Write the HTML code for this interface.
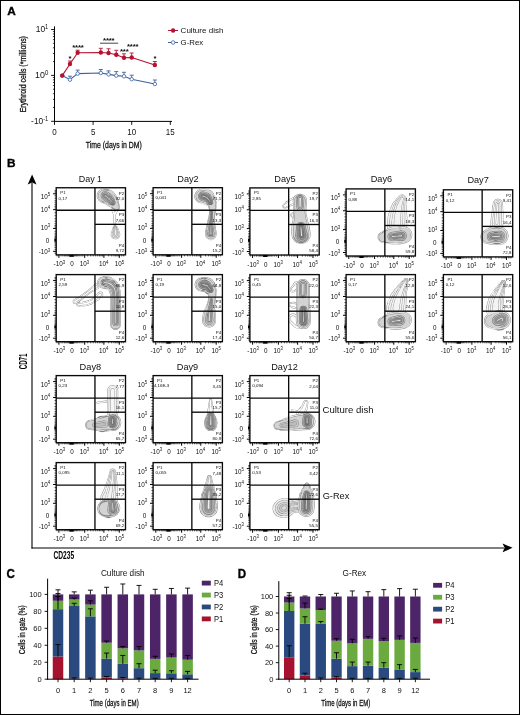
<!DOCTYPE html>
<html lang="en"><head><meta charset="utf-8"><title>Figure</title>
<style>
html,body{margin:0;padding:0;background:#fff}
#fig{position:relative;width:518px;height:713px;border:1px solid #000;overflow:hidden;background:#fff}
svg{position:absolute;left:-1px;top:-1px;font-family:'Liberation Sans', Arial, Helvetica, sans-serif;fill:#111}
</style></head><body>
<div id="fig">
<svg width="520" height="715" viewBox="0 0 520 715">
<text x="7.3" y="15.4" font-size="11.8" font-weight="bold" fill="#000" stroke="#000" stroke-width="0.35">A</text>
<text x="6.9" y="167.1" font-size="11.8" font-weight="bold" fill="#000" stroke="#000" stroke-width="0.35">B</text>
<text x="6.6" y="577.7" font-size="12.3" font-weight="bold" textLength="8.4" lengthAdjust="spacingAndGlyphs" fill="#000" stroke="#000" stroke-width="0.35">C</text>
<text x="237.7" y="577.9" font-size="12.3" font-weight="bold" textLength="8.4" lengthAdjust="spacingAndGlyphs" fill="#000" stroke="#000" stroke-width="0.35">D</text>
<line x1="54.5" y1="26.4" x2="54.5" y2="121.9" stroke="#000" stroke-width="1"/>
<line x1="54" y1="121.4" x2="172" y2="121.4" stroke="#000" stroke-width="1"/>
<line x1="51.1" y1="29.5" x2="54.5" y2="29.5" stroke="#000" stroke-width="0.9"/>
<line x1="51.1" y1="75.4" x2="54.5" y2="75.4" stroke="#000" stroke-width="0.9"/>
<line x1="51.1" y1="121.3" x2="54.5" y2="121.3" stroke="#000" stroke-width="0.9"/>
<line x1="52.9" y1="61.58" x2="54.5" y2="61.58" stroke="#000" stroke-width="0.75"/>
<line x1="52.9" y1="53.5" x2="54.5" y2="53.5" stroke="#000" stroke-width="0.75"/>
<line x1="52.9" y1="47.77" x2="54.5" y2="47.77" stroke="#000" stroke-width="0.75"/>
<line x1="52.9" y1="43.32" x2="54.5" y2="43.32" stroke="#000" stroke-width="0.75"/>
<line x1="52.9" y1="39.68" x2="54.5" y2="39.68" stroke="#000" stroke-width="0.75"/>
<line x1="52.9" y1="36.61" x2="54.5" y2="36.61" stroke="#000" stroke-width="0.75"/>
<line x1="52.9" y1="33.95" x2="54.5" y2="33.95" stroke="#000" stroke-width="0.75"/>
<line x1="52.9" y1="31.6" x2="54.5" y2="31.6" stroke="#000" stroke-width="0.75"/>
<line x1="52.9" y1="107.48" x2="54.5" y2="107.48" stroke="#000" stroke-width="0.75"/>
<line x1="52.9" y1="99.4" x2="54.5" y2="99.4" stroke="#000" stroke-width="0.75"/>
<line x1="52.9" y1="93.67" x2="54.5" y2="93.67" stroke="#000" stroke-width="0.75"/>
<line x1="52.9" y1="89.22" x2="54.5" y2="89.22" stroke="#000" stroke-width="0.75"/>
<line x1="52.9" y1="85.58" x2="54.5" y2="85.58" stroke="#000" stroke-width="0.75"/>
<line x1="52.9" y1="82.51" x2="54.5" y2="82.51" stroke="#000" stroke-width="0.75"/>
<line x1="52.9" y1="79.85" x2="54.5" y2="79.85" stroke="#000" stroke-width="0.75"/>
<line x1="52.9" y1="77.5" x2="54.5" y2="77.5" stroke="#000" stroke-width="0.75"/>
<text x="48.3" y="31.9" font-size="9.3" text-anchor="end" textLength="12.6" lengthAdjust="spacingAndGlyphs">10<tspan font-size="6.32" dy="-2.7">1</tspan></text>
<text x="48.3" y="77.9" font-size="9.3" text-anchor="end" textLength="13.2" lengthAdjust="spacingAndGlyphs">10<tspan font-size="6.32" dy="-2.7">0</tspan></text>
<text x="48.3" y="123.9" font-size="9.3" text-anchor="end" textLength="17.2" lengthAdjust="spacingAndGlyphs">-10<tspan font-size="6.32" dy="-2.7">-1</tspan></text>
<line x1="54.5" y1="121.4" x2="54.5" y2="124.9" stroke="#000" stroke-width="0.9"/>
<text x="54.5" y="135.1" font-size="9.3" text-anchor="middle" textLength="4.45" lengthAdjust="spacingAndGlyphs">0</text>
<line x1="93.1" y1="121.4" x2="93.1" y2="124.9" stroke="#000" stroke-width="0.9"/>
<text x="93.1" y="135.1" font-size="9.3" text-anchor="middle" textLength="4.45" lengthAdjust="spacingAndGlyphs">5</text>
<line x1="131.7" y1="121.4" x2="131.7" y2="124.9" stroke="#000" stroke-width="0.9"/>
<text x="131.7" y="135.1" font-size="9.3" text-anchor="middle" textLength="8.9" lengthAdjust="spacingAndGlyphs">10</text>
<line x1="170.3" y1="121.4" x2="170.3" y2="124.9" stroke="#000" stroke-width="0.9"/>
<text x="170.3" y="135.1" font-size="9.3" text-anchor="middle" textLength="8.9" lengthAdjust="spacingAndGlyphs">15</text>
<text x="26.3" y="74.2" font-size="9.1" text-anchor="middle" textLength="76.3" lengthAdjust="spacingAndGlyphs" transform="rotate(-90 26.3 74.2)" stroke="#111" stroke-width="0.28">Erythroid cells (*millions)</text>
<text x="113.8" y="147.9" font-size="9.1" text-anchor="middle" textLength="56" lengthAdjust="spacingAndGlyphs" stroke="#111" stroke-width="0.28">Time (days in DM)</text>
<polyline points="62.22,75.6 69.94,79.7 77.66,73.6 100.82,73 108.54,74.4 116.26,75.6 123.98,76.3 131.7,79.2 154.86,84" fill="none" stroke="#3b62a0" stroke-width="1.1"/>
<line x1="69.94" y1="79.7" x2="69.94" y2="76.2" stroke="#3b62a0" stroke-width="0.9"/>
<line x1="67.94" y1="76.2" x2="71.94" y2="76.2" stroke="#3b62a0" stroke-width="0.9"/>
<line x1="77.66" y1="73.6" x2="77.66" y2="70.1" stroke="#3b62a0" stroke-width="0.9"/>
<line x1="75.66" y1="70.1" x2="79.66" y2="70.1" stroke="#3b62a0" stroke-width="0.9"/>
<line x1="100.82" y1="73" x2="100.82" y2="69.5" stroke="#3b62a0" stroke-width="0.9"/>
<line x1="98.82" y1="69.5" x2="102.82" y2="69.5" stroke="#3b62a0" stroke-width="0.9"/>
<line x1="108.54" y1="74.4" x2="108.54" y2="70.9" stroke="#3b62a0" stroke-width="0.9"/>
<line x1="106.54" y1="70.9" x2="110.54" y2="70.9" stroke="#3b62a0" stroke-width="0.9"/>
<line x1="116.26" y1="75.6" x2="116.26" y2="71.6" stroke="#3b62a0" stroke-width="0.9"/>
<line x1="114.26" y1="71.6" x2="118.26" y2="71.6" stroke="#3b62a0" stroke-width="0.9"/>
<line x1="123.98" y1="76.3" x2="123.98" y2="72.3" stroke="#3b62a0" stroke-width="0.9"/>
<line x1="121.98" y1="72.3" x2="125.98" y2="72.3" stroke="#3b62a0" stroke-width="0.9"/>
<line x1="131.7" y1="79.2" x2="131.7" y2="75.2" stroke="#3b62a0" stroke-width="0.9"/>
<line x1="129.7" y1="75.2" x2="133.7" y2="75.2" stroke="#3b62a0" stroke-width="0.9"/>
<line x1="154.86" y1="84" x2="154.86" y2="80" stroke="#3b62a0" stroke-width="0.9"/>
<line x1="152.86" y1="80" x2="156.86" y2="80" stroke="#3b62a0" stroke-width="0.9"/>
<circle cx="62.22" cy="75.6" r="1.75" fill="#fff" stroke="#3b62a0" stroke-width="0.8"/>
<circle cx="69.94" cy="79.7" r="1.75" fill="#fff" stroke="#3b62a0" stroke-width="0.8"/>
<circle cx="77.66" cy="73.6" r="1.75" fill="#fff" stroke="#3b62a0" stroke-width="0.8"/>
<circle cx="100.82" cy="73" r="1.75" fill="#fff" stroke="#3b62a0" stroke-width="0.8"/>
<circle cx="108.54" cy="74.4" r="1.75" fill="#fff" stroke="#3b62a0" stroke-width="0.8"/>
<circle cx="116.26" cy="75.6" r="1.75" fill="#fff" stroke="#3b62a0" stroke-width="0.8"/>
<circle cx="123.98" cy="76.3" r="1.75" fill="#fff" stroke="#3b62a0" stroke-width="0.8"/>
<circle cx="131.7" cy="79.2" r="1.75" fill="#fff" stroke="#3b62a0" stroke-width="0.8"/>
<circle cx="154.86" cy="84" r="1.75" fill="#fff" stroke="#3b62a0" stroke-width="0.8"/>
<polyline points="62.22,75.6 69.94,64 77.66,52.7 100.82,52.5 108.54,53 116.26,54.8 123.98,57.8 131.7,57.5 154.86,65" fill="none" stroke="#b5122f" stroke-width="1.1"/>
<line x1="69.94" y1="64" x2="69.94" y2="61" stroke="#b5122f" stroke-width="0.9"/>
<line x1="67.94" y1="61" x2="71.94" y2="61" stroke="#b5122f" stroke-width="0.9"/>
<line x1="77.66" y1="52.7" x2="77.66" y2="50.2" stroke="#b5122f" stroke-width="0.9"/>
<line x1="75.66" y1="50.2" x2="79.66" y2="50.2" stroke="#b5122f" stroke-width="0.9"/>
<line x1="100.82" y1="52.5" x2="100.82" y2="48.3" stroke="#b5122f" stroke-width="0.9"/>
<line x1="98.82" y1="48.3" x2="102.82" y2="48.3" stroke="#b5122f" stroke-width="0.9"/>
<line x1="108.54" y1="53" x2="108.54" y2="48.8" stroke="#b5122f" stroke-width="0.9"/>
<line x1="106.54" y1="48.8" x2="110.54" y2="48.8" stroke="#b5122f" stroke-width="0.9"/>
<line x1="116.26" y1="54.8" x2="116.26" y2="50.3" stroke="#b5122f" stroke-width="0.9"/>
<line x1="114.26" y1="50.3" x2="118.26" y2="50.3" stroke="#b5122f" stroke-width="0.9"/>
<line x1="123.98" y1="57.8" x2="123.98" y2="53.8" stroke="#b5122f" stroke-width="0.9"/>
<line x1="121.98" y1="53.8" x2="125.98" y2="53.8" stroke="#b5122f" stroke-width="0.9"/>
<line x1="131.7" y1="57.5" x2="131.7" y2="53" stroke="#b5122f" stroke-width="0.9"/>
<line x1="129.7" y1="53" x2="133.7" y2="53" stroke="#b5122f" stroke-width="0.9"/>
<line x1="154.86" y1="65" x2="154.86" y2="61.5" stroke="#b5122f" stroke-width="0.9"/>
<line x1="152.86" y1="61.5" x2="156.86" y2="61.5" stroke="#b5122f" stroke-width="0.9"/>
<circle cx="62.22" cy="75.6" r="2.2" fill="#b5122f"/>
<circle cx="69.94" cy="64" r="2.2" fill="#b5122f"/>
<circle cx="77.66" cy="52.7" r="2.2" fill="#b5122f"/>
<circle cx="100.82" cy="52.5" r="2.2" fill="#b5122f"/>
<circle cx="108.54" cy="53" r="2.2" fill="#b5122f"/>
<circle cx="116.26" cy="54.8" r="2.2" fill="#b5122f"/>
<circle cx="123.98" cy="57.8" r="2.2" fill="#b5122f"/>
<circle cx="131.7" cy="57.5" r="2.2" fill="#b5122f"/>
<circle cx="154.86" cy="65" r="2.2" fill="#b5122f"/>
<text x="69.94" y="60.7" font-size="7.8" text-anchor="middle" font-weight="bold" fill="#0d0d0d" letter-spacing="-0.2">*</text>
<text x="77.96" y="49.5" font-size="7.8" text-anchor="middle" font-weight="bold" fill="#0d0d0d" letter-spacing="-0.2">****</text>
<text x="108.74" y="42.6" font-size="7.8" text-anchor="middle" font-weight="bold" fill="#0d0d0d" letter-spacing="-0.2">****</text>
<line x1="100" y1="43.2" x2="118.2" y2="43.2" stroke="#333" stroke-width="0.9"/>
<text x="124.28" y="53.8" font-size="7.8" text-anchor="middle" font-weight="bold" fill="#0d0d0d" letter-spacing="-0.2">***</text>
<text x="132.7" y="49" font-size="7.8" text-anchor="middle" font-weight="bold" fill="#0d0d0d" letter-spacing="-0.2">****</text>
<text x="154.86" y="60.8" font-size="7.8" text-anchor="middle" font-weight="bold" fill="#0d0d0d" letter-spacing="-0.2">*</text>
<line x1="168" y1="30.5" x2="178" y2="30.5" stroke="#b5122f" stroke-width="1"/>
<circle cx="173.1" cy="30.5" r="2.2" fill="#b5122f"/>
<line x1="168" y1="42.5" x2="178" y2="42.5" stroke="#3b62a0" stroke-width="1"/>
<circle cx="173.1" cy="42.5" r="1.8" fill="#fff" stroke="#3b62a0" stroke-width="0.8"/>
<text x="180.6" y="33.3" font-size="8.1" textLength="42.8" lengthAdjust="spacingAndGlyphs">Culture dish</text>
<text x="180.6" y="45.1" font-size="8.1" textLength="22.6" lengthAdjust="spacingAndGlyphs">G-Rex</text>
<line x1="32" y1="183" x2="32" y2="548.5" stroke="#000" stroke-width="1.1"/>
<path d="M32.1 174.6 L36.5 184.6 L32.1 182.6 L27.7 184.6 Z" fill="#000"/>
<line x1="31.5" y1="548" x2="504" y2="548" stroke="#000" stroke-width="1.1"/>
<path d="M512.6 547.8 L502.6 552.2 L504.6 547.8 L502.6 543.4 Z" fill="#000"/>
<text x="26.8" y="361.4" font-size="10.2" text-anchor="middle" font-weight="bold" textLength="15.7" lengthAdjust="spacingAndGlyphs" transform="rotate(-90 26.8 361.4)" fill="#000">CD71</text>
<text x="53.4" y="559" font-size="10" font-weight="bold" textLength="20.8" lengthAdjust="spacingAndGlyphs" fill="#000">CD235</text>
<text x="322.5" y="412.5" font-size="9.9" textLength="51" lengthAdjust="spacingAndGlyphs">Culture dish</text>
<text x="322.7" y="499.2" font-size="9.9" textLength="26.6" lengthAdjust="spacingAndGlyphs">G-Rex</text>
<g transform="translate(56.2 187.75)">
<path d="M54.8 22a1.2 1.2 0 1 1 2.4 0a1.2 1.2 0 1 1 -2.4 0zM55.9 24a1.3 1.3 0 1 1 2.5 0a1.3 1.3 0 1 1 -2.5 0zM57 27a1.3 1.3 0 1 1 2.6 0a1.3 1.3 0 1 1 -2.6 0zM57.2 31.3a1.3 1.3 0 1 1 2.6 0a1.3 1.3 0 1 1 -2.6 0zM57.1 35a1.3 1.3 0 1 1 2.6 0a1.3 1.3 0 1 1 -2.6 0zM57 21.4L58.2 23.4L56.1 24.6L55 22.6zM58.3 23.6L59.5 26.5L57.1 27.5L56 24.4zM59.6 26.9L59.8 31.3L57.2 31.4L57 27.1zM59.8 31.3L59.7 35L57.1 35L57.2 31.3zM60 22a1 1 0 1 1 2 0a1 1 0 1 1 -2 0zM58.5 24.5a1.1 1.1 0 1 1 2.3 0a1.1 1.1 0 1 1 -2.3 0zM57 27a1.3 1.3 0 1 1 2.6 0a1.3 1.3 0 1 1 -2.6 0zM61.9 22.5L60.7 25L58.6 24L60.1 21.5zM60.7 25L59.4 27.6L57.2 26.4L58.6 24z" fill="#8c8c8c"/>
<path d="M55.2 22a0.8 0.8 0 1 1 1.6 0a0.8 0.8 0 1 1 -1.6 0zM56.3 24a0.9 0.9 0 1 1 1.7 0a0.9 0.9 0 1 1 -1.7 0zM57.4 27a0.9 0.9 0 1 1 1.8 0a0.9 0.9 0 1 1 -1.8 0zM57.6 31.3a0.9 0.9 0 1 1 1.9 0a0.9 0.9 0 1 1 -1.9 0zM57.5 35a0.9 0.9 0 1 1 1.8 0a0.9 0.9 0 1 1 -1.8 0zM56.7 21.6L57.9 23.6L56.4 24.4L55.3 22.4zM58 23.7L59.2 26.7L57.4 27.3L56.3 24.3zM59.2 27L59.4 31.3L57.6 31.4L57.4 27zM59.4 31.3L59.3 35L57.5 35L57.6 31.3zM60.4 22a0.6 0.6 0 1 1 1.2 0a0.6 0.6 0 1 1 -1.2 0zM58.9 24.5a0.8 0.8 0 1 1 1.5 0a0.8 0.8 0 1 1 -1.5 0zM57.4 27a0.9 0.9 0 1 1 1.8 0a0.9 0.9 0 1 1 -1.8 0zM61.5 22.3L60.3 24.9L59 24.1L60.5 21.7zM60.3 24.9L59.1 27.4L57.5 26.6L59 24.1z" fill="#fff"/>
<path d="M40.5 8a7 7 0 1 1 14 0a7 7 0 1 1 -14 0zM42.1 8.5a7.4 7.4 0 1 1 14.8 0a7.4 7.4 0 1 1 -14.8 0zM44.4 9.5a7.6 7.6 0 1 1 15.2 0a7.6 7.6 0 1 1 -15.2 0zM47.3 11.5a7 7 0 1 1 14 0a7 7 0 1 1 -14 0zM50.5 14a6 6 0 1 1 12 0a6 6 0 1 1 -12 0zM54 17a4.6 4.6 0 1 1 9.2 0a4.6 4.6 0 1 1 -9.2 0zM56.8 19.5a3.4 3.4 0 1 1 6.8 0a3.4 3.4 0 1 1 -6.8 0zM49.1 1.2L51.2 1.3L47.8 15.7L45.9 14.8zM52.3 1.6L54.9 2.5L49.1 16.5L46.7 15.3zM57 3.8L58.9 6.2L49.7 16.8L47 15.2zM59.6 6.9L61 10L52 18L49 16.1zM61.4 10.5L62.4 14.4L54.9 19.7L51.6 17.5zM62.5 14.6L63.1 17.7L57.3 21.3L54.7 19.5z" fill="#808080"/>
<path d="M40.9 8a6.6 6.6 0 1 1 13.3 0a6.6 6.6 0 1 1 -13.3 0zM42.4 8.5a7 7 0 1 1 14.1 0a7 7 0 1 1 -14.1 0zM44.8 9.5a7.2 7.2 0 1 1 14.5 0a7.2 7.2 0 1 1 -14.5 0zM47.7 11.5a6.6 6.6 0 1 1 13.3 0a6.6 6.6 0 1 1 -13.3 0zM50.9 14a5.6 5.6 0 1 1 11.3 0a5.6 5.6 0 1 1 -11.3 0zM54.4 17a4.2 4.2 0 1 1 8.5 0a4.2 4.2 0 1 1 -8.5 0zM57.2 19.5a3 3 0 1 1 6.1 0a3 3 0 1 1 -6.1 0zM49 1.5L51.1 1.6L47.8 15.3L46 14.5zM52.1 1.9L54.7 2.8L49.3 16.2L46.8 15zM56.8 4L58.7 6.5L49.9 16.5L47.2 15zM59.3 7.1L60.7 10.3L52.3 17.7L49.3 15.9zM61.1 10.8L62.1 14.6L55.2 19.5L51.9 17.2zM62.2 14.8L62.8 17.9L57.6 21.1L55.1 19.3z" fill="#e6e6e6"/>
<path d="M41.8 8a5.7 5.7 0 1 1 11.5 0a5.7 5.7 0 1 1 -11.5 0zM43.4 8.5a6.1 6.1 0 1 1 12.1 0a6.1 6.1 0 1 1 -12.1 0zM45.8 9.5a6.2 6.2 0 1 1 12.5 0a6.2 6.2 0 1 1 -12.5 0zM48.6 11.5a5.7 5.7 0 1 1 11.5 0a5.7 5.7 0 1 1 -11.5 0zM51.6 14a4.9 4.9 0 1 1 9.8 0a4.9 4.9 0 1 1 -9.8 0zM54.9 17a3.8 3.8 0 1 1 7.5 0a3.8 3.8 0 1 1 -7.5 0zM57.4 19.5a2.8 2.8 0 1 1 5.6 0a2.8 2.8 0 1 1 -5.6 0zM48.8 2.4L50.9 2.6L48.1 14.4L46.2 13.6zM51.8 2.8L54.4 3.7L49.6 15.3L47.2 14.1zM56.1 4.8L58.1 7.2L50.5 15.8L47.9 14.2zM58.6 7.7L60.2 10.7L52.8 17.3L50 15.3zM60.5 11.2L61.7 14.9L55.5 19.2L52.5 16.8zM61.8 15L62.6 18L57.8 21L55.4 19.1z" fill="#808080"/>
<path d="M42.1 8a5.4 5.4 0 1 1 10.8 0a5.4 5.4 0 1 1 -10.8 0zM43.8 8.5a5.7 5.7 0 1 1 11.4 0a5.7 5.7 0 1 1 -11.4 0zM46.1 9.5a5.9 5.9 0 1 1 11.7 0a5.9 5.9 0 1 1 -11.7 0zM48.9 11.5a5.4 5.4 0 1 1 10.8 0a5.4 5.4 0 1 1 -10.8 0zM51.9 14a4.6 4.6 0 1 1 9.1 0a4.6 4.6 0 1 1 -9.1 0zM55.2 17a3.4 3.4 0 1 1 6.8 0a3.4 3.4 0 1 1 -6.8 0zM57.8 19.5a2.4 2.4 0 1 1 4.9 0a2.4 2.4 0 1 1 -4.9 0zM48.7 2.8L50.8 2.9L48.1 14L46.3 13.2zM51.6 3.2L54.2 4.1L49.8 14.9L47.3 13.8zM55.9 5.1L57.8 7.4L50.8 15.6L48.1 13.9zM58.3 7.9L59.9 11L53.1 17L50.3 15.1zM60.2 11.4L61.4 15.1L55.8 19L52.8 16.6zM61.5 15.2L62.2 18.2L58.2 20.8L55.8 18.9z" fill="#d3d3d3"/>
<path d="M44.5 8a4.5 4.5 0 1 1 9 0a4.5 4.5 0 1 1 -9 0zM46.2 9.2a4.6 4.6 0 1 1 9.2 0a4.6 4.6 0 1 1 -9.2 0zM48.5 11a4.5 4.5 0 1 1 9 0a4.5 4.5 0 1 1 -9 0zM51.4 13.2a3.6 3.6 0 1 1 7.3 0a3.6 3.6 0 1 1 -7.3 0zM53.7 15a2.8 2.8 0 1 1 5.6 0a2.8 2.8 0 1 1 -5.6 0zM51.6 4.3L53.4 5.5L48.1 13L46.4 11.7zM53.6 5.6L55.8 7.5L50.2 14.5L47.9 12.9zM56.3 8L57.7 10.7L52.3 15.7L49.7 14zM57.8 10.9L58.7 13.2L54.3 16.8L52.2 15.5z" fill="#6a6a6a"/>
<path d="M44.9 8a4.1 4.1 0 1 1 8.3 0a4.1 4.1 0 1 1 -8.3 0zM46.5 9.2a4.2 4.2 0 1 1 8.5 0a4.2 4.2 0 1 1 -8.5 0zM48.9 11a4.1 4.1 0 1 1 8.3 0a4.1 4.1 0 1 1 -8.3 0zM51.7 13.2a3.3 3.3 0 1 1 6.6 0a3.3 3.3 0 1 1 -6.6 0zM54.1 15a2.4 2.4 0 1 1 4.9 0a2.4 2.4 0 1 1 -4.9 0zM51.4 4.6L53.2 5.8L48.3 12.7L46.6 11.4zM53.4 5.9L55.6 7.7L50.4 14.3L48.2 12.6zM56.1 8.2L57.4 11L52.6 15.4L49.9 13.8zM57.5 11.1L58.4 13.4L54.6 16.6L52.5 15.3z" fill="#bcbcbc"/>
<path d="M45.9 8a3.1 3.1 0 1 1 6.3 0a3.1 3.1 0 1 1 -6.3 0zM47.6 9.2a3.2 3.2 0 1 1 6.4 0a3.2 3.2 0 1 1 -6.4 0zM49.9 11a3.1 3.1 0 1 1 6.3 0a3.1 3.1 0 1 1 -6.3 0zM52.4 13.2a2.6 2.6 0 1 1 5.1 0a2.6 2.6 0 1 1 -5.1 0zM54.5 15a2 2 0 1 1 3.9 0a2 2 0 1 1 -3.9 0zM50.8 5.4L52.6 6.6L48.9 11.9L47.2 10.6zM52.8 6.7L55 8.5L51 13.5L48.8 11.8zM55.3 8.9L56.9 11.5L53.1 14.9L50.7 13.1zM57 11.6L58 13.8L55 16.2L53 14.8z" fill="#6a6a6a"/>
<path d="M46.2 8a2.8 2.8 0 1 1 5.6 0a2.8 2.8 0 1 1 -5.6 0zM47.9 9.2a2.9 2.9 0 1 1 5.7 0a2.9 2.9 0 1 1 -5.7 0zM50.2 11a2.8 2.8 0 1 1 5.6 0a2.8 2.8 0 1 1 -5.6 0zM52.8 13.2a2.2 2.2 0 1 1 4.4 0a2.2 2.2 0 1 1 -4.4 0zM54.9 15a1.6 1.6 0 1 1 3.2 0a1.6 1.6 0 1 1 -3.2 0zM50.6 5.7L52.4 6.9L49.1 11.6L47.4 10.3zM52.6 7L54.7 8.8L51.3 13.2L49 11.5zM55.1 9.1L56.6 11.7L53.4 14.7L50.9 12.9zM56.7 11.8L57.7 14L55.3 16L53.3 14.6z" fill="#a6a6a6"/>
<path d="M47.1 8a1.9 1.9 0 1 1 3.8 0a1.9 1.9 0 1 1 -3.8 0zM48.8 9.2a1.9 1.9 0 1 1 3.9 0a1.9 1.9 0 1 1 -3.9 0zM51.1 11a1.9 1.9 0 1 1 3.8 0a1.9 1.9 0 1 1 -3.8 0zM53.5 13.2a1.5 1.5 0 1 1 3.1 0a1.5 1.5 0 1 1 -3.1 0zM55.3 15a1.2 1.2 0 1 1 2.4 0a1.2 1.2 0 1 1 -2.4 0zM50.1 6.5L51.9 7.7L49.7 10.8L47.9 9.5zM52 7.7L54.2 9.5L51.8 12.5L49.6 10.8zM54.4 9.7L56.1 12.2L53.9 14.2L51.6 12.3zM56.2 12.2L57.4 14.3L55.6 15.7L53.8 14.2z" fill="#6a6a6a"/>
<path d="M47.5 8a1.5 1.5 0 1 1 3.1 0a1.5 1.5 0 1 1 -3.1 0zM49.2 9.2a1.6 1.6 0 1 1 3.1 0a1.6 1.6 0 1 1 -3.1 0zM51.5 11a1.5 1.5 0 1 1 3.1 0a1.5 1.5 0 1 1 -3.1 0zM53.8 13.2a1.2 1.2 0 1 1 2.3 0a1.2 1.2 0 1 1 -2.3 0zM55.7 15a0.8 0.8 0 1 1 1.6 0a0.8 0.8 0 1 1 -1.6 0zM49.9 6.7L51.7 8L49.9 10.5L48.1 9.3zM51.8 8L53.9 9.8L52.1 12.2L49.8 10.5zM54.1 10L55.9 12.4L54.1 14L51.9 12zM55.9 12.4L57.1 14.5L55.9 15.5L54.1 13.9z" fill="#949494"/>
<path d="M48.3 8a0.7 0.7 0 1 1 1.4 0a0.7 0.7 0 1 1 -1.4 0zM50 9.2a0.7 0.7 0 1 1 1.5 0a0.7 0.7 0 1 1 -1.5 0zM52.3 11a0.7 0.7 0 1 1 1.4 0a0.7 0.7 0 1 1 -1.4 0zM54.4 13.2a0.6 0.6 0 1 1 1.2 0a0.6 0.6 0 1 1 -1.2 0zM56.1 15a0.4 0.4 0 1 1 0.9 0a0.4 0.4 0 1 1 -0.9 0zM49.4 7.4L51.2 8.6L50.4 9.9L48.6 8.6zM51.2 8.7L53.4 10.4L52.6 11.6L50.3 9.8zM53.5 10.5L55.4 12.8L54.6 13.6L52.5 11.5zM55.4 12.8L56.8 14.7L56.2 15.3L54.6 13.6z" fill="#6a6a6a"/>
<path d="M48.6 8a0.4 0.4 0 1 1 0.7 0a0.4 0.4 0 1 1 -0.7 0zM50.4 9.2a0.4 0.4 0 1 1 0.8 0a0.4 0.4 0 1 1 -0.8 0zM52.6 11a0.4 0.4 0 1 1 0.7 0a0.4 0.4 0 1 1 -0.7 0zM54.8 13.2a0.2 0.2 0 1 1 0.4 0a0.2 0.2 0 1 1 -0.4 0zM56.4 15a0.1 0.1 0 1 1 0.2 0a0.1 0.1 0 1 1 -0.2 0zM49.2 7.7L51 8.9L50.6 9.6L48.8 8.3zM51 9L53.2 10.7L52.8 11.3L50.5 9.5zM53.3 10.8L55.2 13L54.8 13.3L52.7 11.2zM55.2 13L56.6 14.9L56.4 15.1L54.8 13.3z" fill="#e2e2e2"/>
<path d="M57.3 38.5a1.5 1.5 0 1 1 3 0a1.5 1.5 0 1 1 -3 0zM56.5 40.5a2.5 2.5 0 1 1 5 0a2.5 2.5 0 1 1 -5 0zM55.6 43a3.6 3.6 0 1 1 7.2 0a3.6 3.6 0 1 1 -7.2 0zM54.9 45.2a4.3 4.3 0 1 1 8.7 0a4.3 4.3 0 1 1 -8.7 0zM54.5 46.8a4.8 4.8 0 1 1 9.6 0a4.8 4.8 0 1 1 -9.6 0zM60.3 38.4L61.5 40.3L56.5 40.7L57.3 38.6zM61.5 40.3L62.8 42.7L55.6 43.3L56.5 40.7zM62.8 42.9L63.6 45L54.9 45.3L55.6 43.1zM63.6 45.1L64.1 46.7L54.5 46.9L54.9 45.2z" fill="#8c8c8c"/>
<path d="M57.7 38.5a1.1 1.1 0 1 1 2.2 0a1.1 1.1 0 1 1 -2.2 0zM56.9 40.5a2.1 2.1 0 1 1 4.2 0a2.1 2.1 0 1 1 -4.2 0zM56 43a3.2 3.2 0 1 1 6.4 0a3.2 3.2 0 1 1 -6.4 0zM55.3 45.2a4 4 0 1 1 7.9 0a4 4 0 1 1 -7.9 0zM54.9 46.8a4.4 4.4 0 1 1 8.8 0a4.4 4.4 0 1 1 -8.8 0zM59.9 38.4L61.1 40.3L56.9 40.7L57.7 38.6zM61.1 40.3L62.4 42.7L56 43.3L56.9 40.7zM62.4 42.9L63.2 45L55.3 45.3L56 43.1zM63.2 45.1L63.7 46.7L54.9 46.9L55.3 45.2z" fill="#f1f1f1"/>
<path d="M57.7 38.5a1.1 1.1 0 1 1 2.2 0a1.1 1.1 0 1 1 -2.2 0zM57.1 40.5a1.9 1.9 0 1 1 3.7 0a1.9 1.9 0 1 1 -3.7 0zM56.5 43a2.7 2.7 0 1 1 5.4 0a2.7 2.7 0 1 1 -5.4 0zM56 45.2a3.2 3.2 0 1 1 6.5 0a3.2 3.2 0 1 1 -6.5 0zM55.7 46.8a3.6 3.6 0 1 1 7.2 0a3.6 3.6 0 1 1 -7.2 0zM59.9 38.4L60.8 40.3L57.1 40.7L57.7 38.6zM60.8 40.4L61.9 42.8L56.5 43.2L57.1 40.7zM61.9 42.9L62.5 45.1L56 45.3L56.5 43.1zM62.5 45.1L62.9 46.7L55.7 46.9L56 45.2z" fill="#8c8c8c"/>
<path d="M58.1 38.5a0.7 0.7 0 1 1 1.5 0a0.7 0.7 0 1 1 -1.5 0zM57.5 40.5a1.5 1.5 0 1 1 3 0a1.5 1.5 0 1 1 -3 0zM56.9 43a2.3 2.3 0 1 1 4.6 0a2.3 2.3 0 1 1 -4.6 0zM56.4 45.2a2.9 2.9 0 1 1 5.7 0a2.9 2.9 0 1 1 -5.7 0zM56.1 46.8a3.2 3.2 0 1 1 6.4 0a3.2 3.2 0 1 1 -6.4 0zM59.5 38.4L60.5 40.4L57.5 40.7L58.1 38.6zM60.5 40.4L61.5 42.8L56.9 43.2L57.5 40.6zM61.5 42.9L62.1 45.1L56.4 45.3L56.9 43.1zM62.1 45.1L62.5 46.8L56.1 46.8L56.4 45.2z" fill="#f1f1f1"/>
<path d="M58 38.5a0.8 0.8 0 1 1 1.5 0a0.8 0.8 0 1 1 -1.5 0zM57.8 40.5a1.2 1.2 0 1 1 2.5 0a1.2 1.2 0 1 1 -2.5 0zM57.4 43a1.8 1.8 0 1 1 3.6 0a1.8 1.8 0 1 1 -3.6 0zM57.1 45.2a2.2 2.2 0 1 1 4.3 0a2.2 2.2 0 1 1 -4.3 0zM56.9 46.8a2.4 2.4 0 1 1 4.8 0a2.4 2.4 0 1 1 -4.8 0zM59.5 38.4L60.2 40.4L57.8 40.6L58.1 38.6zM60.2 40.4L61 42.9L57.4 43.1L57.8 40.6zM61 42.9L61.4 45.1L57.1 45.3L57.4 43.1zM61.4 45.1L61.7 46.8L56.9 46.8L57.1 45.2z" fill="#8c8c8c"/>
<path d="M58.4 38.5a0.4 0.4 0 1 1 0.7 0a0.4 0.4 0 1 1 -0.7 0zM58.1 40.5a0.9 0.9 0 1 1 1.7 0a0.9 0.9 0 1 1 -1.7 0zM57.8 43a1.4 1.4 0 1 1 2.8 0a1.4 1.4 0 1 1 -2.8 0zM57.5 45.2a1.8 1.8 0 1 1 3.6 0a1.8 1.8 0 1 1 -3.6 0zM57.3 46.8a2 2 0 1 1 4 0a2 2 0 1 1 -4 0zM59.2 38.5L59.8 40.4L58.1 40.6L58.4 38.5zM59.8 40.4L60.6 42.9L57.8 43.1L58.1 40.6zM60.6 43L61.1 45.1L57.5 45.2L57.8 43zM61.1 45.2L61.3 46.8L57.3 46.8L57.5 45.2z" fill="#f1f1f1"/>
<path d="M58.4 38.5a0.4 0.4 0 1 1 0.8 0a0.4 0.4 0 1 1 -0.8 0zM58.4 40.5a0.6 0.6 0 1 1 1.2 0a0.6 0.6 0 1 1 -1.2 0zM58.3 43a0.9 0.9 0 1 1 1.8 0a0.9 0.9 0 1 1 -1.8 0zM58.2 45.2a1.1 1.1 0 1 1 2.2 0a1.1 1.1 0 1 1 -2.2 0zM58.1 46.8a1.2 1.2 0 1 1 2.4 0a1.2 1.2 0 1 1 -2.4 0zM59.2 38.5L59.6 40.5L58.4 40.6L58.4 38.5zM59.6 40.5L60.1 42.9L58.3 43.1L58.4 40.6zM60.1 43L60.4 45.1L58.2 45.2L58.3 43zM60.4 45.2L60.5 46.8L58.1 46.8L58.2 45.2z" fill="#8c8c8c"/>
<path d="M58.8 40.5a0.2 0.2 0 1 1 0.5 0a0.2 0.2 0 1 1 -0.5 0zM58.7 43a0.5 0.5 0 1 1 1 0a0.5 0.5 0 1 1 -1 0zM58.6 45.2a0.7 0.7 0 1 1 1.4 0a0.7 0.7 0 1 1 -1.4 0zM58.5 46.8a0.8 0.8 0 1 1 1.6 0a0.8 0.8 0 1 1 -1.6 0zM58.8 38.5L59.2 40.5L58.8 40.5L58.8 38.5zM59.2 40.5L59.7 43L58.7 43L58.8 40.5zM59.7 43L60 45.2L58.6 45.2L58.7 43zM60 45.2L60.1 46.8L58.5 46.8L58.6 45.2z" fill="#f1f1f1"/>
<rect x="0" y="0" width="69.3" height="67.1" fill="none" stroke="#0a0a0a" stroke-width="1.35"/>
<line x1="0" y1="22.5" x2="69.3" y2="22.5" stroke="#0a0a0a" stroke-width="1.35"/>
<line x1="38.75" y1="0" x2="38.75" y2="67.1" stroke="#0a0a0a" stroke-width="1.35"/>
<line x1="38.75" y1="36.6" x2="69.3" y2="36.6" stroke="#0a0a0a" stroke-width="1.35"/>
<path d="M-3.1 6H0M-3.1 21.9H0M-3.1 40.7H0M-3.1 63.6H0M2.7 67.1V70.1M28.5 67.1V70.1M47.7 67.1V70.1M63.1 67.1V70.1" stroke="#000" stroke-width="1" fill="none"/>
<path d="M-1.7 3H0M-1.7 4.3H0M-1.7 8H0M-1.7 10.5H0M-1.7 13H0M-1.7 15H0M-1.7 17H0M-1.7 18.6H0M-1.7 20.2H0M-1.7 25H0M-1.7 28H0M-1.7 31H0M-1.7 33.5H0M-1.7 36H0M-1.7 37.8H0M-1.7 39.3H0M-1.7 43.5H0M-1.7 45.5H0M-1.7 47.2H0M-1.7 48.6H0M-1.7 49.8H0M-1.7 55H0M-1.7 56.4H0M-1.7 58H0M-1.7 59.8H0M-1.7 61.6H0M-1.7 65.5H0M0.8 67.1V68.7M4.8 67.1V68.7M6.6 67.1V68.7M8.2 67.1V68.7M9.6 67.1V68.7M10.8 67.1V68.7M11.9 67.1V68.7M12.9 67.1V68.7M18 67.1V68.7M19 67.1V68.7M20.2 67.1V68.7M21.5 67.1V68.7M23 67.1V68.7M24.8 67.1V68.7M26.6 67.1V68.7M31.5 67.1V68.7M34.5 67.1V68.7M37 67.1V68.7M39.5 67.1V68.7M41.5 67.1V68.7M43.3 67.1V68.7M44.8 67.1V68.7M46.3 67.1V68.7M52.5 67.1V68.7M55.5 67.1V68.7M57.8 67.1V68.7M59.5 67.1V68.7M60.8 67.1V68.7M62 67.1V68.7M65.5 67.1V68.7M67.5 67.1V68.7" stroke="#000" stroke-width="0.65" fill="none"/>
<rect x="-1.9" y="50.7" width="1.9" height="3.3" fill="#000"/>
<rect x="13.2" y="67.1" width="4.4" height="2" fill="#000"/>
<text x="-6" y="11.3" font-size="6.8" text-anchor="end" textLength="9.4" lengthAdjust="spacingAndGlyphs">10<tspan font-size="4.62" dy="-2.86">5</tspan></text>
<text x="-6" y="24.2" font-size="6.8" text-anchor="end" textLength="9.4" lengthAdjust="spacingAndGlyphs">10<tspan font-size="4.62" dy="-2.86">4</tspan></text>
<text x="-6" y="42.6" font-size="6.8" text-anchor="end" textLength="9.4" lengthAdjust="spacingAndGlyphs">10<tspan font-size="4.62" dy="-2.86">3</tspan></text>
<text x="-8.6" y="55.3" font-size="6.8" text-anchor="middle" textLength="3.5" lengthAdjust="spacingAndGlyphs">0</text>
<text x="-6" y="66.7" font-size="6.8" text-anchor="end" textLength="11.5" lengthAdjust="spacingAndGlyphs">-10<tspan font-size="4.62" dy="-2.86">3</tspan></text>
<text x="9" y="78.7" font-size="6.8" text-anchor="end" textLength="11.6" lengthAdjust="spacingAndGlyphs">-10<tspan font-size="4.62" dy="-2.86">3</tspan></text>
<text x="15.9" y="78.7" font-size="6.8" text-anchor="middle" textLength="3.5" lengthAdjust="spacingAndGlyphs">0</text>
<text x="32.9" y="78.7" font-size="6.8" text-anchor="end" textLength="9.4" lengthAdjust="spacingAndGlyphs">10<tspan font-size="4.62" dy="-2.86">3</tspan></text>
<text x="52.1" y="78.7" font-size="6.8" text-anchor="end" textLength="9.4" lengthAdjust="spacingAndGlyphs">10<tspan font-size="4.62" dy="-2.86">4</tspan></text>
<text x="67.9" y="78.7" font-size="6.8" text-anchor="end" textLength="9.4" lengthAdjust="spacingAndGlyphs">10<tspan font-size="4.62" dy="-2.86">5</tspan></text>
<text x="4" y="6.5" font-size="4.4" fill="#0d0d0d">P1</text>
<text x="2.4" y="11.8" font-size="4.4" fill="#0d0d0d">0,17</text>
<text x="68" y="6.9" font-size="4.4" text-anchor="end" fill="#0d0d0d">P2</text>
<text x="68" y="12.2" font-size="4.4" text-anchor="end" fill="#0d0d0d">82,0</text>
<text x="68" y="28.6" font-size="4.4" text-anchor="end" fill="#0d0d0d">P3</text>
<text x="68" y="33.9" font-size="4.4" text-anchor="end" fill="#0d0d0d">7,66</text>
<text x="68" y="59.2" font-size="4.4" text-anchor="end" fill="#0d0d0d">P4</text>
<text x="68" y="64.5" font-size="4.4" text-anchor="end" fill="#0d0d0d">9,72</text>
</g>
<g transform="translate(153.1 187.7)">
<path d="M41.2 8.5a7.3 7.3 0 1 1 14.6 0a7.3 7.3 0 1 1 -14.6 0zM43.4 8.7a7.6 7.6 0 1 1 15.2 0a7.6 7.6 0 1 1 -15.2 0zM46.4 9.5a7.6 7.6 0 1 1 15.2 0a7.6 7.6 0 1 1 -15.2 0zM50.1 11.9a6.4 6.4 0 1 1 12.8 0a6.4 6.4 0 1 1 -12.8 0zM53.5 15a5 5 0 1 1 10 0a5 5 0 1 1 -10 0zM55.2 18.3a4.1 4.1 0 1 1 8.2 0a4.1 4.1 0 1 1 -8.2 0zM56 22a3.5 3.5 0 1 1 7 0a3.5 3.5 0 1 1 -7 0zM55.9 25.9a3.2 3.2 0 1 1 6.3 0a3.2 3.2 0 1 1 -6.3 0zM55.3 30a3.2 3.2 0 1 1 6.4 0a3.2 3.2 0 1 1 -6.4 0zM54.3 34.1a3.8 3.8 0 1 1 7.5 0a3.8 3.8 0 1 1 -7.5 0zM53.3 38a4.5 4.5 0 1 1 9 0a4.5 4.5 0 1 1 -9 0zM52.5 41.9a5.2 5.2 0 1 1 10.5 0a5.2 5.2 0 1 1 -10.5 0zM51.9 45a5.8 5.8 0 1 1 11.6 0a5.8 5.8 0 1 1 -11.6 0zM52 46.4a5.7 5.7 0 1 1 11.5 0a5.7 5.7 0 1 1 -11.5 0zM52.2 47a5.5 5.5 0 1 1 11 0a5.5 5.5 0 1 1 -11 0zM49 1.2L51.4 1.1L50.5 16.3L48 15.8zM53 1.3L56 2.2L52 16.8L48.9 16zM59.2 4L60.9 7.2L52.1 16.6L48.8 15zM62 8.5L62.7 12.3L54.3 17.7L51.1 15.3zM63.3 13.8L63.3 17.3L55.4 19.3L53.7 16.2zM63.4 18.2L63 21.9L56 22.1L55.2 18.5zM63 22.3L62.3 26.3L55.9 25.6L56 21.7zM62.2 26.4L61.7 30.5L55.3 29.5L56 25.5zM61.7 30.3L61.8 34.4L54.4 33.7L55.3 29.7zM61.8 34.3L62.3 38.3L53.3 37.7L54.4 33.8zM62.3 38.1L63 42L52.5 41.7L53.3 37.9zM63 41.9L63.5 45L51.9 45L52.5 41.9zM63.5 45L63.4 46.5L52 46.4L51.9 45zM63.4 46.4L63.2 46.9L52.2 47.1L52 46.5z" fill="#808080"/>
<path d="M41.6 8.5a6.9 6.9 0 1 1 13.9 0a6.9 6.9 0 1 1 -13.9 0zM43.7 8.7a7.3 7.3 0 1 1 14.5 0a7.3 7.3 0 1 1 -14.5 0zM46.8 9.5a7.2 7.2 0 1 1 14.5 0a7.2 7.2 0 1 1 -14.5 0zM50.5 11.9a6.1 6.1 0 1 1 12.1 0a6.1 6.1 0 1 1 -12.1 0zM53.9 15a4.6 4.6 0 1 1 9.3 0a4.6 4.6 0 1 1 -9.3 0zM55.6 18.3a3.7 3.7 0 1 1 7.5 0a3.7 3.7 0 1 1 -7.5 0zM56.4 22a3.1 3.1 0 1 1 6.3 0a3.1 3.1 0 1 1 -6.3 0zM56.3 25.9a2.8 2.8 0 1 1 5.6 0a2.8 2.8 0 1 1 -5.6 0zM55.7 30a2.8 2.8 0 1 1 5.7 0a2.8 2.8 0 1 1 -5.7 0zM54.7 34.1a3.4 3.4 0 1 1 6.8 0a3.4 3.4 0 1 1 -6.8 0zM53.7 38a4.1 4.1 0 1 1 8.3 0a4.1 4.1 0 1 1 -8.3 0zM52.8 41.9a4.9 4.9 0 1 1 9.8 0a4.9 4.9 0 1 1 -9.8 0zM52.3 45a5.4 5.4 0 1 1 10.9 0a5.4 5.4 0 1 1 -10.9 0zM52.3 46.4a5.4 5.4 0 1 1 10.7 0a5.4 5.4 0 1 1 -10.7 0zM52.6 47a5.1 5.1 0 1 1 10.3 0a5.1 5.1 0 1 1 -10.3 0zM48.9 1.6L51.4 1.4L50.5 15.9L48.1 15.4zM52.9 1.7L55.9 2.5L52.1 16.5L49 15.6zM59 4.2L60.7 7.5L52.4 16.3L49 14.8zM61.7 8.6L62.4 12.5L54.6 17.5L51.4 15.1zM63 13.9L63 17.4L55.7 19.3L54 16.1zM63.1 18.2L62.6 21.9L56.4 22.1L55.6 18.5zM62.6 22.3L61.9 26.2L56.3 25.7L56.4 21.7zM61.9 26.4L61.3 30.4L55.7 29.6L56.3 25.5zM61.3 30.3L61.5 34.4L54.7 33.7L55.7 29.7zM61.5 34.3L61.9 38.3L53.7 37.7L54.7 33.8zM61.9 38.1L62.6 42L52.8 41.8L53.7 37.9zM62.6 41.9L63.1 45L52.3 45L52.8 41.9zM63.1 45L63.1 46.5L52.3 46.4L52.3 45zM63.1 46.4L62.8 46.9L52.6 47.1L52.3 46.5z" fill="#e6e6e6"/>
<path d="M42.5 8.5a6 6 0 1 1 12 0a6 6 0 1 1 -12 0zM44.7 8.7a6.2 6.2 0 1 1 12.5 0a6.2 6.2 0 1 1 -12.5 0zM47.8 9.5a6.2 6.2 0 1 1 12.5 0a6.2 6.2 0 1 1 -12.5 0zM51.3 11.9a5.3 5.3 0 1 1 10.5 0a5.3 5.3 0 1 1 -10.5 0zM54.4 15a4.1 4.1 0 1 1 8.2 0a4.1 4.1 0 1 1 -8.2 0zM56 18.3a3.4 3.4 0 1 1 6.7 0a3.4 3.4 0 1 1 -6.7 0zM56.6 22a2.9 2.9 0 1 1 5.7 0a2.9 2.9 0 1 1 -5.7 0zM56.5 25.9a2.6 2.6 0 1 1 5.2 0a2.6 2.6 0 1 1 -5.2 0zM55.9 30a2.6 2.6 0 1 1 5.2 0a2.6 2.6 0 1 1 -5.2 0zM55 34.1a3.1 3.1 0 1 1 6.1 0a3.1 3.1 0 1 1 -6.1 0zM54.1 38a3.7 3.7 0 1 1 7.4 0a3.7 3.7 0 1 1 -7.4 0zM53.4 41.9a4.3 4.3 0 1 1 8.6 0a4.3 4.3 0 1 1 -8.6 0zM52.9 45a4.8 4.8 0 1 1 9.5 0a4.8 4.8 0 1 1 -9.5 0zM53 46.4a4.7 4.7 0 1 1 9.4 0a4.7 4.7 0 1 1 -9.4 0zM53.2 47a4.5 4.5 0 1 1 9 0a4.5 4.5 0 1 1 -9 0zM48.9 2.5L51.4 2.4L50.6 14.9L48.1 14.5zM52.6 2.6L55.7 3.5L52.3 15.5L49.3 14.7zM58.3 5L60.1 8L52.9 15.7L49.7 14zM61 9.1L62 12.8L55 17.2L52.1 14.7zM62.5 14L62.6 17.5L56.1 19.2L54.5 16zM62.7 18.2L62.4 21.9L56.6 22.1L56 18.5zM62.4 22.3L61.7 26.2L56.5 25.7L56.6 21.7zM61.7 26.3L61.1 30.4L55.9 29.6L56.5 25.6zM61.1 30.3L61.2 34.4L55 33.8L55.9 29.7zM61.2 34.3L61.5 38.3L54.1 37.7L55 33.8zM61.5 38.1L62 42L53.4 41.8L54.1 37.9zM62 41.9L62.5 45L52.9 45L53.4 41.9zM62.5 45L62.4 46.5L53 46.4L52.9 45zM62.4 46.4L62.2 46.9L53.2 47.1L53 46.5z" fill="#808080"/>
<path d="M42.9 8.5a5.6 5.6 0 1 1 11.3 0a5.6 5.6 0 1 1 -11.3 0zM45.1 8.7a5.9 5.9 0 1 1 11.8 0a5.9 5.9 0 1 1 -11.8 0zM48.1 9.5a5.9 5.9 0 1 1 11.7 0a5.9 5.9 0 1 1 -11.7 0zM51.6 11.9a4.9 4.9 0 1 1 9.8 0a4.9 4.9 0 1 1 -9.8 0zM54.8 15a3.7 3.7 0 1 1 7.5 0a3.7 3.7 0 1 1 -7.5 0zM56.3 18.3a3 3 0 1 1 6 0a3 3 0 1 1 -6 0zM57 22a2.5 2.5 0 1 1 5 0a2.5 2.5 0 1 1 -5 0zM56.9 25.9a2.2 2.2 0 1 1 4.5 0a2.2 2.2 0 1 1 -4.5 0zM56.2 30a2.3 2.3 0 1 1 4.5 0a2.3 2.3 0 1 1 -4.5 0zM55.4 34.1a2.7 2.7 0 1 1 5.4 0a2.7 2.7 0 1 1 -5.4 0zM54.5 38a3.3 3.3 0 1 1 6.7 0a3.3 3.3 0 1 1 -6.7 0zM53.8 41.9a3.9 3.9 0 1 1 7.9 0a3.9 3.9 0 1 1 -7.9 0zM53.3 45a4.4 4.4 0 1 1 8.8 0a4.4 4.4 0 1 1 -8.8 0zM53.4 46.4a4.3 4.3 0 1 1 8.7 0a4.3 4.3 0 1 1 -8.7 0zM53.6 47a4.1 4.1 0 1 1 8.3 0a4.1 4.1 0 1 1 -8.3 0zM48.9 2.9L51.3 2.8L50.6 14.5L48.1 14.1zM52.5 3L55.6 3.8L52.4 15.2L49.4 14.3zM58 5.2L59.9 8.3L53.2 15.4L50 13.8zM60.7 9.3L61.7 13L55.3 17L52.4 14.5zM62.1 14.1L62.3 17.6L56.4 19.1L54.9 15.9zM62.3 18.2L62 21.9L57 22.1L56.3 18.5zM62 22.2L61.3 26.2L56.9 25.7L57 21.8zM61.3 26.3L60.7 30.3L56.3 29.7L56.9 25.6zM60.8 30.2L60.8 34.3L55.4 33.8L56.2 29.8zM60.8 34.3L61.1 38.2L54.5 37.8L55.4 33.9zM61.1 38.1L61.7 42L53.8 41.8L54.5 37.9zM61.7 41.9L62.1 45L53.3 45L53.8 41.9zM62.1 45L62 46.5L53.4 46.4L53.3 45zM62 46.4L61.8 47L53.6 47L53.4 46.5z" fill="#d3d3d3"/>
<path d="M44.9 8.5a4.6 4.6 0 1 1 9.2 0a4.6 4.6 0 1 1 -9.2 0zM46.8 9a4.7 4.7 0 1 1 9.4 0a4.7 4.7 0 1 1 -9.4 0zM49.4 10a4.6 4.6 0 1 1 9.2 0a4.6 4.6 0 1 1 -9.2 0zM52.2 12.3a3.7 3.7 0 1 1 7.4 0a3.7 3.7 0 1 1 -7.4 0zM54.5 14.5a2.8 2.8 0 1 1 5.6 0a2.8 2.8 0 1 1 -5.6 0zM50.5 4L52.6 4.4L50.5 13.6L48.5 13zM53.4 4.6L55.8 5.8L52.2 14.2L49.7 13.3zM57.6 7.1L58.8 10L53.1 14.7L50.4 12.9zM59.1 10.4L59.7 13L54.9 16L52.8 14.3z" fill="#6a6a6a"/>
<path d="M45.3 8.5a4.2 4.2 0 1 1 8.5 0a4.2 4.2 0 1 1 -8.5 0zM47.2 9a4.4 4.4 0 1 1 8.7 0a4.4 4.4 0 1 1 -8.7 0zM49.8 10a4.2 4.2 0 1 1 8.5 0a4.2 4.2 0 1 1 -8.5 0zM52.6 12.3a3.3 3.3 0 1 1 6.7 0a3.3 3.3 0 1 1 -6.7 0zM54.9 14.5a2.4 2.4 0 1 1 4.9 0a2.4 2.4 0 1 1 -4.9 0zM50.4 4.4L52.5 4.7L50.6 13.2L48.6 12.6zM53.2 5L55.6 6.1L52.4 13.9L49.9 13zM57.3 7.3L58.5 10.2L53.4 14.5L50.7 12.7zM58.8 10.6L59.4 13.2L55.2 15.8L53.1 14.1z" fill="#a9a9a9"/>
<path d="M46.3 8.5a3.2 3.2 0 1 1 6.4 0a3.2 3.2 0 1 1 -6.4 0zM48.2 9a3.3 3.3 0 1 1 6.6 0a3.3 3.3 0 1 1 -6.6 0zM50.8 10a3.2 3.2 0 1 1 6.4 0a3.2 3.2 0 1 1 -6.4 0zM53.3 12.3a2.6 2.6 0 1 1 5.2 0a2.6 2.6 0 1 1 -5.2 0zM55.3 14.5a2 2 0 1 1 3.9 0a2 2 0 1 1 -3.9 0zM50.2 5.4L52.3 5.8L50.8 12.2L48.8 11.6zM52.8 5.9L55.2 7L52.8 13L50.3 12zM56.5 8L57.9 10.7L53.9 14L51.5 12zM58.1 11L59 13.4L55.6 15.6L53.7 13.7z" fill="#6a6a6a"/>
<path d="M46.6 8.5a2.9 2.9 0 1 1 5.7 0a2.9 2.9 0 1 1 -5.7 0zM48.6 9a2.9 2.9 0 1 1 5.9 0a2.9 2.9 0 1 1 -5.9 0zM51.1 10a2.9 2.9 0 1 1 5.7 0a2.9 2.9 0 1 1 -5.7 0zM53.7 12.3a2.2 2.2 0 1 1 4.5 0a2.2 2.2 0 1 1 -4.5 0zM55.7 14.5a1.6 1.6 0 1 1 3.2 0a1.6 1.6 0 1 1 -3.2 0zM50.1 5.7L52.2 6.1L50.9 11.8L48.9 11.3zM52.7 6.3L55.1 7.4L52.9 12.6L50.4 11.7zM56.2 8.2L57.7 10.9L54.2 13.8L51.8 11.8zM57.8 11.1L58.7 13.6L55.9 15.4L54 13.5z" fill="#8f8f8f"/>
<path d="M47.6 8.5a1.9 1.9 0 1 1 3.9 0a1.9 1.9 0 1 1 -3.9 0zM49.6 9a2 2 0 1 1 4 0a2 2 0 1 1 -4 0zM52.1 10a1.9 1.9 0 1 1 3.9 0a1.9 1.9 0 1 1 -3.9 0zM54.4 12.3a1.6 1.6 0 1 1 3.1 0a1.6 1.6 0 1 1 -3.1 0zM56.1 14.5a1.2 1.2 0 1 1 2.4 0a1.2 1.2 0 1 1 -2.4 0zM49.9 6.6L52 7L51.1 10.9L49.1 10.4zM52.3 7.1L54.7 8.2L53.3 11.8L50.8 10.8zM55.5 8.8L57.1 11.4L54.7 13.3L52.5 11.2zM57.2 11.5L58.3 13.9L56.3 15.1L54.6 13.2z" fill="#6a6a6a"/>
<path d="M47.9 8.5a1.6 1.6 0 1 1 3.1 0a1.6 1.6 0 1 1 -3.1 0zM49.9 9a1.6 1.6 0 1 1 3.2 0a1.6 1.6 0 1 1 -3.2 0zM52.4 10a1.6 1.6 0 1 1 3.1 0a1.6 1.6 0 1 1 -3.1 0zM54.7 12.3a1.2 1.2 0 1 1 2.4 0a1.2 1.2 0 1 1 -2.4 0zM56.5 14.5a0.8 0.8 0 1 1 1.6 0a0.8 0.8 0 1 1 -1.6 0zM49.9 7L51.9 7.4L51.2 10.5L49.1 10zM52.2 7.5L54.6 8.6L53.4 11.4L50.9 10.5zM55.2 9L56.9 11.6L55 13.1L52.8 11zM56.9 11.7L58 14.1L56.6 14.9L54.9 13z" fill="#7c7c7c"/>
<path d="M48.8 8.5a0.7 0.7 0 1 1 1.5 0a0.7 0.7 0 1 1 -1.5 0zM50.8 9a0.8 0.8 0 1 1 1.5 0a0.8 0.8 0 1 1 -1.5 0zM53.3 10a0.7 0.7 0 1 1 1.5 0a0.7 0.7 0 1 1 -1.5 0zM55.3 12.3a0.6 0.6 0 1 1 1.2 0a0.6 0.6 0 1 1 -1.2 0zM56.9 14.5a0.4 0.4 0 1 1 0.9 0a0.4 0.4 0 1 1 -0.9 0zM49.7 7.8L51.7 8.2L51.4 9.7L49.3 9.2zM51.8 8.3L54.3 9.3L53.7 10.7L51.3 9.7zM54.6 9.5L56.4 12L55.5 12.7L53.4 10.5zM56.4 12L57.7 14.3L56.9 14.7L55.4 12.7z" fill="#6a6a6a"/>
<path d="M49.1 8.5a0.4 0.4 0 1 1 0.8 0a0.4 0.4 0 1 1 -0.8 0zM51.1 9a0.4 0.4 0 1 1 0.8 0a0.4 0.4 0 1 1 -0.8 0zM53.6 10a0.4 0.4 0 1 1 0.8 0a0.4 0.4 0 1 1 -0.8 0zM55.7 12.3a0.2 0.2 0 1 1 0.5 0a0.2 0.2 0 1 1 -0.5 0zM57.2 14.5a0.1 0.1 0 1 1 0.2 0a0.1 0.1 0 1 1 -0.2 0zM49.6 8.1L51.6 8.6L51.5 9.4L49.4 8.9zM51.7 8.6L54.1 9.7L53.9 10.3L51.4 9.3zM54.3 9.8L56.1 12.2L55.8 12.5L53.7 10.2zM56.1 12.2L57.4 14.5L57.2 14.5L55.7 12.5z" fill="#e0e0e0"/>
<path d="M57.3 24a1.3 1.3 0 1 1 2.6 0a1.3 1.3 0 1 1 -2.6 0zM56.9 28.1a1.4 1.4 0 1 1 2.8 0a1.4 1.4 0 1 1 -2.8 0zM56.4 33a1.6 1.6 0 1 1 3.2 0a1.6 1.6 0 1 1 -3.2 0zM55.8 36.7a2.1 2.1 0 1 1 4.1 0a2.1 2.1 0 1 1 -4.1 0zM55.2 40a2.6 2.6 0 1 1 5.2 0a2.6 2.6 0 1 1 -5.2 0zM54.6 43.4a3.2 3.2 0 1 1 6.3 0a3.2 3.2 0 1 1 -6.3 0zM54.2 46a3.6 3.6 0 1 1 7.2 0a3.6 3.6 0 1 1 -7.2 0zM59.9 24.1L59.7 28.2L56.9 28L57.3 23.9zM59.7 28.2L59.6 33.1L56.4 32.9L56.9 28zM59.6 33.1L59.9 36.8L55.8 36.6L56.4 32.9zM59.9 36.7L60.4 40L55.2 40L55.8 36.6zM60.4 40L60.9 43.4L54.6 43.4L55.2 40zM60.9 43.4L61.4 46L54.2 46L54.6 43.5z" fill="#6a6a6a"/>
<path d="M57.7 24a0.9 0.9 0 1 1 1.9 0a0.9 0.9 0 1 1 -1.9 0zM57.3 28.1a1 1 0 1 1 2.1 0a1 1 0 1 1 -2.1 0zM56.8 33a1.2 1.2 0 1 1 2.5 0a1.2 1.2 0 1 1 -2.5 0zM56.2 36.7a1.7 1.7 0 1 1 3.4 0a1.7 1.7 0 1 1 -3.4 0zM55.6 40a2.2 2.2 0 1 1 4.5 0a2.2 2.2 0 1 1 -4.5 0zM55 43.4a2.8 2.8 0 1 1 5.6 0a2.8 2.8 0 1 1 -5.6 0zM54.6 46a3.2 3.2 0 1 1 6.5 0a3.2 3.2 0 1 1 -6.5 0zM59.5 24.1L59.3 28.1L57.3 28L57.7 23.9zM59.3 28.1L59.2 33.1L56.8 32.9L57.3 28zM59.2 33L59.6 36.8L56.2 36.6L56.8 33zM59.6 36.7L60 40L55.6 40L56.2 36.7zM60 40L60.6 43.4L55 43.4L55.6 40zM60.6 43.4L61 46L54.6 46L55 43.5z" fill="#bcbcbc"/>
<path d="M57.8 24a0.8 0.8 0 1 1 1.6 0a0.8 0.8 0 1 1 -1.6 0zM57.5 28.1a0.8 0.8 0 1 1 1.7 0a0.8 0.8 0 1 1 -1.7 0zM57 33a1 1 0 1 1 1.9 0a1 1 0 1 1 -1.9 0zM56.6 36.7a1.2 1.2 0 1 1 2.5 0a1.2 1.2 0 1 1 -2.5 0zM56.2 40a1.6 1.6 0 1 1 3.1 0a1.6 1.6 0 1 1 -3.1 0zM55.9 43.4a1.9 1.9 0 1 1 3.8 0a1.9 1.9 0 1 1 -3.8 0zM55.6 46a2.2 2.2 0 1 1 4.3 0a2.2 2.2 0 1 1 -4.3 0zM59.4 24.1L59.1 28.1L57.5 28L57.8 23.9zM59.1 28.1L59 33.1L57 32.9L57.5 28zM59 33L59.1 36.7L56.6 36.6L57 33zM59.1 36.7L59.4 40L56.2 40L56.6 36.7zM59.4 40L59.7 43.4L55.9 43.4L56.2 40zM59.7 43.4L60 46L55.6 46L55.9 43.4z" fill="#6a6a6a"/>
<path d="M58.2 24a0.4 0.4 0 1 1 0.8 0a0.4 0.4 0 1 1 -0.8 0zM57.8 28.1a0.5 0.5 0 1 1 0.9 0a0.5 0.5 0 1 1 -0.9 0zM57.4 33a0.6 0.6 0 1 1 1.2 0a0.6 0.6 0 1 1 -1.2 0zM57 36.7a0.9 0.9 0 1 1 1.7 0a0.9 0.9 0 1 1 -1.7 0zM56.6 40a1.2 1.2 0 1 1 2.4 0a1.2 1.2 0 1 1 -2.4 0zM56.2 43.4a1.5 1.5 0 1 1 3.1 0a1.5 1.5 0 1 1 -3.1 0zM56 46a1.8 1.8 0 1 1 3.6 0a1.8 1.8 0 1 1 -3.6 0zM59 24L58.8 28.1L57.8 28L58.2 24zM58.8 28.1L58.6 33L57.4 33L57.8 28zM58.6 33L58.7 36.7L57 36.7L57.4 33zM58.7 36.7L59 40L56.6 40L57 36.7zM59 40L59.3 43.4L56.3 43.4L56.6 40zM59.3 43.4L59.6 46L56 46L56.3 43.4z" fill="#a6a6a6"/>
<path d="M58.3 24a0.3 0.3 0 1 1 0.7 0a0.3 0.3 0 1 1 -0.7 0zM58 28.1a0.3 0.3 0 1 1 0.7 0a0.3 0.3 0 1 1 -0.7 0zM57.6 33a0.4 0.4 0 1 1 0.8 0a0.4 0.4 0 1 1 -0.8 0zM57.3 36.7a0.5 0.5 0 1 1 1 0a0.5 0.5 0 1 1 -1 0zM57.1 40a0.7 0.7 0 1 1 1.3 0a0.7 0.7 0 1 1 -1.3 0zM57 43.4a0.8 0.8 0 1 1 1.6 0a0.8 0.8 0 1 1 -1.6 0zM56.9 46a0.9 0.9 0 1 1 1.8 0a0.9 0.9 0 1 1 -1.8 0zM58.9 24L58.7 28.1L58 28L58.3 24zM58.7 28.1L58.4 33L57.6 33L58 28zM58.4 33L58.4 36.7L57.3 36.7L57.6 33zM58.4 36.7L58.4 40L57.2 40L57.3 36.7zM58.4 40L58.6 43.4L57 43.4L57.2 40zM58.6 43.4L58.7 46L56.9 46L57 43.4z" fill="#6a6a6a"/>
<path d="M57.7 36.7a0.2 0.2 0 1 1 0.3 0a0.2 0.2 0 1 1 -0.3 0zM57.5 40a0.3 0.3 0 1 1 0.6 0a0.3 0.3 0 1 1 -0.6 0zM57.4 43.4a0.4 0.4 0 1 1 0.9 0a0.4 0.4 0 1 1 -0.9 0zM57.3 46a0.5 0.5 0 1 1 1.1 0a0.5 0.5 0 1 1 -1.1 0zM58 33L58 36.7L57.7 36.7L58 33zM58 36.7L58.1 40L57.5 40L57.7 36.7zM58.1 40L58.2 43.4L57.4 43.4L57.5 40zM58.2 43.4L58.3 46L57.3 46L57.4 43.4z" fill="#e2e2e2"/>
<rect x="0" y="0" width="69.3" height="67.1" fill="none" stroke="#0a0a0a" stroke-width="1.35"/>
<line x1="0" y1="22.5" x2="69.3" y2="22.5" stroke="#0a0a0a" stroke-width="1.35"/>
<line x1="38.75" y1="0" x2="38.75" y2="67.1" stroke="#0a0a0a" stroke-width="1.35"/>
<line x1="38.75" y1="36.6" x2="69.3" y2="36.6" stroke="#0a0a0a" stroke-width="1.35"/>
<path d="M-3.1 6H0M-3.1 21.9H0M-3.1 40.7H0M-3.1 63.6H0M2.7 67.1V70.1M28.5 67.1V70.1M47.7 67.1V70.1M63.1 67.1V70.1" stroke="#000" stroke-width="1" fill="none"/>
<path d="M-1.7 3H0M-1.7 4.3H0M-1.7 8H0M-1.7 10.5H0M-1.7 13H0M-1.7 15H0M-1.7 17H0M-1.7 18.6H0M-1.7 20.2H0M-1.7 25H0M-1.7 28H0M-1.7 31H0M-1.7 33.5H0M-1.7 36H0M-1.7 37.8H0M-1.7 39.3H0M-1.7 43.5H0M-1.7 45.5H0M-1.7 47.2H0M-1.7 48.6H0M-1.7 49.8H0M-1.7 55H0M-1.7 56.4H0M-1.7 58H0M-1.7 59.8H0M-1.7 61.6H0M-1.7 65.5H0M0.8 67.1V68.7M4.8 67.1V68.7M6.6 67.1V68.7M8.2 67.1V68.7M9.6 67.1V68.7M10.8 67.1V68.7M11.9 67.1V68.7M12.9 67.1V68.7M18 67.1V68.7M19 67.1V68.7M20.2 67.1V68.7M21.5 67.1V68.7M23 67.1V68.7M24.8 67.1V68.7M26.6 67.1V68.7M31.5 67.1V68.7M34.5 67.1V68.7M37 67.1V68.7M39.5 67.1V68.7M41.5 67.1V68.7M43.3 67.1V68.7M44.8 67.1V68.7M46.3 67.1V68.7M52.5 67.1V68.7M55.5 67.1V68.7M57.8 67.1V68.7M59.5 67.1V68.7M60.8 67.1V68.7M62 67.1V68.7M65.5 67.1V68.7M67.5 67.1V68.7" stroke="#000" stroke-width="0.65" fill="none"/>
<rect x="-1.9" y="50.7" width="1.9" height="3.3" fill="#000"/>
<rect x="13.2" y="67.1" width="4.4" height="2" fill="#000"/>
<text x="-6" y="11.3" font-size="6.8" text-anchor="end" textLength="9.4" lengthAdjust="spacingAndGlyphs">10<tspan font-size="4.62" dy="-2.86">5</tspan></text>
<text x="-6" y="24.2" font-size="6.8" text-anchor="end" textLength="9.4" lengthAdjust="spacingAndGlyphs">10<tspan font-size="4.62" dy="-2.86">4</tspan></text>
<text x="-6" y="42.6" font-size="6.8" text-anchor="end" textLength="9.4" lengthAdjust="spacingAndGlyphs">10<tspan font-size="4.62" dy="-2.86">3</tspan></text>
<text x="-8.6" y="55.3" font-size="6.8" text-anchor="middle" textLength="3.5" lengthAdjust="spacingAndGlyphs">0</text>
<text x="-6" y="66.7" font-size="6.8" text-anchor="end" textLength="11.5" lengthAdjust="spacingAndGlyphs">-10<tspan font-size="4.62" dy="-2.86">3</tspan></text>
<text x="9" y="78.7" font-size="6.8" text-anchor="end" textLength="11.6" lengthAdjust="spacingAndGlyphs">-10<tspan font-size="4.62" dy="-2.86">3</tspan></text>
<text x="15.9" y="78.7" font-size="6.8" text-anchor="middle" textLength="3.5" lengthAdjust="spacingAndGlyphs">0</text>
<text x="32.9" y="78.7" font-size="6.8" text-anchor="end" textLength="9.4" lengthAdjust="spacingAndGlyphs">10<tspan font-size="4.62" dy="-2.86">3</tspan></text>
<text x="52.1" y="78.7" font-size="6.8" text-anchor="end" textLength="9.4" lengthAdjust="spacingAndGlyphs">10<tspan font-size="4.62" dy="-2.86">4</tspan></text>
<text x="67.9" y="78.7" font-size="6.8" text-anchor="end" textLength="9.4" lengthAdjust="spacingAndGlyphs">10<tspan font-size="4.62" dy="-2.86">5</tspan></text>
<text x="4" y="6.5" font-size="4.4" fill="#0d0d0d">P1</text>
<text x="2.4" y="11.8" font-size="4.4" fill="#0d0d0d">0,041</text>
<text x="68" y="6.9" font-size="4.4" text-anchor="end" fill="#0d0d0d">P2</text>
<text x="68" y="12.2" font-size="4.4" text-anchor="end" fill="#0d0d0d">71,1</text>
<text x="68" y="28.6" font-size="4.4" text-anchor="end" fill="#0d0d0d">P3</text>
<text x="68" y="33.9" font-size="4.4" text-anchor="end" fill="#0d0d0d">13,3</text>
<text x="68" y="59.2" font-size="4.4" text-anchor="end" fill="#0d0d0d">P4</text>
<text x="68" y="64.5" font-size="4.4" text-anchor="end" fill="#0d0d0d">15,2</text>
</g>
<g transform="translate(249.9 187.9)">
<path d="M32.5 18a2.5 2.5 0 1 1 5 0a2.5 2.5 0 1 1 -5 0zM35.2 16.1a3 3 0 1 1 5.9 0a3 3 0 1 1 -5.9 0zM38.5 14a3.5 3.5 0 1 1 7 0a3.5 3.5 0 1 1 -7 0zM41.1 12.8a3.8 3.8 0 1 1 7.6 0a3.8 3.8 0 1 1 -7.6 0zM43 12a4 4 0 1 1 8 0a4 4 0 1 1 -8 0zM33.7 15.8L36.7 13.6L39.7 18.7L36.3 20.2zM36.7 13.5L40.3 10.9L43.7 17.1L39.6 18.7zM40.6 10.8L43.4 9.2L46.4 16.3L43.4 17.2zM43.6 9.2L45.6 8.2L48.4 15.8L46.2 16.3z" fill="#8c8c8c"/>
<path d="M32.9 18a2.1 2.1 0 1 1 4.2 0a2.1 2.1 0 1 1 -4.2 0zM35.6 16.1a2.6 2.6 0 1 1 5.2 0a2.6 2.6 0 1 1 -5.2 0zM38.9 14a3.1 3.1 0 1 1 6.2 0a3.1 3.1 0 1 1 -6.2 0zM41.5 12.8a3.4 3.4 0 1 1 6.9 0a3.4 3.4 0 1 1 -6.9 0zM43.4 12a3.6 3.6 0 1 1 7.2 0a3.6 3.6 0 1 1 -7.2 0zM33.9 16.2L36.9 13.9L39.5 18.4L36.1 19.8zM36.9 13.9L40.5 11.3L43.5 16.7L39.4 18.4zM40.8 11.1L43.6 9.6L46.3 15.9L43.2 16.9zM43.8 9.5L45.8 8.6L48.2 15.4L46.1 16z" fill="#fff"/>
<path d="M33.5 18a1.5 1.5 0 1 1 3 0a1.5 1.5 0 1 1 -3 0zM36.4 16.1a1.8 1.8 0 1 1 3.6 0a1.8 1.8 0 1 1 -3.6 0zM39.9 14a2.1 2.1 0 1 1 4.2 0a2.1 2.1 0 1 1 -4.2 0zM42.6 12.8a2.3 2.3 0 1 1 4.6 0a2.3 2.3 0 1 1 -4.6 0zM44.6 12a2.4 2.4 0 1 1 4.8 0a2.4 2.4 0 1 1 -4.8 0zM34.2 16.7L37.3 14.6L39.1 17.7L35.8 19.3zM37.3 14.6L41 12.2L43 15.8L39.1 17.7zM41.2 12.1L44 10.6L45.8 14.9L42.8 15.9zM44.2 10.6L46.2 9.7L47.8 14.3L45.7 14.9z" fill="#8c8c8c"/>
<path d="M33.9 18a1.1 1.1 0 1 1 2.2 0a1.1 1.1 0 1 1 -2.2 0zM36.8 16.1a1.4 1.4 0 1 1 2.8 0a1.4 1.4 0 1 1 -2.8 0zM40.3 14a1.7 1.7 0 1 1 3.4 0a1.7 1.7 0 1 1 -3.4 0zM43 12.8a1.9 1.9 0 1 1 3.8 0a1.9 1.9 0 1 1 -3.8 0zM45 12a2 2 0 1 1 4 0a2 2 0 1 1 -4 0zM34.4 17L37.5 14.9L38.9 17.3L35.6 19zM37.5 14.9L41.2 12.5L42.8 15.5L38.9 17.3zM41.3 12.4L44.2 11L45.7 14.5L42.7 15.6zM44.3 11L46.3 10.1L47.7 13.9L45.6 14.5z" fill="#fff"/>
<path d="M40.5 27a2.5 2.5 0 1 1 5 0a2.5 2.5 0 1 1 -5 0zM42.2 28.5a2.8 2.8 0 1 1 5.5 0a2.8 2.8 0 1 1 -5.5 0zM44 30a3 3 0 1 1 6 0a3 3 0 1 1 -6 0zM44.5 25L46.6 26.3L43.4 30.7L41.5 29zM46.6 26.3L48.8 27.6L45.2 32.4L43.4 30.7z" fill="#8c8c8c"/>
<path d="M40.9 27a2.1 2.1 0 1 1 4.2 0a2.1 2.1 0 1 1 -4.2 0zM42.6 28.5a2.4 2.4 0 1 1 4.7 0a2.4 2.4 0 1 1 -4.7 0zM44.4 30a2.6 2.6 0 1 1 5.2 0a2.6 2.6 0 1 1 -5.2 0zM44.3 25.3L46.4 26.6L43.6 30.4L41.7 28.7zM46.4 26.6L48.6 27.9L45.4 32.1L43.6 30.4z" fill="#fff"/>
<path d="M41.6 27a1.4 1.4 0 1 1 2.8 0a1.4 1.4 0 1 1 -2.8 0zM43.5 28.5a1.5 1.5 0 1 1 3 0a1.5 1.5 0 1 1 -3 0zM45.4 30a1.7 1.7 0 1 1 3.3 0a1.7 1.7 0 1 1 -3.3 0zM43.8 25.9L45.9 27.3L44.1 29.7L42.2 28.1zM45.9 27.3L48 28.7L46 31.3L44.1 29.7z" fill="#8c8c8c"/>
<path d="M42 27a1 1 0 1 1 2 0a1 1 0 1 1 -2 0zM43.9 28.5a1.1 1.1 0 1 1 2.3 0a1.1 1.1 0 1 1 -2.3 0zM45.7 30a1.3 1.3 0 1 1 2.5 0a1.3 1.3 0 1 1 -2.5 0zM43.6 26.2L45.7 27.6L44.3 29.4L42.4 27.8zM45.7 27.6L47.8 29L46.2 31L44.3 29.4z" fill="#fff"/>
<path d="M42.8 13a7.2 7.2 0 1 1 14.4 0a7.2 7.2 0 1 1 -14.4 0zM43.4 18.2a6.6 6.6 0 1 1 13.2 0a6.6 6.6 0 1 1 -13.2 0zM43.7 25a6.3 6.3 0 1 1 12.6 0a6.3 6.3 0 1 1 -12.6 0zM42.8 31.7a7.4 7.4 0 1 1 14.9 0a7.4 7.4 0 1 1 -14.9 0zM41.7 38a8.8 8.8 0 1 1 17.6 0a8.8 8.8 0 1 1 -17.6 0zM41.5 43.1a9.4 9.4 0 1 1 18.7 0a9.4 9.4 0 1 1 -18.7 0zM41.6 46.5a9.6 9.6 0 1 1 19.2 0a9.6 9.6 0 1 1 -19.2 0zM57.2 13L56.6 18.2L43.4 18.1L42.8 13zM56.6 18.2L56.3 25L43.7 25L43.4 18.2zM56.3 24.8L57.6 31.5L42.8 31.9L43.7 25.2zM57.6 31.4L59.3 37.6L41.7 38.4L42.8 32.1zM59.3 37.3L60.2 42.4L41.6 43.8L41.7 38.7zM60.2 42.2L60.8 45.6L41.6 47.4L41.6 43.9z" fill="#808080"/>
<path d="M43.2 13a6.8 6.8 0 1 1 13.7 0a6.8 6.8 0 1 1 -13.7 0zM43.7 18.2a6.2 6.2 0 1 1 12.5 0a6.2 6.2 0 1 1 -12.5 0zM44.1 25a5.9 5.9 0 1 1 11.9 0a5.9 5.9 0 1 1 -11.9 0zM43.1 31.7a7.1 7.1 0 1 1 14.2 0a7.1 7.1 0 1 1 -14.2 0zM42.1 38a8.4 8.4 0 1 1 16.9 0a8.4 8.4 0 1 1 -16.9 0zM41.9 43.1a9 9 0 1 1 18 0a9 9 0 1 1 -18 0zM42 46.5a9.2 9.2 0 1 1 18.5 0a9.2 9.2 0 1 1 -18.5 0zM56.8 13L56.2 18.2L43.7 18.1L43.2 13zM56.2 18.2L55.9 25L44.1 25L43.7 18.2zM55.9 24.8L57.3 31.5L43.1 31.9L44.1 25.2zM57.3 31.4L58.9 37.6L42.1 38.4L43.1 32zM58.9 37.4L59.9 42.4L41.9 43.7L42.1 38.6zM59.8 42.2L60.4 45.6L42 47.4L41.9 43.9z" fill="#e6e6e6"/>
<path d="M44.1 13a5.9 5.9 0 1 1 11.8 0a5.9 5.9 0 1 1 -11.8 0zM44.6 18.2a5.4 5.4 0 1 1 10.8 0a5.4 5.4 0 1 1 -10.8 0zM44.8 25a5.2 5.2 0 1 1 10.3 0a5.2 5.2 0 1 1 -10.3 0zM44.1 31.7a6.1 6.1 0 1 1 12.2 0a6.1 6.1 0 1 1 -12.2 0zM43.3 38a7.2 7.2 0 1 1 14.4 0a7.2 7.2 0 1 1 -14.4 0zM43.2 43.1a7.7 7.7 0 1 1 15.3 0a7.7 7.7 0 1 1 -15.3 0zM43.3 46.5a7.9 7.9 0 1 1 15.7 0a7.9 7.9 0 1 1 -15.7 0zM55.9 13L55.4 18.2L44.6 18.2L44.1 13zM55.4 18.2L55.2 25L44.8 25L44.6 18.2zM55.2 24.8L56.3 31.5L44.1 31.9L44.8 25.2zM56.3 31.4L57.7 37.7L43.3 38.3L44.1 32zM57.7 37.5L58.5 42.5L43.2 43.6L43.3 38.5zM58.5 42.4L59 45.8L43.4 47.2L43.2 43.8z" fill="#808080"/>
<path d="M44.5 13a5.5 5.5 0 1 1 11.1 0a5.5 5.5 0 1 1 -11.1 0zM44.9 18.2a5 5 0 1 1 10.1 0a5 5 0 1 1 -10.1 0zM45.2 25a4.8 4.8 0 1 1 9.6 0a4.8 4.8 0 1 1 -9.6 0zM44.5 31.7a5.7 5.7 0 1 1 11.5 0a5.7 5.7 0 1 1 -11.5 0zM43.6 38a6.9 6.9 0 1 1 13.7 0a6.9 6.9 0 1 1 -13.7 0zM43.6 43.1a7.3 7.3 0 1 1 14.6 0a7.3 7.3 0 1 1 -14.6 0zM43.7 46.5a7.5 7.5 0 1 1 15 0a7.5 7.5 0 1 1 -15 0zM55.5 13L55 18.2L44.9 18.2L44.5 13zM55 18.2L54.8 25L45.2 25L44.9 18.2zM54.8 24.9L55.9 31.5L44.5 31.9L45.2 25.1zM55.9 31.5L57.3 37.7L43.7 38.3L44.5 32zM57.3 37.5L58.2 42.5L43.6 43.6L43.7 38.5zM58.2 42.4L58.7 45.8L43.7 47.2L43.6 43.7z" fill="#d3d3d3"/>
<path d="M46 10.5a4.2 4.2 0 1 1 8.4 0a4.2 4.2 0 1 1 -8.4 0zM46.3 14.8a3.9 3.9 0 1 1 7.8 0a3.9 3.9 0 1 1 -7.8 0zM46.6 19a3.6 3.6 0 1 1 7.2 0a3.6 3.6 0 1 1 -7.2 0zM54.4 10.5L54.1 14.8L46.3 14.8L46 10.5zM54.1 14.8L53.8 19L46.6 19L46.3 14.8z" fill="#6a6a6a"/>
<path d="M46.4 10.5a3.8 3.8 0 1 1 7.7 0a3.8 3.8 0 1 1 -7.7 0zM46.7 14.8a3.5 3.5 0 1 1 7.1 0a3.5 3.5 0 1 1 -7.1 0zM47 19a3.2 3.2 0 1 1 6.5 0a3.2 3.2 0 1 1 -6.5 0zM54 10.5L53.7 14.8L46.7 14.8L46.4 10.5zM53.7 14.8L53.4 19L47 19L46.7 14.8z" fill="#c4c4c4"/>
<path d="M47.4 10.5a2.8 2.8 0 1 1 5.5 0a2.8 2.8 0 1 1 -5.5 0zM47.6 14.8a2.6 2.6 0 1 1 5.1 0a2.6 2.6 0 1 1 -5.1 0zM47.8 19a2.4 2.4 0 1 1 4.8 0a2.4 2.4 0 1 1 -4.8 0zM53 10.5L52.8 14.8L47.6 14.8L47.4 10.5zM52.8 14.8L52.6 19L47.8 19L47.6 14.8z" fill="#6a6a6a"/>
<path d="M47.8 10.5a2.4 2.4 0 1 1 4.8 0a2.4 2.4 0 1 1 -4.8 0zM48 14.8a2.2 2.2 0 1 1 4.4 0a2.2 2.2 0 1 1 -4.4 0zM48.2 19a2 2 0 1 1 4 0a2 2 0 1 1 -4 0zM52.6 10.5L52.4 14.8L48 14.8L47.8 10.5zM52.4 14.8L52.2 19L48.2 19L48 14.8z" fill="#b0b0b0"/>
<path d="M48.9 10.5a1.3 1.3 0 1 1 2.5 0a1.3 1.3 0 1 1 -2.5 0zM49 14.8a1.2 1.2 0 1 1 2.3 0a1.2 1.2 0 1 1 -2.3 0zM49.1 19a1.1 1.1 0 1 1 2.2 0a1.1 1.1 0 1 1 -2.2 0zM51.5 10.5L51.4 14.8L49 14.8L48.9 10.5zM51.4 14.8L51.3 19L49.1 19L49 14.8z" fill="#6a6a6a"/>
<path d="M49.3 10.5a0.9 0.9 0 1 1 1.8 0a0.9 0.9 0 1 1 -1.8 0zM49.4 14.8a0.8 0.8 0 1 1 1.6 0a0.8 0.8 0 1 1 -1.6 0zM49.5 19a0.7 0.7 0 1 1 1.4 0a0.7 0.7 0 1 1 -1.4 0zM51.1 10.5L51 14.8L49.4 14.8L49.3 10.5zM51 14.8L50.9 19L49.5 19L49.4 14.8z" fill="#e6e6e6"/>
<path d="M46.2 39a4.8 4.8 0 1 1 9.6 0a4.8 4.8 0 1 1 -9.6 0zM45.8 43.2a5.5 5.5 0 1 1 11.1 0a5.5 5.5 0 1 1 -11.1 0zM45.4 47.5a6.3 6.3 0 1 1 12.6 0a6.3 6.3 0 1 1 -12.6 0zM55.8 38.6L56.9 42.8L45.8 43.7L46.2 39.4zM56.9 42.8L58 47L45.4 48L45.8 43.7z" fill="#6a6a6a"/>
<path d="M46.6 39a4.4 4.4 0 1 1 8.9 0a4.4 4.4 0 1 1 -8.9 0zM46.2 43.2a5.2 5.2 0 1 1 10.4 0a5.2 5.2 0 1 1 -10.4 0zM45.8 47.5a5.9 5.9 0 1 1 11.9 0a5.9 5.9 0 1 1 -11.9 0zM55.4 38.6L56.5 42.8L46.2 43.7L46.6 39.4zM56.5 42.8L57.6 47L45.8 48L46.2 43.7z" fill="#a9a9a9"/>
<path d="M47.6 39a3.4 3.4 0 1 1 6.7 0a3.4 3.4 0 1 1 -6.7 0zM47.5 43.2a3.9 3.9 0 1 1 7.8 0a3.9 3.9 0 1 1 -7.8 0zM47.3 47.5a4.4 4.4 0 1 1 8.8 0a4.4 4.4 0 1 1 -8.8 0zM54.3 38.7L55.2 42.9L47.5 43.6L47.7 39.3zM55.2 42.9L56.1 47.1L47.3 47.9L47.5 43.6z" fill="#6a6a6a"/>
<path d="M48 39a3 3 0 1 1 6 0a3 3 0 1 1 -6 0zM47.8 43.2a3.5 3.5 0 1 1 7 0a3.5 3.5 0 1 1 -7 0zM47.7 47.5a4 4 0 1 1 8.1 0a4 4 0 1 1 -8.1 0zM54 38.8L54.9 43L47.8 43.5L48 39.2zM54.9 43L55.7 47.2L47.7 47.8L47.8 43.5z" fill="#8f8f8f"/>
<path d="M49 39a2 2 0 1 1 4 0a2 2 0 1 1 -4 0zM49 43.2a2.3 2.3 0 1 1 4.7 0a2.3 2.3 0 1 1 -4.7 0zM49.1 47.5a2.6 2.6 0 1 1 5.3 0a2.6 2.6 0 1 1 -5.3 0zM53 38.8L53.7 43.1L49 43.4L49 39.2zM53.7 43.1L54.3 47.3L49.1 47.7L49 43.4z" fill="#6a6a6a"/>
<path d="M49.3 39a1.7 1.7 0 1 1 3.3 0a1.7 1.7 0 1 1 -3.3 0zM49.4 43.2a2 2 0 1 1 3.9 0a2 2 0 1 1 -3.9 0zM49.4 47.5a2.3 2.3 0 1 1 4.6 0a2.3 2.3 0 1 1 -4.6 0zM52.7 38.9L53.3 43.1L49.4 43.4L49.3 39.1zM53.3 43.1L54 47.3L49.4 47.7L49.4 43.4z" fill="#7c7c7c"/>
<path d="M50.2 39a0.8 0.8 0 1 1 1.5 0a0.8 0.8 0 1 1 -1.5 0zM50.5 43.2a0.9 0.9 0 1 1 1.8 0a0.9 0.9 0 1 1 -1.8 0zM50.7 47.5a1 1 0 1 1 2 0a1 1 0 1 1 -2 0zM51.8 38.9L52.2 43.2L50.5 43.3L50.2 39.1zM52.2 43.2L52.7 47.4L50.7 47.6L50.5 43.3z" fill="#6a6a6a"/>
<path d="M50.6 39a0.4 0.4 0 1 1 0.8 0a0.4 0.4 0 1 1 -0.8 0zM50.8 43.2a0.5 0.5 0 1 1 1.1 0a0.5 0.5 0 1 1 -1.1 0zM51.1 47.5a0.6 0.6 0 1 1 1.3 0a0.6 0.6 0 1 1 -1.3 0zM51.4 39L51.9 43.2L50.8 43.3L50.6 39zM51.9 43.2L52.3 47.4L51.1 47.6L50.8 43.3z" fill="#e0e0e0"/>
<rect x="0" y="0" width="69.3" height="67.1" fill="none" stroke="#0a0a0a" stroke-width="1.35"/>
<line x1="0" y1="22.5" x2="69.3" y2="22.5" stroke="#0a0a0a" stroke-width="1.35"/>
<line x1="38.75" y1="0" x2="38.75" y2="67.1" stroke="#0a0a0a" stroke-width="1.35"/>
<line x1="38.75" y1="36.6" x2="69.3" y2="36.6" stroke="#0a0a0a" stroke-width="1.35"/>
<path d="M-3.1 6H0M-3.1 21.9H0M-3.1 40.7H0M-3.1 63.6H0M2.7 67.1V70.1M28.5 67.1V70.1M47.7 67.1V70.1M63.1 67.1V70.1" stroke="#000" stroke-width="1" fill="none"/>
<path d="M-1.7 3H0M-1.7 4.3H0M-1.7 8H0M-1.7 10.5H0M-1.7 13H0M-1.7 15H0M-1.7 17H0M-1.7 18.6H0M-1.7 20.2H0M-1.7 25H0M-1.7 28H0M-1.7 31H0M-1.7 33.5H0M-1.7 36H0M-1.7 37.8H0M-1.7 39.3H0M-1.7 43.5H0M-1.7 45.5H0M-1.7 47.2H0M-1.7 48.6H0M-1.7 49.8H0M-1.7 55H0M-1.7 56.4H0M-1.7 58H0M-1.7 59.8H0M-1.7 61.6H0M-1.7 65.5H0M0.8 67.1V68.7M4.8 67.1V68.7M6.6 67.1V68.7M8.2 67.1V68.7M9.6 67.1V68.7M10.8 67.1V68.7M11.9 67.1V68.7M12.9 67.1V68.7M18 67.1V68.7M19 67.1V68.7M20.2 67.1V68.7M21.5 67.1V68.7M23 67.1V68.7M24.8 67.1V68.7M26.6 67.1V68.7M31.5 67.1V68.7M34.5 67.1V68.7M37 67.1V68.7M39.5 67.1V68.7M41.5 67.1V68.7M43.3 67.1V68.7M44.8 67.1V68.7M46.3 67.1V68.7M52.5 67.1V68.7M55.5 67.1V68.7M57.8 67.1V68.7M59.5 67.1V68.7M60.8 67.1V68.7M62 67.1V68.7M65.5 67.1V68.7M67.5 67.1V68.7" stroke="#000" stroke-width="0.65" fill="none"/>
<rect x="-1.9" y="50.7" width="1.9" height="3.3" fill="#000"/>
<rect x="13.2" y="67.1" width="4.4" height="2" fill="#000"/>
<text x="-6" y="11.3" font-size="6.8" text-anchor="end" textLength="9.4" lengthAdjust="spacingAndGlyphs">10<tspan font-size="4.62" dy="-2.86">5</tspan></text>
<text x="-6" y="24.2" font-size="6.8" text-anchor="end" textLength="9.4" lengthAdjust="spacingAndGlyphs">10<tspan font-size="4.62" dy="-2.86">4</tspan></text>
<text x="-6" y="42.6" font-size="6.8" text-anchor="end" textLength="9.4" lengthAdjust="spacingAndGlyphs">10<tspan font-size="4.62" dy="-2.86">3</tspan></text>
<text x="-8.6" y="55.3" font-size="6.8" text-anchor="middle" textLength="3.5" lengthAdjust="spacingAndGlyphs">0</text>
<text x="-6" y="66.7" font-size="6.8" text-anchor="end" textLength="11.5" lengthAdjust="spacingAndGlyphs">-10<tspan font-size="4.62" dy="-2.86">3</tspan></text>
<text x="9" y="78.7" font-size="6.8" text-anchor="end" textLength="11.6" lengthAdjust="spacingAndGlyphs">-10<tspan font-size="4.62" dy="-2.86">3</tspan></text>
<text x="15.9" y="78.7" font-size="6.8" text-anchor="middle" textLength="3.5" lengthAdjust="spacingAndGlyphs">0</text>
<text x="32.9" y="78.7" font-size="6.8" text-anchor="end" textLength="9.4" lengthAdjust="spacingAndGlyphs">10<tspan font-size="4.62" dy="-2.86">3</tspan></text>
<text x="52.1" y="78.7" font-size="6.8" text-anchor="end" textLength="9.4" lengthAdjust="spacingAndGlyphs">10<tspan font-size="4.62" dy="-2.86">4</tspan></text>
<text x="67.9" y="78.7" font-size="6.8" text-anchor="end" textLength="9.4" lengthAdjust="spacingAndGlyphs">10<tspan font-size="4.62" dy="-2.86">5</tspan></text>
<text x="4" y="6.5" font-size="4.4" fill="#0d0d0d">P1</text>
<text x="2.4" y="11.8" font-size="4.4" fill="#0d0d0d">2,85</text>
<text x="68" y="6.9" font-size="4.4" text-anchor="end" fill="#0d0d0d">P2</text>
<text x="68" y="12.2" font-size="4.4" text-anchor="end" fill="#0d0d0d">19,7</text>
<text x="68" y="28.6" font-size="4.4" text-anchor="end" fill="#0d0d0d">P3</text>
<text x="68" y="33.9" font-size="4.4" text-anchor="end" fill="#0d0d0d">16,3</text>
<text x="68" y="59.2" font-size="4.4" text-anchor="end" fill="#0d0d0d">P4</text>
<text x="68" y="64.5" font-size="4.4" text-anchor="end" fill="#0d0d0d">58,4</text>
</g>
<g transform="translate(346.1 188.9)">
<path d="M51.5 10a4.5 4.5 0 1 1 9 0a4.5 4.5 0 1 1 -9 0zM48.7 13.4a5.9 5.9 0 1 1 11.8 0a5.9 5.9 0 1 1 -11.8 0zM45.4 18a7.6 7.6 0 1 1 15.2 0a7.6 7.6 0 1 1 -15.2 0zM43.2 23a8.9 8.9 0 1 1 17.8 0a8.9 8.9 0 1 1 -17.8 0zM41.7 28a9.8 9.8 0 1 1 19.6 0a9.8 9.8 0 1 1 -19.6 0zM41.1 32.6a10 10 0 1 1 20.1 0a10 10 0 1 1 -20.1 0zM41 36a10 10 0 1 1 20 0a10 10 0 1 1 -20 0zM60.2 11.7L60.1 15.6L49.1 11.1L51.8 8.3zM60.2 15.3L60.2 20.5L45.8 15.5L49 11.4zM60.5 19.4L60.8 24.6L43.4 21.4L45.5 16.6zM60.9 24L61.2 29.2L41.8 26.8L43.3 22zM61.3 28.7L61.2 33.4L41.1 31.9L41.7 27.3zM61.2 33.1L61 36.5L41 35.5L41.1 32.2z" fill="#8c8c8c"/>
<path d="M51.9 10a4.1 4.1 0 1 1 8.2 0a4.1 4.1 0 1 1 -8.2 0zM49.1 13.4a5.5 5.5 0 1 1 11.1 0a5.5 5.5 0 1 1 -11.1 0zM45.8 18a7.2 7.2 0 1 1 14.4 0a7.2 7.2 0 1 1 -14.4 0zM43.6 23a8.5 8.5 0 1 1 17 0a8.5 8.5 0 1 1 -17 0zM42.1 28a9.4 9.4 0 1 1 18.8 0a9.4 9.4 0 1 1 -18.8 0zM41.5 32.6a9.7 9.7 0 1 1 19.3 0a9.7 9.7 0 1 1 -19.3 0zM41.4 36a9.6 9.6 0 1 1 19.2 0a9.6 9.6 0 1 1 -19.2 0zM59.8 11.6L59.7 15.5L49.5 11.2L52.2 8.4zM59.8 15.2L59.8 20.4L46.2 15.6L49.4 11.6zM60.1 19.3L60.5 24.5L43.7 21.5L45.9 16.7zM60.5 24L60.9 29.1L42.1 26.9L43.7 22zM60.9 28.7L60.8 33.3L41.5 31.9L42.1 27.3zM60.8 33.1L60.6 36.4L41.4 35.6L41.5 32.2z" fill="#f2f2f2"/>
<path d="M52.5 10a3.5 3.5 0 1 1 7 0a3.5 3.5 0 1 1 -7 0zM50 13.4a4.6 4.6 0 1 1 9.2 0a4.6 4.6 0 1 1 -9.2 0zM47.1 18a5.9 5.9 0 1 1 11.9 0a5.9 5.9 0 1 1 -11.9 0zM45.2 23a6.9 6.9 0 1 1 13.9 0a6.9 6.9 0 1 1 -13.9 0zM43.9 28a7.6 7.6 0 1 1 15.3 0a7.6 7.6 0 1 1 -15.3 0zM43.3 32.6a7.8 7.8 0 1 1 15.7 0a7.8 7.8 0 1 1 -15.7 0zM43.2 36a7.8 7.8 0 1 1 15.6 0a7.8 7.8 0 1 1 -15.6 0zM59.2 11.3L58.9 15.1L50.3 11.6L52.8 8.7zM59 14.9L58.6 19.9L47.4 16.1L50.2 11.9zM58.8 19.1L58.9 24.2L45.3 21.8L47.2 16.9zM59 23.8L59.1 28.9L43.9 27.1L45.2 22.2zM59.1 28.6L59 33.2L43.3 32L43.9 27.4zM59 33L58.8 36.4L43.2 35.6L43.3 32.3z" fill="#8c8c8c"/>
<path d="M52.9 10a3.1 3.1 0 1 1 6.3 0a3.1 3.1 0 1 1 -6.3 0zM50.4 13.4a4.2 4.2 0 1 1 8.5 0a4.2 4.2 0 1 1 -8.5 0zM47.5 18a5.5 5.5 0 1 1 11.1 0a5.5 5.5 0 1 1 -11.1 0zM45.5 23a6.5 6.5 0 1 1 13.1 0a6.5 6.5 0 1 1 -13.1 0zM44.2 28a7.3 7.3 0 1 1 14.5 0a7.3 7.3 0 1 1 -14.5 0zM43.7 32.6a7.4 7.4 0 1 1 14.9 0a7.4 7.4 0 1 1 -14.9 0zM43.6 36a7.4 7.4 0 1 1 14.8 0a7.4 7.4 0 1 1 -14.8 0zM58.9 11.2L58.5 15L50.7 11.7L53.1 8.8zM58.6 14.8L58.2 19.8L47.8 16.2L50.6 12zM58.5 19L58.5 24.2L45.7 21.8L47.5 17zM58.6 23.8L58.7 28.9L44.3 27.1L45.6 22.2zM58.7 28.5L58.6 33.2L43.7 32.1L44.3 27.5zM58.6 33L58.4 36.3L43.6 35.7L43.7 32.3z" fill="#f2f2f2"/>
<path d="M53.5 10a2.5 2.5 0 1 1 5 0a2.5 2.5 0 1 1 -5 0zM51.3 13.4a3.3 3.3 0 1 1 6.6 0a3.3 3.3 0 1 1 -6.6 0zM48.7 18a4.3 4.3 0 1 1 8.5 0a4.3 4.3 0 1 1 -8.5 0zM47.1 23a5 5 0 1 1 9.9 0a5 5 0 1 1 -9.9 0zM46 28a5.5 5.5 0 1 1 11 0a5.5 5.5 0 1 1 -11 0zM45.5 32.6a5.6 5.6 0 1 1 11.2 0a5.6 5.6 0 1 1 -11.2 0zM45.4 36a5.6 5.6 0 1 1 11.2 0a5.6 5.6 0 1 1 -11.2 0zM58.3 11L57.7 14.6L51.5 12.1L53.7 9zM57.7 14.5L57 19.4L49 16.6L51.5 12.3zM57.2 18.8L57 23.9L47.2 22.1L48.8 17.2zM57 23.6L56.9 28.6L46.1 27.4L47.2 22.4zM57 28.4L56.8 33L45.6 32.2L46 27.6zM56.8 32.9L56.6 36.3L45.4 35.7L45.5 32.4z" fill="#8c8c8c"/>
<path d="M53.9 10a2.1 2.1 0 1 1 4.3 0a2.1 2.1 0 1 1 -4.3 0zM51.7 13.4a2.9 2.9 0 1 1 5.9 0a2.9 2.9 0 1 1 -5.9 0zM49.1 18a3.9 3.9 0 1 1 7.8 0a3.9 3.9 0 1 1 -7.8 0zM47.5 23a4.6 4.6 0 1 1 9.2 0a4.6 4.6 0 1 1 -9.2 0zM46.4 28a5.1 5.1 0 1 1 10.2 0a5.1 5.1 0 1 1 -10.2 0zM45.9 32.6a5.2 5.2 0 1 1 10.5 0a5.2 5.2 0 1 1 -10.5 0zM45.8 36a5.2 5.2 0 1 1 10.4 0a5.2 5.2 0 1 1 -10.4 0zM58 10.8L57.3 14.5L51.9 12.2L54 9.2zM57.4 14.3L56.7 19.3L49.3 16.7L51.8 12.4zM56.8 18.7L56.6 23.8L47.6 22.2L49.2 17.3zM56.7 23.5L56.6 28.6L46.4 27.4L47.5 22.5zM56.6 28.4L56.4 33L45.9 32.2L46.4 27.6zM56.4 32.9L56.2 36.2L45.8 35.8L45.9 32.4z" fill="#f2f2f2"/>
<path d="M54.5 10a1.5 1.5 0 1 1 3.1 0a1.5 1.5 0 1 1 -3.1 0zM52.6 13.4a2 2 0 1 1 4 0a2 2 0 1 1 -4 0zM50.4 18a2.6 2.6 0 1 1 5.2 0a2.6 2.6 0 1 1 -5.2 0zM49.1 23a3 3 0 1 1 6 0a3 3 0 1 1 -6 0zM48.2 28a3.3 3.3 0 1 1 6.7 0a3.3 3.3 0 1 1 -6.7 0zM47.7 32.6a3.4 3.4 0 1 1 6.8 0a3.4 3.4 0 1 1 -6.8 0zM47.6 36a3.4 3.4 0 1 1 6.8 0a3.4 3.4 0 1 1 -6.8 0zM57.4 10.6L56.4 14.1L52.7 12.6L54.6 9.4zM56.5 14L55.4 18.8L50.6 17.2L52.7 12.7zM55.5 18.5L55.1 23.5L49.1 22.5L50.5 17.5zM55.1 23.4L54.8 28.4L48.2 27.6L49.1 22.6zM54.8 28.2L54.6 32.9L47.8 32.4L48.2 27.8zM54.6 32.8L54.4 36.2L47.6 35.8L47.7 32.5z" fill="#8c8c8c"/>
<path d="M54.9 10a1.1 1.1 0 1 1 2.3 0a1.1 1.1 0 1 1 -2.3 0zM53 13.4a1.6 1.6 0 1 1 3.3 0a1.6 1.6 0 1 1 -3.3 0zM50.8 18a2.2 2.2 0 1 1 4.4 0a2.2 2.2 0 1 1 -4.4 0zM49.5 23a2.6 2.6 0 1 1 5.3 0a2.6 2.6 0 1 1 -5.3 0zM48.5 28a3 3 0 1 1 5.9 0a3 3 0 1 1 -5.9 0zM48.1 32.6a3 3 0 1 1 6.1 0a3 3 0 1 1 -6.1 0zM48 36a3 3 0 1 1 6 0a3 3 0 1 1 -6 0zM57.1 10.4L56.1 14L53.1 12.7L54.9 9.6zM56.1 13.9L55.1 18.7L50.9 17.3L53.1 12.8zM55.2 18.4L54.7 23.5L49.5 22.5L50.8 17.6zM54.7 23.3L54.4 28.3L48.6 27.7L49.5 22.7zM54.4 28.2L54.2 32.8L48.1 32.4L48.6 27.8zM54.2 32.8L54 36.1L48 35.9L48.1 32.5z" fill="#f2f2f2"/>
<path d="M31.5 48.3a5.5 5.5 0 1 1 11 0a5.5 5.5 0 1 1 -11 0zM33.5 47.7a6.9 6.9 0 1 1 13.8 0a6.9 6.9 0 1 1 -13.8 0zM36.6 47a8.4 8.4 0 1 1 16.8 0a8.4 8.4 0 1 1 -16.8 0zM40.8 46.6a8.9 8.9 0 1 1 17.9 0a8.9 8.9 0 1 1 -17.9 0zM45 46.3a9 9 0 1 1 18 0a9 9 0 1 1 -18 0zM47.9 46.1a8.6 8.6 0 1 1 17.3 0a8.6 8.6 0 1 1 -17.3 0zM49.8 46a8.2 8.2 0 1 1 16.4 0a8.2 8.2 0 1 1 -16.4 0zM36 42.9L39.2 40.9L41.6 54.5L38 53.7zM39.4 40.9L43.7 38.7L46.3 55.3L41.5 54.5zM44.3 38.6L49 37.7L50.5 55.5L45.7 55.4zM49.1 37.7L53.4 37.3L54.6 55.3L50.4 55.5zM53.3 37.3L55.9 37.5L57.2 54.7L54.7 55.3zM55.9 37.5L57.4 37.8L58.6 54.2L57.2 54.7z" fill="#808080"/>
<path d="M31.9 48.3a5.1 5.1 0 1 1 10.3 0a5.1 5.1 0 1 1 -10.3 0zM33.9 47.7a6.6 6.6 0 1 1 13.1 0a6.6 6.6 0 1 1 -13.1 0zM37 47a8 8 0 1 1 16.1 0a8 8 0 1 1 -16.1 0zM41.2 46.6a8.6 8.6 0 1 1 17.1 0a8.6 8.6 0 1 1 -17.1 0zM45.4 46.3a8.6 8.6 0 1 1 17.3 0a8.6 8.6 0 1 1 -17.3 0zM48.3 46.1a8.3 8.3 0 1 1 16.6 0a8.3 8.3 0 1 1 -16.6 0zM50.2 46a7.8 7.8 0 1 1 15.7 0a7.8 7.8 0 1 1 -15.7 0zM36.1 43.2L39.3 41.2L41.6 54.1L37.9 53.4zM39.5 41.2L43.8 39.1L46.2 54.9L41.4 54.2zM44.3 39L49 38L50.5 55.1L45.7 55zM49.2 38L53.4 37.7L54.6 54.9L50.3 55.1zM53.3 37.7L55.9 37.9L57.2 54.4L54.7 54.9zM56 37.9L57.4 38.2L58.6 53.8L57.2 54.4z" fill="#e6e6e6"/>
<path d="M32.5 48.3a4.5 4.5 0 1 1 9 0a4.5 4.5 0 1 1 -9 0zM34.8 47.7a5.7 5.7 0 1 1 11.3 0a5.7 5.7 0 1 1 -11.3 0zM38.1 47a6.9 6.9 0 1 1 13.8 0a6.9 6.9 0 1 1 -13.8 0zM42.4 46.6a7.3 7.3 0 1 1 14.6 0a7.3 7.3 0 1 1 -14.6 0zM46.6 46.3a7.4 7.4 0 1 1 14.8 0a7.4 7.4 0 1 1 -14.8 0zM49.5 46.1a7.1 7.1 0 1 1 14.2 0a7.1 7.1 0 1 1 -14.2 0zM51.3 46a6.7 6.7 0 1 1 13.4 0a6.7 6.7 0 1 1 -13.4 0zM36.2 43.9L39.5 42.1L41.4 53.3L37.8 52.7zM39.6 42.1L44 40.2L46 53.8L41.3 53.3zM44.4 40.1L49.1 39.3L50.4 53.9L45.6 53.9zM49.3 39.3L53.5 38.9L54.5 53.7L50.2 53.9zM53.4 38.9L56 39L57.1 53.2L54.6 53.7zM56 39L57.5 39.3L58.5 52.7L57.1 53.2z" fill="#808080"/>
<path d="M32.9 48.3a4.1 4.1 0 1 1 8.3 0a4.1 4.1 0 1 1 -8.3 0zM35.1 47.7a5.3 5.3 0 1 1 10.6 0a5.3 5.3 0 1 1 -10.6 0zM38.5 47a6.5 6.5 0 1 1 13.1 0a6.5 6.5 0 1 1 -13.1 0zM42.8 46.6a7 7 0 1 1 13.9 0a7 7 0 1 1 -13.9 0zM47 46.3a7 7 0 1 1 14 0a7 7 0 1 1 -14 0zM49.8 46.1a6.7 6.7 0 1 1 13.4 0a6.7 6.7 0 1 1 -13.4 0zM51.6 46a6.4 6.4 0 1 1 12.7 0a6.4 6.4 0 1 1 -12.7 0zM36.3 44.2L39.5 42.5L41.4 52.9L37.7 52.4zM39.6 42.4L44 40.5L46 53.5L41.2 52.9zM44.4 40.5L49.1 39.6L50.4 53.5L45.6 53.5zM49.3 39.6L53.5 39.3L54.5 53.3L50.2 53.5zM53.5 39.3L56.1 39.4L57.1 52.8L54.5 53.3zM56.1 39.4L57.5 39.7L58.5 52.3L57.1 52.8z" fill="#d3d3d3"/>
<path d="M41.4 47.6a4.6 4.6 0 1 1 9.2 0a4.6 4.6 0 1 1 -9.2 0zM45.9 47.2a4.9 4.9 0 1 1 9.8 0a4.9 4.9 0 1 1 -9.8 0zM50.3 46.8a5.2 5.2 0 1 1 10.4 0a5.2 5.2 0 1 1 -10.4 0zM45.6 43L50.3 42.3L51.2 52.1L46.4 52.2zM50.3 42.3L55.1 41.6L55.9 52L51.2 52.1z" fill="#6a6a6a"/>
<path d="M41.8 47.6a4.2 4.2 0 1 1 8.5 0a4.2 4.2 0 1 1 -8.5 0zM46.2 47.2a4.5 4.5 0 1 1 9.1 0a4.5 4.5 0 1 1 -9.1 0zM50.7 46.8a4.8 4.8 0 1 1 9.7 0a4.8 4.8 0 1 1 -9.7 0zM45.6 43.4L50.4 42.7L51.1 51.7L46.4 51.8zM50.4 42.7L55.1 42L55.9 51.6L51.1 51.7z" fill="#bcbcbc"/>
<path d="M42.8 47.6a3.2 3.2 0 1 1 6.4 0a3.2 3.2 0 1 1 -6.4 0zM47.3 47.2a3.4 3.4 0 1 1 6.9 0a3.4 3.4 0 1 1 -6.9 0zM51.9 46.8a3.6 3.6 0 1 1 7.3 0a3.6 3.6 0 1 1 -7.3 0zM45.7 44.4L50.5 43.8L51 50.6L46.3 50.8zM50.5 43.8L55.2 43.2L55.8 50.4L51 50.6z" fill="#6a6a6a"/>
<path d="M43.1 47.6a2.9 2.9 0 1 1 5.7 0a2.9 2.9 0 1 1 -5.7 0zM47.7 47.2a3.1 3.1 0 1 1 6.1 0a3.1 3.1 0 1 1 -6.1 0zM52.2 46.8a3.3 3.3 0 1 1 6.6 0a3.3 3.3 0 1 1 -6.6 0zM45.8 44.8L50.5 44.1L51 50.3L46.2 50.4zM50.5 44.1L55.2 43.5L55.8 50.1L51 50.3z" fill="#a6a6a6"/>
<path d="M44.1 47.6a1.9 1.9 0 1 1 3.9 0a1.9 1.9 0 1 1 -3.9 0zM48.7 47.2a2.1 2.1 0 1 1 4.1 0a2.1 2.1 0 1 1 -4.1 0zM53.3 46.8a2.2 2.2 0 1 1 4.4 0a2.2 2.2 0 1 1 -4.4 0zM45.8 45.7L50.6 45.1L50.9 49.3L46.2 49.5zM50.6 45.1L55.3 44.6L55.7 49L50.9 49.3z" fill="#6a6a6a"/>
<path d="M44.4 47.6a1.6 1.6 0 1 1 3.1 0a1.6 1.6 0 1 1 -3.1 0zM49.1 47.2a1.7 1.7 0 1 1 3.4 0a1.7 1.7 0 1 1 -3.4 0zM53.7 46.8a1.8 1.8 0 1 1 3.6 0a1.8 1.8 0 1 1 -3.6 0zM45.9 46L50.6 45.5L50.9 48.9L46.1 49.2zM50.6 45.5L55.3 45L55.7 48.6L50.9 48.9z" fill="#949494"/>
<path d="M45.3 47.6a0.7 0.7 0 1 1 1.5 0a0.7 0.7 0 1 1 -1.5 0zM50 47.2a0.8 0.8 0 1 1 1.6 0a0.8 0.8 0 1 1 -1.6 0zM54.7 46.8a0.8 0.8 0 1 1 1.7 0a0.8 0.8 0 1 1 -1.7 0zM45.9 46.9L50.7 46.4L50.8 48L46.1 48.3zM50.7 46.4L55.4 46L55.6 47.6L50.8 48z" fill="#6a6a6a"/>
<path d="M45.6 47.6a0.4 0.4 0 1 1 0.8 0a0.4 0.4 0 1 1 -0.8 0zM50.3 47.2a0.4 0.4 0 1 1 0.8 0a0.4 0.4 0 1 1 -0.8 0zM55 46.8a0.5 0.5 0 1 1 0.9 0a0.5 0.5 0 1 1 -0.9 0zM46 47.2L50.7 46.8L50.8 47.6L46 48zM50.7 46.8L55.5 46.3L55.5 47.3L50.8 47.6z" fill="#e2e2e2"/>
<rect x="0" y="0" width="69.3" height="67.1" fill="none" stroke="#0a0a0a" stroke-width="1.35"/>
<line x1="0" y1="22.5" x2="69.3" y2="22.5" stroke="#0a0a0a" stroke-width="1.35"/>
<line x1="38.75" y1="0" x2="38.75" y2="67.1" stroke="#0a0a0a" stroke-width="1.35"/>
<line x1="38.75" y1="36.6" x2="69.3" y2="36.6" stroke="#0a0a0a" stroke-width="1.35"/>
<path d="M-3.1 6H0M-3.1 21.9H0M-3.1 40.7H0M-3.1 63.6H0M2.7 67.1V70.1M28.5 67.1V70.1M47.7 67.1V70.1M63.1 67.1V70.1" stroke="#000" stroke-width="1" fill="none"/>
<path d="M-1.7 3H0M-1.7 4.3H0M-1.7 8H0M-1.7 10.5H0M-1.7 13H0M-1.7 15H0M-1.7 17H0M-1.7 18.6H0M-1.7 20.2H0M-1.7 25H0M-1.7 28H0M-1.7 31H0M-1.7 33.5H0M-1.7 36H0M-1.7 37.8H0M-1.7 39.3H0M-1.7 43.5H0M-1.7 45.5H0M-1.7 47.2H0M-1.7 48.6H0M-1.7 49.8H0M-1.7 55H0M-1.7 56.4H0M-1.7 58H0M-1.7 59.8H0M-1.7 61.6H0M-1.7 65.5H0M0.8 67.1V68.7M4.8 67.1V68.7M6.6 67.1V68.7M8.2 67.1V68.7M9.6 67.1V68.7M10.8 67.1V68.7M11.9 67.1V68.7M12.9 67.1V68.7M18 67.1V68.7M19 67.1V68.7M20.2 67.1V68.7M21.5 67.1V68.7M23 67.1V68.7M24.8 67.1V68.7M26.6 67.1V68.7M31.5 67.1V68.7M34.5 67.1V68.7M37 67.1V68.7M39.5 67.1V68.7M41.5 67.1V68.7M43.3 67.1V68.7M44.8 67.1V68.7M46.3 67.1V68.7M52.5 67.1V68.7M55.5 67.1V68.7M57.8 67.1V68.7M59.5 67.1V68.7M60.8 67.1V68.7M62 67.1V68.7M65.5 67.1V68.7M67.5 67.1V68.7" stroke="#000" stroke-width="0.65" fill="none"/>
<rect x="-1.9" y="50.7" width="1.9" height="3.3" fill="#000"/>
<rect x="13.2" y="67.1" width="4.4" height="2" fill="#000"/>
<text x="-6" y="11.3" font-size="6.8" text-anchor="end" textLength="9.4" lengthAdjust="spacingAndGlyphs">10<tspan font-size="4.62" dy="-2.86">5</tspan></text>
<text x="-6" y="24.2" font-size="6.8" text-anchor="end" textLength="9.4" lengthAdjust="spacingAndGlyphs">10<tspan font-size="4.62" dy="-2.86">4</tspan></text>
<text x="-6" y="42.6" font-size="6.8" text-anchor="end" textLength="9.4" lengthAdjust="spacingAndGlyphs">10<tspan font-size="4.62" dy="-2.86">3</tspan></text>
<text x="-8.6" y="55.3" font-size="6.8" text-anchor="middle" textLength="3.5" lengthAdjust="spacingAndGlyphs">0</text>
<text x="-6" y="66.7" font-size="6.8" text-anchor="end" textLength="11.5" lengthAdjust="spacingAndGlyphs">-10<tspan font-size="4.62" dy="-2.86">3</tspan></text>
<text x="9" y="78.7" font-size="6.8" text-anchor="end" textLength="11.6" lengthAdjust="spacingAndGlyphs">-10<tspan font-size="4.62" dy="-2.86">3</tspan></text>
<text x="15.9" y="78.7" font-size="6.8" text-anchor="middle" textLength="3.5" lengthAdjust="spacingAndGlyphs">0</text>
<text x="32.9" y="78.7" font-size="6.8" text-anchor="end" textLength="9.4" lengthAdjust="spacingAndGlyphs">10<tspan font-size="4.62" dy="-2.86">3</tspan></text>
<text x="52.1" y="78.7" font-size="6.8" text-anchor="end" textLength="9.4" lengthAdjust="spacingAndGlyphs">10<tspan font-size="4.62" dy="-2.86">4</tspan></text>
<text x="67.9" y="78.7" font-size="6.8" text-anchor="end" textLength="9.4" lengthAdjust="spacingAndGlyphs">10<tspan font-size="4.62" dy="-2.86">5</tspan></text>
<text x="4" y="6.5" font-size="4.4" fill="#0d0d0d">P1</text>
<text x="2.4" y="11.8" font-size="4.4" fill="#0d0d0d">0,88</text>
<text x="68" y="6.9" font-size="4.4" text-anchor="end" fill="#0d0d0d">P2</text>
<text x="68" y="12.2" font-size="4.4" text-anchor="end" fill="#0d0d0d">14,1</text>
<text x="68" y="28.6" font-size="4.4" text-anchor="end" fill="#0d0d0d">P3</text>
<text x="68" y="33.9" font-size="4.4" text-anchor="end" fill="#0d0d0d">18,3</text>
<text x="68" y="59.2" font-size="4.4" text-anchor="end" fill="#0d0d0d">P4</text>
<text x="68" y="64.5" font-size="4.4" text-anchor="end" fill="#0d0d0d">59,8</text>
</g>
<g transform="translate(443.4 189.8)">
<path d="M49.5 14a5 5 0 1 1 10 0a5 5 0 1 1 -10 0zM48.8 18.4a5.5 5.5 0 1 1 10.9 0a5.5 5.5 0 1 1 -10.9 0zM48 24a6 6 0 1 1 12 0a6 6 0 1 1 -12 0zM47.4 29.6a6.3 6.3 0 1 1 12.6 0a6.3 6.3 0 1 1 -12.6 0zM47 34a6.5 6.5 0 1 1 13 0a6.5 6.5 0 1 1 -13 0zM59.5 14.2L59.7 18.6L48.8 18.1L49.5 13.8zM59.7 18.6L60 24.3L48 23.7L48.8 18.1zM60 24.3L60 29.9L47.4 29.3L48 23.7zM60 29.9L60 34.3L47 33.7L47.4 29.3z" fill="#8c8c8c"/>
<path d="M49.9 14a4.6 4.6 0 1 1 9.2 0a4.6 4.6 0 1 1 -9.2 0zM49.2 18.4a5.1 5.1 0 1 1 10.2 0a5.1 5.1 0 1 1 -10.2 0zM48.4 24a5.6 5.6 0 1 1 11.2 0a5.6 5.6 0 1 1 -11.2 0zM47.8 29.6a5.9 5.9 0 1 1 11.9 0a5.9 5.9 0 1 1 -11.9 0zM47.4 34a6.1 6.1 0 1 1 12.2 0a6.1 6.1 0 1 1 -12.2 0zM59.1 14.2L59.4 18.6L49.2 18.1L49.9 13.8zM59.4 18.6L59.6 24.3L48.4 23.7L49.2 18.1zM59.6 24.3L59.6 29.9L47.8 29.3L48.4 23.7zM59.6 29.9L59.6 34.3L47.4 33.7L47.8 29.3z" fill="#f6f6f6"/>
<path d="M50.9 14a3.6 3.6 0 1 1 7.2 0a3.6 3.6 0 1 1 -7.2 0zM50.3 18.4a3.9 3.9 0 1 1 7.9 0a3.9 3.9 0 1 1 -7.9 0zM49.7 24a4.3 4.3 0 1 1 8.6 0a4.3 4.3 0 1 1 -8.6 0zM49.2 29.6a4.5 4.5 0 1 1 9.1 0a4.5 4.5 0 1 1 -9.1 0zM48.8 34a4.7 4.7 0 1 1 9.4 0a4.7 4.7 0 1 1 -9.4 0zM58.1 14.2L58.2 18.6L50.3 18.2L50.9 13.8zM58.2 18.6L58.3 24.2L49.7 23.8L50.3 18.2zM58.3 24.2L58.3 29.9L49.2 29.4L49.7 23.8zM58.3 29.9L58.2 34.2L48.8 33.8L49.2 29.4z" fill="#8c8c8c"/>
<path d="M51.3 14a3.2 3.2 0 1 1 6.4 0a3.2 3.2 0 1 1 -6.4 0zM50.7 18.4a3.6 3.6 0 1 1 7.1 0a3.6 3.6 0 1 1 -7.1 0zM50.1 24a3.9 3.9 0 1 1 7.9 0a3.9 3.9 0 1 1 -7.9 0zM49.6 29.6a4.2 4.2 0 1 1 8.3 0a4.2 4.2 0 1 1 -8.3 0zM49.2 34a4.3 4.3 0 1 1 8.6 0a4.3 4.3 0 1 1 -8.6 0zM57.7 14.2L57.8 18.6L50.7 18.2L51.3 13.8zM57.8 18.6L57.9 24.2L50.1 23.8L50.7 18.2zM57.9 24.2L57.9 29.8L49.6 29.4L50.1 23.8zM57.9 29.8L57.8 34.2L49.2 33.8L49.6 29.4z" fill="#f6f6f6"/>
<path d="M52.2 14a2.3 2.3 0 1 1 4.6 0a2.3 2.3 0 1 1 -4.6 0zM51.8 18.4a2.5 2.5 0 1 1 5 0a2.5 2.5 0 1 1 -5 0zM51.2 24a2.8 2.8 0 1 1 5.5 0a2.8 2.8 0 1 1 -5.5 0zM50.8 29.6a2.9 2.9 0 1 1 5.8 0a2.9 2.9 0 1 1 -5.8 0zM50.5 34a3 3 0 1 1 6 0a3 3 0 1 1 -6 0zM56.8 14.1L56.8 18.5L51.8 18.2L52.2 13.9zM56.8 18.5L56.8 24.1L51.2 23.9L51.8 18.2zM56.8 24.1L56.6 29.8L50.8 29.5L51.2 23.9zM56.6 29.8L56.5 34.1L50.5 33.9L50.8 29.5z" fill="#8c8c8c"/>
<path d="M52.6 14a1.9 1.9 0 1 1 3.8 0a1.9 1.9 0 1 1 -3.8 0zM52.1 18.4a2.1 2.1 0 1 1 4.3 0a2.1 2.1 0 1 1 -4.3 0zM51.6 24a2.4 2.4 0 1 1 4.8 0a2.4 2.4 0 1 1 -4.8 0zM51.2 29.6a2.5 2.5 0 1 1 5 0a2.5 2.5 0 1 1 -5 0zM50.9 34a2.6 2.6 0 1 1 5.2 0a2.6 2.6 0 1 1 -5.2 0zM56.4 14.1L56.4 18.5L52.1 18.3L52.6 13.9zM56.4 18.5L56.4 24.1L51.6 23.9L52.1 18.3zM56.4 24.1L56.2 29.8L51.2 29.5L51.6 23.9zM56.2 29.8L56.1 34.1L50.9 33.9L51.2 29.5z" fill="#f6f6f6"/>
<path d="M53.5 14a1 1 0 1 1 2 0a1 1 0 1 1 -2 0zM53.2 18.4a1.1 1.1 0 1 1 2.2 0a1.1 1.1 0 1 1 -2.2 0zM52.8 24a1.2 1.2 0 1 1 2.4 0a1.2 1.2 0 1 1 -2.4 0zM52.5 29.6a1.3 1.3 0 1 1 2.5 0a1.3 1.3 0 1 1 -2.5 0zM52.2 34a1.3 1.3 0 1 1 2.6 0a1.3 1.3 0 1 1 -2.6 0zM55.5 14L55.4 18.4L53.2 18.3L53.5 14zM55.4 18.4L55.2 24.1L52.8 23.9L53.2 18.3zM55.2 24.1L55 29.7L52.5 29.6L52.8 23.9zM55 29.7L54.8 34.1L52.2 33.9L52.5 29.6z" fill="#8c8c8c"/>
<path d="M53.9 14a0.6 0.6 0 1 1 1.2 0a0.6 0.6 0 1 1 -1.2 0zM53.6 18.4a0.7 0.7 0 1 1 1.4 0a0.7 0.7 0 1 1 -1.4 0zM53.2 24a0.8 0.8 0 1 1 1.6 0a0.8 0.8 0 1 1 -1.6 0zM52.8 29.6a0.9 0.9 0 1 1 1.8 0a0.9 0.9 0 1 1 -1.8 0zM52.6 34a0.9 0.9 0 1 1 1.8 0a0.9 0.9 0 1 1 -1.8 0zM55.1 14L55 18.4L53.6 18.3L53.9 14zM55 18.4L54.8 24L53.2 24L53.6 18.3zM54.8 24L54.6 29.7L52.8 29.6L53.2 24zM54.6 29.7L54.4 34L52.6 34L52.8 29.6z" fill="#f6f6f6"/>
<path d="M37 47a7 7 0 1 1 14 0a7 7 0 1 1 -14 0zM38.5 46.5a8.1 8.1 0 1 1 16.2 0a8.1 8.1 0 1 1 -16.2 0zM40.8 46a9.2 9.2 0 1 1 18.4 0a9.2 9.2 0 1 1 -18.4 0zM44 45.9a9.3 9.3 0 1 1 18.7 0a9.3 9.3 0 1 1 -18.7 0zM46.8 46a9.2 9.2 0 1 1 18.4 0a9.2 9.2 0 1 1 -18.4 0zM42.7 40.1L45.1 38.5L48.1 54.5L45.3 53.9zM45.4 38.5L48.7 36.9L51.3 55.1L47.8 54.5zM49.8 36.8L53.2 36.6L53.5 55.3L50.2 55.2zM53.6 36.6L56.2 36.8L55.8 55.2L53.2 55.3z" fill="#808080"/>
<path d="M37.4 47a6.6 6.6 0 1 1 13.3 0a6.6 6.6 0 1 1 -13.3 0zM38.9 46.5a7.7 7.7 0 1 1 15.5 0a7.7 7.7 0 1 1 -15.5 0zM41.2 46a8.8 8.8 0 1 1 17.7 0a8.8 8.8 0 1 1 -17.7 0zM44.4 45.9a9 9 0 1 1 18 0a9 9 0 1 1 -18 0zM47.2 46a8.8 8.8 0 1 1 17.7 0a8.8 8.8 0 1 1 -17.7 0zM42.8 40.5L45.2 38.9L48.1 54.1L45.2 53.5zM45.5 38.8L48.7 37.3L51.3 54.7L47.8 54.2zM49.8 37.2L53.2 37L53.5 54.9L50.2 54.8zM53.6 37L56.2 37.2L55.8 54.8L53.2 54.9z" fill="#e6e6e6"/>
<path d="M38.3 47a5.7 5.7 0 1 1 11.5 0a5.7 5.7 0 1 1 -11.5 0zM40 46.5a6.6 6.6 0 1 1 13.3 0a6.6 6.6 0 1 1 -13.3 0zM42.5 46a7.5 7.5 0 1 1 15.1 0a7.5 7.5 0 1 1 -15.1 0zM45.7 45.9a7.7 7.7 0 1 1 15.3 0a7.7 7.7 0 1 1 -15.3 0zM48.5 46a7.5 7.5 0 1 1 15.1 0a7.5 7.5 0 1 1 -15.1 0zM42.9 41.4L45.4 40L47.9 53L45.1 52.6zM45.7 39.9L48.9 38.5L51.1 53.5L47.6 53.1zM49.9 38.5L53.2 38.3L53.5 53.6L50.1 53.5zM53.6 38.3L56.2 38.5L55.8 53.5L53.2 53.6z" fill="#808080"/>
<path d="M38.6 47a5.4 5.4 0 1 1 10.8 0a5.4 5.4 0 1 1 -10.8 0zM40.3 46.5a6.3 6.3 0 1 1 12.6 0a6.3 6.3 0 1 1 -12.6 0zM42.8 46a7.2 7.2 0 1 1 14.4 0a7.2 7.2 0 1 1 -14.4 0zM46.1 45.9a7.3 7.3 0 1 1 14.6 0a7.3 7.3 0 1 1 -14.6 0zM48.8 46a7.2 7.2 0 1 1 14.4 0a7.2 7.2 0 1 1 -14.4 0zM43 41.7L45.4 40.3L47.8 52.7L45 52.3zM45.7 40.3L48.9 38.9L51.1 53.1L47.5 52.7zM49.9 38.8L53.2 38.6L53.5 53.2L50.1 53.2zM53.5 38.6L56.2 38.8L55.8 53.2L53.2 53.2z" fill="#d3d3d3"/>
<path d="M43.5 46.8a5 5 0 1 1 10 0a5 5 0 1 1 -10 0zM47.1 46.6a5.2 5.2 0 1 1 10.5 0a5.2 5.2 0 1 1 -10.5 0zM50.8 46.5a5.5 5.5 0 1 1 11 0a5.5 5.5 0 1 1 -11 0zM48.3 41.8L52.2 41.4L52.6 51.9L48.7 51.8zM52.2 41.4L56.1 41L56.5 52L52.6 51.9z" fill="#6a6a6a"/>
<path d="M43.9 46.8a4.6 4.6 0 1 1 9.3 0a4.6 4.6 0 1 1 -9.3 0zM47.5 46.6a4.9 4.9 0 1 1 9.8 0a4.9 4.9 0 1 1 -9.8 0zM51.2 46.5a5.1 5.1 0 1 1 10.3 0a5.1 5.1 0 1 1 -10.3 0zM48.3 42.2L52.2 41.8L52.6 51.5L48.7 51.4zM52.2 41.8L56.1 41.4L56.5 51.6L52.6 51.5z" fill="#bcbcbc"/>
<path d="M45 46.8a3.5 3.5 0 1 1 7 0a3.5 3.5 0 1 1 -7 0zM48.7 46.6a3.7 3.7 0 1 1 7.3 0a3.7 3.7 0 1 1 -7.3 0zM52.4 46.5a3.8 3.8 0 1 1 7.7 0a3.8 3.8 0 1 1 -7.7 0zM48.4 43.3L52.3 43L52.5 50.3L48.6 50.3zM52.3 43L56.2 42.7L56.4 50.3L52.5 50.3z" fill="#6a6a6a"/>
<path d="M45.4 46.8a3.1 3.1 0 1 1 6.3 0a3.1 3.1 0 1 1 -6.3 0zM49.1 46.6a3.3 3.3 0 1 1 6.6 0a3.3 3.3 0 1 1 -6.6 0zM52.8 46.5a3.5 3.5 0 1 1 7 0a3.5 3.5 0 1 1 -7 0zM48.4 43.7L52.3 43.3L52.5 50L48.6 49.9zM52.3 43.3L56.2 43L56.4 50L52.5 50z" fill="#a6a6a6"/>
<path d="M46.4 46.8a2.1 2.1 0 1 1 4.2 0a2.1 2.1 0 1 1 -4.2 0zM50.2 46.6a2.2 2.2 0 1 1 4.4 0a2.2 2.2 0 1 1 -4.4 0zM54 46.5a2.3 2.3 0 1 1 4.6 0a2.3 2.3 0 1 1 -4.6 0zM48.4 44.7L52.3 44.4L52.5 48.9L48.6 48.9zM52.3 44.4L56.2 44.2L56.4 48.8L52.5 48.9z" fill="#6a6a6a"/>
<path d="M46.8 46.8a1.7 1.7 0 1 1 3.5 0a1.7 1.7 0 1 1 -3.5 0zM50.6 46.6a1.8 1.8 0 1 1 3.7 0a1.8 1.8 0 1 1 -3.7 0zM54.3 46.5a2 2 0 1 1 3.9 0a2 2 0 1 1 -3.9 0zM48.4 45.1L52.3 44.8L52.5 48.5L48.6 48.5zM52.3 44.8L56.2 44.6L56.4 48.4L52.5 48.5z" fill="#949494"/>
<path d="M47.7 46.8a0.8 0.8 0 1 1 1.6 0a0.8 0.8 0 1 1 -1.6 0zM51.6 46.6a0.8 0.8 0 1 1 1.7 0a0.8 0.8 0 1 1 -1.7 0zM55.4 46.5a0.9 0.9 0 1 1 1.8 0a0.9 0.9 0 1 1 -1.8 0zM48.5 46L52.4 45.8L52.4 47.5L48.5 47.6zM52.4 45.8L56.3 45.6L56.3 47.4L52.4 47.5z" fill="#6a6a6a"/>
<path d="M48.1 46.8a0.4 0.4 0 1 1 0.9 0a0.4 0.4 0 1 1 -0.9 0zM51.9 46.6a0.5 0.5 0 1 1 1 0a0.5 0.5 0 1 1 -1 0zM55.8 46.5a0.5 0.5 0 1 1 1 0a0.5 0.5 0 1 1 -1 0zM48.5 46.4L52.4 46.2L52.4 47.1L48.5 47.2zM52.4 46.2L56.3 46L56.3 47L52.4 47.1z" fill="#e2e2e2"/>
<rect x="0" y="0" width="69.3" height="67.1" fill="none" stroke="#0a0a0a" stroke-width="1.35"/>
<line x1="0" y1="22.5" x2="69.3" y2="22.5" stroke="#0a0a0a" stroke-width="1.35"/>
<line x1="38.75" y1="0" x2="38.75" y2="67.1" stroke="#0a0a0a" stroke-width="1.35"/>
<line x1="38.75" y1="36.6" x2="69.3" y2="36.6" stroke="#0a0a0a" stroke-width="1.35"/>
<path d="M-3.1 6H0M-3.1 21.9H0M-3.1 40.7H0M-3.1 63.6H0M2.7 67.1V70.1M28.5 67.1V70.1M47.7 67.1V70.1M63.1 67.1V70.1" stroke="#000" stroke-width="1" fill="none"/>
<path d="M-1.7 3H0M-1.7 4.3H0M-1.7 8H0M-1.7 10.5H0M-1.7 13H0M-1.7 15H0M-1.7 17H0M-1.7 18.6H0M-1.7 20.2H0M-1.7 25H0M-1.7 28H0M-1.7 31H0M-1.7 33.5H0M-1.7 36H0M-1.7 37.8H0M-1.7 39.3H0M-1.7 43.5H0M-1.7 45.5H0M-1.7 47.2H0M-1.7 48.6H0M-1.7 49.8H0M-1.7 55H0M-1.7 56.4H0M-1.7 58H0M-1.7 59.8H0M-1.7 61.6H0M-1.7 65.5H0M0.8 67.1V68.7M4.8 67.1V68.7M6.6 67.1V68.7M8.2 67.1V68.7M9.6 67.1V68.7M10.8 67.1V68.7M11.9 67.1V68.7M12.9 67.1V68.7M18 67.1V68.7M19 67.1V68.7M20.2 67.1V68.7M21.5 67.1V68.7M23 67.1V68.7M24.8 67.1V68.7M26.6 67.1V68.7M31.5 67.1V68.7M34.5 67.1V68.7M37 67.1V68.7M39.5 67.1V68.7M41.5 67.1V68.7M43.3 67.1V68.7M44.8 67.1V68.7M46.3 67.1V68.7M52.5 67.1V68.7M55.5 67.1V68.7M57.8 67.1V68.7M59.5 67.1V68.7M60.8 67.1V68.7M62 67.1V68.7M65.5 67.1V68.7M67.5 67.1V68.7" stroke="#000" stroke-width="0.65" fill="none"/>
<rect x="-1.9" y="50.7" width="1.9" height="3.3" fill="#000"/>
<rect x="13.2" y="67.1" width="4.4" height="2" fill="#000"/>
<text x="-6" y="11.3" font-size="6.8" text-anchor="end" textLength="9.4" lengthAdjust="spacingAndGlyphs">10<tspan font-size="4.62" dy="-2.86">5</tspan></text>
<text x="-6" y="24.2" font-size="6.8" text-anchor="end" textLength="9.4" lengthAdjust="spacingAndGlyphs">10<tspan font-size="4.62" dy="-2.86">4</tspan></text>
<text x="-6" y="42.6" font-size="6.8" text-anchor="end" textLength="9.4" lengthAdjust="spacingAndGlyphs">10<tspan font-size="4.62" dy="-2.86">3</tspan></text>
<text x="-8.6" y="55.3" font-size="6.8" text-anchor="middle" textLength="3.5" lengthAdjust="spacingAndGlyphs">0</text>
<text x="-6" y="66.7" font-size="6.8" text-anchor="end" textLength="11.5" lengthAdjust="spacingAndGlyphs">-10<tspan font-size="4.62" dy="-2.86">3</tspan></text>
<text x="9" y="78.7" font-size="6.8" text-anchor="end" textLength="11.6" lengthAdjust="spacingAndGlyphs">-10<tspan font-size="4.62" dy="-2.86">3</tspan></text>
<text x="15.9" y="78.7" font-size="6.8" text-anchor="middle" textLength="3.5" lengthAdjust="spacingAndGlyphs">0</text>
<text x="32.9" y="78.7" font-size="6.8" text-anchor="end" textLength="9.4" lengthAdjust="spacingAndGlyphs">10<tspan font-size="4.62" dy="-2.86">3</tspan></text>
<text x="52.1" y="78.7" font-size="6.8" text-anchor="end" textLength="9.4" lengthAdjust="spacingAndGlyphs">10<tspan font-size="4.62" dy="-2.86">4</tspan></text>
<text x="67.9" y="78.7" font-size="6.8" text-anchor="end" textLength="9.4" lengthAdjust="spacingAndGlyphs">10<tspan font-size="4.62" dy="-2.86">5</tspan></text>
<text x="4" y="6.5" font-size="4.4" fill="#0d0d0d">P1</text>
<text x="2.4" y="11.8" font-size="4.4" fill="#0d0d0d">0,12</text>
<text x="68" y="6.9" font-size="4.4" text-anchor="end" fill="#0d0d0d">P2</text>
<text x="68" y="12.2" font-size="4.4" text-anchor="end" fill="#0d0d0d">9,41</text>
<text x="68" y="28.6" font-size="4.4" text-anchor="end" fill="#0d0d0d">P3</text>
<text x="68" y="33.9" font-size="4.4" text-anchor="end" fill="#0d0d0d">16,4</text>
<text x="68" y="59.2" font-size="4.4" text-anchor="end" fill="#0d0d0d">P4</text>
<text x="68" y="64.5" font-size="4.4" text-anchor="end" fill="#0d0d0d">72,8</text>
</g>
<g transform="translate(56.2 274.6)">
<path d="M37 12a3 3 0 1 1 6 0a3 3 0 1 1 -6 0zM34.5 14.1a2.5 2.5 0 1 1 5 0a2.5 2.5 0 1 1 -5 0zM31 17a2 2 0 1 1 4 0a2 2 0 1 1 -4 0zM26.9 20.1a2 2 0 1 1 4 0a2 2 0 1 1 -4 0zM22.8 23a2.2 2.2 0 1 1 4.4 0a2.2 2.2 0 1 1 -4.4 0zM19.1 25.4a2.4 2.4 0 1 1 4.7 0a2.4 2.4 0 1 1 -4.7 0zM16.5 27a2.5 2.5 0 1 1 5 0a2.5 2.5 0 1 1 -5 0zM41.7 14.4L38.4 16.2L35.6 12.1L38.3 9.6zM38.5 16.1L34.2 18.6L31.8 15.4L35.5 12.1zM34.2 18.6L30.2 21.7L27.7 18.5L31.8 15.4zM30.1 21.7L26.3 24.8L23.7 21.2L27.7 18.4zM26.2 24.8L22.8 27.3L20.2 23.4L23.8 21.2zM22.8 27.4L20.4 29.1L17.6 24.9L20.2 23.4zM20 30a2 2 0 1 1 4 0a2 2 0 1 1 -4 0zM23.3 29.7a2.2 2.2 0 1 1 4.5 0a2.2 2.2 0 1 1 -4.5 0zM27.5 29a2.5 2.5 0 1 1 5 0a2.5 2.5 0 1 1 -5 0zM31.1 27.8a2.5 2.5 0 1 1 5 0a2.5 2.5 0 1 1 -5 0zM34.5 26a2.5 2.5 0 1 1 5 0a2.5 2.5 0 1 1 -5 0zM38.2 22.8a2.8 2.8 0 1 1 5.5 0a2.8 2.8 0 1 1 -5.5 0zM41 20a3 3 0 1 1 6 0a3 3 0 1 1 -6 0zM21.8 28L25.4 27.4L25.8 31.9L22.2 32zM25.2 27.5L29.6 26.5L30.4 31.5L25.9 31.9zM29.2 26.6L32.8 25.4L34.4 30.2L30.8 31.4zM32.4 25.6L35.8 23.8L38.2 28.2L34.7 30zM35.4 24.1L39.2 20.7L42.7 24.9L38.6 27.9zM39.1 20.8L42 17.8L46 22.2L42.8 24.8z" fill="#8c8c8c"/>
<path d="M37.4 12a2.6 2.6 0 1 1 5.2 0a2.6 2.6 0 1 1 -5.2 0zM34.9 14.1a2.1 2.1 0 1 1 4.2 0a2.1 2.1 0 1 1 -4.2 0zM31.4 17a1.6 1.6 0 1 1 3.2 0a1.6 1.6 0 1 1 -3.2 0zM27.3 20.1a1.6 1.6 0 1 1 3.3 0a1.6 1.6 0 1 1 -3.3 0zM23.2 23a1.8 1.8 0 1 1 3.6 0a1.8 1.8 0 1 1 -3.6 0zM19.5 25.4a2 2 0 1 1 4 0a2 2 0 1 1 -4 0zM16.9 27a2.1 2.1 0 1 1 4.2 0a2.1 2.1 0 1 1 -4.2 0zM41.5 14.1L38.2 15.8L35.8 12.4L38.5 9.9zM38.2 15.8L33.9 18.3L32.1 15.7L35.8 12.4zM34 18.3L29.9 21.4L28 18.8L32 15.7zM29.9 21.4L26.1 24.5L23.9 21.5L28 18.7zM26 24.5L22.6 27L20.4 23.7L24 21.5zM22.6 27L20.2 28.8L17.8 25.2L20.4 23.7zM20.4 30a1.6 1.6 0 1 1 3.2 0a1.6 1.6 0 1 1 -3.2 0zM23.7 29.7a1.9 1.9 0 1 1 3.7 0a1.9 1.9 0 1 1 -3.7 0zM27.9 29a2.1 2.1 0 1 1 4.2 0a2.1 2.1 0 1 1 -4.2 0zM31.4 27.8a2.1 2.1 0 1 1 4.2 0a2.1 2.1 0 1 1 -4.2 0zM34.9 26a2.1 2.1 0 1 1 4.2 0a2.1 2.1 0 1 1 -4.2 0zM38.6 22.8a2.4 2.4 0 1 1 4.7 0a2.4 2.4 0 1 1 -4.7 0zM41.4 20a2.6 2.6 0 1 1 5.2 0a2.6 2.6 0 1 1 -5.2 0zM21.9 28.4L25.4 27.8L25.7 31.6L22.1 31.6zM25.3 27.8L29.7 26.9L30.3 31.1L25.8 31.5zM29.3 27L32.9 25.8L34.2 29.8L30.7 31zM32.6 25.9L36 24.1L38 27.9L34.6 29.7zM35.7 24.4L39.4 21L42.4 24.7L38.3 27.6zM39.3 21.1L42.2 18.1L45.8 21.9L42.5 24.6z" fill="#fff"/>
<path d="M38.5 12a1.5 1.5 0 1 1 3 0a1.5 1.5 0 1 1 -3 0zM35.8 14.1a1.2 1.2 0 1 1 2.5 0a1.2 1.2 0 1 1 -2.5 0zM32 17a1 1 0 1 1 2 0a1 1 0 1 1 -2 0zM27.9 20.1a1 1 0 1 1 2 0a1 1 0 1 1 -2 0zM23.9 23a1.1 1.1 0 1 1 2.2 0a1.1 1.1 0 1 1 -2.2 0zM20.3 25.4a1.2 1.2 0 1 1 2.4 0a1.2 1.2 0 1 1 -2.4 0zM17.8 27a1.2 1.2 0 1 1 2.5 0a1.2 1.2 0 1 1 -2.5 0zM40.9 13.2L37.7 15.1L36.3 13.1L39.1 10.8zM37.7 15.1L33.6 17.8L32.4 16.2L36.3 13.1zM33.6 17.8L29.5 20.9L28.3 19.3L32.4 16.2zM29.5 20.9L25.7 23.9L24.3 22.1L28.3 19.3zM25.6 23.9L22.2 26.4L20.8 24.4L24.4 22.1zM22.1 26.4L19.7 28L18.3 26L20.9 24.4zM21 30a1 1 0 1 1 2 0a1 1 0 1 1 -2 0zM24.4 29.7a1.1 1.1 0 1 1 2.2 0a1.1 1.1 0 1 1 -2.2 0zM28.8 29a1.2 1.2 0 1 1 2.5 0a1.2 1.2 0 1 1 -2.5 0zM32.3 27.8a1.2 1.2 0 1 1 2.5 0a1.2 1.2 0 1 1 -2.5 0zM35.8 26a1.2 1.2 0 1 1 2.5 0a1.2 1.2 0 1 1 -2.5 0zM39.6 22.8a1.4 1.4 0 1 1 2.8 0a1.4 1.4 0 1 1 -2.8 0zM42.5 20a1.5 1.5 0 1 1 3 0a1.5 1.5 0 1 1 -3 0zM21.9 29L25.5 28.6L25.7 30.8L22.1 31zM25.4 28.6L29.8 27.8L30.2 30.2L25.7 30.8zM29.6 27.8L33.2 26.6L34 29L30.4 30.2zM33 26.7L36.4 24.9L37.6 27.1L34.1 28.9zM36.2 25L40.1 21.7L41.8 23.9L37.8 27zM40 21.8L43 18.9L45 21.1L41.9 23.8z" fill="#8c8c8c"/>
<path d="M38.9 12a1.1 1.1 0 1 1 2.2 0a1.1 1.1 0 1 1 -2.2 0zM36.1 14.1a0.9 0.9 0 1 1 1.7 0a0.9 0.9 0 1 1 -1.7 0zM32.4 17a0.6 0.6 0 1 1 1.2 0a0.6 0.6 0 1 1 -1.2 0zM28.3 20.1a0.6 0.6 0 1 1 1.3 0a0.6 0.6 0 1 1 -1.3 0zM24.3 23a0.7 0.7 0 1 1 1.4 0a0.7 0.7 0 1 1 -1.4 0zM20.7 25.4a0.8 0.8 0 1 1 1.6 0a0.8 0.8 0 1 1 -1.6 0zM18.1 27a0.9 0.9 0 1 1 1.7 0a0.9 0.9 0 1 1 -1.7 0zM40.6 12.9L37.5 14.8L36.5 13.4L39.4 11.1zM37.5 14.8L33.4 17.5L32.6 16.5L36.5 13.4zM33.4 17.5L29.3 20.6L28.6 19.6L32.6 16.5zM29.3 20.6L25.4 23.6L24.6 22.4L28.6 19.6zM25.4 23.6L21.9 26L21.1 24.7L24.6 22.4zM21.9 26L19.5 27.7L18.5 26.3L21.1 24.7zM21.4 30a0.6 0.6 0 1 1 1.2 0a0.6 0.6 0 1 1 -1.2 0zM24.8 29.7a0.7 0.7 0 1 1 1.5 0a0.7 0.7 0 1 1 -1.5 0zM29.1 29a0.9 0.9 0 1 1 1.7 0a0.9 0.9 0 1 1 -1.7 0zM32.7 27.8a0.9 0.9 0 1 1 1.7 0a0.9 0.9 0 1 1 -1.7 0zM36.1 26a0.9 0.9 0 1 1 1.7 0a0.9 0.9 0 1 1 -1.7 0zM39.9 22.8a1 1 0 1 1 2 0a1 1 0 1 1 -2 0zM42.9 20a1.1 1.1 0 1 1 2.2 0a1.1 1.1 0 1 1 -2.2 0zM21.9 29.4L25.5 28.9L25.6 30.4L22.1 30.6zM25.4 29L29.9 28.1L30.1 29.9L25.7 30.4zM29.7 28.2L33.3 27L33.8 28.6L30.3 29.8zM33.2 27L36.6 25.2L37.4 26.8L34 28.6zM36.5 25.3L40.3 22L41.6 23.6L37.5 26.7zM40.3 22.1L43.2 19.2L44.8 20.8L41.6 23.5z" fill="#fff"/>
<path d="M41 8a6 6 0 1 1 12 0a6 6 0 1 1 -12 0zM42.9 8a6.3 6.3 0 1 1 12.6 0a6.3 6.3 0 1 1 -12.6 0zM45.5 8.5a6.5 6.5 0 1 1 13 0a6.5 6.5 0 1 1 -13 0zM48.3 9.8a6.3 6.3 0 1 1 12.7 0a6.3 6.3 0 1 1 -12.7 0zM51 12a6 6 0 1 1 12 0a6 6 0 1 1 -12 0zM52.8 15.3a5.6 5.6 0 1 1 11.2 0a5.6 5.6 0 1 1 -11.2 0zM54 20a5.3 5.3 0 1 1 10.6 0a5.3 5.3 0 1 1 -10.6 0zM54.2 27.1a5.3 5.3 0 1 1 10.5 0a5.3 5.3 0 1 1 -10.5 0zM54 35a5.3 5.3 0 1 1 10.6 0a5.3 5.3 0 1 1 -10.6 0zM54 43.4a5.3 5.3 0 1 1 10.6 0a5.3 5.3 0 1 1 -10.6 0zM54 50a5.3 5.3 0 1 1 10.6 0a5.3 5.3 0 1 1 -10.6 0zM47.1 2L49.3 1.8L49.1 14.3L46.9 14zM50.2 1.8L53.1 2.1L50.9 14.9L48.2 14.2zM54.8 2.6L57.4 4.1L51.9 15.5L49.2 14.4zM59 5.2L61.1 7.7L52.9 16.3L50.3 14.4zM62.5 9.6L63.6 13L53.3 17.6L51.5 14.4zM64 14.3L64.5 19.1L54.1 20.9L52.9 16.3zM64.6 19.9L64.7 27L54.2 27.2L54 20.1zM64.7 27.2L64.6 35.1L54 34.9L54.2 27zM64.6 35L64.6 43.4L54 43.4L54 35zM64.6 43.4L64.6 50L54 50L54 43.4z" fill="#808080"/>
<path d="M41.4 8a5.6 5.6 0 1 1 11.3 0a5.6 5.6 0 1 1 -11.3 0zM43.3 8a5.9 5.9 0 1 1 11.8 0a5.9 5.9 0 1 1 -11.8 0zM45.9 8.5a6.1 6.1 0 1 1 12.3 0a6.1 6.1 0 1 1 -12.3 0zM48.7 9.8a6 6 0 1 1 11.9 0a6 6 0 1 1 -11.9 0zM51.4 12a5.6 5.6 0 1 1 11.3 0a5.6 5.6 0 1 1 -11.3 0zM53.2 15.3a5.3 5.3 0 1 1 10.5 0a5.3 5.3 0 1 1 -10.5 0zM54.4 20a4.9 4.9 0 1 1 9.9 0a4.9 4.9 0 1 1 -9.9 0zM54.5 27.1a4.9 4.9 0 1 1 9.8 0a4.9 4.9 0 1 1 -9.8 0zM54.4 35a4.9 4.9 0 1 1 9.9 0a4.9 4.9 0 1 1 -9.9 0zM54.4 43.4a4.9 4.9 0 1 1 9.9 0a4.9 4.9 0 1 1 -9.9 0zM54.4 50a4.9 4.9 0 1 1 9.9 0a4.9 4.9 0 1 1 -9.9 0zM47.1 2.4L49.3 2.1L49.1 14L46.9 13.6zM50.2 2.2L53 2.4L51 14.6L48.2 13.9zM54.7 3L57.3 4.4L52.1 15.2L49.3 14zM58.8 5.5L60.9 7.9L53.1 16.1L50.6 14.1zM62.2 9.7L63.3 13.1L53.7 17.4L51.8 14.3zM63.6 14.4L64.2 19.1L54.4 20.9L53.3 16.2zM64.2 19.9L64.3 27L54.5 27.2L54.4 20.1zM64.3 27.2L64.2 35.1L54.4 34.9L54.5 27zM64.2 35L64.2 43.4L54.4 43.4L54.4 35zM64.2 43.4L64.2 50L54.4 50L54.4 43.4z" fill="#e6e6e6"/>
<path d="M42.1 8a4.9 4.9 0 1 1 9.8 0a4.9 4.9 0 1 1 -9.8 0zM44 8a5.2 5.2 0 1 1 10.3 0a5.2 5.2 0 1 1 -10.3 0zM46.7 8.5a5.3 5.3 0 1 1 10.7 0a5.3 5.3 0 1 1 -10.7 0zM49.5 9.8a5.2 5.2 0 1 1 10.4 0a5.2 5.2 0 1 1 -10.4 0zM52.1 12a4.9 4.9 0 1 1 9.8 0a4.9 4.9 0 1 1 -9.8 0zM53.9 15.3a4.6 4.6 0 1 1 9.2 0a4.6 4.6 0 1 1 -9.2 0zM55 20a4.3 4.3 0 1 1 8.7 0a4.3 4.3 0 1 1 -8.7 0zM55.1 27.1a4.3 4.3 0 1 1 8.6 0a4.3 4.3 0 1 1 -8.6 0zM55 35a4.3 4.3 0 1 1 8.7 0a4.3 4.3 0 1 1 -8.7 0zM55 43.4a4.3 4.3 0 1 1 8.7 0a4.3 4.3 0 1 1 -8.7 0zM55 50a4.3 4.3 0 1 1 8.7 0a4.3 4.3 0 1 1 -8.7 0zM47.1 3.1L49.3 2.9L49.1 13.2L46.9 12.9zM50 3L52.9 3.2L51.1 13.8L48.3 13.1zM54.3 3.7L56.9 5.1L52.4 14.5L49.7 13.3zM58.2 6L60.4 8.4L53.6 15.6L51.1 13.5zM61.5 10L62.7 13.4L54.3 17.2L52.5 14zM63 14.5L63.6 19.2L55 20.8L53.9 16.1zM63.6 19.9L63.8 27L55.1 27.2L55 20.1zM63.8 27.1L63.6 35.1L55 34.9L55.1 27zM63.6 35L63.6 43.4L55 43.4L55 35zM63.6 43.4L63.6 50L55 50L55 43.4z" fill="#808080"/>
<path d="M42.4 8a4.6 4.6 0 1 1 9.1 0a4.6 4.6 0 1 1 -9.1 0zM44.4 8a4.8 4.8 0 1 1 9.6 0a4.8 4.8 0 1 1 -9.6 0zM47 8.5a5 5 0 1 1 9.9 0a5 5 0 1 1 -9.9 0zM49.8 9.8a4.8 4.8 0 1 1 9.7 0a4.8 4.8 0 1 1 -9.7 0zM52.4 12a4.6 4.6 0 1 1 9.1 0a4.6 4.6 0 1 1 -9.1 0zM54.2 15.3a4.2 4.2 0 1 1 8.5 0a4.2 4.2 0 1 1 -8.5 0zM55.3 20a4 4 0 1 1 8 0a4 4 0 1 1 -8 0zM55.5 27.1a4 4 0 1 1 7.9 0a4 4 0 1 1 -7.9 0zM55.3 35a4 4 0 1 1 8 0a4 4 0 1 1 -8 0zM55.3 43.4a4 4 0 1 1 8 0a4 4 0 1 1 -8 0zM55.3 50a4 4 0 1 1 8 0a4 4 0 1 1 -8 0zM47.1 3.4L49.3 3.2L49.1 12.8L46.9 12.6zM50 3.3L52.8 3.6L51.2 13.4L48.4 12.8zM54.2 4L56.8 5.4L52.6 14.1L49.8 13zM58 6.3L60.1 8.7L53.9 15.3L51.3 13.3zM61.2 10.1L62.3 13.6L54.6 17L52.8 13.9zM62.6 14.5L63.2 19.3L55.4 20.7L54.3 16zM63.3 19.9L63.4 27L55.5 27.1L55.3 20.1zM63.4 27.1L63.3 35.1L55.3 34.9L55.5 27zM63.3 35L63.3 43.4L55.3 43.4L55.3 35zM63.3 43.4L63.3 50L55.3 50L55.3 43.4z" fill="#d3d3d3"/>
<path d="M44.5 8a3.5 3.5 0 1 1 7 0a3.5 3.5 0 1 1 -7 0zM46.5 8.2a3.8 3.8 0 1 1 7.5 0a3.8 3.8 0 1 1 -7.5 0zM49 8.8a4 4 0 1 1 8 0a4 4 0 1 1 -8 0zM51.5 10.2a4 4 0 1 1 7.9 0a4 4 0 1 1 -7.9 0zM53.7 12.5a3.8 3.8 0 1 1 7.6 0a3.8 3.8 0 1 1 -7.6 0zM55.3 15.5a3.5 3.5 0 1 1 7 0a3.5 3.5 0 1 1 -7 0zM56.3 20a3.2 3.2 0 1 1 6.4 0a3.2 3.2 0 1 1 -6.4 0zM56.5 27.1a3.2 3.2 0 1 1 6.3 0a3.2 3.2 0 1 1 -6.3 0zM56.3 35a3.2 3.2 0 1 1 6.4 0a3.2 3.2 0 1 1 -6.4 0zM56.3 42.7a3.2 3.2 0 1 1 6.4 0a3.2 3.2 0 1 1 -6.4 0zM56.3 48.5a3.2 3.2 0 1 1 6.4 0a3.2 3.2 0 1 1 -6.4 0zM48.3 4.5L50.5 4.4L49.9 11.9L47.7 11.5zM51.1 4.5L53.9 4.9L52.1 12.7L49.4 11.8zM55 5.4L57.4 6.8L53.4 13.7L51 12.2zM58.4 7.6L60.3 9.9L54.7 15.1L52.5 12.9zM61 11L62 14.2L55.6 16.9L54 14zM62.2 15L62.7 19.5L56.3 20.5L55.3 16.1zM62.7 19.9L62.8 27.1L56.5 27.2L56.3 20.1zM62.8 27.2L62.7 35.1L56.3 34.9L56.5 27.1zM62.7 35L62.7 42.7L56.3 42.7L56.3 35zM62.7 42.7L62.7 48.5L56.3 48.5L56.3 42.7z" fill="#6a6a6a"/>
<path d="M44.9 8a3.1 3.1 0 1 1 6.3 0a3.1 3.1 0 1 1 -6.3 0zM46.8 8.2a3.4 3.4 0 1 1 6.8 0a3.4 3.4 0 1 1 -6.8 0zM49.4 8.8a3.6 3.6 0 1 1 7.3 0a3.6 3.6 0 1 1 -7.3 0zM51.8 10.2a3.6 3.6 0 1 1 7.2 0a3.6 3.6 0 1 1 -7.2 0zM54.1 12.5a3.4 3.4 0 1 1 6.9 0a3.4 3.4 0 1 1 -6.9 0zM55.7 15.5a3.1 3.1 0 1 1 6.3 0a3.1 3.1 0 1 1 -6.3 0zM56.7 20a2.8 2.8 0 1 1 5.7 0a2.8 2.8 0 1 1 -5.7 0zM56.8 27.1a2.8 2.8 0 1 1 5.6 0a2.8 2.8 0 1 1 -5.6 0zM56.7 35a2.8 2.8 0 1 1 5.7 0a2.8 2.8 0 1 1 -5.7 0zM56.7 42.7a2.8 2.8 0 1 1 5.7 0a2.8 2.8 0 1 1 -5.7 0zM56.7 48.5a2.8 2.8 0 1 1 5.7 0a2.8 2.8 0 1 1 -5.7 0zM48.2 4.9L50.5 4.8L50 11.6L47.8 11.1zM51 4.9L53.8 5.3L52.2 12.3L49.5 11.5zM54.8 5.7L57.3 7.1L53.6 13.3L51.2 11.9zM58.1 7.8L60 10.2L55 14.8L52.8 12.7zM60.7 11.2L61.7 14.3L55.9 16.8L54.3 13.8zM61.9 15L62.3 19.5L56.7 20.5L55.7 16zM62.3 20L62.4 27.1L56.8 27.2L56.7 20zM62.4 27.2L62.3 35L56.7 35L56.8 27.1zM62.3 35L62.3 42.7L56.7 42.7L56.7 35zM62.3 42.7L62.3 48.5L56.7 48.5L56.7 42.7z" fill="#bcbcbc"/>
<path d="M45.8 8a2.2 2.2 0 1 1 4.3 0a2.2 2.2 0 1 1 -4.3 0zM47.9 8.2a2.3 2.3 0 1 1 4.7 0a2.3 2.3 0 1 1 -4.7 0zM50.5 8.8a2.5 2.5 0 1 1 5 0a2.5 2.5 0 1 1 -5 0zM53 10.2a2.5 2.5 0 1 1 4.9 0a2.5 2.5 0 1 1 -4.9 0zM55.1 12.5a2.4 2.4 0 1 1 4.7 0a2.4 2.4 0 1 1 -4.7 0zM56.6 15.5a2.2 2.2 0 1 1 4.3 0a2.2 2.2 0 1 1 -4.3 0zM57.5 20a2 2 0 1 1 4 0a2 2 0 1 1 -4 0zM57.7 27.1a2 2 0 1 1 3.9 0a2 2 0 1 1 -3.9 0zM57.5 35a2 2 0 1 1 4 0a2 2 0 1 1 -4 0zM57.5 42.7a2 2 0 1 1 4 0a2 2 0 1 1 -4 0zM57.5 48.5a2 2 0 1 1 4 0a2 2 0 1 1 -4 0zM48.2 5.8L50.4 5.8L50 10.5L47.8 10.2zM50.7 5.9L53.5 6.4L52.5 11.2L49.7 10.4zM54.3 6.7L56.7 8.1L54.2 12.4L51.7 10.9zM57.3 8.6L59.2 10.9L55.8 14.1L53.6 11.9zM59.7 11.6L60.8 14.7L56.8 16.4L55.3 13.4zM60.9 15.2L61.5 19.7L57.5 20.3L56.6 15.9zM61.5 20L61.6 27.1L57.7 27.2L57.5 20zM61.6 27.2L61.5 35L57.5 35L57.7 27.1zM61.5 35L61.5 42.7L57.5 42.7L57.5 35zM61.5 42.7L61.5 48.5L57.5 48.5L57.5 42.7z" fill="#6a6a6a"/>
<path d="M46.2 8a1.8 1.8 0 1 1 3.6 0a1.8 1.8 0 1 1 -3.6 0zM48.2 8.2a2 2 0 1 1 3.9 0a2 2 0 1 1 -3.9 0zM50.9 8.8a2.1 2.1 0 1 1 4.2 0a2.1 2.1 0 1 1 -4.2 0zM53.3 10.2a2.1 2.1 0 1 1 4.2 0a2.1 2.1 0 1 1 -4.2 0zM55.5 12.5a2 2 0 1 1 4 0a2 2 0 1 1 -4 0zM57 15.5a1.8 1.8 0 1 1 3.6 0a1.8 1.8 0 1 1 -3.6 0zM57.9 20a1.6 1.6 0 1 1 3.2 0a1.6 1.6 0 1 1 -3.2 0zM58 27.1a1.6 1.6 0 1 1 3.2 0a1.6 1.6 0 1 1 -3.2 0zM57.9 35a1.6 1.6 0 1 1 3.2 0a1.6 1.6 0 1 1 -3.2 0zM57.9 42.7a1.6 1.6 0 1 1 3.2 0a1.6 1.6 0 1 1 -3.2 0zM57.9 48.5a1.6 1.6 0 1 1 3.2 0a1.6 1.6 0 1 1 -3.2 0zM48.1 6.2L50.4 6.2L50.1 10.1L47.9 9.8zM50.7 6.2L53.5 6.7L52.5 10.9L49.8 10.1zM54.1 7L56.5 8.4L54.4 12L51.9 10.6zM57 8.8L59 11.2L56 13.8L53.9 11.6zM59.3 11.7L60.4 14.8L57.1 16.2L55.7 13.3zM60.6 15.3L61.1 19.7L57.9 20.3L57 15.8zM61.1 20L61.2 27.1L58 27.2L57.9 20zM61.2 27.2L61.1 35L57.9 35L58 27.1zM61.1 35L61.1 42.7L57.9 42.7L57.9 35zM61.1 42.7L61.1 48.5L57.9 48.5L57.9 42.7z" fill="#a6a6a6"/>
<path d="M47.1 8a0.9 0.9 0 1 1 1.8 0a0.9 0.9 0 1 1 -1.8 0zM49.3 8.2a0.9 0.9 0 1 1 1.9 0a0.9 0.9 0 1 1 -1.9 0zM52 8.8a1 1 0 1 1 2 0a1 1 0 1 1 -2 0zM54.4 10.2a1 1 0 1 1 2 0a1 1 0 1 1 -2 0zM56.5 12.5a0.9 0.9 0 1 1 1.9 0a0.9 0.9 0 1 1 -1.9 0zM57.9 15.5a0.9 0.9 0 1 1 1.7 0a0.9 0.9 0 1 1 -1.7 0zM58.7 20a0.8 0.8 0 1 1 1.6 0a0.8 0.8 0 1 1 -1.6 0zM58.8 27.1a0.8 0.8 0 1 1 1.6 0a0.8 0.8 0 1 1 -1.6 0zM58.7 35a0.8 0.8 0 1 1 1.6 0a0.8 0.8 0 1 1 -1.6 0zM58.7 42.7a0.8 0.8 0 1 1 1.6 0a0.8 0.8 0 1 1 -1.6 0zM58.7 48.5a0.8 0.8 0 1 1 1.6 0a0.8 0.8 0 1 1 -1.6 0zM48.1 7.1L50.3 7.2L50.1 9.1L47.9 8.9zM50.4 7.3L53.2 7.8L52.8 9.8L50 9.1zM53.5 7.9L55.9 9.4L54.9 11.1L52.5 9.7zM56.2 9.6L58.2 11.9L56.8 13.1L54.7 10.9zM58.4 12.1L59.6 15.2L58 15.9L56.6 12.9zM59.6 15.4L60.3 19.9L58.7 20.1L57.9 15.7zM60.3 20L60.4 27.1L58.8 27.1L58.7 20zM60.4 27.1L60.3 35L58.7 35L58.8 27.1zM60.3 35L60.3 42.7L58.7 42.7L58.7 35zM60.3 42.7L60.3 48.5L58.7 48.5L58.7 42.7z" fill="#6a6a6a"/>
<path d="M47.5 8a0.5 0.5 0 1 1 1 0a0.5 0.5 0 1 1 -1 0zM49.6 8.2a0.6 0.6 0 1 1 1.2 0a0.6 0.6 0 1 1 -1.2 0zM52.4 8.8a0.6 0.6 0 1 1 1.3 0a0.6 0.6 0 1 1 -1.3 0zM54.8 10.2a0.6 0.6 0 1 1 1.3 0a0.6 0.6 0 1 1 -1.3 0zM56.9 12.5a0.6 0.6 0 1 1 1.2 0a0.6 0.6 0 1 1 -1.2 0zM58.3 15.5a0.5 0.5 0 1 1 1 0a0.5 0.5 0 1 1 -1 0zM59.1 20a0.4 0.4 0 1 1 0.9 0a0.4 0.4 0 1 1 -0.9 0zM59.2 27.1a0.4 0.4 0 1 1 0.9 0a0.4 0.4 0 1 1 -0.9 0zM59.1 35a0.4 0.4 0 1 1 0.9 0a0.4 0.4 0 1 1 -0.9 0zM59.1 42.7a0.4 0.4 0 1 1 0.9 0a0.4 0.4 0 1 1 -0.9 0zM59.1 48.5a0.4 0.4 0 1 1 0.9 0a0.4 0.4 0 1 1 -0.9 0zM48 7.5L50.3 7.6L50.2 8.7L48 8.5zM50.3 7.6L53.1 8.2L52.9 9.4L50.1 8.7zM53.3 8.2L55.8 9.7L55.1 10.8L52.7 9.4zM55.9 9.8L57.9 12.1L57.1 12.9L55 10.7zM58 12.3L59.3 15.3L58.3 15.7L57 12.7zM59.3 15.5L59.9 19.9L59.1 20.1L58.3 15.6zM59.9 20L60.1 27.1L59.2 27.1L59.1 20zM60.1 27.1L59.9 35L59.1 35L59.2 27.1zM59.9 35L59.9 42.7L59.1 42.7L59.1 35zM59.9 42.7L59.9 48.5L59.1 48.5L59.1 42.7z" fill="#dedede"/>
<rect x="0" y="0" width="69.3" height="67.1" fill="none" stroke="#0a0a0a" stroke-width="1.35"/>
<line x1="0" y1="22.5" x2="69.3" y2="22.5" stroke="#0a0a0a" stroke-width="1.35"/>
<line x1="38.75" y1="0" x2="38.75" y2="67.1" stroke="#0a0a0a" stroke-width="1.35"/>
<line x1="38.75" y1="36.6" x2="69.3" y2="36.6" stroke="#0a0a0a" stroke-width="1.35"/>
<path d="M-3.1 6H0M-3.1 21.9H0M-3.1 40.7H0M-3.1 63.6H0M2.7 67.1V70.1M28.5 67.1V70.1M47.7 67.1V70.1M63.1 67.1V70.1" stroke="#000" stroke-width="1" fill="none"/>
<path d="M-1.7 3H0M-1.7 4.3H0M-1.7 8H0M-1.7 10.5H0M-1.7 13H0M-1.7 15H0M-1.7 17H0M-1.7 18.6H0M-1.7 20.2H0M-1.7 25H0M-1.7 28H0M-1.7 31H0M-1.7 33.5H0M-1.7 36H0M-1.7 37.8H0M-1.7 39.3H0M-1.7 43.5H0M-1.7 45.5H0M-1.7 47.2H0M-1.7 48.6H0M-1.7 49.8H0M-1.7 55H0M-1.7 56.4H0M-1.7 58H0M-1.7 59.8H0M-1.7 61.6H0M-1.7 65.5H0M0.8 67.1V68.7M4.8 67.1V68.7M6.6 67.1V68.7M8.2 67.1V68.7M9.6 67.1V68.7M10.8 67.1V68.7M11.9 67.1V68.7M12.9 67.1V68.7M18 67.1V68.7M19 67.1V68.7M20.2 67.1V68.7M21.5 67.1V68.7M23 67.1V68.7M24.8 67.1V68.7M26.6 67.1V68.7M31.5 67.1V68.7M34.5 67.1V68.7M37 67.1V68.7M39.5 67.1V68.7M41.5 67.1V68.7M43.3 67.1V68.7M44.8 67.1V68.7M46.3 67.1V68.7M52.5 67.1V68.7M55.5 67.1V68.7M57.8 67.1V68.7M59.5 67.1V68.7M60.8 67.1V68.7M62 67.1V68.7M65.5 67.1V68.7M67.5 67.1V68.7" stroke="#000" stroke-width="0.65" fill="none"/>
<rect x="-1.9" y="50.7" width="1.9" height="3.3" fill="#000"/>
<rect x="13.2" y="67.1" width="4.4" height="2" fill="#000"/>
<text x="-6" y="11.3" font-size="6.8" text-anchor="end" textLength="9.4" lengthAdjust="spacingAndGlyphs">10<tspan font-size="4.62" dy="-2.86">5</tspan></text>
<text x="-6" y="24.2" font-size="6.8" text-anchor="end" textLength="9.4" lengthAdjust="spacingAndGlyphs">10<tspan font-size="4.62" dy="-2.86">4</tspan></text>
<text x="-6" y="42.6" font-size="6.8" text-anchor="end" textLength="9.4" lengthAdjust="spacingAndGlyphs">10<tspan font-size="4.62" dy="-2.86">3</tspan></text>
<text x="-8.6" y="55.3" font-size="6.8" text-anchor="middle" textLength="3.5" lengthAdjust="spacingAndGlyphs">0</text>
<text x="-6" y="66.7" font-size="6.8" text-anchor="end" textLength="11.5" lengthAdjust="spacingAndGlyphs">-10<tspan font-size="4.62" dy="-2.86">3</tspan></text>
<text x="9" y="78.7" font-size="6.8" text-anchor="end" textLength="11.6" lengthAdjust="spacingAndGlyphs">-10<tspan font-size="4.62" dy="-2.86">3</tspan></text>
<text x="15.9" y="78.7" font-size="6.8" text-anchor="middle" textLength="3.5" lengthAdjust="spacingAndGlyphs">0</text>
<text x="32.9" y="78.7" font-size="6.8" text-anchor="end" textLength="9.4" lengthAdjust="spacingAndGlyphs">10<tspan font-size="4.62" dy="-2.86">3</tspan></text>
<text x="52.1" y="78.7" font-size="6.8" text-anchor="end" textLength="9.4" lengthAdjust="spacingAndGlyphs">10<tspan font-size="4.62" dy="-2.86">4</tspan></text>
<text x="67.9" y="78.7" font-size="6.8" text-anchor="end" textLength="9.4" lengthAdjust="spacingAndGlyphs">10<tspan font-size="4.62" dy="-2.86">5</tspan></text>
<text x="4" y="6.5" font-size="4.4" fill="#0d0d0d">P1</text>
<text x="2.4" y="11.8" font-size="4.4" fill="#0d0d0d">2,59</text>
<text x="68" y="6.9" font-size="4.4" text-anchor="end" fill="#0d0d0d">P2</text>
<text x="68" y="12.2" font-size="4.4" text-anchor="end" fill="#0d0d0d">66,9</text>
<text x="68" y="28.6" font-size="4.4" text-anchor="end" fill="#0d0d0d">P3</text>
<text x="68" y="33.9" font-size="4.4" text-anchor="end" fill="#0d0d0d">10,8</text>
<text x="68" y="59.2" font-size="4.4" text-anchor="end" fill="#0d0d0d">P4</text>
<text x="68" y="64.5" font-size="4.4" text-anchor="end" fill="#0d0d0d">12,6</text>
</g>
<g transform="translate(153.1 274.6)">
<path d="M41.5 10a7 7 0 1 1 14 0a7 7 0 1 1 -14 0zM43.6 9.9a7.4 7.4 0 1 1 14.8 0a7.4 7.4 0 1 1 -14.8 0zM46.5 10.5a7.5 7.5 0 1 1 15 0a7.5 7.5 0 1 1 -15 0zM50.2 12.8a6.4 6.4 0 1 1 12.7 0a6.4 6.4 0 1 1 -12.7 0zM53.5 16a5 5 0 1 1 10 0a5 5 0 1 1 -10 0zM54.9 19.8a4.2 4.2 0 1 1 8.4 0a4.2 4.2 0 1 1 -8.4 0zM55.2 24a3.8 3.8 0 1 1 7.6 0a3.8 3.8 0 1 1 -7.6 0zM54.4 28a3.9 3.9 0 1 1 7.9 0a3.9 3.9 0 1 1 -7.9 0zM53 32a4.5 4.5 0 1 1 9 0a4.5 4.5 0 1 1 -9 0zM51.3 36.1a5.5 5.5 0 1 1 11 0a5.5 5.5 0 1 1 -11 0zM49.8 40a6.5 6.5 0 1 1 13 0a6.5 6.5 0 1 1 -13 0zM49.2 43.5a6.9 6.9 0 1 1 13.8 0a6.9 6.9 0 1 1 -13.8 0zM49 46a7 7 0 1 1 14 0a7 7 0 1 1 -14 0zM48.2 3L50.7 2.5L51.2 17.3L48.8 17zM52.4 2.6L55.4 3.1L52.6 17.9L49.5 17.2zM59 4.9L60.8 8L52.3 17.5L49 16.1zM62 9.5L62.8 13.4L54.2 18.6L51.1 16.1zM63.4 15.2L63.3 19.2L55 20.5L53.6 16.8zM63.3 20L62.8 24.1L55.2 23.9L54.9 19.7zM62.8 24.6L62.3 28.6L54.5 27.4L55.2 23.4zM62.2 28.8L61.9 32.9L53.1 31.1L54.5 27.2zM61.9 32.7L62.3 37L51.4 35.2L53.1 31.3zM62.3 36.9L62.7 40.9L49.9 39.1L51.4 35.4zM62.8 40.4L62.9 43.9L49.2 43.1L49.8 39.6zM62.9 43.7L63 46.2L49 45.8L49.2 43.3z" fill="#808080"/>
<path d="M41.9 10a6.6 6.6 0 1 1 13.3 0a6.6 6.6 0 1 1 -13.3 0zM43.9 9.9a7 7 0 1 1 14.1 0a7 7 0 1 1 -14.1 0zM46.9 10.5a7.1 7.1 0 1 1 14.3 0a7.1 7.1 0 1 1 -14.3 0zM50.6 12.8a6 6 0 1 1 12 0a6 6 0 1 1 -12 0zM53.9 16a4.6 4.6 0 1 1 9.3 0a4.6 4.6 0 1 1 -9.3 0zM55.3 19.8a3.8 3.8 0 1 1 7.7 0a3.8 3.8 0 1 1 -7.7 0zM55.6 24a3.4 3.4 0 1 1 6.9 0a3.4 3.4 0 1 1 -6.9 0zM54.8 28a3.6 3.6 0 1 1 7.2 0a3.6 3.6 0 1 1 -7.2 0zM53.4 32a4.1 4.1 0 1 1 8.3 0a4.1 4.1 0 1 1 -8.3 0zM51.7 36.1a5.2 5.2 0 1 1 10.3 0a5.2 5.2 0 1 1 -10.3 0zM50.2 40a6.1 6.1 0 1 1 12.3 0a6.1 6.1 0 1 1 -12.3 0zM49.6 43.5a6.5 6.5 0 1 1 13 0a6.5 6.5 0 1 1 -13 0zM49.4 46a6.6 6.6 0 1 1 13.3 0a6.6 6.6 0 1 1 -13.3 0zM48.2 3.4L50.7 2.9L51.2 16.9L48.8 16.6zM52.3 3L55.4 3.5L52.6 17.5L49.6 16.8zM58.7 5.2L60.5 8.3L52.6 17.3L49.3 15.8zM61.7 9.7L62.5 13.6L54.5 18.4L51.4 15.9zM63.1 15.3L62.9 19.2L55.3 20.5L53.9 16.7zM63 20L62.4 24.1L55.6 23.9L55.3 19.7zM62.4 24.5L61.9 28.6L54.8 27.4L55.6 23.5zM61.9 28.8L61.5 32.9L53.5 31.1L54.8 27.2zM61.6 32.7L61.9 37L51.7 35.3L53.4 31.3zM61.9 36.8L62.4 40.8L50.2 39.2L51.7 35.4zM62.4 40.4L62.6 43.9L49.6 43.1L50.2 39.6zM62.6 43.7L62.6 46.2L49.4 45.8L49.6 43.3z" fill="#e6e6e6"/>
<path d="M42.8 10a5.7 5.7 0 1 1 11.5 0a5.7 5.7 0 1 1 -11.5 0zM44.9 9.9a6.1 6.1 0 1 1 12.1 0a6.1 6.1 0 1 1 -12.1 0zM47.9 10.5a6.1 6.1 0 1 1 12.3 0a6.1 6.1 0 1 1 -12.3 0zM51.4 12.8a5.2 5.2 0 1 1 10.4 0a5.2 5.2 0 1 1 -10.4 0zM54.4 16a4.1 4.1 0 1 1 8.2 0a4.1 4.1 0 1 1 -8.2 0zM55.7 19.8a3.4 3.4 0 1 1 6.9 0a3.4 3.4 0 1 1 -6.9 0zM55.9 24a3.1 3.1 0 1 1 6.2 0a3.1 3.1 0 1 1 -6.2 0zM55.1 28a3.2 3.2 0 1 1 6.5 0a3.2 3.2 0 1 1 -6.5 0zM53.8 32a3.7 3.7 0 1 1 7.4 0a3.7 3.7 0 1 1 -7.4 0zM52.3 36.1a4.5 4.5 0 1 1 9 0a4.5 4.5 0 1 1 -9 0zM51 40a5.3 5.3 0 1 1 10.7 0a5.3 5.3 0 1 1 -10.7 0zM50.4 43.5a5.6 5.6 0 1 1 11.3 0a5.6 5.6 0 1 1 -11.3 0zM50.3 46a5.7 5.7 0 1 1 11.5 0a5.7 5.7 0 1 1 -11.5 0zM48.3 4.3L50.7 3.8L51.2 16L48.7 15.7zM52.1 3.9L55.2 4.5L52.8 16.5L49.8 15.9zM58.1 5.9L60 8.9L53.1 16.7L49.9 15.1zM61 10.1L62 13.9L55 18.1L52.1 15.5zM62.5 15.3L62.5 19.3L55.7 20.4L54.5 16.7zM62.6 19.9L62.1 24.1L55.9 23.9L55.7 19.7zM62.1 24.5L61.6 28.5L55.2 27.5L55.9 23.5zM61.5 28.7L61.1 32.8L53.9 31.2L55.2 27.3zM61.1 32.6L61.3 36.9L52.4 35.4L53.9 31.4zM61.3 36.7L61.6 40.7L51 39.3L52.3 35.5zM61.6 40.3L61.7 43.9L50.4 43.1L51 39.7zM61.7 43.7L61.7 46.2L50.3 45.8L50.4 43.3z" fill="#808080"/>
<path d="M43.1 10a5.4 5.4 0 1 1 10.8 0a5.4 5.4 0 1 1 -10.8 0zM45.3 9.9a5.7 5.7 0 1 1 11.4 0a5.7 5.7 0 1 1 -11.4 0zM48.2 10.5a5.8 5.8 0 1 1 11.6 0a5.8 5.8 0 1 1 -11.6 0zM51.7 12.8a4.9 4.9 0 1 1 9.7 0a4.9 4.9 0 1 1 -9.7 0zM54.8 16a3.7 3.7 0 1 1 7.5 0a3.7 3.7 0 1 1 -7.5 0zM56 19.8a3.1 3.1 0 1 1 6.2 0a3.1 3.1 0 1 1 -6.2 0zM56.2 24a2.8 2.8 0 1 1 5.5 0a2.8 2.8 0 1 1 -5.5 0zM55.5 28a2.9 2.9 0 1 1 5.8 0a2.9 2.9 0 1 1 -5.8 0zM54.2 32a3.3 3.3 0 1 1 6.7 0a3.3 3.3 0 1 1 -6.7 0zM52.7 36.1a4.2 4.2 0 1 1 8.3 0a4.2 4.2 0 1 1 -8.3 0zM51.3 40a5 5 0 1 1 9.9 0a5 5 0 1 1 -9.9 0zM50.8 43.5a5.3 5.3 0 1 1 10.6 0a5.3 5.3 0 1 1 -10.6 0zM50.6 46a5.4 5.4 0 1 1 10.8 0a5.4 5.4 0 1 1 -10.8 0zM48.3 4.6L50.8 4.2L51.2 15.6L48.7 15.4zM52.1 4.3L55.1 4.8L52.9 16.2L49.9 15.5zM57.8 6.2L59.8 9.2L53.3 16.4L50.2 14.8zM60.7 10.3L61.7 14.1L55.3 17.9L52.4 15.3zM62.2 15.4L62.2 19.3L56.1 20.3L54.8 16.6zM62.2 19.9L61.8 24.1L56.2 23.9L56 19.8zM61.7 24.4L61.2 28.5L55.5 27.5L56.3 23.6zM61.2 28.6L60.8 32.7L54.2 31.3L55.5 27.4zM60.8 32.5L60.9 36.8L52.7 35.5L54.2 31.5zM60.9 36.7L61.2 40.7L51.4 39.3L52.7 35.6zM61.3 40.3L61.3 43.8L50.8 43.2L51.3 39.7zM61.4 43.7L61.4 46.2L50.6 45.8L50.8 43.3z" fill="#d3d3d3"/>
<path d="M45.1 10a4.4 4.4 0 1 1 8.8 0a4.4 4.4 0 1 1 -8.8 0zM47 10.2a4.6 4.6 0 1 1 9.1 0a4.6 4.6 0 1 1 -9.1 0zM49.5 11a4.5 4.5 0 1 1 9 0a4.5 4.5 0 1 1 -9 0zM52.4 13.3a3.7 3.7 0 1 1 7.3 0a3.7 3.7 0 1 1 -7.3 0zM54.8 15.5a2.8 2.8 0 1 1 5.6 0a2.8 2.8 0 1 1 -5.6 0zM50 5.6L52 5.7L51 14.7L49 14.4zM52.9 5.9L55.4 6.7L52.6 15.3L50.2 14.6zM57.3 8L58.8 10.9L53.4 15.8L50.7 14zM59.1 11.2L59.9 13.9L55.3 17.1L53.1 15.4z" fill="#6a6a6a"/>
<path d="M45.5 10a4 4 0 1 1 8.1 0a4 4 0 1 1 -8.1 0zM47.3 10.2a4.2 4.2 0 1 1 8.4 0a4.2 4.2 0 1 1 -8.4 0zM49.9 11a4.1 4.1 0 1 1 8.3 0a4.1 4.1 0 1 1 -8.3 0zM52.8 13.3a3.3 3.3 0 1 1 6.6 0a3.3 3.3 0 1 1 -6.6 0zM55.2 15.5a2.4 2.4 0 1 1 4.9 0a2.4 2.4 0 1 1 -4.9 0zM49.9 6L52 6L51.1 14.4L49.1 14zM52.8 6.2L55.2 7.1L52.8 14.9L50.3 14.2zM57.1 8.2L58.5 11.1L53.6 15.5L50.9 13.8zM58.8 11.4L59.6 14.1L55.6 16.9L53.4 15.2z" fill="#a9a9a9"/>
<path d="M46.4 10a3.1 3.1 0 1 1 6.2 0a3.1 3.1 0 1 1 -6.2 0zM48.3 10.2a3.2 3.2 0 1 1 6.4 0a3.2 3.2 0 1 1 -6.4 0zM50.9 11a3.1 3.1 0 1 1 6.3 0a3.1 3.1 0 1 1 -6.3 0zM53.5 13.3a2.6 2.6 0 1 1 5.1 0a2.6 2.6 0 1 1 -5.1 0zM55.6 15.5a2 2 0 1 1 3.9 0a2 2 0 1 1 -3.9 0zM49.8 6.9L51.9 7L51.2 13.4L49.2 13.1zM52.5 7.2L54.9 8L53.1 14L50.6 13.3zM56.3 8.9L58 11.6L54.2 15L51.7 13.1zM58.2 11.9L59.2 14.4L56 16.6L54 14.8z" fill="#6a6a6a"/>
<path d="M46.8 10a2.7 2.7 0 1 1 5.4 0a2.7 2.7 0 1 1 -5.4 0zM48.7 10.2a2.8 2.8 0 1 1 5.7 0a2.8 2.8 0 1 1 -5.7 0zM51.2 11a2.8 2.8 0 1 1 5.6 0a2.8 2.8 0 1 1 -5.6 0zM53.9 13.3a2.2 2.2 0 1 1 4.4 0a2.2 2.2 0 1 1 -4.4 0zM56 15.5a1.6 1.6 0 1 1 3.2 0a1.6 1.6 0 1 1 -3.2 0zM49.8 7.3L51.8 7.4L51.2 13L49.2 12.7zM52.4 7.5L54.8 8.3L53.2 13.7L50.7 12.9zM56.1 9.1L57.7 11.8L54.4 14.8L51.9 12.9zM57.9 12.1L58.9 14.6L56.3 16.4L54.3 14.6z" fill="#8f8f8f"/>
<path d="M47.7 10a1.8 1.8 0 1 1 3.7 0a1.8 1.8 0 1 1 -3.7 0zM49.6 10.2a1.9 1.9 0 1 1 3.8 0a1.9 1.9 0 1 1 -3.8 0zM52.1 11a1.9 1.9 0 1 1 3.8 0a1.9 1.9 0 1 1 -3.8 0zM54.5 13.3a1.5 1.5 0 1 1 3.1 0a1.5 1.5 0 1 1 -3.1 0zM56.4 15.5a1.2 1.2 0 1 1 2.4 0a1.2 1.2 0 1 1 -2.4 0zM49.7 8.2L51.7 8.3L51.3 12.1L49.3 11.8zM52.1 8.4L54.6 9.2L53.4 12.8L50.9 12zM55.4 9.7L57.2 12.3L54.9 14.3L52.6 12.3zM57.3 12.4L58.6 14.8L56.6 16.2L54.8 14.2z" fill="#6a6a6a"/>
<path d="M48 10a1.5 1.5 0 1 1 3 0a1.5 1.5 0 1 1 -3 0zM50 10.2a1.6 1.6 0 1 1 3.1 0a1.6 1.6 0 1 1 -3.1 0zM52.5 11a1.5 1.5 0 1 1 3.1 0a1.5 1.5 0 1 1 -3.1 0zM54.9 13.3a1.2 1.2 0 1 1 2.4 0a1.2 1.2 0 1 1 -2.4 0zM56.8 15.5a0.8 0.8 0 1 1 1.6 0a0.8 0.8 0 1 1 -1.6 0zM49.7 8.5L51.7 8.7L51.4 11.8L49.3 11.5zM52 8.7L54.5 9.5L53.5 12.5L51.1 11.7zM55.1 10L57 12.5L55.2 14.1L52.9 12zM57 12.6L58.3 15L56.9 16L55.1 14z" fill="#7c7c7c"/>
<path d="M48.8 10a0.7 0.7 0 1 1 1.4 0a0.7 0.7 0 1 1 -1.4 0zM50.8 10.2a0.7 0.7 0 1 1 1.5 0a0.7 0.7 0 1 1 -1.5 0zM53.3 11a0.7 0.7 0 1 1 1.4 0a0.7 0.7 0 1 1 -1.4 0zM55.5 13.3a0.6 0.6 0 1 1 1.2 0a0.6 0.6 0 1 1 -1.2 0zM57.2 15.5a0.4 0.4 0 1 1 0.9 0a0.4 0.4 0 1 1 -0.9 0zM49.6 9.3L51.6 9.5L51.4 10.9L49.4 10.7zM51.7 9.5L54.2 10.3L53.8 11.7L51.3 10.9zM54.5 10.5L56.5 12.9L55.6 13.7L53.5 11.5zM56.6 13L58 15.2L57.2 15.8L55.6 13.6z" fill="#6a6a6a"/>
<path d="M49.2 10a0.3 0.3 0 1 1 0.7 0a0.3 0.3 0 1 1 -0.7 0zM51.2 10.2a0.4 0.4 0 1 1 0.7 0a0.4 0.4 0 1 1 -0.7 0zM53.6 11a0.4 0.4 0 1 1 0.7 0a0.4 0.4 0 1 1 -0.7 0zM55.9 13.3a0.2 0.2 0 1 1 0.4 0a0.2 0.2 0 1 1 -0.4 0zM57.5 15.5a0.1 0.1 0 1 1 0.2 0a0.1 0.1 0 1 1 -0.2 0zM49.5 9.7L51.6 9.9L51.5 10.6L49.5 10.3zM51.6 9.9L54.1 10.7L53.9 11.3L51.4 10.6zM54.3 10.8L56.2 13.2L55.9 13.5L53.7 11.2zM56.3 13.2L57.7 15.4L57.5 15.6L55.9 13.4z" fill="#e0e0e0"/>
<path d="M56.9 25a1.4 1.4 0 1 1 2.8 0a1.4 1.4 0 1 1 -2.8 0zM56.1 29.1a1.7 1.7 0 1 1 3.4 0a1.7 1.7 0 1 1 -3.4 0zM55 34a2.2 2.2 0 1 1 4.4 0a2.2 2.2 0 1 1 -4.4 0zM53.8 37.8a2.9 2.9 0 1 1 5.8 0a2.9 2.9 0 1 1 -5.8 0zM52.7 41a3.6 3.6 0 1 1 7.2 0a3.6 3.6 0 1 1 -7.2 0zM52.2 43.9a4 4 0 1 1 8 0a4 4 0 1 1 -8 0zM51.9 46a4.2 4.2 0 1 1 8.4 0a4.2 4.2 0 1 1 -8.4 0zM59.7 25.2L59.5 29.3L56.1 28.9L56.9 24.8zM59.5 29.3L59.4 34.3L55 33.7L56.1 28.9zM59.4 34.3L59.6 38.1L53.8 37.4L55 33.7zM59.6 38.1L59.9 41.4L52.7 40.6L53.8 37.4zM59.9 41.2L60.1 44.1L52.2 43.7L52.7 40.8zM60.1 44L60.3 46.1L51.9 45.9L52.2 43.9z" fill="#6a6a6a"/>
<path d="M57.3 25a1 1 0 1 1 2.1 0a1 1 0 1 1 -2.1 0zM56.5 29.1a1.4 1.4 0 1 1 2.7 0a1.4 1.4 0 1 1 -2.7 0zM55.4 34a1.8 1.8 0 1 1 3.7 0a1.8 1.8 0 1 1 -3.7 0zM54.1 37.8a2.6 2.6 0 1 1 5.1 0a2.6 2.6 0 1 1 -5.1 0zM53.1 41a3.2 3.2 0 1 1 6.5 0a3.2 3.2 0 1 1 -6.5 0zM52.5 43.9a3.6 3.6 0 1 1 7.3 0a3.6 3.6 0 1 1 -7.3 0zM52.3 46a3.8 3.8 0 1 1 7.7 0a3.8 3.8 0 1 1 -7.7 0zM59.3 25.1L59.1 29.2L56.5 28.9L57.3 24.9zM59.1 29.2L59 34.2L55.4 33.8L56.5 28.9zM59 34.2L59.2 38.1L54.2 37.4L55.4 33.8zM59.2 38.1L59.5 41.4L53.1 40.6L54.2 37.4zM59.5 41.2L59.8 44.1L52.5 43.7L53.1 40.8zM59.8 44L59.9 46.1L52.3 45.9L52.5 43.9z" fill="#bcbcbc"/>
<path d="M57.5 25a0.8 0.8 0 1 1 1.7 0a0.8 0.8 0 1 1 -1.7 0zM56.8 29.1a1 1 0 1 1 2.1 0a1 1 0 1 1 -2.1 0zM55.9 34a1.3 1.3 0 1 1 2.6 0a1.3 1.3 0 1 1 -2.6 0zM54.9 37.8a1.7 1.7 0 1 1 3.5 0a1.7 1.7 0 1 1 -3.5 0zM54.1 41a2.2 2.2 0 1 1 4.3 0a2.2 2.2 0 1 1 -4.3 0zM53.8 43.9a2.4 2.4 0 1 1 4.8 0a2.4 2.4 0 1 1 -4.8 0zM53.6 46a2.5 2.5 0 1 1 5 0a2.5 2.5 0 1 1 -5 0zM59.1 25.1L58.8 29.2L56.8 28.9L57.5 24.9zM58.8 29.2L58.5 34.2L55.9 33.8L56.8 28.9zM58.5 34.2L58.4 38L55 37.5L55.9 33.8zM58.4 38L58.4 41.3L54.2 40.7L55 37.5zM58.5 41.1L58.5 44.1L53.8 43.8L54.1 40.9zM58.5 44L58.6 46.1L53.6 45.9L53.8 43.9z" fill="#6a6a6a"/>
<path d="M57.8 25a0.5 0.5 0 1 1 1 0a0.5 0.5 0 1 1 -1 0zM57.1 29.1a0.7 0.7 0 1 1 1.3 0a0.7 0.7 0 1 1 -1.3 0zM56.2 34a1 1 0 1 1 1.9 0a1 1 0 1 1 -1.9 0zM55.3 37.8a1.4 1.4 0 1 1 2.8 0a1.4 1.4 0 1 1 -2.8 0zM54.5 41a1.8 1.8 0 1 1 3.6 0a1.8 1.8 0 1 1 -3.6 0zM54.1 43.9a2 2 0 1 1 4.1 0a2 2 0 1 1 -4.1 0zM53.9 46a2.2 2.2 0 1 1 4.3 0a2.2 2.2 0 1 1 -4.3 0zM58.8 25.1L58.5 29.1L57.1 29L57.8 24.9zM58.5 29.1L58.2 34.1L56.2 33.9L57.1 29zM58.2 34.1L58.1 37.9L55.3 37.6L56.2 33.9zM58.1 37.9L58.1 41.2L54.5 40.8L55.3 37.6zM58.1 41.1L58.2 44L54.1 43.8L54.5 40.9zM58.2 44L58.3 46L53.9 46L54.1 43.9z" fill="#a6a6a6"/>
<path d="M57.9 25a0.3 0.3 0 1 1 0.7 0a0.3 0.3 0 1 1 -0.7 0zM57.4 29.1a0.4 0.4 0 1 1 0.9 0a0.4 0.4 0 1 1 -0.9 0zM56.7 34a0.6 0.6 0 1 1 1.1 0a0.6 0.6 0 1 1 -1.1 0zM56 37.8a0.7 0.7 0 1 1 1.5 0a0.7 0.7 0 1 1 -1.5 0zM55.4 41a0.9 0.9 0 1 1 1.8 0a0.9 0.9 0 1 1 -1.8 0zM55.1 43.9a1 1 0 1 1 2 0a1 1 0 1 1 -2 0zM55.1 46a1.1 1.1 0 1 1 2.1 0a1.1 1.1 0 1 1 -2.1 0zM58.6 25L58.2 29.1L57.4 29L58 25zM58.2 29.1L57.7 34.1L56.7 33.9L57.4 29zM57.7 34.1L57.4 37.8L56 37.7L56.7 33.9zM57.4 37.8L57.2 41.1L55.4 40.9L56 37.7zM57.2 41L57.1 44L55.1 43.9L55.4 41zM57.1 44L57.1 46L55.1 46L55.1 43.9z" fill="#6a6a6a"/>
<path d="M57.7 29.1a0.1 0.1 0 1 1 0.1 0a0.1 0.1 0 1 1 -0.1 0zM57 34a0.2 0.2 0 1 1 0.4 0a0.2 0.2 0 1 1 -0.4 0zM56.3 37.8a0.4 0.4 0 1 1 0.7 0a0.4 0.4 0 1 1 -0.7 0zM55.8 41a0.5 0.5 0 1 1 1.1 0a0.5 0.5 0 1 1 -1.1 0zM55.5 43.9a0.6 0.6 0 1 1 1.3 0a0.6 0.6 0 1 1 -1.3 0zM55.4 46a0.7 0.7 0 1 1 1.4 0a0.7 0.7 0 1 1 -1.4 0zM58.3 25L57.9 29.1L57.7 29.1L58.3 25zM57.9 29.1L57.4 34L57 34L57.7 29.1zM57.4 34L57.1 37.8L56.3 37.7L57 34zM57.1 37.8L56.8 41.1L55.8 40.9L56.3 37.7zM56.8 41L56.8 44L55.5 43.9L55.8 41zM56.8 44L56.8 46L55.4 46L55.5 43.9z" fill="#e2e2e2"/>
<rect x="0" y="0" width="69.3" height="67.1" fill="none" stroke="#0a0a0a" stroke-width="1.35"/>
<line x1="0" y1="22.5" x2="69.3" y2="22.5" stroke="#0a0a0a" stroke-width="1.35"/>
<line x1="38.75" y1="0" x2="38.75" y2="67.1" stroke="#0a0a0a" stroke-width="1.35"/>
<line x1="38.75" y1="36.6" x2="69.3" y2="36.6" stroke="#0a0a0a" stroke-width="1.35"/>
<path d="M-3.1 6H0M-3.1 21.9H0M-3.1 40.7H0M-3.1 63.6H0M2.7 67.1V70.1M28.5 67.1V70.1M47.7 67.1V70.1M63.1 67.1V70.1" stroke="#000" stroke-width="1" fill="none"/>
<path d="M-1.7 3H0M-1.7 4.3H0M-1.7 8H0M-1.7 10.5H0M-1.7 13H0M-1.7 15H0M-1.7 17H0M-1.7 18.6H0M-1.7 20.2H0M-1.7 25H0M-1.7 28H0M-1.7 31H0M-1.7 33.5H0M-1.7 36H0M-1.7 37.8H0M-1.7 39.3H0M-1.7 43.5H0M-1.7 45.5H0M-1.7 47.2H0M-1.7 48.6H0M-1.7 49.8H0M-1.7 55H0M-1.7 56.4H0M-1.7 58H0M-1.7 59.8H0M-1.7 61.6H0M-1.7 65.5H0M0.8 67.1V68.7M4.8 67.1V68.7M6.6 67.1V68.7M8.2 67.1V68.7M9.6 67.1V68.7M10.8 67.1V68.7M11.9 67.1V68.7M12.9 67.1V68.7M18 67.1V68.7M19 67.1V68.7M20.2 67.1V68.7M21.5 67.1V68.7M23 67.1V68.7M24.8 67.1V68.7M26.6 67.1V68.7M31.5 67.1V68.7M34.5 67.1V68.7M37 67.1V68.7M39.5 67.1V68.7M41.5 67.1V68.7M43.3 67.1V68.7M44.8 67.1V68.7M46.3 67.1V68.7M52.5 67.1V68.7M55.5 67.1V68.7M57.8 67.1V68.7M59.5 67.1V68.7M60.8 67.1V68.7M62 67.1V68.7M65.5 67.1V68.7M67.5 67.1V68.7" stroke="#000" stroke-width="0.65" fill="none"/>
<rect x="-1.9" y="50.7" width="1.9" height="3.3" fill="#000"/>
<rect x="13.2" y="67.1" width="4.4" height="2" fill="#000"/>
<text x="-6" y="11.3" font-size="6.8" text-anchor="end" textLength="9.4" lengthAdjust="spacingAndGlyphs">10<tspan font-size="4.62" dy="-2.86">5</tspan></text>
<text x="-6" y="24.2" font-size="6.8" text-anchor="end" textLength="9.4" lengthAdjust="spacingAndGlyphs">10<tspan font-size="4.62" dy="-2.86">4</tspan></text>
<text x="-6" y="42.6" font-size="6.8" text-anchor="end" textLength="9.4" lengthAdjust="spacingAndGlyphs">10<tspan font-size="4.62" dy="-2.86">3</tspan></text>
<text x="-8.6" y="55.3" font-size="6.8" text-anchor="middle" textLength="3.5" lengthAdjust="spacingAndGlyphs">0</text>
<text x="-6" y="66.7" font-size="6.8" text-anchor="end" textLength="11.5" lengthAdjust="spacingAndGlyphs">-10<tspan font-size="4.62" dy="-2.86">3</tspan></text>
<text x="9" y="78.7" font-size="6.8" text-anchor="end" textLength="11.6" lengthAdjust="spacingAndGlyphs">-10<tspan font-size="4.62" dy="-2.86">3</tspan></text>
<text x="15.9" y="78.7" font-size="6.8" text-anchor="middle" textLength="3.5" lengthAdjust="spacingAndGlyphs">0</text>
<text x="32.9" y="78.7" font-size="6.8" text-anchor="end" textLength="9.4" lengthAdjust="spacingAndGlyphs">10<tspan font-size="4.62" dy="-2.86">3</tspan></text>
<text x="52.1" y="78.7" font-size="6.8" text-anchor="end" textLength="9.4" lengthAdjust="spacingAndGlyphs">10<tspan font-size="4.62" dy="-2.86">4</tspan></text>
<text x="67.9" y="78.7" font-size="6.8" text-anchor="end" textLength="9.4" lengthAdjust="spacingAndGlyphs">10<tspan font-size="4.62" dy="-2.86">5</tspan></text>
<text x="4" y="6.5" font-size="4.4" fill="#0d0d0d">P1</text>
<text x="2.4" y="11.8" font-size="4.4" fill="#0d0d0d">0,19</text>
<text x="68" y="6.9" font-size="4.4" text-anchor="end" fill="#0d0d0d">P2</text>
<text x="68" y="12.2" font-size="4.4" text-anchor="end" fill="#0d0d0d">64,8</text>
<text x="68" y="28.6" font-size="4.4" text-anchor="end" fill="#0d0d0d">P3</text>
<text x="68" y="33.9" font-size="4.4" text-anchor="end" fill="#0d0d0d">15,0</text>
<text x="68" y="59.2" font-size="4.4" text-anchor="end" fill="#0d0d0d">P4</text>
<text x="68" y="64.5" font-size="4.4" text-anchor="end" fill="#0d0d0d">17,4</text>
</g>
<g transform="translate(249.9 274.6)">
<path d="M40 15a3 3 0 1 1 6 0a3 3 0 1 1 -6 0zM41.5 13a3.5 3.5 0 1 1 7 0a3.5 3.5 0 1 1 -7 0zM43 11a4 4 0 1 1 8 0a4 4 0 1 1 -8 0zM40.9 12.9L42.5 10.5L47.5 15.5L45.1 17.1zM42.5 10.5L44.2 8.2L49.8 13.8L47.5 15.5zM38.5 30a2.5 2.5 0 1 1 5 0a2.5 2.5 0 1 1 -5 0zM40.8 30.5a2.8 2.8 0 1 1 5.5 0a2.8 2.8 0 1 1 -5.5 0zM43 31a3 3 0 1 1 6 0a3 3 0 1 1 -6 0zM41.5 27.5L44 27.8L43 33.2L40.5 32.5zM44 27.8L46.6 28.1L45.4 33.9L43 33.2zM38 44a5 5 0 1 1 10 0a5 5 0 1 1 -10 0zM40 46a5.5 5.5 0 1 1 11 0a5.5 5.5 0 1 1 -11 0zM42 48a6 6 0 1 1 12 0a6 6 0 1 1 -12 0zM46.1 40.1L48.9 41.7L42.1 50.3L39.9 47.9zM48.9 41.7L51.7 43.3L44.3 52.7L42.1 50.3z" fill="#8c8c8c"/>
<path d="M40.4 15a2.6 2.6 0 1 1 5.2 0a2.6 2.6 0 1 1 -5.2 0zM41.9 13a3.1 3.1 0 1 1 6.2 0a3.1 3.1 0 1 1 -6.2 0zM43.4 11a3.6 3.6 0 1 1 7.2 0a3.6 3.6 0 1 1 -7.2 0zM41.1 13.1L42.8 10.8L47.2 15.2L44.9 16.9zM42.8 10.8L44.4 8.4L49.6 13.6L47.2 15.2zM38.9 30a2.1 2.1 0 1 1 4.2 0a2.1 2.1 0 1 1 -4.2 0zM41.1 30.5a2.4 2.4 0 1 1 4.7 0a2.4 2.4 0 1 1 -4.7 0zM43.4 31a2.6 2.6 0 1 1 5.2 0a2.6 2.6 0 1 1 -5.2 0zM41.4 27.9L44 28.2L43 32.8L40.6 32.1zM44 28.2L46.5 28.4L45.5 33.6L43 32.8zM38.4 44a4.6 4.6 0 1 1 9.2 0a4.6 4.6 0 1 1 -9.2 0zM40.4 46a5.1 5.1 0 1 1 10.2 0a5.1 5.1 0 1 1 -10.2 0zM42.4 48a5.6 5.6 0 1 1 11.2 0a5.6 5.6 0 1 1 -11.2 0zM45.9 40.4L48.7 42L42.3 50L40.1 47.6zM48.7 42L51.5 43.6L44.5 52.4L42.3 50z" fill="#fff"/>
<path d="M41.2 15a1.8 1.8 0 1 1 3.6 0a1.8 1.8 0 1 1 -3.6 0zM42.9 13a2.1 2.1 0 1 1 4.2 0a2.1 2.1 0 1 1 -4.2 0zM44.6 11a2.4 2.4 0 1 1 4.8 0a2.4 2.4 0 1 1 -4.8 0zM41.7 13.7L43.5 11.5L46.5 14.5L44.3 16.3zM43.5 11.5L45.3 9.3L48.7 12.7L46.5 14.5zM39.5 30a1.5 1.5 0 1 1 3 0a1.5 1.5 0 1 1 -3 0zM41.9 30.5a1.6 1.6 0 1 1 3.3 0a1.6 1.6 0 1 1 -3.3 0zM44.2 31a1.8 1.8 0 1 1 3.6 0a1.8 1.8 0 1 1 -3.6 0zM41.3 28.5L43.8 28.9L43.2 32.1L40.7 31.5zM43.8 28.9L46.4 29.2L45.6 32.8L43.2 32.1zM40 44a3 3 0 1 1 6 0a3 3 0 1 1 -6 0zM42.2 46a3.3 3.3 0 1 1 6.6 0a3.3 3.3 0 1 1 -6.6 0zM44.4 48a3.6 3.6 0 1 1 7.2 0a3.6 3.6 0 1 1 -7.2 0zM44.9 41.7L47.6 43.4L43.4 48.6L41.1 46.3zM47.6 43.4L50.2 45.2L45.8 50.8L43.4 48.6z" fill="#8c8c8c"/>
<path d="M41.6 15a1.4 1.4 0 1 1 2.8 0a1.4 1.4 0 1 1 -2.8 0zM43.3 13a1.7 1.7 0 1 1 3.4 0a1.7 1.7 0 1 1 -3.4 0zM45 11a2 2 0 1 1 4 0a2 2 0 1 1 -4 0zM42 14L43.8 11.8L46.2 14.2L44 16zM43.8 11.8L45.6 9.6L48.4 12.4L46.2 14.2zM39.9 30a1.1 1.1 0 1 1 2.2 0a1.1 1.1 0 1 1 -2.2 0zM42.2 30.5a1.3 1.3 0 1 1 2.5 0a1.3 1.3 0 1 1 -2.5 0zM44.6 31a1.4 1.4 0 1 1 2.8 0a1.4 1.4 0 1 1 -2.8 0zM41.2 28.9L43.7 29.3L43.3 31.7L40.8 31.1zM43.7 29.3L46.3 29.6L45.7 32.4L43.3 31.7zM40.4 44a2.6 2.6 0 1 1 5.2 0a2.6 2.6 0 1 1 -5.2 0zM42.6 46a2.9 2.9 0 1 1 5.8 0a2.9 2.9 0 1 1 -5.8 0zM44.8 48a3.2 3.2 0 1 1 6.4 0a3.2 3.2 0 1 1 -6.4 0zM44.6 42L47.3 43.7L43.7 48.3L41.4 46zM47.3 43.7L50 45.5L46 50.5L43.7 48.3z" fill="#fff"/>
<path d="M46 11.5a7 7 0 1 1 14 0a7 7 0 1 1 -14 0zM46.4 19a6.7 6.7 0 1 1 13.4 0a6.7 6.7 0 1 1 -13.4 0zM46.7 28a6.5 6.5 0 1 1 13 0a6.5 6.5 0 1 1 -13 0zM46.4 34.6a7 7 0 1 1 13.9 0a7 7 0 1 1 -13.9 0zM46 40a7.5 7.5 0 1 1 15 0a7.5 7.5 0 1 1 -15 0zM46 44.2a7.6 7.6 0 1 1 15.1 0a7.6 7.6 0 1 1 -15.1 0zM46 47a7.5 7.5 0 1 1 15 0a7.5 7.5 0 1 1 -15 0zM60 11.4L59.8 18.9L46.4 19.1L46 11.6zM59.8 18.9L59.7 27.9L46.7 28.1L46.4 19.1zM59.7 27.8L60.3 34.4L46.4 34.8L46.7 28.2zM60.3 34.4L61 39.8L46 40.2L46.4 34.8zM61 40L61.1 44.2L46 44.3L46 40zM61.1 44.3L61 47.1L46 46.9L46 44.2z" fill="#808080"/>
<path d="M46.4 11.5a6.6 6.6 0 1 1 13.3 0a6.6 6.6 0 1 1 -13.3 0zM46.8 19a6.3 6.3 0 1 1 12.7 0a6.3 6.3 0 1 1 -12.7 0zM47.1 28a6.1 6.1 0 1 1 12.3 0a6.1 6.1 0 1 1 -12.3 0zM46.8 34.6a6.6 6.6 0 1 1 13.2 0a6.6 6.6 0 1 1 -13.2 0zM46.4 40a7.1 7.1 0 1 1 14.3 0a7.1 7.1 0 1 1 -14.3 0zM46.3 44.2a7.2 7.2 0 1 1 14.4 0a7.2 7.2 0 1 1 -14.4 0zM46.4 47a7.1 7.1 0 1 1 14.3 0a7.1 7.1 0 1 1 -14.3 0zM59.6 11.4L59.4 18.9L46.8 19.1L46.4 11.6zM59.4 18.9L59.3 27.9L47.1 28.1L46.8 19.1zM59.3 27.8L60 34.4L46.8 34.8L47.1 28.2zM60 34.4L60.6 39.8L46.4 40.2L46.8 34.8zM60.6 40L60.7 44.2L46.3 44.3L46.4 40zM60.7 44.3L60.6 47L46.4 47L46.3 44.2z" fill="#e6e6e6"/>
<path d="M47.3 11.5a5.7 5.7 0 1 1 11.5 0a5.7 5.7 0 1 1 -11.5 0zM47.6 19a5.5 5.5 0 1 1 11 0a5.5 5.5 0 1 1 -11 0zM47.9 28a5.3 5.3 0 1 1 10.7 0a5.3 5.3 0 1 1 -10.7 0zM47.6 34.6a5.7 5.7 0 1 1 11.4 0a5.7 5.7 0 1 1 -11.4 0zM47.4 40a6.1 6.1 0 1 1 12.3 0a6.1 6.1 0 1 1 -12.3 0zM47.3 44.2a6.2 6.2 0 1 1 12.4 0a6.2 6.2 0 1 1 -12.4 0zM47.4 47a6.1 6.1 0 1 1 12.3 0a6.1 6.1 0 1 1 -12.3 0zM58.7 11.4L58.6 18.9L47.6 19.1L47.3 11.6zM58.6 18.9L58.5 27.9L47.9 28.1L47.6 19.1zM58.5 27.9L59.1 34.5L47.6 34.7L47.9 28.1zM59.1 34.4L59.6 39.8L47.4 40.2L47.6 34.7zM59.6 40L59.7 44.2L47.3 44.3L47.4 40zM59.7 44.3L59.6 47L47.4 47L47.3 44.2z" fill="#808080"/>
<path d="M47.6 11.5a5.4 5.4 0 1 1 10.8 0a5.4 5.4 0 1 1 -10.8 0zM48 19a5.1 5.1 0 1 1 10.2 0a5.1 5.1 0 1 1 -10.2 0zM48.2 28a5 5 0 1 1 9.9 0a5 5 0 1 1 -9.9 0zM48 34.6a5.4 5.4 0 1 1 10.7 0a5.4 5.4 0 1 1 -10.7 0zM47.7 40a5.8 5.8 0 1 1 11.6 0a5.8 5.8 0 1 1 -11.6 0zM47.7 44.2a5.8 5.8 0 1 1 11.7 0a5.8 5.8 0 1 1 -11.7 0zM47.7 47a5.8 5.8 0 1 1 11.6 0a5.8 5.8 0 1 1 -11.6 0zM58.4 11.4L58.2 18.9L48 19.1L47.6 11.6zM58.2 18.9L58.2 27.9L48.2 28.1L48 19.1zM58.2 27.9L58.7 34.5L48 34.7L48.2 28.1zM58.7 34.5L59.3 39.9L47.7 40.1L48 34.7zM59.3 40L59.4 44.2L47.7 44.3L47.7 40zM59.4 44.3L59.3 47L47.7 47L47.7 44.2z" fill="#d3d3d3"/>
<path d="M49 10a4 4 0 1 1 8 0a4 4 0 1 1 -8 0zM49.2 15a3.8 3.8 0 1 1 7.6 0a3.8 3.8 0 1 1 -7.6 0zM49.4 20a3.6 3.6 0 1 1 7.2 0a3.6 3.6 0 1 1 -7.2 0zM57 10L56.8 15L49.2 15L49 10zM56.8 15L56.6 20L49.4 20L49.2 15z" fill="#6a6a6a"/>
<path d="M49.4 10a3.6 3.6 0 1 1 7.3 0a3.6 3.6 0 1 1 -7.3 0zM49.6 15a3.4 3.4 0 1 1 6.9 0a3.4 3.4 0 1 1 -6.9 0zM49.8 20a3.2 3.2 0 1 1 6.5 0a3.2 3.2 0 1 1 -6.5 0zM56.6 10L56.4 15L49.6 15L49.4 10zM56.4 15L56.2 20L49.8 20L49.6 15z" fill="#c0c0c0"/>
<path d="M50.4 10a2.6 2.6 0 1 1 5.3 0a2.6 2.6 0 1 1 -5.3 0zM50.5 15a2.5 2.5 0 1 1 5 0a2.5 2.5 0 1 1 -5 0zM50.6 20a2.4 2.4 0 1 1 4.8 0a2.4 2.4 0 1 1 -4.8 0zM55.6 10L55.5 15L50.5 15L50.4 10zM55.5 15L55.4 20L50.6 20L50.5 15z" fill="#6a6a6a"/>
<path d="M50.7 10a2.3 2.3 0 1 1 4.6 0a2.3 2.3 0 1 1 -4.6 0zM50.9 15a2.1 2.1 0 1 1 4.3 0a2.1 2.1 0 1 1 -4.3 0zM51 20a2 2 0 1 1 4 0a2 2 0 1 1 -4 0zM55.3 10L55.1 15L50.9 15L50.7 10zM55.1 15L55 20L51 20L50.9 15z" fill="#acacac"/>
<path d="M51.8 10a1.2 1.2 0 1 1 2.4 0a1.2 1.2 0 1 1 -2.4 0zM51.9 15a1.1 1.1 0 1 1 2.3 0a1.1 1.1 0 1 1 -2.3 0zM51.9 20a1.1 1.1 0 1 1 2.2 0a1.1 1.1 0 1 1 -2.2 0zM54.2 10L54.1 15L51.9 15L51.8 10zM54.1 15L54.1 20L51.9 20L51.9 15z" fill="#6a6a6a"/>
<path d="M52.2 10a0.8 0.8 0 1 1 1.7 0a0.8 0.8 0 1 1 -1.7 0zM52.2 15a0.8 0.8 0 1 1 1.6 0a0.8 0.8 0 1 1 -1.6 0zM52.3 20a0.7 0.7 0 1 1 1.4 0a0.7 0.7 0 1 1 -1.4 0zM53.8 10L53.8 15L52.2 15L52.2 10zM53.8 15L53.7 20L52.3 20L52.2 15z" fill="#e6e6e6"/>
<path d="M49.7 35a3.8 3.8 0 1 1 7.6 0a3.8 3.8 0 1 1 -7.6 0zM49.3 41a4.3 4.3 0 1 1 8.6 0a4.3 4.3 0 1 1 -8.6 0zM48.9 47a4.8 4.8 0 1 1 9.6 0a4.8 4.8 0 1 1 -9.6 0zM57.3 34.9L57.9 40.9L49.3 41.1L49.7 35.1zM57.9 40.9L58.5 46.9L48.9 47.1L49.3 41.1z" fill="#6a6a6a"/>
<path d="M50.1 35a3.4 3.4 0 1 1 6.9 0a3.4 3.4 0 1 1 -6.9 0zM49.7 41a3.9 3.9 0 1 1 7.9 0a3.9 3.9 0 1 1 -7.9 0zM49.3 47a4.4 4.4 0 1 1 8.9 0a4.4 4.4 0 1 1 -8.9 0zM56.9 34.9L57.5 40.9L49.7 41.1L50.1 35.1zM57.5 40.9L58.1 46.9L49.3 47.1L49.7 41.1z" fill="#a9a9a9"/>
<path d="M50.8 35a2.7 2.7 0 1 1 5.3 0a2.7 2.7 0 1 1 -5.3 0zM50.6 41a3 3 0 1 1 6 0a3 3 0 1 1 -6 0zM50.3 47a3.4 3.4 0 1 1 6.7 0a3.4 3.4 0 1 1 -6.7 0zM56.2 35L56.6 40.9L50.6 41.1L50.8 35zM56.6 40.9L57.1 46.9L50.3 47.1L50.6 41.1z" fill="#6a6a6a"/>
<path d="M51.2 35a2.3 2.3 0 1 1 4.6 0a2.3 2.3 0 1 1 -4.6 0zM51 41a2.6 2.6 0 1 1 5.3 0a2.6 2.6 0 1 1 -5.3 0zM50.7 47a3 3 0 1 1 6 0a3 3 0 1 1 -6 0zM55.8 35L56.2 41L51 41L51.2 35zM56.2 41L56.7 47L50.7 47L51 41z" fill="#8f8f8f"/>
<path d="M51.9 35a1.6 1.6 0 1 1 3.2 0a1.6 1.6 0 1 1 -3.2 0zM51.8 41a1.8 1.8 0 1 1 3.6 0a1.8 1.8 0 1 1 -3.6 0zM51.7 47a2 2 0 1 1 4 0a2 2 0 1 1 -4 0zM55.1 35L55.4 41L51.8 41L51.9 35zM55.4 41L55.7 47L51.7 47L51.8 41z" fill="#6a6a6a"/>
<path d="M52.3 35a1.2 1.2 0 1 1 2.5 0a1.2 1.2 0 1 1 -2.5 0zM52.2 41a1.4 1.4 0 1 1 2.9 0a1.4 1.4 0 1 1 -2.9 0zM52 47a1.7 1.7 0 1 1 3.3 0a1.7 1.7 0 1 1 -3.3 0zM54.7 35L55 41L52.2 41L52.3 35zM55 41L55.4 47L52 47L52.2 41z" fill="#7c7c7c"/>
<path d="M52.9 35a0.6 0.6 0 1 1 1.2 0a0.6 0.6 0 1 1 -1.2 0zM52.9 41a0.7 0.7 0 1 1 1.4 0a0.7 0.7 0 1 1 -1.4 0zM52.9 47a0.8 0.8 0 1 1 1.5 0a0.8 0.8 0 1 1 -1.5 0zM54.1 35L54.3 41L52.9 41L52.9 35zM54.3 41L54.5 47L52.9 47L52.9 41z" fill="#6a6a6a"/>
<path d="M53.3 35a0.2 0.2 0 1 1 0.5 0a0.2 0.2 0 1 1 -0.5 0zM53.3 41a0.3 0.3 0 1 1 0.7 0a0.3 0.3 0 1 1 -0.7 0zM53.3 47a0.4 0.4 0 1 1 0.8 0a0.4 0.4 0 1 1 -0.8 0zM53.7 35L53.9 41L53.3 41L53.3 35zM53.9 41L54.1 47L53.3 47L53.3 41z" fill="#e0e0e0"/>
<rect x="0" y="0" width="69.3" height="67.1" fill="none" stroke="#0a0a0a" stroke-width="1.35"/>
<line x1="0" y1="22.5" x2="69.3" y2="22.5" stroke="#0a0a0a" stroke-width="1.35"/>
<line x1="38.75" y1="0" x2="38.75" y2="67.1" stroke="#0a0a0a" stroke-width="1.35"/>
<line x1="38.75" y1="36.6" x2="69.3" y2="36.6" stroke="#0a0a0a" stroke-width="1.35"/>
<path d="M-3.1 6H0M-3.1 21.9H0M-3.1 40.7H0M-3.1 63.6H0M2.7 67.1V70.1M28.5 67.1V70.1M47.7 67.1V70.1M63.1 67.1V70.1" stroke="#000" stroke-width="1" fill="none"/>
<path d="M-1.7 3H0M-1.7 4.3H0M-1.7 8H0M-1.7 10.5H0M-1.7 13H0M-1.7 15H0M-1.7 17H0M-1.7 18.6H0M-1.7 20.2H0M-1.7 25H0M-1.7 28H0M-1.7 31H0M-1.7 33.5H0M-1.7 36H0M-1.7 37.8H0M-1.7 39.3H0M-1.7 43.5H0M-1.7 45.5H0M-1.7 47.2H0M-1.7 48.6H0M-1.7 49.8H0M-1.7 55H0M-1.7 56.4H0M-1.7 58H0M-1.7 59.8H0M-1.7 61.6H0M-1.7 65.5H0M0.8 67.1V68.7M4.8 67.1V68.7M6.6 67.1V68.7M8.2 67.1V68.7M9.6 67.1V68.7M10.8 67.1V68.7M11.9 67.1V68.7M12.9 67.1V68.7M18 67.1V68.7M19 67.1V68.7M20.2 67.1V68.7M21.5 67.1V68.7M23 67.1V68.7M24.8 67.1V68.7M26.6 67.1V68.7M31.5 67.1V68.7M34.5 67.1V68.7M37 67.1V68.7M39.5 67.1V68.7M41.5 67.1V68.7M43.3 67.1V68.7M44.8 67.1V68.7M46.3 67.1V68.7M52.5 67.1V68.7M55.5 67.1V68.7M57.8 67.1V68.7M59.5 67.1V68.7M60.8 67.1V68.7M62 67.1V68.7M65.5 67.1V68.7M67.5 67.1V68.7" stroke="#000" stroke-width="0.65" fill="none"/>
<rect x="-1.9" y="50.7" width="1.9" height="3.3" fill="#000"/>
<rect x="13.2" y="67.1" width="4.4" height="2" fill="#000"/>
<text x="-6" y="11.3" font-size="6.8" text-anchor="end" textLength="9.4" lengthAdjust="spacingAndGlyphs">10<tspan font-size="4.62" dy="-2.86">5</tspan></text>
<text x="-6" y="24.2" font-size="6.8" text-anchor="end" textLength="9.4" lengthAdjust="spacingAndGlyphs">10<tspan font-size="4.62" dy="-2.86">4</tspan></text>
<text x="-6" y="42.6" font-size="6.8" text-anchor="end" textLength="9.4" lengthAdjust="spacingAndGlyphs">10<tspan font-size="4.62" dy="-2.86">3</tspan></text>
<text x="-8.6" y="55.3" font-size="6.8" text-anchor="middle" textLength="3.5" lengthAdjust="spacingAndGlyphs">0</text>
<text x="-6" y="66.7" font-size="6.8" text-anchor="end" textLength="11.5" lengthAdjust="spacingAndGlyphs">-10<tspan font-size="4.62" dy="-2.86">3</tspan></text>
<text x="9" y="78.7" font-size="6.8" text-anchor="end" textLength="11.6" lengthAdjust="spacingAndGlyphs">-10<tspan font-size="4.62" dy="-2.86">3</tspan></text>
<text x="15.9" y="78.7" font-size="6.8" text-anchor="middle" textLength="3.5" lengthAdjust="spacingAndGlyphs">0</text>
<text x="32.9" y="78.7" font-size="6.8" text-anchor="end" textLength="9.4" lengthAdjust="spacingAndGlyphs">10<tspan font-size="4.62" dy="-2.86">3</tspan></text>
<text x="52.1" y="78.7" font-size="6.8" text-anchor="end" textLength="9.4" lengthAdjust="spacingAndGlyphs">10<tspan font-size="4.62" dy="-2.86">4</tspan></text>
<text x="67.9" y="78.7" font-size="6.8" text-anchor="end" textLength="9.4" lengthAdjust="spacingAndGlyphs">10<tspan font-size="4.62" dy="-2.86">5</tspan></text>
<text x="4" y="6.5" font-size="4.4" fill="#0d0d0d">P1</text>
<text x="2.4" y="11.8" font-size="4.4" fill="#0d0d0d">0,45</text>
<text x="68" y="6.9" font-size="4.4" text-anchor="end" fill="#0d0d0d">P2</text>
<text x="68" y="12.2" font-size="4.4" text-anchor="end" fill="#0d0d0d">22,0</text>
<text x="68" y="28.6" font-size="4.4" text-anchor="end" fill="#0d0d0d">P3</text>
<text x="68" y="33.9" font-size="4.4" text-anchor="end" fill="#0d0d0d">22,3</text>
<text x="68" y="59.2" font-size="4.4" text-anchor="end" fill="#0d0d0d">P4</text>
<text x="68" y="64.5" font-size="4.4" text-anchor="end" fill="#0d0d0d">50,7</text>
</g>
<g transform="translate(346.1 274.6)">
<path d="M57.5 6a2.5 2.5 0 1 1 5 0a2.5 2.5 0 1 1 -5 0zM54.4 9.4a3.8 3.8 0 1 1 7.6 0a3.8 3.8 0 1 1 -7.6 0zM50.5 14a5.5 5.5 0 1 1 11 0a5.5 5.5 0 1 1 -11 0zM46.8 18.9a7.1 7.1 0 1 1 14.2 0a7.1 7.1 0 1 1 -14.2 0zM43.5 24a8.5 8.5 0 1 1 17 0a8.5 8.5 0 1 1 -17 0zM41.3 29.6a9.4 9.4 0 1 1 18.9 0a9.4 9.4 0 1 1 -18.9 0zM40 34a10 10 0 1 1 20 0a10 10 0 1 1 -20 0zM62.2 7.2L61.6 11.1L54.9 7.6L57.8 4.8zM61.7 11L60.9 16.4L51.1 11.6L54.8 7.7zM61 16.2L60.4 21.7L47.4 16L51 11.8zM60.5 21.3L60 26.9L44 21.1L47.2 16.4zM60.3 25.8L60 31.7L41.5 27.6L43.7 22.2zM60.1 31.2L59.9 35.7L40.1 32.3L41.4 28z" fill="#8c8c8c"/>
<path d="M57.9 6a2.1 2.1 0 1 1 4.2 0a2.1 2.1 0 1 1 -4.2 0zM54.8 9.4a3.4 3.4 0 1 1 6.9 0a3.4 3.4 0 1 1 -6.9 0zM50.9 14a5.1 5.1 0 1 1 10.2 0a5.1 5.1 0 1 1 -10.2 0zM47.2 18.9a6.7 6.7 0 1 1 13.4 0a6.7 6.7 0 1 1 -13.4 0zM43.9 24a8.1 8.1 0 1 1 16.2 0a8.1 8.1 0 1 1 -16.2 0zM41.7 29.6a9.1 9.1 0 1 1 18.1 0a9.1 9.1 0 1 1 -18.1 0zM40.4 34a9.6 9.6 0 1 1 19.2 0a9.6 9.6 0 1 1 -19.2 0zM61.9 7L61.3 11L55.2 7.8L58.1 5zM61.3 10.9L60.6 16.2L51.4 11.8L55.2 7.9zM60.7 16L60 21.6L47.7 16.2L51.3 12zM60.2 21.2L59.6 26.8L44.4 21.2L47.6 16.6zM59.9 25.8L59.6 31.6L41.9 27.7L44.1 22.2zM59.7 31.2L59.5 35.6L40.5 32.4L41.8 28.1z" fill="#f4f4f4"/>
<path d="M58 6a2 2 0 1 1 3.9 0a2 2 0 1 1 -3.9 0zM55.3 9.4a3 3 0 1 1 5.9 0a3 3 0 1 1 -5.9 0zM51.7 14a4.3 4.3 0 1 1 8.6 0a4.3 4.3 0 1 1 -8.6 0zM48.3 18.9a5.5 5.5 0 1 1 11.1 0a5.5 5.5 0 1 1 -11.1 0zM45.4 24a6.6 6.6 0 1 1 13.3 0a6.6 6.6 0 1 1 -13.3 0zM43.4 29.6a7.4 7.4 0 1 1 14.7 0a7.4 7.4 0 1 1 -14.7 0zM42.2 34a7.8 7.8 0 1 1 15.6 0a7.8 7.8 0 1 1 -15.6 0zM61.7 6.9L60.9 10.7L55.6 8L58.3 5.1zM60.9 10.7L59.9 15.9L52.1 12.1L55.6 8.1zM59.9 15.7L58.9 21.1L48.8 16.7L52.1 12.3zM59.1 20.8L58.2 26.3L45.8 21.7L48.7 17zM58.5 25.4L57.9 31.2L43.6 28L45.5 22.6zM58 30.9L57.7 35.3L42.3 32.7L43.5 28.4z" fill="#8c8c8c"/>
<path d="M58.4 6a1.6 1.6 0 1 1 3.1 0a1.6 1.6 0 1 1 -3.1 0zM55.7 9.4a2.6 2.6 0 1 1 5.2 0a2.6 2.6 0 1 1 -5.2 0zM52.1 14a3.9 3.9 0 1 1 7.8 0a3.9 3.9 0 1 1 -7.8 0zM48.7 18.9a5.2 5.2 0 1 1 10.3 0a5.2 5.2 0 1 1 -10.3 0zM45.8 24a6.2 6.2 0 1 1 12.5 0a6.2 6.2 0 1 1 -12.5 0zM43.8 29.6a7 7 0 1 1 14 0a7 7 0 1 1 -14 0zM42.6 34a7.4 7.4 0 1 1 14.8 0a7.4 7.4 0 1 1 -14.8 0zM61.4 6.7L60.6 10.6L55.9 8.2L58.6 5.3zM60.6 10.5L59.5 15.7L52.5 12.3L55.9 8.2zM59.6 15.6L58.6 20.9L49.2 16.8L52.4 12.4zM58.7 20.6L57.9 26.1L46.1 21.9L49 17.1zM58.1 25.4L57.6 31.1L43.9 28.1L45.9 22.6zM57.6 30.8L57.3 35.3L42.7 32.7L43.9 28.4z" fill="#f4f4f4"/>
<path d="M58.6 6a1.4 1.4 0 1 1 2.8 0a1.4 1.4 0 1 1 -2.8 0zM56.1 9.4a2.1 2.1 0 1 1 4.3 0a2.1 2.1 0 1 1 -4.3 0zM52.9 14a3.1 3.1 0 1 1 6.2 0a3.1 3.1 0 1 1 -6.2 0zM49.9 18.9a4 4 0 1 1 7.9 0a4 4 0 1 1 -7.9 0zM47.2 24a4.8 4.8 0 1 1 9.5 0a4.8 4.8 0 1 1 -9.5 0zM45.5 29.6a5.3 5.3 0 1 1 10.6 0a5.3 5.3 0 1 1 -10.6 0zM44.4 34a5.6 5.6 0 1 1 11.2 0a5.6 5.6 0 1 1 -11.2 0zM61.2 6.6L60.1 10.4L56.4 8.4L58.8 5.4zM60.2 10.3L58.8 15.3L53.2 12.7L56.3 8.4zM58.8 15.2L57.5 20.5L50.2 17.3L53.2 12.8zM57.6 20.2L56.5 25.6L47.5 22.4L50.1 17.5zM56.6 25L55.9 30.8L45.6 28.5L47.4 23zM56 30.5L55.5 34.9L44.5 33.1L45.5 28.7z" fill="#8c8c8c"/>
<path d="M59 6a1 1 0 1 1 2 0a1 1 0 1 1 -2 0zM56.5 9.4a1.8 1.8 0 1 1 3.5 0a1.8 1.8 0 1 1 -3.5 0zM53.3 14a2.7 2.7 0 1 1 5.4 0a2.7 2.7 0 1 1 -5.4 0zM50.3 18.9a3.6 3.6 0 1 1 7.2 0a3.6 3.6 0 1 1 -7.2 0zM47.6 24a4.4 4.4 0 1 1 8.8 0a4.4 4.4 0 1 1 -8.8 0zM45.8 29.6a4.9 4.9 0 1 1 9.8 0a4.9 4.9 0 1 1 -9.8 0zM44.8 34a5.2 5.2 0 1 1 10.4 0a5.2 5.2 0 1 1 -10.4 0zM60.9 6.5L59.8 10.2L56.7 8.6L59.1 5.5zM59.8 10.1L58.4 15.2L53.6 12.8L56.7 8.6zM58.5 15.1L57.2 20.3L50.6 17.4L53.5 12.9zM57.2 20.1L56.1 25.5L47.9 22.5L50.5 17.6zM56.3 25L55.5 30.7L46 28.6L47.7 23zM55.6 30.5L55.1 34.9L44.9 33.1L45.9 28.8z" fill="#f4f4f4"/>
<path d="M59.1 6a0.9 0.9 0 1 1 1.7 0a0.9 0.9 0 1 1 -1.7 0zM57 9.4a1.3 1.3 0 1 1 2.6 0a1.3 1.3 0 1 1 -2.6 0zM54.1 14a1.9 1.9 0 1 1 3.7 0a1.9 1.9 0 1 1 -3.7 0zM51.5 18.9a2.4 2.4 0 1 1 4.8 0a2.4 2.4 0 1 1 -4.8 0zM49.1 24a2.9 2.9 0 1 1 5.8 0a2.9 2.9 0 1 1 -5.8 0zM47.5 29.6a3.2 3.2 0 1 1 6.4 0a3.2 3.2 0 1 1 -6.4 0zM46.6 34a3.4 3.4 0 1 1 6.8 0a3.4 3.4 0 1 1 -6.8 0zM60.8 6.4L59.4 10L57.1 8.8L59.2 5.6zM59.4 9.9L57.7 14.8L54.3 13.2L57.1 8.8zM57.7 14.7L56.1 19.8L51.7 17.9L54.3 13.3zM56.1 19.7L54.7 25L49.3 23L51.6 18zM54.8 24.6L53.9 30.3L47.6 28.9L49.2 23.4zM53.9 30.2L53.4 34.6L46.6 33.4L47.6 29.1z" fill="#8c8c8c"/>
<path d="M59.5 6a0.5 0.5 0 1 1 0.9 0a0.5 0.5 0 1 1 -0.9 0zM57.3 9.4a0.9 0.9 0 1 1 1.8 0a0.9 0.9 0 1 1 -1.8 0zM54.5 14a1.5 1.5 0 1 1 3 0a1.5 1.5 0 1 1 -3 0zM51.8 18.9a2 2 0 1 1 4.1 0a2 2 0 1 1 -4.1 0zM49.5 24a2.5 2.5 0 1 1 5 0a2.5 2.5 0 1 1 -5 0zM47.9 29.6a2.8 2.8 0 1 1 5.7 0a2.8 2.8 0 1 1 -5.7 0zM47 34a3 3 0 1 1 6 0a3 3 0 1 1 -6 0zM60.4 6.2L59.1 9.8L57.4 9L59.6 5.8zM59.1 9.8L57.3 14.7L54.7 13.3L57.4 9zM57.4 14.6L55.7 19.7L52 18.1L54.6 13.4zM55.8 19.6L54.4 24.9L49.6 23.1L52 18.2zM54.5 24.5L53.5 30.2L48 29L49.5 23.5zM53.5 30.1L53 34.5L47 33.5L48 29.1z" fill="#f4f4f4"/>
<path d="M31.5 47.8a5.5 5.5 0 1 1 11 0a5.5 5.5 0 1 1 -11 0zM33.6 47.2a6.9 6.9 0 1 1 13.8 0a6.9 6.9 0 1 1 -13.8 0zM36.6 46.5a8.4 8.4 0 1 1 16.8 0a8.4 8.4 0 1 1 -16.8 0zM40.3 46.2a8.9 8.9 0 1 1 17.8 0a8.9 8.9 0 1 1 -17.8 0zM44.1 46a8.9 8.9 0 1 1 17.8 0a8.9 8.9 0 1 1 -17.8 0zM47.2 45.7a8.6 8.6 0 1 1 17.2 0a8.6 8.6 0 1 1 -17.2 0zM49.3 45.5a8.2 8.2 0 1 1 16.4 0a8.2 8.2 0 1 1 -16.4 0zM36 42.4L39.3 40.4L41.7 54L38 53.2zM39.5 40.3L43.7 38.2L46.3 54.8L41.5 54zM44.4 38.1L48.6 37.3L49.8 55.1L45.6 54.9zM48.7 37.3L52.5 37.1L53.5 54.9L49.7 55.1zM52.1 37.1L54.9 37.2L56.6 54.3L53.9 54.9zM54.7 37.2L56.5 37.4L58.5 53.6L56.8 54.2z" fill="#808080"/>
<path d="M31.9 47.8a5.1 5.1 0 1 1 10.3 0a5.1 5.1 0 1 1 -10.3 0zM33.9 47.2a6.6 6.6 0 1 1 13.1 0a6.6 6.6 0 1 1 -13.1 0zM37 46.5a8 8 0 1 1 16.1 0a8 8 0 1 1 -16.1 0zM40.7 46.2a8.5 8.5 0 1 1 17 0a8.5 8.5 0 1 1 -17 0zM44.5 46a8.5 8.5 0 1 1 17.1 0a8.5 8.5 0 1 1 -17.1 0zM47.5 45.7a8.2 8.2 0 1 1 16.4 0a8.2 8.2 0 1 1 -16.4 0zM49.7 45.5a7.8 7.8 0 1 1 15.7 0a7.8 7.8 0 1 1 -15.7 0zM36.1 42.7L39.4 40.7L41.6 53.6L37.9 52.9zM39.5 40.7L43.8 38.6L46.2 54.4L41.5 53.7zM44.4 38.5L48.6 37.7L49.8 54.7L45.6 54.5zM48.8 37.7L52.5 37.5L53.5 54.5L49.7 54.7zM52.1 37.5L54.9 37.5L56.6 53.9L53.9 54.5zM54.7 37.6L56.5 37.7L58.5 53.3L56.8 53.9z" fill="#e6e6e6"/>
<path d="M32.5 47.8a4.5 4.5 0 1 1 9 0a4.5 4.5 0 1 1 -9 0zM34.8 47.2a5.7 5.7 0 1 1 11.3 0a5.7 5.7 0 1 1 -11.3 0zM38.1 46.5a6.9 6.9 0 1 1 13.8 0a6.9 6.9 0 1 1 -13.8 0zM41.9 46.2a7.3 7.3 0 1 1 14.6 0a7.3 7.3 0 1 1 -14.6 0zM45.7 46a7.3 7.3 0 1 1 14.6 0a7.3 7.3 0 1 1 -14.6 0zM48.7 45.7a7 7 0 1 1 14.1 0a7 7 0 1 1 -14.1 0zM50.8 45.5a6.7 6.7 0 1 1 13.4 0a6.7 6.7 0 1 1 -13.4 0zM36.2 43.4L39.5 41.6L41.5 52.8L37.8 52.2zM39.7 41.6L44 39.7L46 53.3L41.3 52.8zM44.5 39.6L48.7 38.9L49.7 53.5L45.5 53.4zM48.8 38.9L52.6 38.7L53.4 53.3L49.6 53.5zM52.3 38.7L55 38.7L56.5 52.7L53.7 53.3zM54.9 38.7L56.7 38.8L58.3 52.2L56.6 52.7z" fill="#808080"/>
<path d="M32.9 47.8a4.1 4.1 0 1 1 8.3 0a4.1 4.1 0 1 1 -8.3 0zM35.2 47.2a5.3 5.3 0 1 1 10.6 0a5.3 5.3 0 1 1 -10.6 0zM38.5 46.5a6.5 6.5 0 1 1 13.1 0a6.5 6.5 0 1 1 -13.1 0zM42.3 46.2a6.9 6.9 0 1 1 13.8 0a6.9 6.9 0 1 1 -13.8 0zM46.1 46a6.9 6.9 0 1 1 13.9 0a6.9 6.9 0 1 1 -13.9 0zM49.1 45.7a6.7 6.7 0 1 1 13.4 0a6.7 6.7 0 1 1 -13.4 0zM51.1 45.5a6.4 6.4 0 1 1 12.7 0a6.4 6.4 0 1 1 -12.7 0zM36.3 43.7L39.6 41.9L41.4 52.4L37.7 51.9zM39.7 41.9L44 40L46 53L41.3 52.4zM44.5 40L48.7 39.3L49.7 53.1L45.5 53zM48.9 39.3L52.6 39.1L53.4 52.9L49.6 53.1zM52.3 39.1L55.1 39.1L56.4 52.4L53.7 52.9zM54.9 39.1L56.7 39.2L58.3 51.8L56.6 52.3z" fill="#d3d3d3"/>
<path d="M41.4 46.9a4.6 4.6 0 1 1 9.2 0a4.6 4.6 0 1 1 -9.2 0zM45.1 46.2a4.9 4.9 0 1 1 9.8 0a4.9 4.9 0 1 1 -9.8 0zM48.8 45.6a5.2 5.2 0 1 1 10.4 0a5.2 5.2 0 1 1 -10.4 0zM45.3 42.4L49.2 41.4L50.8 51.1L46.7 51.4zM49.2 41.4L53.2 40.5L54.8 50.7L50.8 51.1z" fill="#6a6a6a"/>
<path d="M41.8 46.9a4.2 4.2 0 1 1 8.5 0a4.2 4.2 0 1 1 -8.5 0zM45.5 46.2a4.5 4.5 0 1 1 9.1 0a4.5 4.5 0 1 1 -9.1 0zM49.2 45.6a4.8 4.8 0 1 1 9.7 0a4.8 4.8 0 1 1 -9.7 0zM45.3 42.7L49.3 41.8L50.7 50.7L46.7 51.1zM49.3 41.8L53.2 40.8L54.8 50.4L50.7 50.7z" fill="#bcbcbc"/>
<path d="M42.8 46.9a3.2 3.2 0 1 1 6.4 0a3.2 3.2 0 1 1 -6.4 0zM46.6 46.2a3.4 3.4 0 1 1 6.9 0a3.4 3.4 0 1 1 -6.9 0zM50.4 45.6a3.6 3.6 0 1 1 7.3 0a3.6 3.6 0 1 1 -7.3 0zM45.5 43.7L49.4 42.9L50.6 49.6L46.5 50.1zM49.4 42.9L53.4 42L54.6 49.2L50.6 49.6z" fill="#6a6a6a"/>
<path d="M43.1 46.9a2.9 2.9 0 1 1 5.7 0a2.9 2.9 0 1 1 -5.7 0zM46.9 46.2a3.1 3.1 0 1 1 6.1 0a3.1 3.1 0 1 1 -6.1 0zM50.7 45.6a3.3 3.3 0 1 1 6.6 0a3.3 3.3 0 1 1 -6.6 0zM45.5 44.1L49.5 43.2L50.5 49.3L46.5 49.7zM49.5 43.2L53.5 42.4L54.5 48.8L50.5 49.3z" fill="#a6a6a6"/>
<path d="M44.1 46.9a1.9 1.9 0 1 1 3.9 0a1.9 1.9 0 1 1 -3.9 0zM47.9 46.2a2.1 2.1 0 1 1 4.1 0a2.1 2.1 0 1 1 -4.1 0zM51.8 45.6a2.2 2.2 0 1 1 4.4 0a2.2 2.2 0 1 1 -4.4 0zM45.7 45L49.7 44.2L50.3 48.3L46.3 48.8zM49.7 44.2L53.6 43.4L54.4 47.8L50.3 48.3z" fill="#6a6a6a"/>
<path d="M44.4 46.9a1.6 1.6 0 1 1 3.1 0a1.6 1.6 0 1 1 -3.1 0zM48.3 46.2a1.7 1.7 0 1 1 3.4 0a1.7 1.7 0 1 1 -3.4 0zM52.2 45.6a1.8 1.8 0 1 1 3.6 0a1.8 1.8 0 1 1 -3.6 0zM45.7 45.3L49.7 44.6L50.3 47.9L46.3 48.5zM49.7 44.6L53.7 43.8L54.3 47.4L50.3 47.9z" fill="#949494"/>
<path d="M45.3 46.9a0.7 0.7 0 1 1 1.5 0a0.7 0.7 0 1 1 -1.5 0zM49.2 46.2a0.8 0.8 0 1 1 1.6 0a0.8 0.8 0 1 1 -1.6 0zM53.2 45.6a0.8 0.8 0 1 1 1.7 0a0.8 0.8 0 1 1 -1.7 0zM45.9 46.2L49.9 45.5L50.1 47L46.1 47.6zM49.9 45.5L53.9 44.8L54.1 46.4L50.1 47z" fill="#6a6a6a"/>
<path d="M45.6 46.9a0.4 0.4 0 1 1 0.8 0a0.4 0.4 0 1 1 -0.8 0zM49.6 46.2a0.4 0.4 0 1 1 0.8 0a0.4 0.4 0 1 1 -0.8 0zM53.5 45.6a0.5 0.5 0 1 1 0.9 0a0.5 0.5 0 1 1 -0.9 0zM45.9 46.5L49.9 45.8L50.1 46.7L46.1 47.3zM49.9 45.8L53.9 45.1L54.1 46.1L50.1 46.7z" fill="#e2e2e2"/>
<rect x="0" y="0" width="69.3" height="67.1" fill="none" stroke="#0a0a0a" stroke-width="1.35"/>
<line x1="0" y1="22.5" x2="69.3" y2="22.5" stroke="#0a0a0a" stroke-width="1.35"/>
<line x1="38.75" y1="0" x2="38.75" y2="67.1" stroke="#0a0a0a" stroke-width="1.35"/>
<line x1="38.75" y1="36.6" x2="69.3" y2="36.6" stroke="#0a0a0a" stroke-width="1.35"/>
<path d="M-3.1 6H0M-3.1 21.9H0M-3.1 40.7H0M-3.1 63.6H0M2.7 67.1V70.1M28.5 67.1V70.1M47.7 67.1V70.1M63.1 67.1V70.1" stroke="#000" stroke-width="1" fill="none"/>
<path d="M-1.7 3H0M-1.7 4.3H0M-1.7 8H0M-1.7 10.5H0M-1.7 13H0M-1.7 15H0M-1.7 17H0M-1.7 18.6H0M-1.7 20.2H0M-1.7 25H0M-1.7 28H0M-1.7 31H0M-1.7 33.5H0M-1.7 36H0M-1.7 37.8H0M-1.7 39.3H0M-1.7 43.5H0M-1.7 45.5H0M-1.7 47.2H0M-1.7 48.6H0M-1.7 49.8H0M-1.7 55H0M-1.7 56.4H0M-1.7 58H0M-1.7 59.8H0M-1.7 61.6H0M-1.7 65.5H0M0.8 67.1V68.7M4.8 67.1V68.7M6.6 67.1V68.7M8.2 67.1V68.7M9.6 67.1V68.7M10.8 67.1V68.7M11.9 67.1V68.7M12.9 67.1V68.7M18 67.1V68.7M19 67.1V68.7M20.2 67.1V68.7M21.5 67.1V68.7M23 67.1V68.7M24.8 67.1V68.7M26.6 67.1V68.7M31.5 67.1V68.7M34.5 67.1V68.7M37 67.1V68.7M39.5 67.1V68.7M41.5 67.1V68.7M43.3 67.1V68.7M44.8 67.1V68.7M46.3 67.1V68.7M52.5 67.1V68.7M55.5 67.1V68.7M57.8 67.1V68.7M59.5 67.1V68.7M60.8 67.1V68.7M62 67.1V68.7M65.5 67.1V68.7M67.5 67.1V68.7" stroke="#000" stroke-width="0.65" fill="none"/>
<rect x="-1.9" y="50.7" width="1.9" height="3.3" fill="#000"/>
<rect x="13.2" y="67.1" width="4.4" height="2" fill="#000"/>
<text x="-6" y="11.3" font-size="6.8" text-anchor="end" textLength="9.4" lengthAdjust="spacingAndGlyphs">10<tspan font-size="4.62" dy="-2.86">5</tspan></text>
<text x="-6" y="24.2" font-size="6.8" text-anchor="end" textLength="9.4" lengthAdjust="spacingAndGlyphs">10<tspan font-size="4.62" dy="-2.86">4</tspan></text>
<text x="-6" y="42.6" font-size="6.8" text-anchor="end" textLength="9.4" lengthAdjust="spacingAndGlyphs">10<tspan font-size="4.62" dy="-2.86">3</tspan></text>
<text x="-8.6" y="55.3" font-size="6.8" text-anchor="middle" textLength="3.5" lengthAdjust="spacingAndGlyphs">0</text>
<text x="-6" y="66.7" font-size="6.8" text-anchor="end" textLength="11.5" lengthAdjust="spacingAndGlyphs">-10<tspan font-size="4.62" dy="-2.86">3</tspan></text>
<text x="9" y="78.7" font-size="6.8" text-anchor="end" textLength="11.6" lengthAdjust="spacingAndGlyphs">-10<tspan font-size="4.62" dy="-2.86">3</tspan></text>
<text x="15.9" y="78.7" font-size="6.8" text-anchor="middle" textLength="3.5" lengthAdjust="spacingAndGlyphs">0</text>
<text x="32.9" y="78.7" font-size="6.8" text-anchor="end" textLength="9.4" lengthAdjust="spacingAndGlyphs">10<tspan font-size="4.62" dy="-2.86">3</tspan></text>
<text x="52.1" y="78.7" font-size="6.8" text-anchor="end" textLength="9.4" lengthAdjust="spacingAndGlyphs">10<tspan font-size="4.62" dy="-2.86">4</tspan></text>
<text x="67.9" y="78.7" font-size="6.8" text-anchor="end" textLength="9.4" lengthAdjust="spacingAndGlyphs">10<tspan font-size="4.62" dy="-2.86">5</tspan></text>
<text x="4" y="6.5" font-size="4.4" fill="#0d0d0d">P1</text>
<text x="2.4" y="11.8" font-size="4.4" fill="#0d0d0d">0,17</text>
<text x="68" y="6.9" font-size="4.4" text-anchor="end" fill="#0d0d0d">P2</text>
<text x="68" y="12.2" font-size="4.4" text-anchor="end" fill="#0d0d0d">12,8</text>
<text x="68" y="28.6" font-size="4.4" text-anchor="end" fill="#0d0d0d">P3</text>
<text x="68" y="33.9" font-size="4.4" text-anchor="end" fill="#0d0d0d">24,1</text>
<text x="68" y="59.2" font-size="4.4" text-anchor="end" fill="#0d0d0d">P4</text>
<text x="68" y="64.5" font-size="4.4" text-anchor="end" fill="#0d0d0d">55,6</text>
</g>
<g transform="translate(443.4 274.6)">
<path d="M57.5 8a2.5 2.5 0 1 1 5 0a2.5 2.5 0 1 1 -5 0zM54.4 11.9a3.8 3.8 0 1 1 7.7 0a3.8 3.8 0 1 1 -7.7 0zM50.5 17a5.5 5.5 0 1 1 11 0a5.5 5.5 0 1 1 -11 0zM47.2 22.1a6.8 6.8 0 1 1 13.7 0a6.8 6.8 0 1 1 -13.7 0zM44.5 27a8 8 0 1 1 16 0a8 8 0 1 1 -16 0zM43.1 31.6a8.9 8.9 0 1 1 17.8 0a8.9 8.9 0 1 1 -17.8 0zM42.5 35a9.5 9.5 0 1 1 19 0a9.5 9.5 0 1 1 -19 0zM62.3 9L61.7 13.5L54.7 10.3L57.7 7zM61.7 13.4L61 19.2L51 14.8L54.7 10.3zM61.1 19L60.4 24.5L47.7 19.6L50.9 15zM60.6 24.1L60.1 29.4L44.9 24.6L47.5 20zM60.5 27.8L60.9 32.5L43.2 30.7L44.5 26.2zM60.9 31.7L61.5 35.1L42.5 34.9L43.1 31.5z" fill="#8c8c8c"/>
<path d="M57.9 8a2.1 2.1 0 1 1 4.2 0a2.1 2.1 0 1 1 -4.2 0zM54.8 11.9a3.5 3.5 0 1 1 6.9 0a3.5 3.5 0 1 1 -6.9 0zM50.9 17a5.1 5.1 0 1 1 10.2 0a5.1 5.1 0 1 1 -10.2 0zM47.6 22.1a6.5 6.5 0 1 1 12.9 0a6.5 6.5 0 1 1 -12.9 0zM44.9 27a7.6 7.6 0 1 1 15.2 0a7.6 7.6 0 1 1 -15.2 0zM43.5 31.6a8.5 8.5 0 1 1 17.1 0a8.5 8.5 0 1 1 -17.1 0zM42.9 35a9.1 9.1 0 1 1 18.2 0a9.1 9.1 0 1 1 -18.2 0zM61.9 8.9L61.4 13.3L55.1 10.4L58.1 7.1zM61.4 13.3L60.7 19L51.3 15L55 10.5zM60.8 18.9L60.1 24.4L48 19.7L51.2 15.1zM60.2 24L59.8 29.3L45.2 24.7L47.9 20.1zM60.1 27.8L60.5 32.5L43.5 30.8L44.9 26.2zM60.6 31.7L61.1 35.1L42.9 34.9L43.5 31.5z" fill="#f4f4f4"/>
<path d="M58 8a2 2 0 1 1 3.9 0a2 2 0 1 1 -3.9 0zM55.2 11.9a3 3 0 1 1 6 0a3 3 0 1 1 -6 0zM51.7 17a4.3 4.3 0 1 1 8.6 0a4.3 4.3 0 1 1 -8.6 0zM48.7 22.1a5.3 5.3 0 1 1 10.7 0a5.3 5.3 0 1 1 -10.7 0zM46.3 27a6.2 6.2 0 1 1 12.5 0a6.2 6.2 0 1 1 -12.5 0zM45.1 31.6a6.9 6.9 0 1 1 13.9 0a6.9 6.9 0 1 1 -13.9 0zM44.6 35a7.4 7.4 0 1 1 14.8 0a7.4 7.4 0 1 1 -14.8 0zM61.8 8.8L60.9 13.1L55.5 10.6L58.2 7.2zM61 13.1L59.9 18.7L52.1 15.3L55.5 10.7zM60 18.6L59 24L49.1 20.1L52 15.4zM59.1 23.6L58.5 28.8L46.5 25.2L48.9 20.5zM58.7 27.6L58.9 32.3L45.1 30.9L46.3 26.4zM59 31.7L59.4 35.1L44.6 34.9L45.1 31.6z" fill="#8c8c8c"/>
<path d="M58.4 8a1.6 1.6 0 1 1 3.1 0a1.6 1.6 0 1 1 -3.1 0zM55.6 11.9a2.6 2.6 0 1 1 5.2 0a2.6 2.6 0 1 1 -5.2 0zM52.1 17a3.9 3.9 0 1 1 7.8 0a3.9 3.9 0 1 1 -7.8 0zM49.1 22.1a5 5 0 1 1 9.9 0a5 5 0 1 1 -9.9 0zM46.6 27a5.9 5.9 0 1 1 11.7 0a5.9 5.9 0 1 1 -11.7 0zM45.5 31.6a6.6 6.6 0 1 1 13.1 0a6.6 6.6 0 1 1 -13.1 0zM45 35a7 7 0 1 1 14.1 0a7 7 0 1 1 -14.1 0zM61.4 8.7L60.6 13L55.8 10.8L58.6 7.3zM60.6 12.9L59.6 18.6L52.4 15.4L55.8 10.8zM59.6 18.4L58.7 23.9L49.4 20.3L52.4 15.6zM58.8 23.5L58.1 28.7L46.9 25.3L49.3 20.6zM58.3 27.6L58.6 32.3L45.5 31L46.7 26.4zM58.6 31.7L59 35.1L45 34.9L45.5 31.6z" fill="#f4f4f4"/>
<path d="M58.6 8a1.4 1.4 0 1 1 2.8 0a1.4 1.4 0 1 1 -2.8 0zM56.1 11.9a2.2 2.2 0 1 1 4.3 0a2.2 2.2 0 1 1 -4.3 0zM52.9 17a3.1 3.1 0 1 1 6.2 0a3.1 3.1 0 1 1 -6.2 0zM50.2 22.1a3.8 3.8 0 1 1 7.7 0a3.8 3.8 0 1 1 -7.7 0zM48 27a4.5 4.5 0 1 1 9 0a4.5 4.5 0 1 1 -9 0zM47 31.6a5 5 0 1 1 10 0a5 5 0 1 1 -10 0zM46.7 35a5.3 5.3 0 1 1 10.6 0a5.3 5.3 0 1 1 -10.6 0zM61.3 8.6L60.2 12.8L56.3 11L58.7 7.4zM60.2 12.7L58.8 18.2L53.2 15.8L56.2 11zM58.9 18.1L57.6 23.5L50.5 20.7L53.1 15.9zM57.7 23.2L56.8 28.3L48.2 25.7L50.4 20.9zM57 27.5L57 32.1L47.1 31.1L48 26.5zM57 31.7L57.3 35L46.7 35L47 31.6z" fill="#8c8c8c"/>
<path d="M59 8a1 1 0 1 1 2 0a1 1 0 1 1 -2 0zM56.4 11.9a1.8 1.8 0 1 1 3.5 0a1.8 1.8 0 1 1 -3.5 0zM53.3 17a2.7 2.7 0 1 1 5.4 0a2.7 2.7 0 1 1 -5.4 0zM50.6 22.1a3.5 3.5 0 1 1 6.9 0a3.5 3.5 0 1 1 -6.9 0zM48.4 27a4.1 4.1 0 1 1 8.2 0a4.1 4.1 0 1 1 -8.2 0zM47.4 31.6a4.6 4.6 0 1 1 9.2 0a4.6 4.6 0 1 1 -9.2 0zM47.1 35a4.9 4.9 0 1 1 9.9 0a4.9 4.9 0 1 1 -9.9 0zM60.9 8.4L59.8 12.6L56.6 11.1L59.1 7.6zM59.8 12.6L58.5 18.1L53.5 15.9L56.6 11.2zM58.5 18L57.2 23.3L50.8 20.8L53.5 16zM57.3 23.1L56.4 28.2L48.6 25.8L50.7 21zM56.6 27.4L56.6 32.1L47.4 31.2L48.4 26.6zM56.6 31.7L56.9 35L47.1 35L47.4 31.6z" fill="#f4f4f4"/>
<path d="M59.1 8a0.9 0.9 0 1 1 1.7 0a0.9 0.9 0 1 1 -1.7 0zM56.9 11.9a1.3 1.3 0 1 1 2.6 0a1.3 1.3 0 1 1 -2.6 0zM54.1 17a1.9 1.9 0 1 1 3.7 0a1.9 1.9 0 1 1 -3.7 0zM51.7 22.1a2.3 2.3 0 1 1 4.7 0a2.3 2.3 0 1 1 -4.7 0zM49.8 27a2.7 2.7 0 1 1 5.4 0a2.7 2.7 0 1 1 -5.4 0zM49 31.6a3 3 0 1 1 6.1 0a3 3 0 1 1 -6.1 0zM48.8 35a3.2 3.2 0 1 1 6.5 0a3.2 3.2 0 1 1 -6.5 0zM60.8 8.4L59.4 12.4L57 11.3L59.2 7.6zM59.4 12.4L57.7 17.7L54.3 16.3L57 11.4zM57.7 17.7L56.2 22.9L51.9 21.2L54.3 16.3zM56.3 22.8L55.1 27.8L49.9 26.2L51.8 21.4zM55.2 27.3L55 31.9L49 31.3L49.8 26.7zM55.1 31.7L55.2 35L48.8 35L49 31.6z" fill="#8c8c8c"/>
<path d="M59.5 8a0.5 0.5 0 1 1 0.9 0a0.5 0.5 0 1 1 -0.9 0zM57.3 11.9a0.9 0.9 0 1 1 1.9 0a0.9 0.9 0 1 1 -1.9 0zM54.5 17a1.5 1.5 0 1 1 3 0a1.5 1.5 0 1 1 -3 0zM52.1 22.1a1.9 1.9 0 1 1 3.9 0a1.9 1.9 0 1 1 -3.9 0zM50.2 27a2.3 2.3 0 1 1 4.7 0a2.3 2.3 0 1 1 -4.7 0zM49.4 31.6a2.6 2.6 0 1 1 5.3 0a2.6 2.6 0 1 1 -5.3 0zM49.1 35a2.9 2.9 0 1 1 5.7 0a2.9 2.9 0 1 1 -5.7 0zM60.4 8.2L59.1 12.3L57.4 11.5L59.6 7.8zM59.1 12.2L57.4 17.6L54.6 16.4L57.4 11.5zM57.4 17.5L55.8 22.8L52.2 21.4L54.6 16.5zM55.9 22.6L54.7 27.7L50.3 26.3L52.2 21.5zM54.8 27.2L54.7 31.9L49.4 31.4L50.2 26.8zM54.7 31.6L54.8 35L49.2 35L49.4 31.6z" fill="#f4f4f4"/>
<path d="M40.5 46.3a7.5 7.5 0 1 1 15 0a7.5 7.5 0 1 1 -15 0zM41.7 46.2a8.4 8.4 0 1 1 16.8 0a8.4 8.4 0 1 1 -16.8 0zM43.7 46a9.3 9.3 0 1 1 18.6 0a9.3 9.3 0 1 1 -18.6 0zM46.8 45.7a9.3 9.3 0 1 1 18.5 0a9.3 9.3 0 1 1 -18.5 0zM49.5 45.5a9 9 0 1 1 18 0a9 9 0 1 1 -18 0zM47.6 38.8L49.7 37.8L50.6 54.6L48.4 53.8zM49.6 37.8L52.4 36.7L53.6 55.3L50.7 54.6zM52.2 36.7L55.3 36.5L56.9 55L53.8 55.3zM55.2 36.5L57.6 36.5L59.4 54.5L56.9 55z" fill="#808080"/>
<path d="M40.9 46.3a7.1 7.1 0 1 1 14.3 0a7.1 7.1 0 1 1 -14.3 0zM42.1 46.2a8.1 8.1 0 1 1 16.1 0a8.1 8.1 0 1 1 -16.1 0zM44.1 46a8.9 8.9 0 1 1 17.9 0a8.9 8.9 0 1 1 -17.9 0zM47.2 45.7a8.9 8.9 0 1 1 17.8 0a8.9 8.9 0 1 1 -17.8 0zM49.9 45.5a8.6 8.6 0 1 1 17.3 0a8.6 8.6 0 1 1 -17.3 0zM47.6 39.2L49.7 38.1L50.6 54.2L48.4 53.4zM49.6 38.1L52.4 37.1L53.6 54.9L50.7 54.2zM52.2 37.1L55.3 36.9L56.8 54.6L53.8 54.9zM55.2 36.9L57.7 36.9L59.3 54.1L56.9 54.6z" fill="#e6e6e6"/>
<path d="M41.9 46.3a6.1 6.1 0 1 1 12.3 0a6.1 6.1 0 1 1 -12.3 0zM43.3 46.2a6.9 6.9 0 1 1 13.8 0a6.9 6.9 0 1 1 -13.8 0zM45.4 46a7.6 7.6 0 1 1 15.3 0a7.6 7.6 0 1 1 -15.3 0zM48.5 45.7a7.6 7.6 0 1 1 15.2 0a7.6 7.6 0 1 1 -15.2 0zM51.1 45.5a7.4 7.4 0 1 1 14.8 0a7.4 7.4 0 1 1 -14.8 0zM47.7 40.2L49.8 39.3L50.5 53.1L48.3 52.4zM49.7 39.3L52.5 38.4L53.5 53.6L50.6 53.1zM52.3 38.4L55.4 38.2L56.7 53.3L53.7 53.6zM55.3 38.2L57.8 38.2L59.2 52.8L56.8 53.3z" fill="#808080"/>
<path d="M42.2 46.3a5.8 5.8 0 1 1 11.6 0a5.8 5.8 0 1 1 -11.6 0zM43.6 46.2a6.5 6.5 0 1 1 13.1 0a6.5 6.5 0 1 1 -13.1 0zM45.7 46a7.3 7.3 0 1 1 14.5 0a7.3 7.3 0 1 1 -14.5 0zM48.8 45.7a7.2 7.2 0 1 1 14.5 0a7.2 7.2 0 1 1 -14.5 0zM51.5 45.5a7 7 0 1 1 14 0a7 7 0 1 1 -14 0zM47.7 40.5L49.8 39.6L50.5 52.7L48.3 52.1zM49.7 39.7L52.5 38.7L53.5 53.3L50.6 52.7zM52.4 38.8L55.4 38.5L56.7 52.9L53.6 53.2zM55.4 38.5L57.8 38.5L59.2 52.5L56.7 52.9z" fill="#d3d3d3"/>
<path d="M48.7 45.8a5.3 5.3 0 1 1 10.6 0a5.3 5.3 0 1 1 -10.6 0zM51.1 44.5a5.3 5.3 0 1 1 10.6 0a5.3 5.3 0 1 1 -10.6 0zM53.4 43.5a5.3 5.3 0 1 1 10.6 0a5.3 5.3 0 1 1 -10.6 0zM53.7 44.9a5.3 5.3 0 1 1 10.6 0a5.3 5.3 0 1 1 -10.6 0zM53.4 46.5a5.3 5.3 0 1 1 10.6 0a5.3 5.3 0 1 1 -10.6 0zM51.4 41.2L53.7 39.9L59 49.1L56.6 50.4zM54.3 39.6L56.7 38.6L60.7 48.4L58.4 49.4zM63.9 42.4L64.2 43.7L53.8 46L53.5 44.6zM64.2 45.8L63.9 47.4L53.5 45.6L53.8 43.9z" fill="#6a6a6a"/>
<path d="M49.1 45.8a4.9 4.9 0 1 1 9.9 0a4.9 4.9 0 1 1 -9.9 0zM51.4 44.5a4.9 4.9 0 1 1 9.9 0a4.9 4.9 0 1 1 -9.9 0zM53.8 43.5a4.9 4.9 0 1 1 9.9 0a4.9 4.9 0 1 1 -9.9 0zM54.1 44.9a4.9 4.9 0 1 1 9.9 0a4.9 4.9 0 1 1 -9.9 0zM53.8 46.5a4.9 4.9 0 1 1 9.9 0a4.9 4.9 0 1 1 -9.9 0zM51.6 41.5L53.9 40.2L58.8 48.8L56.4 50.1zM54.5 39.9L56.8 38.9L60.6 48.1L58.2 49zM63.5 42.5L63.8 43.8L54.2 45.9L53.9 44.5zM63.9 45.7L63.6 47.4L53.8 45.6L54.1 44z" fill="#bcbcbc"/>
<path d="M50.3 45.8a3.7 3.7 0 1 1 7.4 0a3.7 3.7 0 1 1 -7.4 0zM52.6 44.5a3.7 3.7 0 1 1 7.4 0a3.7 3.7 0 1 1 -7.4 0zM55 43.5a3.7 3.7 0 1 1 7.4 0a3.7 3.7 0 1 1 -7.4 0zM55.3 44.9a3.7 3.7 0 1 1 7.4 0a3.7 3.7 0 1 1 -7.4 0zM55 46.5a3.7 3.7 0 1 1 7.4 0a3.7 3.7 0 1 1 -7.4 0zM52.2 42.6L54.5 41.2L58.2 47.7L55.8 49zM54.9 41L57.3 40.1L60.1 46.9L57.8 47.9zM62.3 42.7L62.6 44.1L55.4 45.6L55.1 44.3zM62.6 45.5L62.4 47.2L55 45.8L55.3 44.2z" fill="#6a6a6a"/>
<path d="M50.6 45.8a3.3 3.3 0 1 1 6.7 0a3.3 3.3 0 1 1 -6.7 0zM53 44.5a3.3 3.3 0 1 1 6.7 0a3.3 3.3 0 1 1 -6.7 0zM55.4 43.5a3.3 3.3 0 1 1 6.7 0a3.3 3.3 0 1 1 -6.7 0zM55.6 44.9a3.3 3.3 0 1 1 6.7 0a3.3 3.3 0 1 1 -6.7 0zM55.4 46.5a3.3 3.3 0 1 1 6.7 0a3.3 3.3 0 1 1 -6.7 0zM52.3 42.9L54.7 41.6L58 47.4L55.7 48.7zM55.1 41.4L57.4 40.4L60 46.6L57.6 47.6zM62 42.8L62.3 44.1L55.7 45.6L55.4 44.2zM62.3 45.4L62 47.1L55.4 45.9L55.7 44.3z" fill="#a6a6a6"/>
<path d="M51.8 45.8a2.2 2.2 0 1 1 4.5 0a2.2 2.2 0 1 1 -4.5 0zM54.1 44.5a2.2 2.2 0 1 1 4.5 0a2.2 2.2 0 1 1 -4.5 0zM56.5 43.5a2.2 2.2 0 1 1 4.5 0a2.2 2.2 0 1 1 -4.5 0zM56.8 44.9a2.2 2.2 0 1 1 4.5 0a2.2 2.2 0 1 1 -4.5 0zM56.5 46.5a2.2 2.2 0 1 1 4.5 0a2.2 2.2 0 1 1 -4.5 0zM52.9 43.9L55.2 42.5L57.5 46.4L55.1 47.7zM55.5 42.4L57.9 41.4L59.5 45.6L57.2 46.5zM60.9 43L61.2 44.4L56.8 45.3L56.5 44zM61.2 45.2L60.9 46.9L56.5 46.1L56.8 44.5z" fill="#6a6a6a"/>
<path d="M52.1 45.8a1.9 1.9 0 1 1 3.7 0a1.9 1.9 0 1 1 -3.7 0zM54.5 44.5a1.9 1.9 0 1 1 3.7 0a1.9 1.9 0 1 1 -3.7 0zM56.8 43.5a1.9 1.9 0 1 1 3.7 0a1.9 1.9 0 1 1 -3.7 0zM57.1 44.9a1.9 1.9 0 1 1 3.7 0a1.9 1.9 0 1 1 -3.7 0zM56.8 46.5a1.9 1.9 0 1 1 3.7 0a1.9 1.9 0 1 1 -3.7 0zM53.1 44.2L55.4 42.8L57.3 46.1L54.9 47.4zM55.6 42.7L58 41.8L59.4 45.2L57.1 46.2zM60.5 43.1L60.8 44.5L57.2 45.3L56.9 43.9zM60.8 45.2L60.5 46.8L56.9 46.2L57.2 44.5z" fill="#949494"/>
<path d="M53.2 45.8a0.8 0.8 0 1 1 1.7 0a0.8 0.8 0 1 1 -1.7 0zM55.5 44.5a0.8 0.8 0 1 1 1.7 0a0.8 0.8 0 1 1 -1.7 0zM57.9 43.5a0.8 0.8 0 1 1 1.7 0a0.8 0.8 0 1 1 -1.7 0zM58.1 44.9a0.8 0.8 0 1 1 1.7 0a0.8 0.8 0 1 1 -1.7 0zM57.9 46.5a0.8 0.8 0 1 1 1.7 0a0.8 0.8 0 1 1 -1.7 0zM53.6 45.1L55.9 43.7L56.8 45.2L54.4 46.5zM56 43.7L58.4 42.7L59 44.3L56.7 45.2zM59.5 43.3L59.8 44.7L58.2 45L57.9 43.7zM59.8 45L59.5 46.6L57.9 46.4L58.2 44.7z" fill="#6a6a6a"/>
<path d="M53.5 45.8a0.5 0.5 0 1 1 1 0a0.5 0.5 0 1 1 -1 0zM55.9 44.5a0.5 0.5 0 1 1 1 0a0.5 0.5 0 1 1 -1 0zM58.2 43.5a0.5 0.5 0 1 1 1 0a0.5 0.5 0 1 1 -1 0zM58.5 44.9a0.5 0.5 0 1 1 1 0a0.5 0.5 0 1 1 -1 0zM58.2 46.5a0.5 0.5 0 1 1 1 0a0.5 0.5 0 1 1 -1 0zM53.8 45.4L56.1 44L56.6 44.9L54.2 46.2zM56.2 44L58.5 43L58.9 44L56.5 44.9zM59.2 43.4L59.5 44.8L58.5 45L58.2 43.6zM59.5 44.9L59.2 46.6L58.2 46.4L58.5 44.8z" fill="#e2e2e2"/>
<rect x="0" y="0" width="69.3" height="67.1" fill="none" stroke="#0a0a0a" stroke-width="1.35"/>
<line x1="0" y1="22.5" x2="69.3" y2="22.5" stroke="#0a0a0a" stroke-width="1.35"/>
<line x1="38.75" y1="0" x2="38.75" y2="67.1" stroke="#0a0a0a" stroke-width="1.35"/>
<line x1="38.75" y1="36.6" x2="69.3" y2="36.6" stroke="#0a0a0a" stroke-width="1.35"/>
<path d="M-3.1 6H0M-3.1 21.9H0M-3.1 40.7H0M-3.1 63.6H0M2.7 67.1V70.1M28.5 67.1V70.1M47.7 67.1V70.1M63.1 67.1V70.1" stroke="#000" stroke-width="1" fill="none"/>
<path d="M-1.7 3H0M-1.7 4.3H0M-1.7 8H0M-1.7 10.5H0M-1.7 13H0M-1.7 15H0M-1.7 17H0M-1.7 18.6H0M-1.7 20.2H0M-1.7 25H0M-1.7 28H0M-1.7 31H0M-1.7 33.5H0M-1.7 36H0M-1.7 37.8H0M-1.7 39.3H0M-1.7 43.5H0M-1.7 45.5H0M-1.7 47.2H0M-1.7 48.6H0M-1.7 49.8H0M-1.7 55H0M-1.7 56.4H0M-1.7 58H0M-1.7 59.8H0M-1.7 61.6H0M-1.7 65.5H0M0.8 67.1V68.7M4.8 67.1V68.7M6.6 67.1V68.7M8.2 67.1V68.7M9.6 67.1V68.7M10.8 67.1V68.7M11.9 67.1V68.7M12.9 67.1V68.7M18 67.1V68.7M19 67.1V68.7M20.2 67.1V68.7M21.5 67.1V68.7M23 67.1V68.7M24.8 67.1V68.7M26.6 67.1V68.7M31.5 67.1V68.7M34.5 67.1V68.7M37 67.1V68.7M39.5 67.1V68.7M41.5 67.1V68.7M43.3 67.1V68.7M44.8 67.1V68.7M46.3 67.1V68.7M52.5 67.1V68.7M55.5 67.1V68.7M57.8 67.1V68.7M59.5 67.1V68.7M60.8 67.1V68.7M62 67.1V68.7M65.5 67.1V68.7M67.5 67.1V68.7" stroke="#000" stroke-width="0.65" fill="none"/>
<rect x="-1.9" y="50.7" width="1.9" height="3.3" fill="#000"/>
<rect x="13.2" y="67.1" width="4.4" height="2" fill="#000"/>
<text x="-6" y="11.3" font-size="6.8" text-anchor="end" textLength="9.4" lengthAdjust="spacingAndGlyphs">10<tspan font-size="4.62" dy="-2.86">5</tspan></text>
<text x="-6" y="24.2" font-size="6.8" text-anchor="end" textLength="9.4" lengthAdjust="spacingAndGlyphs">10<tspan font-size="4.62" dy="-2.86">4</tspan></text>
<text x="-6" y="42.6" font-size="6.8" text-anchor="end" textLength="9.4" lengthAdjust="spacingAndGlyphs">10<tspan font-size="4.62" dy="-2.86">3</tspan></text>
<text x="-8.6" y="55.3" font-size="6.8" text-anchor="middle" textLength="3.5" lengthAdjust="spacingAndGlyphs">0</text>
<text x="-6" y="66.7" font-size="6.8" text-anchor="end" textLength="11.5" lengthAdjust="spacingAndGlyphs">-10<tspan font-size="4.62" dy="-2.86">3</tspan></text>
<text x="9" y="78.7" font-size="6.8" text-anchor="end" textLength="11.6" lengthAdjust="spacingAndGlyphs">-10<tspan font-size="4.62" dy="-2.86">3</tspan></text>
<text x="15.9" y="78.7" font-size="6.8" text-anchor="middle" textLength="3.5" lengthAdjust="spacingAndGlyphs">0</text>
<text x="32.9" y="78.7" font-size="6.8" text-anchor="end" textLength="9.4" lengthAdjust="spacingAndGlyphs">10<tspan font-size="4.62" dy="-2.86">3</tspan></text>
<text x="52.1" y="78.7" font-size="6.8" text-anchor="end" textLength="9.4" lengthAdjust="spacingAndGlyphs">10<tspan font-size="4.62" dy="-2.86">4</tspan></text>
<text x="67.9" y="78.7" font-size="6.8" text-anchor="end" textLength="9.4" lengthAdjust="spacingAndGlyphs">10<tspan font-size="4.62" dy="-2.86">5</tspan></text>
<text x="4" y="6.5" font-size="4.4" fill="#0d0d0d">P1</text>
<text x="2.4" y="11.8" font-size="4.4" fill="#0d0d0d">0,12</text>
<text x="68" y="6.9" font-size="4.4" text-anchor="end" fill="#0d0d0d">P2</text>
<text x="68" y="12.2" font-size="4.4" text-anchor="end" fill="#0d0d0d">12,6</text>
<text x="68" y="28.6" font-size="4.4" text-anchor="end" fill="#0d0d0d">P3</text>
<text x="68" y="33.9" font-size="4.4" text-anchor="end" fill="#0d0d0d">28,3</text>
<text x="68" y="59.2" font-size="4.4" text-anchor="end" fill="#0d0d0d">P4</text>
<text x="68" y="64.5" font-size="4.4" text-anchor="end" fill="#0d0d0d">56,1</text>
</g>
<g transform="translate(56.2 375.6)">
<path d="M40.1 27a0.9 0.9 0 1 1 1.8 0a0.9 0.9 0 1 1 -1.8 0zM44.5 26.5a1 1 0 1 1 2 0a1 1 0 1 1 -2 0zM48.9 26a1.1 1.1 0 1 1 2.2 0a1.1 1.1 0 1 1 -2.2 0zM40.9 26.1L45.4 25.5L45.6 27.5L41.1 27.9zM45.4 25.5L49.9 24.9L50.1 27.1L45.6 27.5z" fill="#8c8c8c"/>
<path d="M40.5 27a0.5 0.5 0 1 1 1 0a0.5 0.5 0 1 1 -1 0zM44.9 26.5a0.6 0.6 0 1 1 1.2 0a0.6 0.6 0 1 1 -1.2 0zM49.3 26a0.7 0.7 0 1 1 1.4 0a0.7 0.7 0 1 1 -1.4 0zM40.9 26.5L45.4 25.9L45.6 27.1L41.1 27.5zM45.4 25.9L49.9 25.3L50.1 26.7L45.6 27.1z" fill="#fff"/>
<path d="M51 15a5.5 5.5 0 1 1 11 0a5.5 5.5 0 1 1 -11 0zM51 19.9a5.5 5.5 0 1 1 11 0a5.5 5.5 0 1 1 -11 0zM51 26a5.5 5.5 0 1 1 11 0a5.5 5.5 0 1 1 -11 0zM50.9 31.7a5.7 5.7 0 1 1 11.3 0a5.7 5.7 0 1 1 -11.3 0zM50.7 36a5.8 5.8 0 1 1 11.6 0a5.8 5.8 0 1 1 -11.6 0zM62 15L62 19.9L51 19.9L51 15zM62 19.9L62 26L51 26L51 19.9zM62 26L62.1 31.7L50.9 31.7L51 26zM62.1 31.7L62.3 36L50.7 36L50.9 31.7z" fill="#8c8c8c"/>
<path d="M51.4 15a5.1 5.1 0 1 1 10.2 0a5.1 5.1 0 1 1 -10.2 0zM51.4 19.9a5.1 5.1 0 1 1 10.2 0a5.1 5.1 0 1 1 -10.2 0zM51.4 26a5.1 5.1 0 1 1 10.2 0a5.1 5.1 0 1 1 -10.2 0zM51.2 31.7a5.3 5.3 0 1 1 10.5 0a5.3 5.3 0 1 1 -10.5 0zM51.1 36a5.4 5.4 0 1 1 10.8 0a5.4 5.4 0 1 1 -10.8 0zM61.6 15L61.6 19.9L51.4 19.9L51.4 15zM61.6 19.9L61.6 26L51.4 26L51.4 19.9zM61.6 26L61.8 31.7L51.2 31.7L51.4 26zM61.8 31.7L61.9 36L51.1 36L51.2 31.7z" fill="#f6f6f6"/>
<path d="M52.6 15a3.8 3.8 0 1 1 7.7 0a3.8 3.8 0 1 1 -7.7 0zM52.7 19.9a3.8 3.8 0 1 1 7.7 0a3.8 3.8 0 1 1 -7.7 0zM52.6 26a3.8 3.8 0 1 1 7.7 0a3.8 3.8 0 1 1 -7.7 0zM52.5 31.7a4 4 0 1 1 7.9 0a4 4 0 1 1 -7.9 0zM52.4 36a4.1 4.1 0 1 1 8.1 0a4.1 4.1 0 1 1 -8.1 0zM60.4 15L60.3 19.9L52.7 19.9L52.6 15zM60.3 19.9L60.4 26L52.6 26L52.7 19.9zM60.4 26L60.5 31.7L52.5 31.7L52.6 26zM60.5 31.7L60.6 36L52.4 36L52.5 31.7z" fill="#8c8c8c"/>
<path d="M53 15a3.5 3.5 0 1 1 6.9 0a3.5 3.5 0 1 1 -6.9 0zM53 19.9a3.5 3.5 0 1 1 6.9 0a3.5 3.5 0 1 1 -6.9 0zM53 26a3.5 3.5 0 1 1 6.9 0a3.5 3.5 0 1 1 -6.9 0zM52.9 31.7a3.6 3.6 0 1 1 7.2 0a3.6 3.6 0 1 1 -7.2 0zM52.8 36a3.7 3.7 0 1 1 7.4 0a3.7 3.7 0 1 1 -7.4 0zM60 15L60 19.9L53 19.9L53 15zM60 19.9L60 26L53 26L53 19.9zM60 26L60.1 31.7L52.9 31.7L53 26zM60.1 31.7L60.2 36L52.8 36L52.9 31.7z" fill="#f6f6f6"/>
<path d="M54.2 15a2.3 2.3 0 1 1 4.6 0a2.3 2.3 0 1 1 -4.6 0zM54.2 19.9a2.3 2.3 0 1 1 4.6 0a2.3 2.3 0 1 1 -4.6 0zM54.2 26a2.3 2.3 0 1 1 4.6 0a2.3 2.3 0 1 1 -4.6 0zM54.1 31.7a2.4 2.4 0 1 1 4.7 0a2.4 2.4 0 1 1 -4.7 0zM54.1 36a2.4 2.4 0 1 1 4.9 0a2.4 2.4 0 1 1 -4.9 0zM58.8 15L58.8 19.9L54.2 19.9L54.2 15zM58.8 19.9L58.8 26L54.2 26L54.2 19.9zM58.8 26L58.9 31.7L54.1 31.7L54.2 26zM58.9 31.7L58.9 36L54.1 36L54.1 31.7z" fill="#8c8c8c"/>
<path d="M54.6 15a1.9 1.9 0 1 1 3.9 0a1.9 1.9 0 1 1 -3.9 0zM54.6 19.9a1.9 1.9 0 1 1 3.8 0a1.9 1.9 0 1 1 -3.8 0zM54.6 26a1.9 1.9 0 1 1 3.9 0a1.9 1.9 0 1 1 -3.9 0zM54.5 31.7a2 2 0 1 1 4 0a2 2 0 1 1 -4 0zM54.4 36a2.1 2.1 0 1 1 4.1 0a2.1 2.1 0 1 1 -4.1 0zM58.4 15L58.4 19.9L54.6 19.9L54.6 15zM58.4 19.9L58.4 26L54.6 26L54.6 19.9zM58.4 26L58.5 31.7L54.5 31.7L54.6 26zM58.5 31.7L58.6 36L54.4 36L54.5 31.7z" fill="#f6f6f6"/>
<path d="M29 49.5a5 5 0 1 1 10 0a5 5 0 1 1 -10 0zM31.8 49.2a5.7 5.7 0 1 1 11.4 0a5.7 5.7 0 1 1 -11.4 0zM35.4 48.8a6.6 6.6 0 1 1 13.2 0a6.6 6.6 0 1 1 -13.2 0zM38.7 48.3a7.4 7.4 0 1 1 14.7 0a7.4 7.4 0 1 1 -14.7 0zM42 47.8a8 8 0 1 1 16 0a8 8 0 1 1 -16 0zM45.4 47.2a8.4 8.4 0 1 1 16.8 0a8.4 8.4 0 1 1 -16.8 0zM47.9 46.8a8.6 8.6 0 1 1 17.2 0a8.6 8.6 0 1 1 -17.2 0zM33.6 44.5L37 43.5L38 54.9L34.4 54.5zM37 43.5L41.4 42.2L42.6 55.4L38 54.9zM41.2 42.2L45.2 41L47 55.6L42.8 55.4zM45.1 41L48.9 39.9L51.1 55.7L47.1 55.6zM48.8 39.9L52.5 38.9L55 55.5L51.2 55.7zM52.4 39L55.1 38.3L57.9 55.3L55.1 55.5z" fill="#808080"/>
<path d="M29.4 49.5a4.6 4.6 0 1 1 9.3 0a4.6 4.6 0 1 1 -9.3 0zM32.1 49.2a5.4 5.4 0 1 1 10.7 0a5.4 5.4 0 1 1 -10.7 0zM35.8 48.8a6.2 6.2 0 1 1 12.5 0a6.2 6.2 0 1 1 -12.5 0zM39.1 48.3a7 7 0 1 1 14 0a7 7 0 1 1 -14 0zM42.4 47.8a7.6 7.6 0 1 1 15.3 0a7.6 7.6 0 1 1 -15.3 0zM45.7 47.2a8 8 0 1 1 16.1 0a8 8 0 1 1 -16.1 0zM48.3 46.8a8.2 8.2 0 1 1 16.5 0a8.2 8.2 0 1 1 -16.5 0zM33.6 44.9L37.1 43.9L37.9 54.5L34.4 54.1zM37 43.9L41.4 42.6L42.6 55L38 54.5zM41.3 42.6L45.3 41.4L46.9 55.3L42.7 55zM45.2 41.4L49 40.2L51 55.4L47 55.3zM48.9 40.2L52.6 39.3L54.9 55.2L51.1 55.4zM52.5 39.3L55.2 38.7L57.8 54.9L55 55.2z" fill="#e6e6e6"/>
<path d="M29.9 49.5a4.1 4.1 0 1 1 8.2 0a4.1 4.1 0 1 1 -8.2 0zM32.8 49.2a4.7 4.7 0 1 1 9.4 0a4.7 4.7 0 1 1 -9.4 0zM36.6 48.8a5.4 5.4 0 1 1 10.8 0a5.4 5.4 0 1 1 -10.8 0zM40.1 48.3a6 6 0 1 1 12.1 0a6 6 0 1 1 -12.1 0zM43.4 47.8a6.6 6.6 0 1 1 13.1 0a6.6 6.6 0 1 1 -13.1 0zM46.9 47.2a6.9 6.9 0 1 1 13.8 0a6.9 6.9 0 1 1 -13.8 0zM49.4 46.8a7.1 7.1 0 1 1 14.1 0a7.1 7.1 0 1 1 -14.1 0zM33.7 45.4L37.1 44.5L37.9 53.9L34.3 53.6zM37.1 44.5L41.5 43.4L42.5 54.2L37.9 53.9zM41.4 43.4L45.4 42.3L46.8 54.3L42.6 54.2zM45.3 42.3L49.1 41.3L50.9 54.3L46.9 54.3zM49 41.3L52.7 40.4L54.8 54L51 54.3zM52.7 40.4L55.4 39.8L57.6 53.8L54.8 54z" fill="#808080"/>
<path d="M30.3 49.5a3.7 3.7 0 1 1 7.5 0a3.7 3.7 0 1 1 -7.5 0zM33.2 49.2a4.3 4.3 0 1 1 8.6 0a4.3 4.3 0 1 1 -8.6 0zM36.9 48.8a5.1 5.1 0 1 1 10.1 0a5.1 5.1 0 1 1 -10.1 0zM40.4 48.3a5.7 5.7 0 1 1 11.4 0a5.7 5.7 0 1 1 -11.4 0zM43.8 47.8a6.2 6.2 0 1 1 12.4 0a6.2 6.2 0 1 1 -12.4 0zM47.2 47.2a6.5 6.5 0 1 1 13 0a6.5 6.5 0 1 1 -13 0zM49.8 46.8a6.7 6.7 0 1 1 13.4 0a6.7 6.7 0 1 1 -13.4 0zM33.7 45.8L37.1 44.9L37.9 53.5L34.3 53.2zM37.1 44.9L41.5 43.8L42.5 53.8L37.9 53.5zM41.4 43.8L45.4 42.7L46.8 54L42.6 53.8zM45.3 42.7L49.2 41.7L50.8 53.9L46.8 53.9zM49.1 41.7L52.8 40.8L54.7 53.7L50.9 53.9zM52.7 40.8L55.4 40.2L57.6 53.4L54.8 53.7z" fill="#d3d3d3"/>
<path d="M36.2 49.4a2.8 2.8 0 1 1 5.6 0a2.8 2.8 0 1 1 -5.6 0zM40.2 49a3.3 3.3 0 1 1 6.6 0a3.3 3.3 0 1 1 -6.6 0zM44.2 48.6a3.8 3.8 0 1 1 7.6 0a3.8 3.8 0 1 1 -7.6 0zM38.8 46.6L43.2 45.7L43.8 52.3L39.2 52.2zM43.2 45.7L47.7 44.8L48.3 52.4L43.8 52.3z" fill="#808080"/>
<path d="M36.6 49.4a2.4 2.4 0 1 1 4.9 0a2.4 2.4 0 1 1 -4.9 0zM40.6 49a2.9 2.9 0 1 1 5.9 0a2.9 2.9 0 1 1 -5.9 0zM44.6 48.6a3.4 3.4 0 1 1 6.9 0a3.4 3.4 0 1 1 -6.9 0zM38.8 47L43.2 46.1L43.8 51.9L39.2 51.8zM43.2 46.1L47.7 45.2L48.3 52L43.8 51.9z" fill="#c9c9c9"/>
<path d="M37.6 49.4a1.4 1.4 0 1 1 2.8 0a1.4 1.4 0 1 1 -2.8 0zM41.9 49a1.6 1.6 0 1 1 3.3 0a1.6 1.6 0 1 1 -3.3 0zM46.1 48.6a1.9 1.9 0 1 1 3.8 0a1.9 1.9 0 1 1 -3.8 0zM38.9 48L43.4 47.4L43.6 50.6L39.1 50.8zM43.4 47.4L47.8 46.7L48.2 50.5L43.6 50.6z" fill="#808080"/>
<path d="M38 49.4a1 1 0 1 1 2.1 0a1 1 0 1 1 -2.1 0zM42.2 49a1.3 1.3 0 1 1 2.6 0a1.3 1.3 0 1 1 -2.6 0zM46.5 48.6a1.5 1.5 0 1 1 3.1 0a1.5 1.5 0 1 1 -3.1 0zM38.9 48.4L43.4 47.7L43.6 50.3L39.1 50.4zM43.4 47.7L47.9 47.1L48.1 50.1L43.6 50.3z" fill="#bdbdbd"/>
<path d="M51.9 43.5a4.4 4.4 0 1 1 8.8 0a4.4 4.4 0 1 1 -8.8 0zM51.8 45.8a4.6 4.6 0 1 1 9.2 0a4.6 4.6 0 1 1 -9.2 0zM51.7 48a4.8 4.8 0 1 1 9.6 0a4.8 4.8 0 1 1 -9.6 0zM60.7 43.3L61 45.5L51.8 46L51.9 43.7zM61 45.5L61.3 47.8L51.7 48.2L51.8 46z" fill="#6a6a6a"/>
<path d="M52.3 43.5a4 4 0 1 1 8.1 0a4 4 0 1 1 -8.1 0zM52.2 45.8a4.2 4.2 0 1 1 8.5 0a4.2 4.2 0 1 1 -8.5 0zM52.1 48a4.4 4.4 0 1 1 8.9 0a4.4 4.4 0 1 1 -8.9 0zM60.3 43.3L60.6 45.6L52.2 45.9L52.3 43.7zM60.6 45.6L60.9 47.8L52.1 48.2L52.2 45.9z" fill="#a9a9a9"/>
<path d="M53.2 43.5a3.1 3.1 0 1 1 6.2 0a3.1 3.1 0 1 1 -6.2 0zM53.2 45.8a3.2 3.2 0 1 1 6.4 0a3.2 3.2 0 1 1 -6.4 0zM53.1 48a3.4 3.4 0 1 1 6.7 0a3.4 3.4 0 1 1 -6.7 0zM59.4 43.4L59.6 45.6L53.2 45.9L53.2 43.6zM59.6 45.6L59.9 47.9L53.1 48.1L53.2 45.9z" fill="#6a6a6a"/>
<path d="M53.6 43.5a2.7 2.7 0 1 1 5.4 0a2.7 2.7 0 1 1 -5.4 0zM53.5 45.8a2.9 2.9 0 1 1 5.7 0a2.9 2.9 0 1 1 -5.7 0zM53.5 48a3 3 0 1 1 6 0a3 3 0 1 1 -6 0zM59 43.4L59.3 45.6L53.5 45.9L53.6 43.6zM59.3 45.6L59.5 47.9L53.5 48.1L53.5 45.9z" fill="#8f8f8f"/>
<path d="M54.5 43.5a1.8 1.8 0 1 1 3.7 0a1.8 1.8 0 1 1 -3.7 0zM54.5 45.8a1.9 1.9 0 1 1 3.9 0a1.9 1.9 0 1 1 -3.9 0zM54.5 48a2 2 0 1 1 4 0a2 2 0 1 1 -4 0zM58.1 43.4L58.3 45.7L54.5 45.8L54.5 43.6zM58.3 45.7L58.5 47.9L54.5 48.1L54.5 45.8z" fill="#6a6a6a"/>
<path d="M54.8 43.5a1.5 1.5 0 1 1 3 0a1.5 1.5 0 1 1 -3 0zM54.8 45.8a1.6 1.6 0 1 1 3.1 0a1.6 1.6 0 1 1 -3.1 0zM54.8 48a1.7 1.7 0 1 1 3.3 0a1.7 1.7 0 1 1 -3.3 0zM57.8 43.4L58 45.7L54.8 45.8L54.8 43.6zM58 45.7L58.2 47.9L54.8 48.1L54.8 45.8z" fill="#7c7c7c"/>
<path d="M55.6 43.5a0.7 0.7 0 1 1 1.4 0a0.7 0.7 0 1 1 -1.4 0zM55.7 45.8a0.7 0.7 0 1 1 1.5 0a0.7 0.7 0 1 1 -1.5 0zM55.7 48a0.8 0.8 0 1 1 1.5 0a0.8 0.8 0 1 1 -1.5 0zM57 43.5L57.1 45.7L55.7 45.8L55.6 43.5zM57.1 45.7L57.3 48L55.7 48L55.7 45.8z" fill="#6a6a6a"/>
<path d="M56 43.5a0.3 0.3 0 1 1 0.7 0a0.3 0.3 0 1 1 -0.7 0zM56 45.8a0.4 0.4 0 1 1 0.8 0a0.4 0.4 0 1 1 -0.8 0zM56.1 48a0.4 0.4 0 1 1 0.8 0a0.4 0.4 0 1 1 -0.8 0zM56.6 43.5L56.8 45.7L56 45.8L56 43.5zM56.8 45.7L56.9 48L56.1 48L56 45.8z" fill="#e0e0e0"/>
<rect x="0" y="0" width="69.3" height="67.1" fill="none" stroke="#0a0a0a" stroke-width="1.35"/>
<line x1="0" y1="22.5" x2="69.3" y2="22.5" stroke="#0a0a0a" stroke-width="1.35"/>
<line x1="38.75" y1="0" x2="38.75" y2="67.1" stroke="#0a0a0a" stroke-width="1.35"/>
<line x1="38.75" y1="36.6" x2="69.3" y2="36.6" stroke="#0a0a0a" stroke-width="1.35"/>
<path d="M-3.1 6H0M-3.1 21.9H0M-3.1 40.7H0M-3.1 63.6H0M2.7 67.1V70.1M28.5 67.1V70.1M47.7 67.1V70.1M63.1 67.1V70.1" stroke="#000" stroke-width="1" fill="none"/>
<path d="M-1.7 3H0M-1.7 4.3H0M-1.7 8H0M-1.7 10.5H0M-1.7 13H0M-1.7 15H0M-1.7 17H0M-1.7 18.6H0M-1.7 20.2H0M-1.7 25H0M-1.7 28H0M-1.7 31H0M-1.7 33.5H0M-1.7 36H0M-1.7 37.8H0M-1.7 39.3H0M-1.7 43.5H0M-1.7 45.5H0M-1.7 47.2H0M-1.7 48.6H0M-1.7 49.8H0M-1.7 55H0M-1.7 56.4H0M-1.7 58H0M-1.7 59.8H0M-1.7 61.6H0M-1.7 65.5H0M0.8 67.1V68.7M4.8 67.1V68.7M6.6 67.1V68.7M8.2 67.1V68.7M9.6 67.1V68.7M10.8 67.1V68.7M11.9 67.1V68.7M12.9 67.1V68.7M18 67.1V68.7M19 67.1V68.7M20.2 67.1V68.7M21.5 67.1V68.7M23 67.1V68.7M24.8 67.1V68.7M26.6 67.1V68.7M31.5 67.1V68.7M34.5 67.1V68.7M37 67.1V68.7M39.5 67.1V68.7M41.5 67.1V68.7M43.3 67.1V68.7M44.8 67.1V68.7M46.3 67.1V68.7M52.5 67.1V68.7M55.5 67.1V68.7M57.8 67.1V68.7M59.5 67.1V68.7M60.8 67.1V68.7M62 67.1V68.7M65.5 67.1V68.7M67.5 67.1V68.7" stroke="#000" stroke-width="0.65" fill="none"/>
<rect x="-1.9" y="50.7" width="1.9" height="3.3" fill="#000"/>
<rect x="13.2" y="67.1" width="4.4" height="2" fill="#000"/>
<text x="-6" y="11.3" font-size="6.8" text-anchor="end" textLength="9.4" lengthAdjust="spacingAndGlyphs">10<tspan font-size="4.62" dy="-2.86">5</tspan></text>
<text x="-6" y="24.2" font-size="6.8" text-anchor="end" textLength="9.4" lengthAdjust="spacingAndGlyphs">10<tspan font-size="4.62" dy="-2.86">4</tspan></text>
<text x="-6" y="42.6" font-size="6.8" text-anchor="end" textLength="9.4" lengthAdjust="spacingAndGlyphs">10<tspan font-size="4.62" dy="-2.86">3</tspan></text>
<text x="-8.6" y="55.3" font-size="6.8" text-anchor="middle" textLength="3.5" lengthAdjust="spacingAndGlyphs">0</text>
<text x="-6" y="66.7" font-size="6.8" text-anchor="end" textLength="11.5" lengthAdjust="spacingAndGlyphs">-10<tspan font-size="4.62" dy="-2.86">3</tspan></text>
<text x="9" y="78.7" font-size="6.8" text-anchor="end" textLength="11.6" lengthAdjust="spacingAndGlyphs">-10<tspan font-size="4.62" dy="-2.86">3</tspan></text>
<text x="15.9" y="78.7" font-size="6.8" text-anchor="middle" textLength="3.5" lengthAdjust="spacingAndGlyphs">0</text>
<text x="32.9" y="78.7" font-size="6.8" text-anchor="end" textLength="9.4" lengthAdjust="spacingAndGlyphs">10<tspan font-size="4.62" dy="-2.86">3</tspan></text>
<text x="52.1" y="78.7" font-size="6.8" text-anchor="end" textLength="9.4" lengthAdjust="spacingAndGlyphs">10<tspan font-size="4.62" dy="-2.86">4</tspan></text>
<text x="67.9" y="78.7" font-size="6.8" text-anchor="end" textLength="9.4" lengthAdjust="spacingAndGlyphs">10<tspan font-size="4.62" dy="-2.86">5</tspan></text>
<text x="4" y="6.5" font-size="4.4" fill="#0d0d0d">P1</text>
<text x="2.4" y="11.8" font-size="4.4" fill="#0d0d0d">0,23</text>
<text x="68" y="6.9" font-size="4.4" text-anchor="end" fill="#0d0d0d">P2</text>
<text x="68" y="12.2" font-size="4.4" text-anchor="end" fill="#0d0d0d">7,77</text>
<text x="68" y="28.6" font-size="4.4" text-anchor="end" fill="#0d0d0d">P3</text>
<text x="68" y="33.9" font-size="4.4" text-anchor="end" fill="#0d0d0d">16,1</text>
<text x="68" y="59.2" font-size="4.4" text-anchor="end" fill="#0d0d0d">P4</text>
<text x="68" y="64.5" font-size="4.4" text-anchor="end" fill="#0d0d0d">65,7</text>
</g>
<g transform="translate(153.1 375.6)">
<path d="M56 24a1.5 1.5 0 1 1 3 0a1.5 1.5 0 1 1 -3 0zM55.6 27.1a1.9 1.9 0 1 1 3.9 0a1.9 1.9 0 1 1 -3.9 0zM55 31a2.5 2.5 0 1 1 5 0a2.5 2.5 0 1 1 -5 0zM54.5 34.4a3.1 3.1 0 1 1 6.1 0a3.1 3.1 0 1 1 -6.1 0zM54.1 37a3.5 3.5 0 1 1 7 0a3.5 3.5 0 1 1 -7 0zM59 24L59.4 27.1L55.6 27.1L56 24zM59.4 27.1L60 31L55 31L55.6 27.1zM60 31L60.6 34.4L54.5 34.5L55 31zM60.6 34.4L61.1 36.9L54.1 37.1L54.5 34.5z" fill="#8c8c8c"/>
<path d="M56.4 24a1.1 1.1 0 1 1 2.2 0a1.1 1.1 0 1 1 -2.2 0zM55.9 27.1a1.6 1.6 0 1 1 3.1 0a1.6 1.6 0 1 1 -3.1 0zM55.4 31a2.1 2.1 0 1 1 4.2 0a2.1 2.1 0 1 1 -4.2 0zM54.9 34.4a2.7 2.7 0 1 1 5.4 0a2.7 2.7 0 1 1 -5.4 0zM54.5 37a3.1 3.1 0 1 1 6.2 0a3.1 3.1 0 1 1 -6.2 0zM58.6 24L59.1 27.1L55.9 27.1L56.4 24zM59.1 27.1L59.6 31L55.4 31L55.9 27.1zM59.6 31L60.2 34.4L54.9 34.5L55.4 31zM60.2 34.4L60.7 36.9L54.5 37.1L54.9 34.5z" fill="#fff"/>
<path d="M56.7 24a0.8 0.8 0 1 1 1.7 0a0.8 0.8 0 1 1 -1.7 0zM56.4 27.1a1.1 1.1 0 1 1 2.1 0a1.1 1.1 0 1 1 -2.1 0zM56.1 31a1.4 1.4 0 1 1 2.8 0a1.4 1.4 0 1 1 -2.8 0zM55.9 34.4a1.7 1.7 0 1 1 3.4 0a1.7 1.7 0 1 1 -3.4 0zM55.7 37a1.9 1.9 0 1 1 3.9 0a1.9 1.9 0 1 1 -3.9 0zM58.3 24L58.6 27.1L56.4 27.1L56.7 24zM58.6 27.1L58.9 31L56.1 31L56.4 27.1zM58.9 31L59.2 34.4L55.9 34.5L56.1 31zM59.2 34.4L59.5 37L55.7 37L55.9 34.5z" fill="#8c8c8c"/>
<path d="M57.1 24a0.4 0.4 0 1 1 0.9 0a0.4 0.4 0 1 1 -0.9 0zM56.8 27.1a0.7 0.7 0 1 1 1.4 0a0.7 0.7 0 1 1 -1.4 0zM56.5 31a1 1 0 1 1 2 0a1 1 0 1 1 -2 0zM56.2 34.4a1.3 1.3 0 1 1 2.6 0a1.3 1.3 0 1 1 -2.6 0zM56.1 37a1.5 1.5 0 1 1 3.1 0a1.5 1.5 0 1 1 -3.1 0zM57.9 24L58.2 27.1L56.8 27.1L57.1 24zM58.2 27.1L58.5 31L56.5 31L56.8 27.1zM58.5 31L58.9 34.4L56.2 34.5L56.5 31zM58.9 34.4L59.1 37L56.1 37L56.2 34.5z" fill="#fff"/>
<path d="M53.2 41a4.5 4.5 0 1 1 9 0a4.5 4.5 0 1 1 -9 0zM52.2 43.3a5.5 5.5 0 1 1 11 0a5.5 5.5 0 1 1 -11 0zM51.2 46a6.5 6.5 0 1 1 13 0a6.5 6.5 0 1 1 -13 0zM51.1 47.8a6.6 6.6 0 1 1 13.2 0a6.6 6.6 0 1 1 -13.2 0zM51.3 49a6.4 6.4 0 1 1 12.8 0a6.4 6.4 0 1 1 -12.8 0zM62.2 41L63.2 43.3L52.2 43.3L53.2 41zM63.2 43.3L64.2 46L51.2 46L52.2 43.3zM64.2 46L64.3 47.8L51.1 47.8L51.2 46zM64.3 47.8L64.1 49L51.3 49L51.1 47.8z" fill="#777"/>
<path d="M53.6 41a4.1 4.1 0 1 1 8.3 0a4.1 4.1 0 1 1 -8.3 0zM52.6 43.3a5.1 5.1 0 1 1 10.3 0a5.1 5.1 0 1 1 -10.3 0zM51.6 46a6.1 6.1 0 1 1 12.3 0a6.1 6.1 0 1 1 -12.3 0zM51.5 47.8a6.2 6.2 0 1 1 12.4 0a6.2 6.2 0 1 1 -12.4 0zM51.7 49a6 6 0 1 1 12.1 0a6 6 0 1 1 -12.1 0zM61.8 41L62.8 43.3L52.6 43.3L53.6 41zM62.8 43.3L63.8 46L51.6 46L52.6 43.3zM63.8 46L63.9 47.8L51.5 47.8L51.6 46zM63.9 47.8L63.7 49L51.7 49L51.5 47.8z" fill="#dcdcdc"/>
<path d="M53.9 41a3.8 3.8 0 1 1 7.6 0a3.8 3.8 0 1 1 -7.6 0zM53.1 43.3a4.6 4.6 0 1 1 9.3 0a4.6 4.6 0 1 1 -9.3 0zM52.2 46a5.5 5.5 0 1 1 10.9 0a5.5 5.5 0 1 1 -10.9 0zM52.2 47.8a5.5 5.5 0 1 1 11 0a5.5 5.5 0 1 1 -11 0zM52.3 49a5.4 5.4 0 1 1 10.8 0a5.4 5.4 0 1 1 -10.8 0zM61.5 41L62.3 43.3L53.1 43.3L53.9 41zM62.3 43.3L63.2 46L52.2 46L53.1 43.3zM63.2 46L63.2 47.8L52.2 47.8L52.2 46zM63.2 47.8L63.1 49L52.3 49L52.2 47.8z" fill="#777"/>
<path d="M54.3 41a3.4 3.4 0 1 1 6.8 0a3.4 3.4 0 1 1 -6.8 0zM53.4 43.3a4.3 4.3 0 1 1 8.5 0a4.3 4.3 0 1 1 -8.5 0zM52.6 46a5.1 5.1 0 1 1 10.2 0a5.1 5.1 0 1 1 -10.2 0zM52.5 47.8a5.2 5.2 0 1 1 10.3 0a5.2 5.2 0 1 1 -10.3 0zM52.7 49a5 5 0 1 1 10 0a5 5 0 1 1 -10 0zM61.1 41L62 43.3L53.4 43.3L54.3 41zM62 43.3L62.8 46L52.6 46L53.4 43.3zM62.8 46L62.9 47.8L52.5 47.8L52.6 46zM62.9 47.8L62.7 49L52.7 49L52.5 47.8z" fill="#c4c4c4"/>
<path d="M54.6 41a3.1 3.1 0 1 1 6.1 0a3.1 3.1 0 1 1 -6.1 0zM54 43.3a3.7 3.7 0 1 1 7.5 0a3.7 3.7 0 1 1 -7.5 0zM53.3 46a4.4 4.4 0 1 1 8.8 0a4.4 4.4 0 1 1 -8.8 0zM53.2 47.8a4.5 4.5 0 1 1 8.9 0a4.5 4.5 0 1 1 -8.9 0zM53.3 49a4.4 4.4 0 1 1 8.7 0a4.4 4.4 0 1 1 -8.7 0zM60.8 41L61.4 43.3L54 43.3L54.6 41zM61.4 43.3L62.1 46L53.3 46L54 43.3zM62.1 46L62.2 47.8L53.2 47.8L53.3 46zM62.2 47.8L62.1 49L53.3 49L53.2 47.8z" fill="#777"/>
<path d="M55 41a2.7 2.7 0 1 1 5.4 0a2.7 2.7 0 1 1 -5.4 0zM54.3 43.3a3.4 3.4 0 1 1 6.8 0a3.4 3.4 0 1 1 -6.8 0zM53.6 46a4.1 4.1 0 1 1 8.1 0a4.1 4.1 0 1 1 -8.1 0zM53.6 47.8a4.1 4.1 0 1 1 8.2 0a4.1 4.1 0 1 1 -8.2 0zM53.7 49a4 4 0 1 1 8 0a4 4 0 1 1 -8 0zM60.4 41L61.1 43.3L54.3 43.3L55 41zM61.1 43.3L61.8 46L53.6 46L54.3 43.3zM61.8 46L61.8 47.8L53.6 47.8L53.6 46zM61.8 47.8L61.7 49L53.7 49L53.6 47.8z" fill="#adadad"/>
<path d="M55.4 41a2.3 2.3 0 1 1 4.7 0a2.3 2.3 0 1 1 -4.7 0zM54.8 43.3a2.9 2.9 0 1 1 5.7 0a2.9 2.9 0 1 1 -5.7 0zM54.3 46a3.4 3.4 0 1 1 6.8 0a3.4 3.4 0 1 1 -6.8 0zM54.3 47.8a3.4 3.4 0 1 1 6.8 0a3.4 3.4 0 1 1 -6.8 0zM54.4 49a3.3 3.3 0 1 1 6.7 0a3.3 3.3 0 1 1 -6.7 0zM60 41L60.6 43.3L54.8 43.3L55.4 41zM60.6 43.3L61.1 46L54.3 46L54.8 43.3zM61.1 46L61.1 47.8L54.3 47.8L54.3 46zM61.1 47.8L61 49L54.4 49L54.3 47.8z" fill="#777"/>
<path d="M55.7 41a2 2 0 1 1 4 0a2 2 0 1 1 -4 0zM55.2 43.3a2.5 2.5 0 1 1 5 0a2.5 2.5 0 1 1 -5 0zM54.7 46a3 3 0 1 1 6 0a3 3 0 1 1 -6 0zM54.6 47.8a3.1 3.1 0 1 1 6.1 0a3.1 3.1 0 1 1 -6.1 0zM54.7 49a3 3 0 1 1 5.9 0a3 3 0 1 1 -5.9 0zM59.7 41L60.2 43.3L55.2 43.3L55.7 41zM60.2 43.3L60.7 46L54.7 46L55.2 43.3zM60.7 46L60.8 47.8L54.6 47.8L54.7 46zM60.8 47.8L60.7 49L54.7 49L54.6 47.8z" fill="#999"/>
<path d="M56.1 41a1.6 1.6 0 1 1 3.2 0a1.6 1.6 0 1 1 -3.2 0zM55.7 43.3a2 2 0 1 1 4 0a2 2 0 1 1 -4 0zM55.4 46a2.3 2.3 0 1 1 4.7 0a2.3 2.3 0 1 1 -4.7 0zM55.3 47.8a2.4 2.4 0 1 1 4.7 0a2.4 2.4 0 1 1 -4.7 0zM55.4 49a2.3 2.3 0 1 1 4.6 0a2.3 2.3 0 1 1 -4.6 0zM59.3 41L59.7 43.3L55.7 43.3L56.1 41zM59.7 43.3L60 46L55.4 46L55.7 43.3zM60 46L60.1 47.8L55.3 47.8L55.4 46zM60.1 47.8L60 49L55.4 49L55.3 47.8z" fill="#777"/>
<path d="M56.4 41a1.3 1.3 0 1 1 2.5 0a1.3 1.3 0 1 1 -2.5 0zM56.1 43.3a1.6 1.6 0 1 1 3.2 0a1.6 1.6 0 1 1 -3.2 0zM55.7 46a2 2 0 1 1 4 0a2 2 0 1 1 -4 0zM55.7 47.8a2 2 0 1 1 4 0a2 2 0 1 1 -4 0zM55.8 49a1.9 1.9 0 1 1 3.9 0a1.9 1.9 0 1 1 -3.9 0zM59 41L59.3 43.3L56.1 43.3L56.4 41zM59.3 43.3L59.7 46L55.7 46L56.1 43.3zM59.7 46L59.7 47.8L55.7 47.8L55.7 46zM59.7 47.8L59.6 49L55.8 49L55.7 47.8z" fill="#8a8a8a"/>
<path d="M57.1 41a0.6 0.6 0 1 1 1.3 0a0.6 0.6 0 1 1 -1.3 0zM56.9 43.3a0.8 0.8 0 1 1 1.5 0a0.8 0.8 0 1 1 -1.5 0zM56.8 46a0.9 0.9 0 1 1 1.8 0a0.9 0.9 0 1 1 -1.8 0zM56.8 47.8a0.9 0.9 0 1 1 1.8 0a0.9 0.9 0 1 1 -1.8 0zM56.8 49a0.9 0.9 0 1 1 1.8 0a0.9 0.9 0 1 1 -1.8 0zM58.3 41L58.5 43.3L56.9 43.3L57.1 41zM58.5 43.3L58.6 46L56.8 46L56.9 43.3zM58.6 46L58.6 47.8L56.8 47.8L56.8 46zM58.6 47.8L58.6 49L56.8 49L56.8 47.8z" fill="#777"/>
<path d="M57.4 41a0.3 0.3 0 1 1 0.5 0a0.3 0.3 0 1 1 -0.5 0zM57.3 43.3a0.4 0.4 0 1 1 0.8 0a0.4 0.4 0 1 1 -0.8 0zM57.2 46a0.6 0.6 0 1 1 1.1 0a0.6 0.6 0 1 1 -1.1 0zM57.1 47.8a0.6 0.6 0 1 1 1.1 0a0.6 0.6 0 1 1 -1.1 0zM57.2 49a0.5 0.5 0 1 1 1.1 0a0.5 0.5 0 1 1 -1.1 0zM58 41L58.1 43.3L57.3 43.3L57.4 41zM58.1 43.3L58.2 46L57.2 46L57.3 43.3zM58.2 46L58.3 47.8L57.1 47.8L57.2 46zM58.3 47.8L58.2 49L57.2 49L57.1 47.8z" fill="#f0f0f0"/>
<rect x="0" y="0" width="69.3" height="67.1" fill="none" stroke="#0a0a0a" stroke-width="1.35"/>
<line x1="0" y1="22.5" x2="69.3" y2="22.5" stroke="#0a0a0a" stroke-width="1.35"/>
<line x1="38.75" y1="0" x2="38.75" y2="67.1" stroke="#0a0a0a" stroke-width="1.35"/>
<line x1="38.75" y1="36.6" x2="69.3" y2="36.6" stroke="#0a0a0a" stroke-width="1.35"/>
<path d="M-3.1 6H0M-3.1 21.9H0M-3.1 40.7H0M-3.1 63.6H0M2.7 67.1V70.1M28.5 67.1V70.1M47.7 67.1V70.1M63.1 67.1V70.1" stroke="#000" stroke-width="1" fill="none"/>
<path d="M-1.7 3H0M-1.7 4.3H0M-1.7 8H0M-1.7 10.5H0M-1.7 13H0M-1.7 15H0M-1.7 17H0M-1.7 18.6H0M-1.7 20.2H0M-1.7 25H0M-1.7 28H0M-1.7 31H0M-1.7 33.5H0M-1.7 36H0M-1.7 37.8H0M-1.7 39.3H0M-1.7 43.5H0M-1.7 45.5H0M-1.7 47.2H0M-1.7 48.6H0M-1.7 49.8H0M-1.7 55H0M-1.7 56.4H0M-1.7 58H0M-1.7 59.8H0M-1.7 61.6H0M-1.7 65.5H0M0.8 67.1V68.7M4.8 67.1V68.7M6.6 67.1V68.7M8.2 67.1V68.7M9.6 67.1V68.7M10.8 67.1V68.7M11.9 67.1V68.7M12.9 67.1V68.7M18 67.1V68.7M19 67.1V68.7M20.2 67.1V68.7M21.5 67.1V68.7M23 67.1V68.7M24.8 67.1V68.7M26.6 67.1V68.7M31.5 67.1V68.7M34.5 67.1V68.7M37 67.1V68.7M39.5 67.1V68.7M41.5 67.1V68.7M43.3 67.1V68.7M44.8 67.1V68.7M46.3 67.1V68.7M52.5 67.1V68.7M55.5 67.1V68.7M57.8 67.1V68.7M59.5 67.1V68.7M60.8 67.1V68.7M62 67.1V68.7M65.5 67.1V68.7M67.5 67.1V68.7" stroke="#000" stroke-width="0.65" fill="none"/>
<rect x="-1.9" y="50.7" width="1.9" height="3.3" fill="#000"/>
<rect x="13.2" y="67.1" width="4.4" height="2" fill="#000"/>
<text x="-6" y="11.3" font-size="6.8" text-anchor="end" textLength="9.4" lengthAdjust="spacingAndGlyphs">10<tspan font-size="4.62" dy="-2.86">5</tspan></text>
<text x="-6" y="24.2" font-size="6.8" text-anchor="end" textLength="9.4" lengthAdjust="spacingAndGlyphs">10<tspan font-size="4.62" dy="-2.86">4</tspan></text>
<text x="-6" y="42.6" font-size="6.8" text-anchor="end" textLength="9.4" lengthAdjust="spacingAndGlyphs">10<tspan font-size="4.62" dy="-2.86">3</tspan></text>
<text x="-8.6" y="55.3" font-size="6.8" text-anchor="middle" textLength="3.5" lengthAdjust="spacingAndGlyphs">0</text>
<text x="-6" y="66.7" font-size="6.8" text-anchor="end" textLength="11.5" lengthAdjust="spacingAndGlyphs">-10<tspan font-size="4.62" dy="-2.86">3</tspan></text>
<text x="9" y="78.7" font-size="6.8" text-anchor="end" textLength="11.6" lengthAdjust="spacingAndGlyphs">-10<tspan font-size="4.62" dy="-2.86">3</tspan></text>
<text x="15.9" y="78.7" font-size="6.8" text-anchor="middle" textLength="3.5" lengthAdjust="spacingAndGlyphs">0</text>
<text x="32.9" y="78.7" font-size="6.8" text-anchor="end" textLength="9.4" lengthAdjust="spacingAndGlyphs">10<tspan font-size="4.62" dy="-2.86">3</tspan></text>
<text x="52.1" y="78.7" font-size="6.8" text-anchor="end" textLength="9.4" lengthAdjust="spacingAndGlyphs">10<tspan font-size="4.62" dy="-2.86">4</tspan></text>
<text x="67.9" y="78.7" font-size="6.8" text-anchor="end" textLength="9.4" lengthAdjust="spacingAndGlyphs">10<tspan font-size="4.62" dy="-2.86">5</tspan></text>
<text x="4" y="6.5" font-size="4.4" fill="#0d0d0d">P1</text>
<text x="0.8" y="11.8" font-size="4.4" fill="#0d0d0d">4,16E-3</text>
<text x="68" y="6.9" font-size="4.4" text-anchor="end" fill="#0d0d0d">P2</text>
<text x="68" y="12.2" font-size="4.4" text-anchor="end" fill="#0d0d0d">3,45</text>
<text x="68" y="28.6" font-size="4.4" text-anchor="end" fill="#0d0d0d">P3</text>
<text x="68" y="33.9" font-size="4.4" text-anchor="end" fill="#0d0d0d">15,7</text>
<text x="68" y="59.2" font-size="4.4" text-anchor="end" fill="#0d0d0d">P4</text>
<text x="68" y="64.5" font-size="4.4" text-anchor="end" fill="#0d0d0d">80,9</text>
</g>
<g transform="translate(249.9 375.6)">
<path d="M41 35a1 1 0 1 1 2 0a1 1 0 1 1 -2 0zM43.9 35.5a1.1 1.1 0 1 1 2.3 0a1.1 1.1 0 1 1 -2.3 0zM46.7 36a1.3 1.3 0 1 1 2.6 0a1.3 1.3 0 1 1 -2.6 0zM42.2 34L45.2 34.4L44.8 36.6L41.8 36zM45.2 34.4L48.2 34.7L47.8 37.3L44.8 36.6z" fill="#8c8c8c"/>
<path d="M41.4 35a0.6 0.6 0 1 1 1.2 0a0.6 0.6 0 1 1 -1.2 0zM44.2 35.5a0.8 0.8 0 1 1 1.5 0a0.8 0.8 0 1 1 -1.5 0zM47.1 36a0.9 0.9 0 1 1 1.8 0a0.9 0.9 0 1 1 -1.8 0zM42.1 34.4L45.1 34.7L44.9 36.3L41.9 35.6zM45.1 34.7L48.2 35.1L47.8 36.9L44.9 36.3z" fill="#fff"/>
<path d="M53.5 27a2.5 2.5 0 1 1 5 0a2.5 2.5 0 1 1 -5 0zM52.2 29.7a2.9 2.9 0 1 1 5.9 0a2.9 2.9 0 1 1 -5.9 0zM50.5 33a3.5 3.5 0 1 1 7 0a3.5 3.5 0 1 1 -7 0zM48.3 35.9a4.1 4.1 0 1 1 8.1 0a4.1 4.1 0 1 1 -8.1 0zM46.5 38a4.5 4.5 0 1 1 9 0a4.5 4.5 0 1 1 -9 0zM58.4 27.7L58 30.5L52.4 28.8L53.6 26.3zM58 30.7L57.3 34.2L50.7 31.8L52.4 28.7zM57 34.7L55.9 37.9L48.8 33.9L51 31.3zM55.8 38.1L54.8 40.4L47.2 35.6L49 33.7z" fill="#8c8c8c"/>
<path d="M53.9 27a2.1 2.1 0 1 1 4.2 0a2.1 2.1 0 1 1 -4.2 0zM52.6 29.7a2.6 2.6 0 1 1 5.1 0a2.6 2.6 0 1 1 -5.1 0zM50.9 33a3.1 3.1 0 1 1 6.2 0a3.1 3.1 0 1 1 -6.2 0zM48.7 35.9a3.7 3.7 0 1 1 7.4 0a3.7 3.7 0 1 1 -7.4 0zM46.9 38a4.1 4.1 0 1 1 8.2 0a4.1 4.1 0 1 1 -8.2 0zM58 27.6L57.6 30.4L52.7 28.9L54 26.4zM57.6 30.6L56.9 34.1L51.1 31.9L52.8 28.8zM56.7 34.5L55.6 37.7L49.2 34.1L51.3 31.5zM55.5 37.9L54.5 40.2L47.5 35.8L49.3 33.9z" fill="#fff"/>
<path d="M54.6 27a1.4 1.4 0 1 1 2.8 0a1.4 1.4 0 1 1 -2.8 0zM53.6 29.7a1.6 1.6 0 1 1 3.2 0a1.6 1.6 0 1 1 -3.2 0zM52.1 33a1.9 1.9 0 1 1 3.9 0a1.9 1.9 0 1 1 -3.9 0zM50.1 35.9a2.2 2.2 0 1 1 4.5 0a2.2 2.2 0 1 1 -4.5 0zM48.5 38a2.5 2.5 0 1 1 5 0a2.5 2.5 0 1 1 -5 0zM57.3 27.4L56.7 30.2L53.6 29.2L54.7 26.6zM56.7 30.2L55.8 33.6L52.2 32.4L53.7 29.1zM55.7 33.9L54.3 37L50.4 34.8L52.3 32.1zM54.3 37.1L53.1 39.3L48.9 36.7L50.5 34.7z" fill="#8c8c8c"/>
<path d="M55 27a1 1 0 1 1 2 0a1 1 0 1 1 -2 0zM54 29.7a1.2 1.2 0 1 1 2.5 0a1.2 1.2 0 1 1 -2.5 0zM52.5 33a1.5 1.5 0 1 1 3.1 0a1.5 1.5 0 1 1 -3.1 0zM50.5 35.9a1.9 1.9 0 1 1 3.7 0a1.9 1.9 0 1 1 -3.7 0zM48.9 38a2.1 2.1 0 1 1 4.2 0a2.1 2.1 0 1 1 -4.2 0zM57 27.3L56.4 30L54 29.3L55 26.7zM56.4 30.1L55.5 33.5L52.5 32.5L54 29.3zM55.3 33.8L54 36.8L50.8 35L52.7 32.2zM53.9 36.9L52.8 39.1L49.2 36.9L50.8 34.9z" fill="#fff"/>
<path d="M23.6 50a4.4 4.4 0 1 1 8.8 0a4.4 4.4 0 1 1 -8.8 0zM26.1 49.6a5.3 5.3 0 1 1 10.6 0a5.3 5.3 0 1 1 -10.6 0zM29.6 49a6.4 6.4 0 1 1 12.8 0a6.4 6.4 0 1 1 -12.8 0zM33.6 48a7.2 7.2 0 1 1 14.5 0a7.2 7.2 0 1 1 -14.5 0zM38.1 47a7.9 7.9 0 1 1 15.8 0a7.9 7.9 0 1 1 -15.8 0zM43.8 46.3a8.3 8.3 0 1 1 16.7 0a8.3 8.3 0 1 1 -16.7 0zM48.4 45.8a8.6 8.6 0 1 1 17.2 0a8.6 8.6 0 1 1 -17.2 0zM27.5 45.6L30.8 44.4L32 54.9L28.5 54.4zM30.7 44.4L35.1 42.7L36.9 55.3L32.1 54.9zM34.7 42.7L39.4 40.9L42.3 55.1L37.3 55.3zM39.4 40.9L44.5 39.2L47.5 54.8L42.2 55.1zM45.1 39.2L51.1 38L53.1 54.6L46.9 54.8zM51.3 38L56.2 37.2L57.8 54.4L52.9 54.6z" fill="#808080"/>
<path d="M24 50a4 4 0 1 1 8.1 0a4 4 0 1 1 -8.1 0zM26.4 49.6a4.9 4.9 0 1 1 9.9 0a4.9 4.9 0 1 1 -9.9 0zM30 49a6 6 0 1 1 12.1 0a6 6 0 1 1 -12.1 0zM33.9 48a6.9 6.9 0 1 1 13.7 0a6.9 6.9 0 1 1 -13.7 0zM38.5 47a7.5 7.5 0 1 1 15.1 0a7.5 7.5 0 1 1 -15.1 0zM44.1 46.3a8 8 0 1 1 16 0a8 8 0 1 1 -16 0zM48.8 45.8a8.2 8.2 0 1 1 16.5 0a8.2 8.2 0 1 1 -16.5 0zM27.6 46L30.8 44.7L31.9 54.5L28.4 54zM30.7 44.7L35.2 43L36.8 55L32 54.5zM34.8 43.1L39.4 41.3L42.2 54.7L37.2 54.9zM39.5 41.3L44.6 39.6L47.4 54.4L42.1 54.8zM45.1 39.5L51.2 38.3L53.1 54.2L46.9 54.5zM51.4 38.3L56.2 37.6L57.8 54L52.9 54.2z" fill="#e6e6e6"/>
<path d="M24.4 50a3.6 3.6 0 1 1 7.2 0a3.6 3.6 0 1 1 -7.2 0zM27 49.6a4.4 4.4 0 1 1 8.7 0a4.4 4.4 0 1 1 -8.7 0zM30.8 49a5.2 5.2 0 1 1 10.5 0a5.2 5.2 0 1 1 -10.5 0zM34.9 48a5.9 5.9 0 1 1 11.9 0a5.9 5.9 0 1 1 -11.9 0zM39.5 47a6.5 6.5 0 1 1 13 0a6.5 6.5 0 1 1 -13 0zM45.3 46.3a6.8 6.8 0 1 1 13.7 0a6.8 6.8 0 1 1 -13.7 0zM49.9 45.8a7.1 7.1 0 1 1 14.1 0a7.1 7.1 0 1 1 -14.1 0zM27.6 46.4L30.9 45.3L31.9 53.9L28.4 53.6zM30.8 45.3L35.3 43.8L36.7 54.2L32 53.9zM34.9 43.9L39.6 42.2L42 53.8L37.1 54.1zM39.7 42.2L44.8 40.6L47.2 53.4L41.9 53.8zM45.2 40.6L51.3 39.5L52.9 53.1L46.8 53.4zM51.5 39.5L56.3 38.8L57.7 52.8L52.8 53.1z" fill="#808080"/>
<path d="M24.8 50a3.2 3.2 0 1 1 6.5 0a3.2 3.2 0 1 1 -6.5 0zM27.4 49.6a4 4 0 1 1 8 0a4 4 0 1 1 -8 0zM31.1 49a4.9 4.9 0 1 1 9.8 0a4.9 4.9 0 1 1 -9.8 0zM35.2 48a5.6 5.6 0 1 1 11.1 0a5.6 5.6 0 1 1 -11.1 0zM39.9 47a6.1 6.1 0 1 1 12.2 0a6.1 6.1 0 1 1 -12.2 0zM45.6 46.3a6.5 6.5 0 1 1 13 0a6.5 6.5 0 1 1 -13 0zM50.3 45.8a6.7 6.7 0 1 1 13.4 0a6.7 6.7 0 1 1 -13.4 0zM27.6 46.8L30.9 45.7L31.8 53.6L28.4 53.2zM30.8 45.7L35.3 44.2L36.7 53.8L31.9 53.6zM35 44.2L39.7 42.6L41.9 53.5L37 53.8zM39.7 42.5L44.8 41L47.2 53L41.9 53.5zM45.3 40.9L51.4 39.8L52.9 52.7L46.7 53.1zM51.5 39.8L56.4 39.1L57.6 52.5L52.8 52.7z" fill="#d3d3d3"/>
<path d="M29.6 49.8a2.4 2.4 0 1 1 4.8 0a2.4 2.4 0 1 1 -4.8 0zM35.4 48.8a3.1 3.1 0 1 1 6.2 0a3.1 3.1 0 1 1 -6.2 0zM41.2 47.8a3.8 3.8 0 1 1 7.6 0a3.8 3.8 0 1 1 -7.6 0zM31.6 47.4L38 45.7L39 51.9L32.4 52.2zM38 45.7L44.4 44L45.6 51.6L39 51.9z" fill="#808080"/>
<path d="M30 49.8a2 2 0 1 1 4.1 0a2 2 0 1 1 -4.1 0zM35.8 48.8a2.7 2.7 0 1 1 5.5 0a2.7 2.7 0 1 1 -5.5 0zM41.6 47.8a3.4 3.4 0 1 1 6.9 0a3.4 3.4 0 1 1 -6.9 0zM31.7 47.8L38.1 46.1L38.9 51.5L32.3 51.8zM38.1 46.1L44.5 44.4L45.5 51.2L38.9 51.5z" fill="#c9c9c9"/>
<path d="M30.8 49.8a1.2 1.2 0 1 1 2.4 0a1.2 1.2 0 1 1 -2.4 0zM37 48.8a1.5 1.5 0 1 1 3.1 0a1.5 1.5 0 1 1 -3.1 0zM43.1 47.8a1.9 1.9 0 1 1 3.8 0a1.9 1.9 0 1 1 -3.8 0zM31.8 48.6L38.3 47.3L38.7 50.3L32.2 51zM38.3 47.3L44.7 45.9L45.3 49.7L38.7 50.3z" fill="#808080"/>
<path d="M31.2 49.8a0.8 0.8 0 1 1 1.7 0a0.8 0.8 0 1 1 -1.7 0zM37.3 48.8a1.2 1.2 0 1 1 2.4 0a1.2 1.2 0 1 1 -2.4 0zM43.5 47.8a1.5 1.5 0 1 1 3.1 0a1.5 1.5 0 1 1 -3.1 0zM31.9 49L38.3 47.6L38.7 50L32.1 50.6zM38.3 47.6L44.8 46.3L45.2 49.3L38.7 50z" fill="#bdbdbd"/>
<path d="M52.7 42.5a4.5 4.5 0 1 1 9 0a4.5 4.5 0 1 1 -9 0zM52.5 45a4.7 4.7 0 1 1 9.4 0a4.7 4.7 0 1 1 -9.4 0zM52.3 47.5a4.9 4.9 0 1 1 9.8 0a4.9 4.9 0 1 1 -9.8 0zM61.7 42.5L61.9 45L52.5 45L52.7 42.5zM61.9 45L62.1 47.5L52.3 47.5L52.5 45z" fill="#6a6a6a"/>
<path d="M53.1 42.5a4.1 4.1 0 1 1 8.3 0a4.1 4.1 0 1 1 -8.3 0zM52.9 45a4.3 4.3 0 1 1 8.7 0a4.3 4.3 0 1 1 -8.7 0zM52.7 47.5a4.5 4.5 0 1 1 9.1 0a4.5 4.5 0 1 1 -9.1 0zM61.3 42.5L61.5 45L52.9 45L53.1 42.5zM61.5 45L61.7 47.5L52.7 47.5L52.9 45z" fill="#a9a9a9"/>
<path d="M54.1 42.5a3.1 3.1 0 1 1 6.3 0a3.1 3.1 0 1 1 -6.3 0zM53.9 45a3.3 3.3 0 1 1 6.6 0a3.3 3.3 0 1 1 -6.6 0zM53.8 47.5a3.4 3.4 0 1 1 6.9 0a3.4 3.4 0 1 1 -6.9 0zM60.4 42.5L60.5 45L53.9 45L54.1 42.5zM60.5 45L60.6 47.5L53.8 47.5L53.9 45z" fill="#6a6a6a"/>
<path d="M54.4 42.5a2.8 2.8 0 1 1 5.6 0a2.8 2.8 0 1 1 -5.6 0zM54.3 45a2.9 2.9 0 1 1 5.9 0a2.9 2.9 0 1 1 -5.9 0zM54.1 47.5a3.1 3.1 0 1 1 6.1 0a3.1 3.1 0 1 1 -6.1 0zM60 42.5L60.1 45L54.3 45L54.4 42.5zM60.1 45L60.3 47.5L54.1 47.5L54.3 45z" fill="#8f8f8f"/>
<path d="M55.3 42.5a1.9 1.9 0 1 1 3.8 0a1.9 1.9 0 1 1 -3.8 0zM55.2 45a2 2 0 1 1 3.9 0a2 2 0 1 1 -3.9 0zM55.1 47.5a2.1 2.1 0 1 1 4.1 0a2.1 2.1 0 1 1 -4.1 0zM59.1 42.5L59.2 45L55.2 45L55.3 42.5zM59.2 45L59.3 47.5L55.1 47.5L55.2 45z" fill="#6a6a6a"/>
<path d="M55.7 42.5a1.5 1.5 0 1 1 3.1 0a1.5 1.5 0 1 1 -3.1 0zM55.6 45a1.6 1.6 0 1 1 3.2 0a1.6 1.6 0 1 1 -3.2 0zM55.5 47.5a1.7 1.7 0 1 1 3.4 0a1.7 1.7 0 1 1 -3.4 0zM58.7 42.5L58.8 45L55.6 45L55.7 42.5zM58.8 45L58.9 47.5L55.5 47.5L55.6 45z" fill="#7c7c7c"/>
<path d="M56.5 42.5a0.7 0.7 0 1 1 1.4 0a0.7 0.7 0 1 1 -1.4 0zM56.4 45a0.8 0.8 0 1 1 1.5 0a0.8 0.8 0 1 1 -1.5 0zM56.4 47.5a0.8 0.8 0 1 1 1.6 0a0.8 0.8 0 1 1 -1.6 0zM57.9 42.5L58 45L56.4 45L56.5 42.5zM58 45L58 47.5L56.4 47.5L56.4 45z" fill="#6a6a6a"/>
<path d="M56.8 42.5a0.4 0.4 0 1 1 0.7 0a0.4 0.4 0 1 1 -0.7 0zM56.8 45a0.4 0.4 0 1 1 0.8 0a0.4 0.4 0 1 1 -0.8 0zM56.8 47.5a0.4 0.4 0 1 1 0.8 0a0.4 0.4 0 1 1 -0.8 0zM57.6 42.5L57.6 45L56.8 45L56.8 42.5zM57.6 45L57.6 47.5L56.8 47.5L56.8 45z" fill="#e0e0e0"/>
<rect x="0" y="0" width="69.3" height="67.1" fill="none" stroke="#0a0a0a" stroke-width="1.35"/>
<line x1="0" y1="22.5" x2="69.3" y2="22.5" stroke="#0a0a0a" stroke-width="1.35"/>
<line x1="38.75" y1="0" x2="38.75" y2="67.1" stroke="#0a0a0a" stroke-width="1.35"/>
<line x1="38.75" y1="36.6" x2="69.3" y2="36.6" stroke="#0a0a0a" stroke-width="1.35"/>
<path d="M-3.1 6H0M-3.1 21.9H0M-3.1 40.7H0M-3.1 63.6H0M2.7 67.1V70.1M28.5 67.1V70.1M47.7 67.1V70.1M63.1 67.1V70.1" stroke="#000" stroke-width="1" fill="none"/>
<path d="M-1.7 3H0M-1.7 4.3H0M-1.7 8H0M-1.7 10.5H0M-1.7 13H0M-1.7 15H0M-1.7 17H0M-1.7 18.6H0M-1.7 20.2H0M-1.7 25H0M-1.7 28H0M-1.7 31H0M-1.7 33.5H0M-1.7 36H0M-1.7 37.8H0M-1.7 39.3H0M-1.7 43.5H0M-1.7 45.5H0M-1.7 47.2H0M-1.7 48.6H0M-1.7 49.8H0M-1.7 55H0M-1.7 56.4H0M-1.7 58H0M-1.7 59.8H0M-1.7 61.6H0M-1.7 65.5H0M0.8 67.1V68.7M4.8 67.1V68.7M6.6 67.1V68.7M8.2 67.1V68.7M9.6 67.1V68.7M10.8 67.1V68.7M11.9 67.1V68.7M12.9 67.1V68.7M18 67.1V68.7M19 67.1V68.7M20.2 67.1V68.7M21.5 67.1V68.7M23 67.1V68.7M24.8 67.1V68.7M26.6 67.1V68.7M31.5 67.1V68.7M34.5 67.1V68.7M37 67.1V68.7M39.5 67.1V68.7M41.5 67.1V68.7M43.3 67.1V68.7M44.8 67.1V68.7M46.3 67.1V68.7M52.5 67.1V68.7M55.5 67.1V68.7M57.8 67.1V68.7M59.5 67.1V68.7M60.8 67.1V68.7M62 67.1V68.7M65.5 67.1V68.7M67.5 67.1V68.7" stroke="#000" stroke-width="0.65" fill="none"/>
<rect x="-1.9" y="50.7" width="1.9" height="3.3" fill="#000"/>
<rect x="13.2" y="67.1" width="4.4" height="2" fill="#000"/>
<text x="-6" y="11.3" font-size="6.8" text-anchor="end" textLength="9.4" lengthAdjust="spacingAndGlyphs">10<tspan font-size="4.62" dy="-2.86">5</tspan></text>
<text x="-6" y="24.2" font-size="6.8" text-anchor="end" textLength="9.4" lengthAdjust="spacingAndGlyphs">10<tspan font-size="4.62" dy="-2.86">4</tspan></text>
<text x="-6" y="42.6" font-size="6.8" text-anchor="end" textLength="9.4" lengthAdjust="spacingAndGlyphs">10<tspan font-size="4.62" dy="-2.86">3</tspan></text>
<text x="-8.6" y="55.3" font-size="6.8" text-anchor="middle" textLength="3.5" lengthAdjust="spacingAndGlyphs">0</text>
<text x="-6" y="66.7" font-size="6.8" text-anchor="end" textLength="11.5" lengthAdjust="spacingAndGlyphs">-10<tspan font-size="4.62" dy="-2.86">3</tspan></text>
<text x="9" y="78.7" font-size="6.8" text-anchor="end" textLength="11.6" lengthAdjust="spacingAndGlyphs">-10<tspan font-size="4.62" dy="-2.86">3</tspan></text>
<text x="15.9" y="78.7" font-size="6.8" text-anchor="middle" textLength="3.5" lengthAdjust="spacingAndGlyphs">0</text>
<text x="32.9" y="78.7" font-size="6.8" text-anchor="end" textLength="9.4" lengthAdjust="spacingAndGlyphs">10<tspan font-size="4.62" dy="-2.86">3</tspan></text>
<text x="52.1" y="78.7" font-size="6.8" text-anchor="end" textLength="9.4" lengthAdjust="spacingAndGlyphs">10<tspan font-size="4.62" dy="-2.86">4</tspan></text>
<text x="67.9" y="78.7" font-size="6.8" text-anchor="end" textLength="9.4" lengthAdjust="spacingAndGlyphs">10<tspan font-size="4.62" dy="-2.86">5</tspan></text>
<text x="4" y="6.5" font-size="4.4" fill="#0d0d0d">P1</text>
<text x="2.4" y="11.8" font-size="4.4" fill="#0d0d0d">0,094</text>
<text x="68" y="6.9" font-size="4.4" text-anchor="end" fill="#0d0d0d">P2</text>
<text x="68" y="12.2" font-size="4.4" text-anchor="end" fill="#0d0d0d">2,04</text>
<text x="68" y="28.6" font-size="4.4" text-anchor="end" fill="#0d0d0d">P3</text>
<text x="68" y="33.9" font-size="4.4" text-anchor="end" fill="#0d0d0d">11,0</text>
<text x="68" y="59.2" font-size="4.4" text-anchor="end" fill="#0d0d0d">P4</text>
<text x="68" y="64.5" font-size="4.4" text-anchor="end" fill="#0d0d0d">72,6</text>
</g>
<g transform="translate(56.2 462.6)">
<path d="M53.5 9a3 3 0 1 1 6 0a3 3 0 1 1 -6 0zM52.5 12.9a3.9 3.9 0 1 1 7.8 0a3.9 3.9 0 1 1 -7.8 0zM51 18a5 5 0 1 1 10 0a5 5 0 1 1 -10 0zM49.3 23.1a6 6 0 1 1 12 0a6 6 0 1 1 -12 0zM47.5 28a7 7 0 1 1 14 0a7 7 0 1 1 -14 0zM45.5 32.6a8.1 8.1 0 1 1 16.2 0a8.1 8.1 0 1 1 -16.2 0zM44 36a9 9 0 1 1 18 0a9 9 0 1 1 -18 0zM59.5 9.1L60.2 13L52.5 12.7L53.5 8.9zM60.2 13.1L61 18.3L51 17.7L52.5 12.6zM61 18.7L61.3 23.9L49.4 22.3L51 17.3zM61.2 24L61.4 29.1L47.6 26.9L49.4 22.1zM61.4 29.3L61.6 34.1L45.7 31.2L47.6 26.7zM61.6 34.2L61.8 37.7L44.2 34.3L45.7 31.1z" fill="#8c8c8c"/>
<path d="M53.9 9a2.6 2.6 0 1 1 5.2 0a2.6 2.6 0 1 1 -5.2 0zM52.8 12.9a3.5 3.5 0 1 1 7 0a3.5 3.5 0 1 1 -7 0zM51.4 18a4.6 4.6 0 1 1 9.2 0a4.6 4.6 0 1 1 -9.2 0zM49.7 23.1a5.6 5.6 0 1 1 11.2 0a5.6 5.6 0 1 1 -11.2 0zM47.9 28a6.6 6.6 0 1 1 13.2 0a6.6 6.6 0 1 1 -13.2 0zM45.9 32.6a7.7 7.7 0 1 1 15.5 0a7.7 7.7 0 1 1 -15.5 0zM44.4 36a8.6 8.6 0 1 1 17.2 0a8.6 8.6 0 1 1 -17.2 0zM59.1 9.1L59.8 13L52.9 12.7L53.9 8.9zM59.8 13.1L60.6 18.3L51.4 17.7L52.9 12.6zM60.6 18.6L60.9 23.8L49.7 22.3L51.4 17.4zM60.9 24L61 29.1L48 26.9L49.8 22.1zM61 29.2L61.3 34L46 31.2L48 26.8zM61.3 34.1L61.5 37.6L44.5 34.4L46.1 31.1z" fill="#f4f4f4"/>
<path d="M54.2 9a2.2 2.2 0 1 1 4.5 0a2.2 2.2 0 1 1 -4.5 0zM53.4 12.9a2.9 2.9 0 1 1 5.8 0a2.9 2.9 0 1 1 -5.8 0zM52.2 18a3.8 3.8 0 1 1 7.5 0a3.8 3.8 0 1 1 -7.5 0zM50.8 23.1a4.5 4.5 0 1 1 9 0a4.5 4.5 0 1 1 -9 0zM49.2 28a5.2 5.2 0 1 1 10.5 0a5.2 5.2 0 1 1 -10.5 0zM47.6 32.6a6.1 6.1 0 1 1 12.2 0a6.1 6.1 0 1 1 -12.2 0zM46.2 36a6.8 6.8 0 1 1 13.5 0a6.8 6.8 0 1 1 -13.5 0zM58.7 9.1L59.2 13L53.4 12.8L54.3 8.9zM59.2 13.1L59.7 18.3L52.3 17.7L53.4 12.7zM59.7 18.5L59.8 23.7L50.9 22.5L52.3 17.5zM59.8 23.8L59.7 28.9L49.3 27.1L50.9 22.3zM59.7 28.9L59.7 33.7L47.7 31.5L49.3 27.1zM59.6 33.8L59.6 37.3L46.4 34.7L47.7 31.5z" fill="#8c8c8c"/>
<path d="M54.6 9a1.9 1.9 0 1 1 3.7 0a1.9 1.9 0 1 1 -3.7 0zM53.8 12.9a2.5 2.5 0 1 1 5.1 0a2.5 2.5 0 1 1 -5.1 0zM52.6 18a3.4 3.4 0 1 1 6.7 0a3.4 3.4 0 1 1 -6.7 0zM51.2 23.1a4.1 4.1 0 1 1 8.2 0a4.1 4.1 0 1 1 -8.2 0zM49.6 28a4.9 4.9 0 1 1 9.7 0a4.9 4.9 0 1 1 -9.7 0zM47.9 32.6a5.7 5.7 0 1 1 11.4 0a5.7 5.7 0 1 1 -11.4 0zM46.6 36a6.4 6.4 0 1 1 12.7 0a6.4 6.4 0 1 1 -12.7 0zM58.4 9.1L58.9 13L53.8 12.8L54.6 8.9zM58.9 13L59.4 18.2L52.6 17.8L53.8 12.7zM59.3 18.5L59.4 23.6L51.2 22.5L52.7 17.5zM59.4 23.7L59.3 28.8L49.7 27.2L51.2 22.4zM59.3 28.9L59.3 33.7L48 31.6L49.7 27.1zM59.3 33.7L59.3 37.2L46.7 34.8L48 31.5z" fill="#f4f4f4"/>
<path d="M55 9a1.5 1.5 0 1 1 3 0a1.5 1.5 0 1 1 -3 0zM54.4 12.9a1.9 1.9 0 1 1 3.9 0a1.9 1.9 0 1 1 -3.9 0zM53.5 18a2.5 2.5 0 1 1 5 0a2.5 2.5 0 1 1 -5 0zM52.3 23.1a3 3 0 1 1 6 0a3 3 0 1 1 -6 0zM51 28a3.5 3.5 0 1 1 7 0a3.5 3.5 0 1 1 -7 0zM49.6 32.6a4.1 4.1 0 1 1 8.1 0a4.1 4.1 0 1 1 -8.1 0zM48.5 36a4.5 4.5 0 1 1 9 0a4.5 4.5 0 1 1 -9 0zM58 9.1L58.3 13L54.4 12.8L55 8.9zM58.3 13L58.5 18.2L53.5 17.8L54.4 12.7zM58.5 18.3L58.3 23.5L52.3 22.7L53.5 17.7zM58.3 23.5L58 28.6L51 27.4L52.4 22.6zM57.9 28.6L57.7 33.4L49.7 31.9L51.1 27.4zM57.6 33.4L57.4 36.9L48.6 35.1L49.7 31.8z" fill="#8c8c8c"/>
<path d="M55.4 9a1.1 1.1 0 1 1 2.2 0a1.1 1.1 0 1 1 -2.2 0zM54.8 12.9a1.6 1.6 0 1 1 3.1 0a1.6 1.6 0 1 1 -3.1 0zM53.9 18a2.1 2.1 0 1 1 4.2 0a2.1 2.1 0 1 1 -4.2 0zM52.7 23.1a2.6 2.6 0 1 1 5.2 0a2.6 2.6 0 1 1 -5.2 0zM51.4 28a3.1 3.1 0 1 1 6.2 0a3.1 3.1 0 1 1 -6.2 0zM50 32.6a3.7 3.7 0 1 1 7.4 0a3.7 3.7 0 1 1 -7.4 0zM48.9 36a4.1 4.1 0 1 1 8.2 0a4.1 4.1 0 1 1 -8.2 0zM57.6 9L57.9 12.9L54.8 12.8L55.4 9zM57.9 13L58.1 18.1L53.9 17.9L54.8 12.8zM58.1 18.3L57.9 23.4L52.7 22.7L53.9 17.7zM57.9 23.5L57.6 28.5L51.4 27.5L52.7 22.6zM57.6 28.6L57.3 33.3L50 32L51.4 27.4zM57.3 33.3L57 36.8L49 35.2L50 31.9z" fill="#f4f4f4"/>
<path d="M55.8 9a0.8 0.8 0 1 1 1.5 0a0.8 0.8 0 1 1 -1.5 0zM55.4 12.9a1 1 0 1 1 1.9 0a1 1 0 1 1 -1.9 0zM54.8 18a1.2 1.2 0 1 1 2.5 0a1.2 1.2 0 1 1 -2.5 0zM53.8 23.1a1.5 1.5 0 1 1 3 0a1.5 1.5 0 1 1 -3 0zM52.8 28a1.8 1.8 0 1 1 3.5 0a1.8 1.8 0 1 1 -3.5 0zM51.6 32.6a2 2 0 1 1 4.1 0a2 2 0 1 1 -4.1 0zM50.8 36a2.2 2.2 0 1 1 4.5 0a2.2 2.2 0 1 1 -4.5 0zM57.2 9L57.3 12.9L55.4 12.8L55.8 9zM57.3 12.9L57.2 18.1L54.8 17.9L55.4 12.8zM57.2 18.2L56.8 23.3L53.8 22.9L54.8 17.8zM56.8 23.3L56.2 28.3L52.8 27.7L53.8 22.8zM56.2 28.3L55.7 33L51.7 32.3L52.8 27.7zM55.7 33L55.2 36.4L50.8 35.6L51.7 32.2z" fill="#8c8c8c"/>
<path d="M56.1 9a0.4 0.4 0 1 1 0.7 0a0.4 0.4 0 1 1 -0.7 0zM55.8 12.9a0.6 0.6 0 1 1 1.2 0a0.6 0.6 0 1 1 -1.2 0zM55.1 18a0.9 0.9 0 1 1 1.7 0a0.9 0.9 0 1 1 -1.7 0zM54.2 23.1a1.1 1.1 0 1 1 2.2 0a1.1 1.1 0 1 1 -2.2 0zM53.1 28a1.4 1.4 0 1 1 2.7 0a1.4 1.4 0 1 1 -2.7 0zM52 32.6a1.7 1.7 0 1 1 3.3 0a1.7 1.7 0 1 1 -3.3 0zM51.1 36a1.9 1.9 0 1 1 3.7 0a1.9 1.9 0 1 1 -3.7 0zM56.9 9L56.9 12.9L55.8 12.9L56.1 9zM56.9 12.9L56.9 18.1L55.1 17.9L55.8 12.8zM56.9 18.1L56.4 23.2L54.2 22.9L55.1 17.9zM56.4 23.2L55.9 28.2L53.1 27.8L54.2 22.9zM55.8 28.2L55.3 32.9L52 32.3L53.2 27.8zM55.3 32.9L54.8 36.4L51.2 35.6L52 32.3z" fill="#f4f4f4"/>
<path d="M41 46a8.5 8.5 0 1 1 17 0a8.5 8.5 0 1 1 -17 0zM43.5 45.8a8.8 8.8 0 1 1 17.5 0a8.8 8.8 0 1 1 -17.5 0zM46 45.5a9 9 0 1 1 18 0a9 9 0 1 1 -18 0zM48.7 37.5L51.5 37L53 54.5L50.3 54.5zM51.5 37L54.2 36.5L55.8 54.5L53 54.5z" fill="#808080"/>
<path d="M41.4 46a8.1 8.1 0 1 1 16.3 0a8.1 8.1 0 1 1 -16.3 0zM43.9 45.8a8.4 8.4 0 1 1 16.8 0a8.4 8.4 0 1 1 -16.8 0zM46.4 45.5a8.6 8.6 0 1 1 17.3 0a8.6 8.6 0 1 1 -17.3 0zM48.8 37.9L51.5 37.4L53 54.1L50.2 54.1zM51.5 37.4L54.2 36.9L55.8 54.1L53 54.1z" fill="#e6e6e6"/>
<path d="M42.5 46a7 7 0 1 1 13.9 0a7 7 0 1 1 -13.9 0zM45.1 45.8a7.2 7.2 0 1 1 14.3 0a7.2 7.2 0 1 1 -14.3 0zM47.6 45.5a7.4 7.4 0 1 1 14.8 0a7.4 7.4 0 1 1 -14.8 0zM48.9 39.1L51.6 38.6L52.9 52.9L50.1 52.9zM51.6 38.6L54.3 38.2L55.7 52.8L52.9 52.9z" fill="#808080"/>
<path d="M42.9 46a6.6 6.6 0 1 1 13.2 0a6.6 6.6 0 1 1 -13.2 0zM45.4 45.8a6.8 6.8 0 1 1 13.6 0a6.8 6.8 0 1 1 -13.6 0zM48 45.5a7 7 0 1 1 14 0a7 7 0 1 1 -14 0zM48.9 39.4L51.6 39L52.9 52.5L50.1 52.6zM51.6 39L54.4 38.5L55.6 52.5L52.9 52.5z" fill="#d3d3d3"/>
<path d="M51.9 40.5a4.4 4.4 0 1 1 8.8 0a4.4 4.4 0 1 1 -8.8 0zM51.5 43.9a5 5 0 1 1 10 0a5 5 0 1 1 -10 0zM51.2 47.3a5.6 5.6 0 1 1 11.2 0a5.6 5.6 0 1 1 -11.2 0zM60.7 40.2L61.5 43.5L51.6 44.3L51.9 40.8zM61.5 43.5L62.4 46.9L51.2 47.7L51.6 44.3z" fill="#6a6a6a"/>
<path d="M52.3 40.5a4 4 0 1 1 8.1 0a4 4 0 1 1 -8.1 0zM51.9 43.9a4.6 4.6 0 1 1 9.3 0a4.6 4.6 0 1 1 -9.3 0zM51.6 47.3a5.2 5.2 0 1 1 10.5 0a5.2 5.2 0 1 1 -10.5 0zM60.3 40.2L61.2 43.6L51.9 44.2L52.3 40.8zM61.2 43.6L62 46.9L51.6 47.7L51.9 44.2z" fill="#bcbcbc"/>
<path d="M53.2 40.5a3.1 3.1 0 1 1 6.2 0a3.1 3.1 0 1 1 -6.2 0zM53 43.9a3.5 3.5 0 1 1 7 0a3.5 3.5 0 1 1 -7 0zM52.9 47.3a3.9 3.9 0 1 1 7.8 0a3.9 3.9 0 1 1 -7.8 0zM59.4 40.3L60 43.6L53.1 44.2L53.2 40.7zM60 43.6L60.7 47L52.9 47.6L53.1 44.2z" fill="#6a6a6a"/>
<path d="M53.6 40.5a2.7 2.7 0 1 1 5.4 0a2.7 2.7 0 1 1 -5.4 0zM53.4 43.9a3.1 3.1 0 1 1 6.3 0a3.1 3.1 0 1 1 -6.3 0zM53.2 47.3a3.6 3.6 0 1 1 7.1 0a3.6 3.6 0 1 1 -7.1 0zM59 40.3L59.7 43.7L53.4 44.1L53.6 40.7zM59.7 43.7L60.4 47L53.2 47.6L53.4 44.1z" fill="#a6a6a6"/>
<path d="M54.5 40.5a1.8 1.8 0 1 1 3.7 0a1.8 1.8 0 1 1 -3.7 0zM54.4 43.9a2.1 2.1 0 1 1 4.2 0a2.1 2.1 0 1 1 -4.2 0zM54.4 47.3a2.4 2.4 0 1 1 4.7 0a2.4 2.4 0 1 1 -4.7 0zM58.1 40.4L58.6 43.7L54.5 44.1L54.5 40.6zM58.6 43.7L59.1 47.1L54.5 47.5L54.5 44.1z" fill="#6a6a6a"/>
<path d="M54.8 40.5a1.5 1.5 0 1 1 3 0a1.5 1.5 0 1 1 -3 0zM54.8 43.9a1.7 1.7 0 1 1 3.5 0a1.7 1.7 0 1 1 -3.5 0zM54.8 47.3a2 2 0 1 1 4 0a2 2 0 1 1 -4 0zM57.8 40.4L58.3 43.8L54.8 44L54.8 40.6zM58.3 43.8L58.8 47.2L54.8 47.4L54.8 44z" fill="#949494"/>
<path d="M55.6 40.5a0.7 0.7 0 1 1 1.4 0a0.7 0.7 0 1 1 -1.4 0zM55.8 43.9a0.8 0.8 0 1 1 1.6 0a0.8 0.8 0 1 1 -1.6 0zM55.9 47.3a0.9 0.9 0 1 1 1.8 0a0.9 0.9 0 1 1 -1.8 0zM57 40.4L57.3 43.8L55.8 44L55.6 40.6zM57.3 43.8L57.7 47.2L55.9 47.4L55.8 44z" fill="#6a6a6a"/>
<path d="M56 40.5a0.3 0.3 0 1 1 0.7 0a0.3 0.3 0 1 1 -0.7 0zM56.1 43.9a0.4 0.4 0 1 1 0.9 0a0.4 0.4 0 1 1 -0.9 0zM56.3 47.3a0.5 0.5 0 1 1 1.1 0a0.5 0.5 0 1 1 -1.1 0zM56.6 40.5L57 43.9L56.1 43.9L56 40.5zM57 43.9L57.3 47.3L56.3 47.3L56.1 43.9z" fill="#e2e2e2"/>
<rect x="0" y="0" width="69.3" height="67.1" fill="none" stroke="#0a0a0a" stroke-width="1.35"/>
<line x1="0" y1="22.5" x2="69.3" y2="22.5" stroke="#0a0a0a" stroke-width="1.35"/>
<line x1="38.75" y1="0" x2="38.75" y2="67.1" stroke="#0a0a0a" stroke-width="1.35"/>
<line x1="38.75" y1="36.6" x2="69.3" y2="36.6" stroke="#0a0a0a" stroke-width="1.35"/>
<path d="M-3.1 6H0M-3.1 21.9H0M-3.1 40.7H0M-3.1 63.6H0M2.7 67.1V70.1M28.5 67.1V70.1M47.7 67.1V70.1M63.1 67.1V70.1" stroke="#000" stroke-width="1" fill="none"/>
<path d="M-1.7 3H0M-1.7 4.3H0M-1.7 8H0M-1.7 10.5H0M-1.7 13H0M-1.7 15H0M-1.7 17H0M-1.7 18.6H0M-1.7 20.2H0M-1.7 25H0M-1.7 28H0M-1.7 31H0M-1.7 33.5H0M-1.7 36H0M-1.7 37.8H0M-1.7 39.3H0M-1.7 43.5H0M-1.7 45.5H0M-1.7 47.2H0M-1.7 48.6H0M-1.7 49.8H0M-1.7 55H0M-1.7 56.4H0M-1.7 58H0M-1.7 59.8H0M-1.7 61.6H0M-1.7 65.5H0M0.8 67.1V68.7M4.8 67.1V68.7M6.6 67.1V68.7M8.2 67.1V68.7M9.6 67.1V68.7M10.8 67.1V68.7M11.9 67.1V68.7M12.9 67.1V68.7M18 67.1V68.7M19 67.1V68.7M20.2 67.1V68.7M21.5 67.1V68.7M23 67.1V68.7M24.8 67.1V68.7M26.6 67.1V68.7M31.5 67.1V68.7M34.5 67.1V68.7M37 67.1V68.7M39.5 67.1V68.7M41.5 67.1V68.7M43.3 67.1V68.7M44.8 67.1V68.7M46.3 67.1V68.7M52.5 67.1V68.7M55.5 67.1V68.7M57.8 67.1V68.7M59.5 67.1V68.7M60.8 67.1V68.7M62 67.1V68.7M65.5 67.1V68.7M67.5 67.1V68.7" stroke="#000" stroke-width="0.65" fill="none"/>
<rect x="-1.9" y="50.7" width="1.9" height="3.3" fill="#000"/>
<rect x="13.2" y="67.1" width="4.4" height="2" fill="#000"/>
<text x="-6" y="11.3" font-size="6.8" text-anchor="end" textLength="9.4" lengthAdjust="spacingAndGlyphs">10<tspan font-size="4.62" dy="-2.86">5</tspan></text>
<text x="-6" y="24.2" font-size="6.8" text-anchor="end" textLength="9.4" lengthAdjust="spacingAndGlyphs">10<tspan font-size="4.62" dy="-2.86">4</tspan></text>
<text x="-6" y="42.6" font-size="6.8" text-anchor="end" textLength="9.4" lengthAdjust="spacingAndGlyphs">10<tspan font-size="4.62" dy="-2.86">3</tspan></text>
<text x="-8.6" y="55.3" font-size="6.8" text-anchor="middle" textLength="3.5" lengthAdjust="spacingAndGlyphs">0</text>
<text x="-6" y="66.7" font-size="6.8" text-anchor="end" textLength="11.5" lengthAdjust="spacingAndGlyphs">-10<tspan font-size="4.62" dy="-2.86">3</tspan></text>
<text x="9" y="78.7" font-size="6.8" text-anchor="end" textLength="11.6" lengthAdjust="spacingAndGlyphs">-10<tspan font-size="4.62" dy="-2.86">3</tspan></text>
<text x="15.9" y="78.7" font-size="6.8" text-anchor="middle" textLength="3.5" lengthAdjust="spacingAndGlyphs">0</text>
<text x="32.9" y="78.7" font-size="6.8" text-anchor="end" textLength="9.4" lengthAdjust="spacingAndGlyphs">10<tspan font-size="4.62" dy="-2.86">3</tspan></text>
<text x="52.1" y="78.7" font-size="6.8" text-anchor="end" textLength="9.4" lengthAdjust="spacingAndGlyphs">10<tspan font-size="4.62" dy="-2.86">4</tspan></text>
<text x="67.9" y="78.7" font-size="6.8" text-anchor="end" textLength="9.4" lengthAdjust="spacingAndGlyphs">10<tspan font-size="4.62" dy="-2.86">5</tspan></text>
<text x="4" y="6.5" font-size="4.4" fill="#0d0d0d">P1</text>
<text x="2.4" y="11.8" font-size="4.4" fill="#0d0d0d">0,095</text>
<text x="68" y="6.9" font-size="4.4" text-anchor="end" fill="#0d0d0d">P2</text>
<text x="68" y="12.2" font-size="4.4" text-anchor="end" fill="#0d0d0d">11,1</text>
<text x="68" y="28.6" font-size="4.4" text-anchor="end" fill="#0d0d0d">P3</text>
<text x="68" y="33.9" font-size="4.4" text-anchor="end" fill="#0d0d0d">17,7</text>
<text x="68" y="59.2" font-size="4.4" text-anchor="end" fill="#0d0d0d">P4</text>
<text x="68" y="64.5" font-size="4.4" text-anchor="end" fill="#0d0d0d">69,2</text>
</g>
<g transform="translate(153.1 462.6)">
<path d="M53.8 15a2.5 2.5 0 1 1 5 0a2.5 2.5 0 1 1 -5 0zM53 18.1a3.2 3.2 0 1 1 6.4 0a3.2 3.2 0 1 1 -6.4 0zM52 22a4.2 4.2 0 1 1 8.4 0a4.2 4.2 0 1 1 -8.4 0zM50.7 25.9a5.4 5.4 0 1 1 10.7 0a5.4 5.4 0 1 1 -10.7 0zM49.7 29a6.3 6.3 0 1 1 12.6 0a6.3 6.3 0 1 1 -12.6 0zM58.8 15L59.5 18.1L53 18L53.8 15zM59.5 18.1L60.4 22.1L52 21.9L53 18zM60.4 22.1L61.4 26.1L50.7 25.8L52 21.9zM61.4 26.1L62.3 29.2L49.7 28.8L50.7 25.8z" fill="#8c8c8c"/>
<path d="M54.2 15a2.1 2.1 0 1 1 4.2 0a2.1 2.1 0 1 1 -4.2 0zM53.4 18.1a2.8 2.8 0 1 1 5.7 0a2.8 2.8 0 1 1 -5.7 0zM52.4 22a3.8 3.8 0 1 1 7.6 0a3.8 3.8 0 1 1 -7.6 0zM51.1 25.9a5 5 0 1 1 10 0a5 5 0 1 1 -10 0zM50.1 29a5.9 5.9 0 1 1 11.8 0a5.9 5.9 0 1 1 -11.8 0zM58.4 15L59.1 18.1L53.4 18L54.2 15zM59.1 18.1L60 22.1L52.4 21.9L53.4 18zM60 22.1L61.1 26.1L51.1 25.8L52.4 21.9zM61.1 26.1L61.9 29.2L50.1 28.8L51.1 25.8z" fill="#f2f2f2"/>
<path d="M54.5 15a1.8 1.8 0 1 1 3.5 0a1.8 1.8 0 1 1 -3.5 0zM54 18.1a2.3 2.3 0 1 1 4.5 0a2.3 2.3 0 1 1 -4.5 0zM53.3 22a2.9 2.9 0 1 1 5.9 0a2.9 2.9 0 1 1 -5.9 0zM52.3 25.9a3.7 3.7 0 1 1 7.5 0a3.7 3.7 0 1 1 -7.5 0zM51.6 29a4.4 4.4 0 1 1 8.8 0a4.4 4.4 0 1 1 -8.8 0zM58 15L58.5 18.1L54 18L54.6 15zM58.5 18.1L59.1 22L53.3 22L54 18zM59.1 22.1L59.8 26L52.3 25.8L53.3 21.9zM59.8 26.1L60.4 29.1L51.6 28.9L52.3 25.8z" fill="#8c8c8c"/>
<path d="M54.9 15a1.4 1.4 0 1 1 2.7 0a1.4 1.4 0 1 1 -2.7 0zM54.4 18.1a1.9 1.9 0 1 1 3.7 0a1.9 1.9 0 1 1 -3.7 0zM53.6 22a2.6 2.6 0 1 1 5.1 0a2.6 2.6 0 1 1 -5.1 0zM52.7 25.9a3.4 3.4 0 1 1 6.7 0a3.4 3.4 0 1 1 -6.7 0zM52 29a4 4 0 1 1 8.1 0a4 4 0 1 1 -8.1 0zM57.7 15L58.1 18.1L54.4 18L54.9 15zM58.1 18.1L58.8 22L53.6 22L54.4 18zM58.8 22.1L59.5 26L52.7 25.8L53.6 21.9zM59.5 26L60 29.1L52 28.9L52.7 25.8z" fill="#f2f2f2"/>
<path d="M55.3 15a1 1 0 1 1 2 0a1 1 0 1 1 -2 0zM55 18.1a1.3 1.3 0 1 1 2.6 0a1.3 1.3 0 1 1 -2.6 0zM54.5 22a1.7 1.7 0 1 1 3.4 0a1.7 1.7 0 1 1 -3.4 0zM54 25.9a2.1 2.1 0 1 1 4.3 0a2.1 2.1 0 1 1 -4.3 0zM53.5 29a2.5 2.5 0 1 1 5 0a2.5 2.5 0 1 1 -5 0zM57.3 15L57.5 18.1L55 18L55.3 15zM57.5 18.1L57.9 22L54.5 22L55 18zM57.9 22L58.2 26L54 25.9L54.5 22zM58.2 26L58.5 29.1L53.5 28.9L54 25.9z" fill="#8c8c8c"/>
<path d="M55.7 15a0.6 0.6 0 1 1 1.2 0a0.6 0.6 0 1 1 -1.2 0zM55.4 18.1a0.9 0.9 0 1 1 1.8 0a0.9 0.9 0 1 1 -1.8 0zM54.9 22a1.3 1.3 0 1 1 2.6 0a1.3 1.3 0 1 1 -2.6 0zM54.3 25.9a1.8 1.8 0 1 1 3.5 0a1.8 1.8 0 1 1 -3.5 0zM53.9 29a2.1 2.1 0 1 1 4.3 0a2.1 2.1 0 1 1 -4.3 0zM56.9 15L57.2 18.1L55.4 18.1L55.7 15zM57.2 18.1L57.5 22L54.9 22L55.4 18zM57.5 22L57.9 26L54.3 25.9L54.9 22zM57.9 26L58.1 29.1L53.9 28.9L54.3 25.9z" fill="#f2f2f2"/>
<path d="M50.4 28a5.6 5.6 0 1 1 11.2 0a5.6 5.6 0 1 1 -11.2 0zM49.3 30.4a6.6 6.6 0 1 1 13.2 0a6.6 6.6 0 1 1 -13.2 0zM48 34a7.8 7.8 0 1 1 15.6 0a7.8 7.8 0 1 1 -15.6 0zM47 38.7a8.6 8.6 0 1 1 17.3 0a8.6 8.6 0 1 1 -17.3 0zM46.3 43a9.2 9.2 0 1 1 18.4 0a9.2 9.2 0 1 1 -18.4 0zM46.2 44.8a9.3 9.3 0 1 1 18.6 0a9.3 9.3 0 1 1 -18.6 0zM46.3 45.4a9.2 9.2 0 1 1 18.4 0a9.2 9.2 0 1 1 -18.4 0zM61.6 28.2L62.5 30.7L49.3 30.2L50.4 27.8zM62.5 30.7L63.6 34.3L48 33.7L49.3 30.2zM63.6 34.3L64.3 39L47 38.4L48 33.7zM64.3 39L64.7 43.3L46.3 42.7L47 38.4zM64.7 43.1L64.8 44.9L46.2 44.7L46.3 42.9zM64.8 44.5L64.7 45.1L46.3 45.7L46.2 45z" fill="#777"/>
<path d="M50.8 28a5.2 5.2 0 1 1 10.5 0a5.2 5.2 0 1 1 -10.5 0zM49.7 30.4a6.3 6.3 0 1 1 12.5 0a6.3 6.3 0 1 1 -12.5 0zM48.4 34a7.4 7.4 0 1 1 14.9 0a7.4 7.4 0 1 1 -14.9 0zM47.4 38.7a8.3 8.3 0 1 1 16.6 0a8.3 8.3 0 1 1 -16.6 0zM46.7 43a8.8 8.8 0 1 1 17.7 0a8.8 8.8 0 1 1 -17.7 0zM46.6 44.8a8.9 8.9 0 1 1 17.9 0a8.9 8.9 0 1 1 -17.9 0zM46.7 45.4a8.8 8.8 0 1 1 17.7 0a8.8 8.8 0 1 1 -17.7 0zM61.2 28.2L62.2 30.6L49.7 30.2L50.8 27.8zM62.2 30.6L63.2 34.2L48.4 33.8L49.7 30.2zM63.2 34.3L63.9 39L47.4 38.4L48.4 33.7zM63.9 39L64.3 43.3L46.7 42.7L47.4 38.5zM64.3 43.1L64.4 44.9L46.6 44.7L46.7 42.9zM64.4 44.5L64.3 45.1L46.7 45.7L46.6 45z" fill="#e6e6e6"/>
<path d="M51.3 28a4.7 4.7 0 1 1 9.4 0a4.7 4.7 0 1 1 -9.4 0zM50.4 30.4a5.6 5.6 0 1 1 11.1 0a5.6 5.6 0 1 1 -11.1 0zM49.2 34a6.6 6.6 0 1 1 13.1 0a6.6 6.6 0 1 1 -13.1 0zM48.4 38.7a7.3 7.3 0 1 1 14.5 0a7.3 7.3 0 1 1 -14.5 0zM47.8 43a7.7 7.7 0 1 1 15.5 0a7.7 7.7 0 1 1 -15.5 0zM47.7 44.8a7.8 7.8 0 1 1 15.6 0a7.8 7.8 0 1 1 -15.6 0zM47.8 45.4a7.7 7.7 0 1 1 15.5 0a7.7 7.7 0 1 1 -15.5 0zM60.7 28.2L61.5 30.6L50.4 30.3L51.3 27.8zM61.5 30.6L62.3 34.2L49.3 33.8L50.4 30.3zM62.3 34.2L62.9 39L48.4 38.5L49.3 33.8zM62.9 39L63.2 43.2L47.8 42.8L48.4 38.5zM63.2 43.1L63.3 44.8L47.7 44.7L47.8 42.9zM63.3 44.5L63.2 45.2L47.8 45.6L47.7 45z" fill="#777"/>
<path d="M51.7 28a4.3 4.3 0 1 1 8.7 0a4.3 4.3 0 1 1 -8.7 0zM50.7 30.4a5.2 5.2 0 1 1 10.4 0a5.2 5.2 0 1 1 -10.4 0zM49.6 34a6.2 6.2 0 1 1 12.4 0a6.2 6.2 0 1 1 -12.4 0zM48.7 38.7a6.9 6.9 0 1 1 13.8 0a6.9 6.9 0 1 1 -13.8 0zM48.1 43a7.4 7.4 0 1 1 14.7 0a7.4 7.4 0 1 1 -14.7 0zM48 44.8a7.4 7.4 0 1 1 14.9 0a7.4 7.4 0 1 1 -14.9 0zM48.1 45.4a7.4 7.4 0 1 1 14.7 0a7.4 7.4 0 1 1 -14.7 0zM60.3 28.1L61.1 30.6L50.7 30.3L51.7 27.9zM61.1 30.6L62 34.2L49.6 33.8L50.7 30.3zM62 34.2L62.5 39L48.7 38.5L49.6 33.8zM62.5 38.9L62.9 43.2L48.1 42.8L48.7 38.5zM62.9 43.1L62.9 44.8L48 44.7L48.1 42.9zM62.9 44.5L62.9 45.2L48.1 45.6L48 45z" fill="#d2d2d2"/>
<path d="M52.2 28a3.8 3.8 0 1 1 7.6 0a3.8 3.8 0 1 1 -7.6 0zM51.4 30.4a4.5 4.5 0 1 1 9 0a4.5 4.5 0 1 1 -9 0zM50.5 34a5.3 5.3 0 1 1 10.6 0a5.3 5.3 0 1 1 -10.6 0zM49.8 38.7a5.9 5.9 0 1 1 11.7 0a5.9 5.9 0 1 1 -11.7 0zM49.2 43a6.3 6.3 0 1 1 12.5 0a6.3 6.3 0 1 1 -12.5 0zM49.2 44.8a6.3 6.3 0 1 1 12.6 0a6.3 6.3 0 1 1 -12.6 0zM49.2 45.4a6.3 6.3 0 1 1 12.5 0a6.3 6.3 0 1 1 -12.5 0zM59.8 28.1L60.4 30.6L51.4 30.3L52.2 27.9zM60.4 30.6L61.1 34.2L50.5 33.8L51.4 30.3zM61.1 34.2L61.5 38.9L49.8 38.5L50.5 33.8zM61.5 38.9L61.8 43.2L49.2 42.8L49.8 38.5zM61.8 43.1L61.8 44.8L49.2 44.7L49.2 42.9zM61.8 44.6L61.8 45.2L49.2 45.6L49.2 44.9z" fill="#777"/>
<path d="M52.6 28a3.4 3.4 0 1 1 6.9 0a3.4 3.4 0 1 1 -6.9 0zM51.8 30.4a4.1 4.1 0 1 1 8.3 0a4.1 4.1 0 1 1 -8.3 0zM50.9 34a4.9 4.9 0 1 1 9.9 0a4.9 4.9 0 1 1 -9.9 0zM50.1 38.7a5.5 5.5 0 1 1 11 0a5.5 5.5 0 1 1 -11 0zM49.6 43a5.9 5.9 0 1 1 11.8 0a5.9 5.9 0 1 1 -11.8 0zM49.5 44.8a6 6 0 1 1 11.9 0a6 6 0 1 1 -11.9 0zM49.6 45.4a5.9 5.9 0 1 1 11.8 0a5.9 5.9 0 1 1 -11.8 0zM59.4 28.1L60.1 30.6L51.8 30.3L52.6 27.9zM60.1 30.6L60.7 34.2L50.9 33.8L51.8 30.3zM60.7 34.2L61.1 38.9L50.1 38.5L50.9 33.8zM61.1 38.9L61.4 43.2L49.6 42.8L50.1 38.5zM61.4 43.1L61.4 44.8L49.5 44.7L49.6 42.9zM61.4 44.6L61.4 45.2L49.6 45.6L49.5 44.9z" fill="#bcbcbc"/>
<path d="M53.1 28a2.9 2.9 0 1 1 5.8 0a2.9 2.9 0 1 1 -5.8 0zM52.5 30.4a3.4 3.4 0 1 1 6.9 0a3.4 3.4 0 1 1 -6.9 0zM51.7 34a4.1 4.1 0 1 1 8.1 0a4.1 4.1 0 1 1 -8.1 0zM51.1 38.7a4.5 4.5 0 1 1 9 0a4.5 4.5 0 1 1 -9 0zM50.7 43a4.8 4.8 0 1 1 9.6 0a4.8 4.8 0 1 1 -9.6 0zM50.7 44.8a4.8 4.8 0 1 1 9.7 0a4.8 4.8 0 1 1 -9.7 0zM50.7 45.4a4.8 4.8 0 1 1 9.6 0a4.8 4.8 0 1 1 -9.6 0zM58.9 28.1L59.4 30.6L52.5 30.3L53.1 27.9zM59.4 30.6L59.9 34.1L51.7 33.9L52.5 30.3zM59.9 34.1L60.1 38.9L51.1 38.6L51.7 33.9zM60.1 38.9L60.3 43.2L50.7 42.8L51.1 38.6zM60.3 43.1L60.3 44.8L50.7 44.7L50.7 42.9zM60.3 44.6L60.3 45.3L50.7 45.5L50.7 44.9z" fill="#777"/>
<path d="M53.4 28a2.6 2.6 0 1 1 5.1 0a2.6 2.6 0 1 1 -5.1 0zM52.8 30.4a3.1 3.1 0 1 1 6.2 0a3.1 3.1 0 1 1 -6.2 0zM52.1 34a3.7 3.7 0 1 1 7.4 0a3.7 3.7 0 1 1 -7.4 0zM51.5 38.7a4.1 4.1 0 1 1 8.3 0a4.1 4.1 0 1 1 -8.3 0zM51.1 43a4.4 4.4 0 1 1 8.8 0a4.4 4.4 0 1 1 -8.8 0zM51 44.8a4.5 4.5 0 1 1 8.9 0a4.5 4.5 0 1 1 -8.9 0zM51.1 45.4a4.4 4.4 0 1 1 8.8 0a4.4 4.4 0 1 1 -8.8 0zM58.6 28.1L59 30.5L52.8 30.3L53.4 27.9zM59 30.5L59.5 34.1L52.1 33.9L52.8 30.3zM59.5 34.1L59.8 38.9L51.5 38.6L52.1 33.9zM59.8 38.9L59.9 43.1L51.1 42.9L51.5 38.6zM59.9 43L60 44.8L51 44.7L51.1 43zM59.9 44.6L59.9 45.3L51.1 45.5L51 44.9z" fill="#a6a6a6"/>
<path d="M54 28a2 2 0 1 1 4 0a2 2 0 1 1 -4 0zM53.5 30.4a2.4 2.4 0 1 1 4.8 0a2.4 2.4 0 1 1 -4.8 0zM53 34a2.8 2.8 0 1 1 5.6 0a2.8 2.8 0 1 1 -5.6 0zM52.5 38.7a3.1 3.1 0 1 1 6.2 0a3.1 3.1 0 1 1 -6.2 0zM52.2 43a3.3 3.3 0 1 1 6.6 0a3.3 3.3 0 1 1 -6.6 0zM52.1 44.8a3.3 3.3 0 1 1 6.7 0a3.3 3.3 0 1 1 -6.7 0zM52.2 45.4a3.3 3.3 0 1 1 6.6 0a3.3 3.3 0 1 1 -6.6 0zM58 28.1L58.3 30.5L53.5 30.4L54 27.9zM58.3 30.5L58.6 34.1L53 33.9L53.5 30.4zM58.6 34.1L58.7 38.8L52.5 38.6L53 33.9zM58.7 38.8L58.8 43.1L52.2 42.9L52.5 38.6zM58.8 43L58.8 44.8L52.1 44.7L52.2 43zM58.8 44.7L58.8 45.3L52.2 45.5L52.1 44.9z" fill="#777"/>
<path d="M54.3 28a1.7 1.7 0 1 1 3.3 0a1.7 1.7 0 1 1 -3.3 0zM53.9 30.4a2 2 0 1 1 4 0a2 2 0 1 1 -4 0zM53.4 34a2.4 2.4 0 1 1 4.9 0a2.4 2.4 0 1 1 -4.9 0zM52.9 38.7a2.7 2.7 0 1 1 5.5 0a2.7 2.7 0 1 1 -5.5 0zM52.5 43a3 3 0 1 1 5.9 0a3 3 0 1 1 -5.9 0zM52.5 44.8a3 3 0 1 1 6 0a3 3 0 1 1 -6 0zM52.5 45.4a3 3 0 1 1 5.9 0a3 3 0 1 1 -5.9 0zM57.7 28.1L57.9 30.5L53.9 30.4L54.3 27.9zM57.9 30.5L58.2 34.1L53.4 33.9L53.9 30.4zM58.2 34.1L58.4 38.8L52.9 38.6L53.4 33.9zM58.4 38.8L58.5 43.1L52.5 42.9L52.9 38.6zM58.5 43L58.5 44.8L52.5 44.7L52.5 43zM58.5 44.7L58.5 45.3L52.5 45.5L52.5 44.9z" fill="#959595"/>
<path d="M55.2 28a0.8 0.8 0 1 1 1.6 0a0.8 0.8 0 1 1 -1.6 0zM55 30.4a0.9 0.9 0 1 1 1.9 0a0.9 0.9 0 1 1 -1.9 0zM54.7 34a1.1 1.1 0 1 1 2.2 0a1.1 1.1 0 1 1 -2.2 0zM54.4 38.7a1.2 1.2 0 1 1 2.4 0a1.2 1.2 0 1 1 -2.4 0zM54.2 43a1.3 1.3 0 1 1 2.6 0a1.3 1.3 0 1 1 -2.6 0zM54.2 44.8a1.3 1.3 0 1 1 2.6 0a1.3 1.3 0 1 1 -2.6 0zM54.2 45.4a1.3 1.3 0 1 1 2.6 0a1.3 1.3 0 1 1 -2.6 0zM56.8 28L56.8 30.5L55 30.4L55.2 28zM56.8 30.5L56.9 34L54.7 34L55 30.4zM56.9 34L56.8 38.8L54.4 38.7L54.7 34zM56.8 38.8L56.8 43L54.2 43L54.4 38.7zM56.8 43L56.8 44.8L54.2 44.7L54.2 43zM56.8 44.7L56.8 45.4L54.2 45.4L54.2 44.8z" fill="#777"/>
<path d="M55.6 28a0.4 0.4 0 1 1 0.8 0a0.4 0.4 0 1 1 -0.8 0zM55.4 30.4a0.6 0.6 0 1 1 1.1 0a0.6 0.6 0 1 1 -1.1 0zM55.1 34a0.7 0.7 0 1 1 1.5 0a0.7 0.7 0 1 1 -1.5 0zM54.8 38.7a0.8 0.8 0 1 1 1.7 0a0.8 0.8 0 1 1 -1.7 0zM54.6 43a0.9 0.9 0 1 1 1.9 0a0.9 0.9 0 1 1 -1.9 0zM54.5 44.8a0.9 0.9 0 1 1 1.9 0a0.9 0.9 0 1 1 -1.9 0zM54.6 45.4a0.9 0.9 0 1 1 1.9 0a0.9 0.9 0 1 1 -1.9 0zM56.4 28L56.5 30.5L55.4 30.4L55.6 28zM56.5 30.5L56.5 34L55.1 34L55.4 30.4zM56.5 34L56.5 38.8L54.8 38.7L55.1 34zM56.5 38.8L56.4 43L54.6 43L54.8 38.7zM56.4 43L56.4 44.8L54.5 44.8L54.6 43zM56.4 44.7L56.4 45.4L54.6 45.4L54.5 44.8z" fill="#f0f0f0"/>
<rect x="0" y="0" width="69.3" height="67.1" fill="none" stroke="#0a0a0a" stroke-width="1.35"/>
<line x1="0" y1="22.5" x2="69.3" y2="22.5" stroke="#0a0a0a" stroke-width="1.35"/>
<line x1="38.75" y1="0" x2="38.75" y2="67.1" stroke="#0a0a0a" stroke-width="1.35"/>
<line x1="38.75" y1="36.6" x2="69.3" y2="36.6" stroke="#0a0a0a" stroke-width="1.35"/>
<path d="M-3.1 6H0M-3.1 21.9H0M-3.1 40.7H0M-3.1 63.6H0M2.7 67.1V70.1M28.5 67.1V70.1M47.7 67.1V70.1M63.1 67.1V70.1" stroke="#000" stroke-width="1" fill="none"/>
<path d="M-1.7 3H0M-1.7 4.3H0M-1.7 8H0M-1.7 10.5H0M-1.7 13H0M-1.7 15H0M-1.7 17H0M-1.7 18.6H0M-1.7 20.2H0M-1.7 25H0M-1.7 28H0M-1.7 31H0M-1.7 33.5H0M-1.7 36H0M-1.7 37.8H0M-1.7 39.3H0M-1.7 43.5H0M-1.7 45.5H0M-1.7 47.2H0M-1.7 48.6H0M-1.7 49.8H0M-1.7 55H0M-1.7 56.4H0M-1.7 58H0M-1.7 59.8H0M-1.7 61.6H0M-1.7 65.5H0M0.8 67.1V68.7M4.8 67.1V68.7M6.6 67.1V68.7M8.2 67.1V68.7M9.6 67.1V68.7M10.8 67.1V68.7M11.9 67.1V68.7M12.9 67.1V68.7M18 67.1V68.7M19 67.1V68.7M20.2 67.1V68.7M21.5 67.1V68.7M23 67.1V68.7M24.8 67.1V68.7M26.6 67.1V68.7M31.5 67.1V68.7M34.5 67.1V68.7M37 67.1V68.7M39.5 67.1V68.7M41.5 67.1V68.7M43.3 67.1V68.7M44.8 67.1V68.7M46.3 67.1V68.7M52.5 67.1V68.7M55.5 67.1V68.7M57.8 67.1V68.7M59.5 67.1V68.7M60.8 67.1V68.7M62 67.1V68.7M65.5 67.1V68.7M67.5 67.1V68.7" stroke="#000" stroke-width="0.65" fill="none"/>
<rect x="-1.9" y="50.7" width="1.9" height="3.3" fill="#000"/>
<rect x="13.2" y="67.1" width="4.4" height="2" fill="#000"/>
<text x="-6" y="11.3" font-size="6.8" text-anchor="end" textLength="9.4" lengthAdjust="spacingAndGlyphs">10<tspan font-size="4.62" dy="-2.86">5</tspan></text>
<text x="-6" y="24.2" font-size="6.8" text-anchor="end" textLength="9.4" lengthAdjust="spacingAndGlyphs">10<tspan font-size="4.62" dy="-2.86">4</tspan></text>
<text x="-6" y="42.6" font-size="6.8" text-anchor="end" textLength="9.4" lengthAdjust="spacingAndGlyphs">10<tspan font-size="4.62" dy="-2.86">3</tspan></text>
<text x="-8.6" y="55.3" font-size="6.8" text-anchor="middle" textLength="3.5" lengthAdjust="spacingAndGlyphs">0</text>
<text x="-6" y="66.7" font-size="6.8" text-anchor="end" textLength="11.5" lengthAdjust="spacingAndGlyphs">-10<tspan font-size="4.62" dy="-2.86">3</tspan></text>
<text x="9" y="78.7" font-size="6.8" text-anchor="end" textLength="11.6" lengthAdjust="spacingAndGlyphs">-10<tspan font-size="4.62" dy="-2.86">3</tspan></text>
<text x="15.9" y="78.7" font-size="6.8" text-anchor="middle" textLength="3.5" lengthAdjust="spacingAndGlyphs">0</text>
<text x="32.9" y="78.7" font-size="6.8" text-anchor="end" textLength="9.4" lengthAdjust="spacingAndGlyphs">10<tspan font-size="4.62" dy="-2.86">3</tspan></text>
<text x="52.1" y="78.7" font-size="6.8" text-anchor="end" textLength="9.4" lengthAdjust="spacingAndGlyphs">10<tspan font-size="4.62" dy="-2.86">4</tspan></text>
<text x="67.9" y="78.7" font-size="6.8" text-anchor="end" textLength="9.4" lengthAdjust="spacingAndGlyphs">10<tspan font-size="4.62" dy="-2.86">5</tspan></text>
<text x="4" y="6.5" font-size="4.4" fill="#0d0d0d">P1</text>
<text x="2.4" y="11.8" font-size="4.4" fill="#0d0d0d">0,055</text>
<text x="68" y="6.9" font-size="4.4" text-anchor="end" fill="#0d0d0d">P2</text>
<text x="68" y="12.2" font-size="4.4" text-anchor="end" fill="#0d0d0d">7,48</text>
<text x="68" y="28.6" font-size="4.4" text-anchor="end" fill="#0d0d0d">P3</text>
<text x="68" y="33.9" font-size="4.4" text-anchor="end" fill="#0d0d0d">35,2</text>
<text x="68" y="59.2" font-size="4.4" text-anchor="end" fill="#0d0d0d">P4</text>
<text x="68" y="64.5" font-size="4.4" text-anchor="end" fill="#0d0d0d">57,2</text>
</g>
<g transform="translate(249.9 462.6)">
<ellipse cx="34.2" cy="45.4" rx="11.5" ry="10" fill="#808080" transform="rotate(-12 34.2 45.4)"/>
<path d="M35.5 44a6.5 6.5 0 1 1 13 0a6.5 6.5 0 1 1 -13 0zM39.5 43.5a6.5 6.5 0 1 1 13 0a6.5 6.5 0 1 1 -13 0zM43.5 43a6.5 6.5 0 1 1 13 0a6.5 6.5 0 1 1 -13 0zM41.2 37.6L45.2 37.1L46.8 49.9L42.8 50.4zM45.2 37.1L49.2 36.6L50.8 49.4L46.8 49.9z" fill="#808080"/>
<ellipse cx="34.2" cy="45.4" rx="11.14" ry="9.64" fill="#eee" transform="rotate(-12 34.2 45.4)"/>
<path d="M35.9 44a6.1 6.1 0 1 1 12.3 0a6.1 6.1 0 1 1 -12.3 0zM39.9 43.5a6.1 6.1 0 1 1 12.3 0a6.1 6.1 0 1 1 -12.3 0zM43.9 43a6.1 6.1 0 1 1 12.3 0a6.1 6.1 0 1 1 -12.3 0zM41.2 37.9L45.2 37.4L46.8 49.6L42.8 50.1zM45.2 37.4L49.2 36.9L50.8 49.1L46.8 49.6z" fill="#eee"/>
<ellipse cx="34.2" cy="45.4" rx="9.2" ry="8" fill="#808080" transform="rotate(-12 34.2 45.4)"/>
<path d="M36.8 44a5.2 5.2 0 1 1 10.4 0a5.2 5.2 0 1 1 -10.4 0zM40.8 43.5a5.2 5.2 0 1 1 10.4 0a5.2 5.2 0 1 1 -10.4 0zM44.8 43a5.2 5.2 0 1 1 10.4 0a5.2 5.2 0 1 1 -10.4 0zM41.4 38.8L45.4 38.3L46.6 48.7L42.6 49.2zM45.4 38.3L49.4 37.8L50.6 48.2L46.6 48.7z" fill="#808080"/>
<ellipse cx="34.2" cy="45.4" rx="8.84" ry="7.64" fill="#e2e2e2" transform="rotate(-12 34.2 45.4)"/>
<path d="M37.2 44a4.8 4.8 0 1 1 9.7 0a4.8 4.8 0 1 1 -9.7 0zM41.2 43.5a4.8 4.8 0 1 1 9.7 0a4.8 4.8 0 1 1 -9.7 0zM45.2 43a4.8 4.8 0 1 1 9.7 0a4.8 4.8 0 1 1 -9.7 0zM41.4 39.2L45.4 38.7L46.6 48.3L42.6 48.8zM45.4 38.7L49.4 38.2L50.6 47.8L46.6 48.3z" fill="#e2e2e2"/>
<ellipse cx="34.2" cy="45.4" rx="6.9" ry="6" fill="#808080" transform="rotate(-12 34.2 45.4)"/>
<path d="M38.1 44a3.9 3.9 0 1 1 7.8 0a3.9 3.9 0 1 1 -7.8 0zM42.1 43.5a3.9 3.9 0 1 1 7.8 0a3.9 3.9 0 1 1 -7.8 0zM46.1 43a3.9 3.9 0 1 1 7.8 0a3.9 3.9 0 1 1 -7.8 0zM41.5 40.1L45.5 39.6L46.5 47.4L42.5 47.9zM45.5 39.6L49.5 39.1L50.5 46.9L46.5 47.4z" fill="#808080"/>
<ellipse cx="34.2" cy="45.4" rx="6.54" ry="5.64" fill="#d4d4d4" transform="rotate(-12 34.2 45.4)"/>
<path d="M38.5 44a3.5 3.5 0 1 1 7.1 0a3.5 3.5 0 1 1 -7.1 0zM42.5 43.5a3.5 3.5 0 1 1 7.1 0a3.5 3.5 0 1 1 -7.1 0zM46.5 43a3.5 3.5 0 1 1 7.1 0a3.5 3.5 0 1 1 -7.1 0zM41.6 40.5L45.6 40L46.4 47L42.4 47.5zM45.6 40L49.6 39.5L50.4 46.5L46.4 47z" fill="#d4d4d4"/>
<ellipse cx="34.2" cy="45.4" rx="4.83" ry="4.2" fill="#808080" transform="rotate(-12 34.2 45.4)"/>
<path d="M39.3 44a2.7 2.7 0 1 1 5.5 0a2.7 2.7 0 1 1 -5.5 0zM43.3 43.5a2.7 2.7 0 1 1 5.5 0a2.7 2.7 0 1 1 -5.5 0zM47.3 43a2.7 2.7 0 1 1 5.5 0a2.7 2.7 0 1 1 -5.5 0zM41.7 41.3L45.7 40.8L46.3 46.2L42.3 46.7zM45.7 40.8L49.7 40.3L50.3 45.7L46.3 46.2z" fill="#808080"/>
<ellipse cx="34.2" cy="45.4" rx="4.47" ry="3.84" fill="#c6c6c6" transform="rotate(-12 34.2 45.4)"/>
<path d="M39.6 44a2.4 2.4 0 1 1 4.7 0a2.4 2.4 0 1 1 -4.7 0zM43.6 43.5a2.4 2.4 0 1 1 4.7 0a2.4 2.4 0 1 1 -4.7 0zM47.6 43a2.4 2.4 0 1 1 4.7 0a2.4 2.4 0 1 1 -4.7 0zM41.7 41.6L45.7 41.1L46.3 45.9L42.3 46.4zM45.7 41.1L49.7 40.6L50.3 45.4L46.3 45.9z" fill="#c6c6c6"/>
<ellipse cx="34.2" cy="45.4" rx="2.53" ry="2.2" fill="#808080" transform="rotate(-12 34.2 45.4)"/>
<path d="M40.6 44a1.4 1.4 0 1 1 2.9 0a1.4 1.4 0 1 1 -2.9 0zM44.6 43.5a1.4 1.4 0 1 1 2.9 0a1.4 1.4 0 1 1 -2.9 0zM48.6 43a1.4 1.4 0 1 1 2.9 0a1.4 1.4 0 1 1 -2.9 0zM41.8 42.6L45.8 42.1L46.2 44.9L42.2 45.4zM45.8 42.1L49.8 41.6L50.2 44.4L46.2 44.9z" fill="#808080"/>
<ellipse cx="34.2" cy="45.4" rx="2.17" ry="1.84" fill="#ddd" transform="rotate(-12 34.2 45.4)"/>
<path d="M40.9 44a1.1 1.1 0 1 1 2.1 0a1.1 1.1 0 1 1 -2.1 0zM44.9 43.5a1.1 1.1 0 1 1 2.1 0a1.1 1.1 0 1 1 -2.1 0zM48.9 43a1.1 1.1 0 1 1 2.1 0a1.1 1.1 0 1 1 -2.1 0zM41.9 42.9L45.9 42.4L46.1 44.6L42.1 45.1zM45.9 42.4L49.9 41.9L50.1 44.1L46.1 44.6z" fill="#ddd"/>
<path d="M55 22a2 2 0 1 1 4 0a2 2 0 1 1 -4 0zM53.1 25.5a3.9 3.9 0 1 1 7.7 0a3.9 3.9 0 1 1 -7.7 0zM50.8 30a6 6 0 1 1 12 0a6 6 0 1 1 -12 0zM49.2 34a7.4 7.4 0 1 1 14.8 0a7.4 7.4 0 1 1 -14.8 0zM48.1 38a8.3 8.3 0 1 1 16.6 0a8.3 8.3 0 1 1 -16.6 0zM47.9 42.5a8.4 8.4 0 1 1 16.9 0a8.4 8.4 0 1 1 -16.9 0zM48 46a8.3 8.3 0 1 1 16.6 0a8.3 8.3 0 1 1 -16.6 0zM59 22L60.8 25.6L53.1 25.4L55 22zM60.8 25.6L62.8 30.2L50.8 29.8L53.1 25.4zM62.8 30.3L64 34.4L49.2 33.6L50.8 29.7zM64 34.4L64.7 38.4L48.1 37.6L49.2 33.6zM64.7 38.1L64.8 42.6L47.9 42.4L48.1 37.9zM64.8 42.6L64.6 46.1L48 45.9L47.9 42.4z" fill="#808080"/>
<path d="M55.4 22a1.6 1.6 0 1 1 3.3 0a1.6 1.6 0 1 1 -3.3 0zM53.4 25.5a3.5 3.5 0 1 1 7 0a3.5 3.5 0 1 1 -7 0zM51.2 30a5.6 5.6 0 1 1 11.3 0a5.6 5.6 0 1 1 -11.3 0zM49.6 34a7 7 0 1 1 14.1 0a7 7 0 1 1 -14.1 0zM48.5 38a7.9 7.9 0 1 1 15.9 0a7.9 7.9 0 1 1 -15.9 0zM48.2 42.5a8.1 8.1 0 1 1 16.2 0a8.1 8.1 0 1 1 -16.2 0zM48.4 46a7.9 7.9 0 1 1 15.9 0a7.9 7.9 0 1 1 -15.9 0zM58.6 22L60.4 25.6L53.4 25.4L55.4 22zM60.4 25.6L62.4 30.2L51.2 29.8L53.4 25.4zM62.4 30.3L63.6 34.4L49.6 33.6L51.2 29.7zM63.6 34.3L64.3 38.4L48.5 37.6L49.6 33.7zM64.3 38.1L64.4 42.6L48.2 42.4L48.5 37.9zM64.4 42.6L64.2 46.1L48.4 45.9L48.2 42.4z" fill="#e6e6e6"/>
<path d="M55.4 22a1.6 1.6 0 1 1 3.3 0a1.6 1.6 0 1 1 -3.3 0zM53.8 25.5a3.2 3.2 0 1 1 6.3 0a3.2 3.2 0 1 1 -6.3 0zM51.9 30a4.9 4.9 0 1 1 9.8 0a4.9 4.9 0 1 1 -9.8 0zM50.5 34a6.1 6.1 0 1 1 12.1 0a6.1 6.1 0 1 1 -12.1 0zM49.6 38a6.8 6.8 0 1 1 13.6 0a6.8 6.8 0 1 1 -13.6 0zM49.4 42.5a6.9 6.9 0 1 1 13.8 0a6.9 6.9 0 1 1 -13.8 0zM49.5 46a6.8 6.8 0 1 1 13.6 0a6.8 6.8 0 1 1 -13.6 0zM58.6 22L60.1 25.6L53.8 25.4L55.4 22zM60.1 25.6L61.7 30.1L51.9 29.9L53.8 25.4zM61.7 30.3L62.7 34.3L50.5 33.7L51.9 29.7zM62.7 34.3L63.2 38.3L49.6 37.7L50.5 33.7zM63.2 38.1L63.2 42.6L49.4 42.4L49.6 37.9zM63.2 42.5L63.1 46L49.5 46L49.4 42.5z" fill="#808080"/>
<path d="M55.7 22a1.3 1.3 0 1 1 2.6 0a1.3 1.3 0 1 1 -2.6 0zM54.1 25.5a2.8 2.8 0 1 1 5.6 0a2.8 2.8 0 1 1 -5.6 0zM52.2 30a4.6 4.6 0 1 1 9.1 0a4.6 4.6 0 1 1 -9.1 0zM50.9 34a5.7 5.7 0 1 1 11.4 0a5.7 5.7 0 1 1 -11.4 0zM50 38a6.4 6.4 0 1 1 12.9 0a6.4 6.4 0 1 1 -12.9 0zM49.8 42.5a6.6 6.6 0 1 1 13.1 0a6.6 6.6 0 1 1 -13.1 0zM49.9 46a6.4 6.4 0 1 1 12.9 0a6.4 6.4 0 1 1 -12.9 0zM58.3 22L59.7 25.6L54.1 25.4L55.7 22zM59.7 25.6L61.4 30.1L52.2 29.9L54.1 25.4zM61.4 30.2L62.3 34.3L50.9 33.7L52.2 29.8zM62.3 34.3L62.8 38.3L50 37.7L50.9 33.7zM62.8 38.1L62.9 42.6L49.8 42.4L50 37.9zM62.9 42.5L62.7 46L49.9 46L49.8 42.5z" fill="#d3d3d3"/>
<path d="M53.6 31a3.2 3.2 0 1 1 6.4 0a3.2 3.2 0 1 1 -6.4 0zM52.6 34.5a4.1 4.1 0 1 1 8.2 0a4.1 4.1 0 1 1 -8.2 0zM51.5 39a5 5 0 1 1 10 0a5 5 0 1 1 -10 0zM51.3 43.2a5.1 5.1 0 1 1 10.2 0a5.1 5.1 0 1 1 -10.2 0zM51.3 46.5a5 5 0 1 1 10 0a5 5 0 1 1 -10 0zM60 31.1L60.8 34.7L52.6 34.4L53.6 30.9zM60.8 34.7L61.5 39.2L51.5 38.8L52.6 34.4zM61.5 39.1L61.5 43.4L51.3 43.1L51.5 38.9zM61.5 43.4L61.3 46.6L51.3 46.4L51.3 43.1z" fill="#6a6a6a"/>
<path d="M54 31a2.8 2.8 0 1 1 5.7 0a2.8 2.8 0 1 1 -5.7 0zM52.9 34.5a3.7 3.7 0 1 1 7.5 0a3.7 3.7 0 1 1 -7.5 0zM51.9 39a4.6 4.6 0 1 1 9.3 0a4.6 4.6 0 1 1 -9.3 0zM51.6 43.2a4.8 4.8 0 1 1 9.5 0a4.8 4.8 0 1 1 -9.5 0zM51.7 46.5a4.6 4.6 0 1 1 9.3 0a4.6 4.6 0 1 1 -9.3 0zM59.6 31.1L60.4 34.7L52.9 34.4L54 30.9zM60.4 34.7L61.1 39.2L51.9 38.8L52.9 34.4zM61.1 39.1L61.1 43.4L51.6 43.1L51.9 38.9zM61.1 43.4L60.9 46.6L51.7 46.4L51.6 43.1z" fill="#a9a9a9"/>
<path d="M54.6 31a2.2 2.2 0 1 1 4.5 0a2.2 2.2 0 1 1 -4.5 0zM53.8 34.5a2.9 2.9 0 1 1 5.7 0a2.9 2.9 0 1 1 -5.7 0zM53 39a3.5 3.5 0 1 1 7 0a3.5 3.5 0 1 1 -7 0zM52.8 43.2a3.6 3.6 0 1 1 7.2 0a3.6 3.6 0 1 1 -7.2 0zM52.8 46.5a3.5 3.5 0 1 1 7 0a3.5 3.5 0 1 1 -7 0zM59 31.1L59.5 34.6L53.8 34.4L54.6 30.9zM59.5 34.6L60 39.1L53 38.9L53.8 34.4zM60 39.1L60 43.3L52.8 43.2L53 38.9zM60 43.3L59.8 46.6L52.8 46.4L52.8 43.2z" fill="#6a6a6a"/>
<path d="M54.9 31a1.9 1.9 0 1 1 3.8 0a1.9 1.9 0 1 1 -3.8 0zM54.2 34.5a2.5 2.5 0 1 1 5 0a2.5 2.5 0 1 1 -5 0zM53.4 39a3.1 3.1 0 1 1 6.3 0a3.1 3.1 0 1 1 -6.3 0zM53.2 43.2a3.2 3.2 0 1 1 6.4 0a3.2 3.2 0 1 1 -6.4 0zM53.2 46.5a3.1 3.1 0 1 1 6.3 0a3.1 3.1 0 1 1 -6.3 0zM58.7 31.1L59.2 34.6L54.2 34.4L54.9 30.9zM59.2 34.6L59.6 39.1L53.4 38.9L54.2 34.4zM59.6 39.1L59.6 43.3L53.2 43.2L53.4 38.9zM59.6 43.3L59.4 46.6L53.2 46.4L53.2 43.2z" fill="#8f8f8f"/>
<path d="M55.5 31a1.3 1.3 0 1 1 2.7 0a1.3 1.3 0 1 1 -2.7 0zM54.9 34.5a1.7 1.7 0 1 1 3.4 0a1.7 1.7 0 1 1 -3.4 0zM54.4 39a2.1 2.1 0 1 1 4.2 0a2.1 2.1 0 1 1 -4.2 0zM54.2 43.2a2.1 2.1 0 1 1 4.3 0a2.1 2.1 0 1 1 -4.3 0zM54.2 46.5a2.1 2.1 0 1 1 4.2 0a2.1 2.1 0 1 1 -4.2 0zM58.1 31.1L58.4 34.6L54.9 34.5L55.5 30.9zM58.4 34.6L58.6 39.1L54.4 38.9L54.9 34.5zM58.6 39.1L58.5 43.3L54.2 43.2L54.4 38.9zM58.5 43.3L58.4 46.6L54.2 46.4L54.2 43.2z" fill="#6a6a6a"/>
<path d="M55.8 31a1 1 0 1 1 2 0a1 1 0 1 1 -2 0zM55.3 34.5a1.4 1.4 0 1 1 2.7 0a1.4 1.4 0 1 1 -2.7 0zM54.8 39a1.7 1.7 0 1 1 3.5 0a1.7 1.7 0 1 1 -3.5 0zM54.6 43.2a1.8 1.8 0 1 1 3.6 0a1.8 1.8 0 1 1 -3.6 0zM54.6 46.5a1.7 1.7 0 1 1 3.5 0a1.7 1.7 0 1 1 -3.5 0zM57.8 31L58 34.6L55.3 34.5L55.8 31zM58 34.6L58.2 39.1L54.8 38.9L55.3 34.5zM58.2 39L58.2 43.3L54.6 43.2L54.8 39zM58.2 43.3L58 46.5L54.6 46.5L54.6 43.2z" fill="#7c7c7c"/>
<path d="M56.3 31a0.5 0.5 0 1 1 1 0a0.5 0.5 0 1 1 -1 0zM56 34.5a0.7 0.7 0 1 1 1.3 0a0.7 0.7 0 1 1 -1.3 0zM55.7 39a0.8 0.8 0 1 1 1.6 0a0.8 0.8 0 1 1 -1.6 0zM55.6 43.2a0.8 0.8 0 1 1 1.6 0a0.8 0.8 0 1 1 -1.6 0zM55.5 46.5a0.8 0.8 0 1 1 1.6 0a0.8 0.8 0 1 1 -1.6 0zM57.3 31L57.3 34.6L56 34.5L56.3 31zM57.3 34.6L57.3 39L55.7 39L56 34.5zM57.3 39L57.2 43.3L55.6 43.2L55.7 39zM57.2 43.3L57.1 46.5L55.5 46.5L55.6 43.2z" fill="#6a6a6a"/>
<path d="M56.6 31a0.2 0.2 0 1 1 0.3 0a0.2 0.2 0 1 1 -0.3 0zM56.4 34.5a0.3 0.3 0 1 1 0.6 0a0.3 0.3 0 1 1 -0.6 0zM56.1 39a0.4 0.4 0 1 1 0.9 0a0.4 0.4 0 1 1 -0.9 0zM55.9 43.2a0.5 0.5 0 1 1 0.9 0a0.5 0.5 0 1 1 -0.9 0zM55.9 46.5a0.4 0.4 0 1 1 0.9 0a0.4 0.4 0 1 1 -0.9 0zM57 31L57 34.5L56.4 34.5L56.6 31zM57 34.5L56.9 39L56.1 39L56.4 34.5zM56.9 39L56.8 43.3L55.9 43.2L56.1 39zM56.8 43.3L56.7 46.5L55.9 46.5L55.9 43.2z" fill="#e0e0e0"/>
<rect x="0" y="0" width="69.3" height="67.1" fill="none" stroke="#0a0a0a" stroke-width="1.35"/>
<line x1="0" y1="22.5" x2="69.3" y2="22.5" stroke="#0a0a0a" stroke-width="1.35"/>
<line x1="38.75" y1="0" x2="38.75" y2="67.1" stroke="#0a0a0a" stroke-width="1.35"/>
<line x1="38.75" y1="36.6" x2="69.3" y2="36.6" stroke="#0a0a0a" stroke-width="1.35"/>
<path d="M-3.1 6H0M-3.1 21.9H0M-3.1 40.7H0M-3.1 63.6H0M2.7 67.1V70.1M28.5 67.1V70.1M47.7 67.1V70.1M63.1 67.1V70.1" stroke="#000" stroke-width="1" fill="none"/>
<path d="M-1.7 3H0M-1.7 4.3H0M-1.7 8H0M-1.7 10.5H0M-1.7 13H0M-1.7 15H0M-1.7 17H0M-1.7 18.6H0M-1.7 20.2H0M-1.7 25H0M-1.7 28H0M-1.7 31H0M-1.7 33.5H0M-1.7 36H0M-1.7 37.8H0M-1.7 39.3H0M-1.7 43.5H0M-1.7 45.5H0M-1.7 47.2H0M-1.7 48.6H0M-1.7 49.8H0M-1.7 55H0M-1.7 56.4H0M-1.7 58H0M-1.7 59.8H0M-1.7 61.6H0M-1.7 65.5H0M0.8 67.1V68.7M4.8 67.1V68.7M6.6 67.1V68.7M8.2 67.1V68.7M9.6 67.1V68.7M10.8 67.1V68.7M11.9 67.1V68.7M12.9 67.1V68.7M18 67.1V68.7M19 67.1V68.7M20.2 67.1V68.7M21.5 67.1V68.7M23 67.1V68.7M24.8 67.1V68.7M26.6 67.1V68.7M31.5 67.1V68.7M34.5 67.1V68.7M37 67.1V68.7M39.5 67.1V68.7M41.5 67.1V68.7M43.3 67.1V68.7M44.8 67.1V68.7M46.3 67.1V68.7M52.5 67.1V68.7M55.5 67.1V68.7M57.8 67.1V68.7M59.5 67.1V68.7M60.8 67.1V68.7M62 67.1V68.7M65.5 67.1V68.7M67.5 67.1V68.7" stroke="#000" stroke-width="0.65" fill="none"/>
<rect x="-1.9" y="50.7" width="1.9" height="3.3" fill="#000"/>
<rect x="13.2" y="67.1" width="4.4" height="2" fill="#000"/>
<text x="-6" y="11.3" font-size="6.8" text-anchor="end" textLength="9.4" lengthAdjust="spacingAndGlyphs">10<tspan font-size="4.62" dy="-2.86">5</tspan></text>
<text x="-6" y="24.2" font-size="6.8" text-anchor="end" textLength="9.4" lengthAdjust="spacingAndGlyphs">10<tspan font-size="4.62" dy="-2.86">4</tspan></text>
<text x="-6" y="42.6" font-size="6.8" text-anchor="end" textLength="9.4" lengthAdjust="spacingAndGlyphs">10<tspan font-size="4.62" dy="-2.86">3</tspan></text>
<text x="-8.6" y="55.3" font-size="6.8" text-anchor="middle" textLength="3.5" lengthAdjust="spacingAndGlyphs">0</text>
<text x="-6" y="66.7" font-size="6.8" text-anchor="end" textLength="11.5" lengthAdjust="spacingAndGlyphs">-10<tspan font-size="4.62" dy="-2.86">3</tspan></text>
<text x="9" y="78.7" font-size="6.8" text-anchor="end" textLength="11.6" lengthAdjust="spacingAndGlyphs">-10<tspan font-size="4.62" dy="-2.86">3</tspan></text>
<text x="15.9" y="78.7" font-size="6.8" text-anchor="middle" textLength="3.5" lengthAdjust="spacingAndGlyphs">0</text>
<text x="32.9" y="78.7" font-size="6.8" text-anchor="end" textLength="9.4" lengthAdjust="spacingAndGlyphs">10<tspan font-size="4.62" dy="-2.86">3</tspan></text>
<text x="52.1" y="78.7" font-size="6.8" text-anchor="end" textLength="9.4" lengthAdjust="spacingAndGlyphs">10<tspan font-size="4.62" dy="-2.86">4</tspan></text>
<text x="67.9" y="78.7" font-size="6.8" text-anchor="end" textLength="9.4" lengthAdjust="spacingAndGlyphs">10<tspan font-size="4.62" dy="-2.86">5</tspan></text>
<text x="4" y="6.5" font-size="4.4" fill="#0d0d0d">P1</text>
<text x="2.4" y="11.8" font-size="4.4" fill="#0d0d0d">0,53</text>
<text x="68" y="6.9" font-size="4.4" text-anchor="end" fill="#0d0d0d">P2</text>
<text x="68" y="12.2" font-size="4.4" text-anchor="end" fill="#0d0d0d">3,42</text>
<text x="68" y="28.6" font-size="4.4" text-anchor="end" fill="#0d0d0d">P3</text>
<text x="68" y="33.9" font-size="4.4" text-anchor="end" fill="#0d0d0d">22,6</text>
<text x="68" y="59.2" font-size="4.4" text-anchor="end" fill="#0d0d0d">P4</text>
<text x="68" y="64.5" font-size="4.4" text-anchor="end" fill="#0d0d0d">55,5</text>
</g>
<text x="90.4" y="182.1" font-size="9.7" text-anchor="middle" textLength="23.4" lengthAdjust="spacingAndGlyphs">Day 1</text>
<text x="188" y="181.9" font-size="9.7" text-anchor="middle" textLength="21.4" lengthAdjust="spacingAndGlyphs">Day2</text>
<text x="285" y="182.4" font-size="9.7" text-anchor="middle" textLength="21.4" lengthAdjust="spacingAndGlyphs">Day5</text>
<text x="381.4" y="181.9" font-size="9.7" text-anchor="middle" textLength="21.4" lengthAdjust="spacingAndGlyphs">Day6</text>
<text x="478.1" y="183" font-size="9.7" text-anchor="middle" textLength="21.4" lengthAdjust="spacingAndGlyphs">Day7</text>
<text x="90.4" y="369.9" font-size="9.7" text-anchor="middle" textLength="21.6" lengthAdjust="spacingAndGlyphs">Day8</text>
<text x="187.5" y="369.9" font-size="9.7" text-anchor="middle" textLength="21.4" lengthAdjust="spacingAndGlyphs">Day9</text>
<text x="284.5" y="369.9" font-size="9.7" text-anchor="middle" textLength="26.5" lengthAdjust="spacingAndGlyphs">Day12</text>
<rect x="52.75" y="656.47" width="10.5" height="22.73" fill="#a6122e"/>
<rect x="52.75" y="609.16" width="10.5" height="47.32" fill="#2a4a7f"/>
<rect x="52.75" y="600.76" width="10.5" height="8.4" fill="#6aaa3e"/>
<rect x="52.75" y="594.4" width="10.5" height="6.36" fill="#4c2467"/>
<line x1="58" y1="656.47" x2="58" y2="644.6" stroke="#000" stroke-width="0.9"/>
<line x1="55.5" y1="644.6" x2="60.5" y2="644.6" stroke="#000" stroke-width="0.9"/>
<line x1="58" y1="609.16" x2="58" y2="596.52" stroke="#000" stroke-width="0.9"/>
<line x1="55.5" y1="596.52" x2="60.5" y2="596.52" stroke="#000" stroke-width="0.9"/>
<line x1="58" y1="600.76" x2="58" y2="593.55" stroke="#000" stroke-width="0.9"/>
<line x1="55.5" y1="593.55" x2="60.5" y2="593.55" stroke="#000" stroke-width="0.9"/>
<line x1="58" y1="594.4" x2="58" y2="589.82" stroke="#000" stroke-width="0.9"/>
<line x1="55.5" y1="589.82" x2="60.5" y2="589.82" stroke="#000" stroke-width="0.9"/>
<rect x="68.95" y="678.69" width="10.5" height="0.51" fill="#a6122e"/>
<rect x="68.95" y="606.02" width="10.5" height="72.67" fill="#2a4a7f"/>
<rect x="68.95" y="599.49" width="10.5" height="6.53" fill="#6aaa3e"/>
<rect x="68.95" y="594.4" width="10.5" height="5.09" fill="#4c2467"/>
<line x1="74.2" y1="678.69" x2="74.2" y2="677.93" stroke="#000" stroke-width="0.9"/>
<line x1="71.7" y1="677.93" x2="76.7" y2="677.93" stroke="#000" stroke-width="0.9"/>
<line x1="74.2" y1="606.02" x2="74.2" y2="603.3" stroke="#000" stroke-width="0.9"/>
<line x1="71.7" y1="603.3" x2="76.7" y2="603.3" stroke="#000" stroke-width="0.9"/>
<line x1="74.2" y1="599.49" x2="74.2" y2="598.13" stroke="#000" stroke-width="0.9"/>
<line x1="71.7" y1="598.13" x2="76.7" y2="598.13" stroke="#000" stroke-width="0.9"/>
<line x1="74.2" y1="594.4" x2="74.2" y2="591.86" stroke="#000" stroke-width="0.9"/>
<line x1="71.7" y1="591.86" x2="76.7" y2="591.86" stroke="#000" stroke-width="0.9"/>
<rect x="85.15" y="678.69" width="10.5" height="0.51" fill="#a6122e"/>
<rect x="85.15" y="616.36" width="10.5" height="62.33" fill="#2a4a7f"/>
<rect x="85.15" y="604.58" width="10.5" height="11.79" fill="#6aaa3e"/>
<rect x="85.15" y="594.4" width="10.5" height="10.18" fill="#4c2467"/>
<line x1="90.4" y1="678.69" x2="90.4" y2="678.18" stroke="#000" stroke-width="0.9"/>
<line x1="87.9" y1="678.18" x2="92.9" y2="678.18" stroke="#000" stroke-width="0.9"/>
<line x1="90.4" y1="616.36" x2="90.4" y2="608.82" stroke="#000" stroke-width="0.9"/>
<line x1="87.9" y1="608.82" x2="92.9" y2="608.82" stroke="#000" stroke-width="0.9"/>
<line x1="90.4" y1="604.58" x2="90.4" y2="600.84" stroke="#000" stroke-width="0.9"/>
<line x1="87.9" y1="600.84" x2="92.9" y2="600.84" stroke="#000" stroke-width="0.9"/>
<line x1="90.4" y1="594.4" x2="90.4" y2="590.16" stroke="#000" stroke-width="0.9"/>
<line x1="87.9" y1="590.16" x2="92.9" y2="590.16" stroke="#000" stroke-width="0.9"/>
<rect x="101.35" y="677.5" width="10.5" height="1.7" fill="#a6122e"/>
<rect x="101.35" y="658.59" width="10.5" height="18.91" fill="#2a4a7f"/>
<rect x="101.35" y="642.74" width="10.5" height="15.86" fill="#6aaa3e"/>
<rect x="101.35" y="594.4" width="10.5" height="48.34" fill="#4c2467"/>
<line x1="106.6" y1="677.5" x2="106.6" y2="676.49" stroke="#000" stroke-width="0.9"/>
<line x1="104.1" y1="676.49" x2="109.1" y2="676.49" stroke="#000" stroke-width="0.9"/>
<line x1="106.6" y1="658.59" x2="106.6" y2="653.08" stroke="#000" stroke-width="0.9"/>
<line x1="104.1" y1="653.08" x2="109.1" y2="653.08" stroke="#000" stroke-width="0.9"/>
<line x1="106.6" y1="642.74" x2="106.6" y2="641.04" stroke="#000" stroke-width="0.9"/>
<line x1="104.1" y1="641.04" x2="109.1" y2="641.04" stroke="#000" stroke-width="0.9"/>
<line x1="106.6" y1="594.4" x2="106.6" y2="587.28" stroke="#000" stroke-width="0.9"/>
<line x1="104.1" y1="587.28" x2="109.1" y2="587.28" stroke="#000" stroke-width="0.9"/>
<rect x="117.55" y="678.35" width="10.5" height="0.85" fill="#a6122e"/>
<rect x="117.55" y="663.85" width="10.5" height="14.5" fill="#2a4a7f"/>
<rect x="117.55" y="648.33" width="10.5" height="15.52" fill="#6aaa3e"/>
<rect x="117.55" y="594.4" width="10.5" height="53.93" fill="#4c2467"/>
<line x1="122.8" y1="678.35" x2="122.8" y2="677.5" stroke="#000" stroke-width="0.9"/>
<line x1="120.3" y1="677.5" x2="125.3" y2="677.5" stroke="#000" stroke-width="0.9"/>
<line x1="122.8" y1="663.85" x2="122.8" y2="655.46" stroke="#000" stroke-width="0.9"/>
<line x1="120.3" y1="655.46" x2="125.3" y2="655.46" stroke="#000" stroke-width="0.9"/>
<line x1="122.8" y1="648.33" x2="122.8" y2="646.47" stroke="#000" stroke-width="0.9"/>
<line x1="120.3" y1="646.47" x2="125.3" y2="646.47" stroke="#000" stroke-width="0.9"/>
<line x1="122.8" y1="594.4" x2="122.8" y2="583.97" stroke="#000" stroke-width="0.9"/>
<line x1="120.3" y1="583.97" x2="125.3" y2="583.97" stroke="#000" stroke-width="0.9"/>
<rect x="133.75" y="678.78" width="10.5" height="0.42" fill="#a6122e"/>
<rect x="133.75" y="668.18" width="10.5" height="10.6" fill="#2a4a7f"/>
<rect x="133.75" y="650.37" width="10.5" height="17.81" fill="#6aaa3e"/>
<rect x="133.75" y="594.4" width="10.5" height="55.97" fill="#4c2467"/>
<line x1="139" y1="678.78" x2="139" y2="678.18" stroke="#000" stroke-width="0.9"/>
<line x1="136.5" y1="678.18" x2="141.5" y2="678.18" stroke="#000" stroke-width="0.9"/>
<line x1="139" y1="668.18" x2="139" y2="663.68" stroke="#000" stroke-width="0.9"/>
<line x1="136.5" y1="663.68" x2="141.5" y2="663.68" stroke="#000" stroke-width="0.9"/>
<line x1="139" y1="650.37" x2="139" y2="646.55" stroke="#000" stroke-width="0.9"/>
<line x1="136.5" y1="646.55" x2="141.5" y2="646.55" stroke="#000" stroke-width="0.9"/>
<line x1="139" y1="594.4" x2="139" y2="585.41" stroke="#000" stroke-width="0.9"/>
<line x1="136.5" y1="585.41" x2="141.5" y2="585.41" stroke="#000" stroke-width="0.9"/>
<rect x="149.95" y="678.86" width="10.5" height="0.34" fill="#a6122e"/>
<rect x="149.95" y="673.09" width="10.5" height="5.77" fill="#2a4a7f"/>
<rect x="149.95" y="658.85" width="10.5" height="14.25" fill="#6aaa3e"/>
<rect x="149.95" y="594.4" width="10.5" height="64.45" fill="#4c2467"/>
<line x1="155.2" y1="678.86" x2="155.2" y2="678.35" stroke="#000" stroke-width="0.9"/>
<line x1="152.7" y1="678.35" x2="157.7" y2="678.35" stroke="#000" stroke-width="0.9"/>
<line x1="155.2" y1="673.09" x2="155.2" y2="670.21" stroke="#000" stroke-width="0.9"/>
<line x1="152.7" y1="670.21" x2="157.7" y2="670.21" stroke="#000" stroke-width="0.9"/>
<line x1="155.2" y1="658.85" x2="155.2" y2="656.3" stroke="#000" stroke-width="0.9"/>
<line x1="152.7" y1="656.3" x2="157.7" y2="656.3" stroke="#000" stroke-width="0.9"/>
<line x1="155.2" y1="594.4" x2="155.2" y2="589.31" stroke="#000" stroke-width="0.9"/>
<line x1="152.7" y1="589.31" x2="157.7" y2="589.31" stroke="#000" stroke-width="0.9"/>
<rect x="166.15" y="678.86" width="10.5" height="0.34" fill="#a6122e"/>
<rect x="166.15" y="673.26" width="10.5" height="5.6" fill="#2a4a7f"/>
<rect x="166.15" y="657.49" width="10.5" height="15.77" fill="#6aaa3e"/>
<rect x="166.15" y="594.4" width="10.5" height="63.09" fill="#4c2467"/>
<line x1="171.4" y1="678.86" x2="171.4" y2="678.35" stroke="#000" stroke-width="0.9"/>
<line x1="168.9" y1="678.35" x2="173.9" y2="678.35" stroke="#000" stroke-width="0.9"/>
<line x1="171.4" y1="673.26" x2="171.4" y2="670.72" stroke="#000" stroke-width="0.9"/>
<line x1="168.9" y1="670.72" x2="173.9" y2="670.72" stroke="#000" stroke-width="0.9"/>
<line x1="171.4" y1="657.49" x2="171.4" y2="654.01" stroke="#000" stroke-width="0.9"/>
<line x1="168.9" y1="654.01" x2="173.9" y2="654.01" stroke="#000" stroke-width="0.9"/>
<line x1="171.4" y1="594.4" x2="171.4" y2="588.46" stroke="#000" stroke-width="0.9"/>
<line x1="168.9" y1="588.46" x2="173.9" y2="588.46" stroke="#000" stroke-width="0.9"/>
<rect x="182.35" y="678.95" width="10.5" height="0.25" fill="#a6122e"/>
<rect x="182.35" y="674.28" width="10.5" height="4.66" fill="#2a4a7f"/>
<rect x="182.35" y="659.7" width="10.5" height="14.59" fill="#6aaa3e"/>
<rect x="182.35" y="594.4" width="10.5" height="65.3" fill="#4c2467"/>
<line x1="187.6" y1="678.95" x2="187.6" y2="678.35" stroke="#000" stroke-width="0.9"/>
<line x1="185.1" y1="678.35" x2="190.1" y2="678.35" stroke="#000" stroke-width="0.9"/>
<line x1="187.6" y1="674.28" x2="187.6" y2="671.4" stroke="#000" stroke-width="0.9"/>
<line x1="185.1" y1="671.4" x2="190.1" y2="671.4" stroke="#000" stroke-width="0.9"/>
<line x1="187.6" y1="659.7" x2="187.6" y2="655.46" stroke="#000" stroke-width="0.9"/>
<line x1="185.1" y1="655.46" x2="190.1" y2="655.46" stroke="#000" stroke-width="0.9"/>
<line x1="187.6" y1="594.4" x2="187.6" y2="588.12" stroke="#000" stroke-width="0.9"/>
<line x1="185.1" y1="588.12" x2="190.1" y2="588.12" stroke="#000" stroke-width="0.9"/>
<line x1="47.6" y1="578.7" x2="47.6" y2="679.7" stroke="#000" stroke-width="1"/>
<line x1="47.1" y1="679.2" x2="198.5" y2="679.2" stroke="#000" stroke-width="1"/>
<line x1="44.6" y1="679.2" x2="47.6" y2="679.2" stroke="#000" stroke-width="0.9"/>
<text x="41.7" y="681.9" font-size="7.5" text-anchor="end">0</text>
<line x1="44.6" y1="662.24" x2="47.6" y2="662.24" stroke="#000" stroke-width="0.9"/>
<text x="41.7" y="664.94" font-size="7.5" text-anchor="end">20</text>
<line x1="44.6" y1="645.28" x2="47.6" y2="645.28" stroke="#000" stroke-width="0.9"/>
<text x="41.7" y="647.98" font-size="7.5" text-anchor="end">40</text>
<line x1="44.6" y1="628.32" x2="47.6" y2="628.32" stroke="#000" stroke-width="0.9"/>
<text x="41.7" y="631.02" font-size="7.5" text-anchor="end">60</text>
<line x1="44.6" y1="611.36" x2="47.6" y2="611.36" stroke="#000" stroke-width="0.9"/>
<text x="41.7" y="614.06" font-size="7.5" text-anchor="end">80</text>
<line x1="44.6" y1="594.4" x2="47.6" y2="594.4" stroke="#000" stroke-width="0.9"/>
<text x="41.7" y="597.1" font-size="7.5" text-anchor="end">100</text>
<line x1="58" y1="679.2" x2="58" y2="682.2" stroke="#000" stroke-width="0.9"/>
<text x="58" y="692.7" font-size="7.5" text-anchor="middle">0</text>
<line x1="74.2" y1="679.2" x2="74.2" y2="682.2" stroke="#000" stroke-width="0.9"/>
<text x="74.2" y="692.7" font-size="7.5" text-anchor="middle">1</text>
<line x1="90.4" y1="679.2" x2="90.4" y2="682.2" stroke="#000" stroke-width="0.9"/>
<text x="90.4" y="692.7" font-size="7.5" text-anchor="middle">2</text>
<line x1="106.6" y1="679.2" x2="106.6" y2="682.2" stroke="#000" stroke-width="0.9"/>
<text x="106.6" y="692.7" font-size="7.5" text-anchor="middle">5</text>
<line x1="122.8" y1="679.2" x2="122.8" y2="682.2" stroke="#000" stroke-width="0.9"/>
<text x="122.8" y="692.7" font-size="7.5" text-anchor="middle">6</text>
<line x1="139" y1="679.2" x2="139" y2="682.2" stroke="#000" stroke-width="0.9"/>
<text x="139" y="692.7" font-size="7.5" text-anchor="middle">7</text>
<line x1="155.2" y1="679.2" x2="155.2" y2="682.2" stroke="#000" stroke-width="0.9"/>
<text x="155.2" y="692.7" font-size="7.5" text-anchor="middle">8</text>
<line x1="171.4" y1="679.2" x2="171.4" y2="682.2" stroke="#000" stroke-width="0.9"/>
<text x="171.4" y="692.7" font-size="7.5" text-anchor="middle">9</text>
<line x1="187.6" y1="679.2" x2="187.6" y2="682.2" stroke="#000" stroke-width="0.9"/>
<text x="187.6" y="692.7" font-size="7.5" text-anchor="middle">12</text>
<text x="122.8" y="576" font-size="8.2" text-anchor="middle">Culture dish</text>
<text x="25.2" y="629.7" font-size="9.1" text-anchor="middle" textLength="49" lengthAdjust="spacingAndGlyphs" transform="rotate(-90 25.2 629.7)" stroke="#111" stroke-width="0.28">Cells in gate (%)</text>
<text x="114.2" y="705.9" font-size="9.1" text-anchor="middle" textLength="49" lengthAdjust="spacingAndGlyphs" stroke="#111" stroke-width="0.28">Time (days in EM)</text>
<rect x="201.8" y="580.7" width="9" height="4.8" fill="#4c2467"/>
<text x="214" y="586.1" font-size="8.7" textLength="9.3" lengthAdjust="spacingAndGlyphs">P4</text>
<rect x="201.8" y="592.63" width="9" height="4.8" fill="#6aaa3e"/>
<text x="214" y="598.03" font-size="8.7" textLength="9.3" lengthAdjust="spacingAndGlyphs">P3</text>
<rect x="201.8" y="604.56" width="9" height="4.8" fill="#2a4a7f"/>
<text x="214" y="609.96" font-size="8.7" textLength="9.3" lengthAdjust="spacingAndGlyphs">P2</text>
<rect x="201.8" y="616.49" width="9" height="4.8" fill="#a6122e"/>
<text x="214" y="621.89" font-size="8.7" textLength="9.3" lengthAdjust="spacingAndGlyphs">P1</text>
<rect x="284" y="657.28" width="10.4" height="21.92" fill="#a6122e"/>
<rect x="284" y="610.97" width="10.4" height="46.31" fill="#2a4a7f"/>
<rect x="284" y="602.54" width="10.4" height="8.44" fill="#6aaa3e"/>
<rect x="284" y="596.5" width="10.4" height="6.04" fill="#4c2467"/>
<line x1="289.2" y1="657.28" x2="289.2" y2="645.79" stroke="#000" stroke-width="0.9"/>
<line x1="286.7" y1="645.79" x2="291.7" y2="645.79" stroke="#000" stroke-width="0.9"/>
<line x1="289.2" y1="610.97" x2="289.2" y2="598.57" stroke="#000" stroke-width="0.9"/>
<line x1="286.7" y1="598.57" x2="291.7" y2="598.57" stroke="#000" stroke-width="0.9"/>
<line x1="289.2" y1="602.54" x2="289.2" y2="595.26" stroke="#000" stroke-width="0.9"/>
<line x1="286.7" y1="595.26" x2="291.7" y2="595.26" stroke="#000" stroke-width="0.9"/>
<line x1="289.2" y1="596.5" x2="289.2" y2="592.7" stroke="#000" stroke-width="0.9"/>
<line x1="286.7" y1="592.7" x2="291.7" y2="592.7" stroke="#000" stroke-width="0.9"/>
<rect x="299.77" y="675.4" width="10.4" height="3.8" fill="#a6122e"/>
<rect x="299.77" y="623.79" width="10.4" height="51.6" fill="#2a4a7f"/>
<rect x="299.77" y="608.49" width="10.4" height="15.3" fill="#6aaa3e"/>
<rect x="299.77" y="596.5" width="10.4" height="11.99" fill="#4c2467"/>
<line x1="304.97" y1="675.4" x2="304.97" y2="673.25" stroke="#000" stroke-width="0.9"/>
<line x1="302.47" y1="673.25" x2="307.47" y2="673.25" stroke="#000" stroke-width="0.9"/>
<line x1="304.97" y1="623.79" x2="304.97" y2="616.76" stroke="#000" stroke-width="0.9"/>
<line x1="302.47" y1="616.76" x2="307.47" y2="616.76" stroke="#000" stroke-width="0.9"/>
<line x1="304.97" y1="608.49" x2="304.97" y2="603.12" stroke="#000" stroke-width="0.9"/>
<line x1="302.47" y1="603.12" x2="307.47" y2="603.12" stroke="#000" stroke-width="0.9"/>
<line x1="304.97" y1="596.5" x2="304.97" y2="596" stroke="#000" stroke-width="0.9"/>
<line x1="302.47" y1="596" x2="307.47" y2="596" stroke="#000" stroke-width="0.9"/>
<rect x="315.54" y="678.62" width="10.4" height="0.58" fill="#a6122e"/>
<rect x="315.54" y="623.46" width="10.4" height="55.16" fill="#2a4a7f"/>
<rect x="315.54" y="609.98" width="10.4" height="13.48" fill="#6aaa3e"/>
<rect x="315.54" y="596.5" width="10.4" height="13.48" fill="#4c2467"/>
<line x1="320.74" y1="678.62" x2="320.74" y2="677.96" stroke="#000" stroke-width="0.9"/>
<line x1="318.24" y1="677.96" x2="323.24" y2="677.96" stroke="#000" stroke-width="0.9"/>
<line x1="320.74" y1="623.46" x2="320.74" y2="621.56" stroke="#000" stroke-width="0.9"/>
<line x1="318.24" y1="621.56" x2="323.24" y2="621.56" stroke="#000" stroke-width="0.9"/>
<line x1="320.74" y1="609.98" x2="320.74" y2="609.07" stroke="#000" stroke-width="0.9"/>
<line x1="318.24" y1="609.07" x2="323.24" y2="609.07" stroke="#000" stroke-width="0.9"/>
<line x1="320.74" y1="596.5" x2="320.74" y2="594.52" stroke="#000" stroke-width="0.9"/>
<line x1="318.24" y1="594.52" x2="323.24" y2="594.52" stroke="#000" stroke-width="0.9"/>
<rect x="331.31" y="677.55" width="10.4" height="1.65" fill="#a6122e"/>
<rect x="331.31" y="658.69" width="10.4" height="18.86" fill="#2a4a7f"/>
<rect x="331.31" y="640.74" width="10.4" height="17.95" fill="#6aaa3e"/>
<rect x="331.31" y="596.5" width="10.4" height="44.24" fill="#4c2467"/>
<line x1="336.51" y1="677.55" x2="336.51" y2="676.72" stroke="#000" stroke-width="0.9"/>
<line x1="334.01" y1="676.72" x2="339.01" y2="676.72" stroke="#000" stroke-width="0.9"/>
<line x1="336.51" y1="658.69" x2="336.51" y2="652.74" stroke="#000" stroke-width="0.9"/>
<line x1="334.01" y1="652.74" x2="339.01" y2="652.74" stroke="#000" stroke-width="0.9"/>
<line x1="336.51" y1="640.74" x2="336.51" y2="638.68" stroke="#000" stroke-width="0.9"/>
<line x1="334.01" y1="638.68" x2="339.01" y2="638.68" stroke="#000" stroke-width="0.9"/>
<line x1="336.51" y1="596.5" x2="336.51" y2="593.27" stroke="#000" stroke-width="0.9"/>
<line x1="334.01" y1="593.27" x2="339.01" y2="593.27" stroke="#000" stroke-width="0.9"/>
<rect x="347.08" y="678.87" width="10.4" height="0.33" fill="#a6122e"/>
<rect x="347.08" y="666.13" width="10.4" height="12.74" fill="#2a4a7f"/>
<rect x="347.08" y="643.31" width="10.4" height="22.83" fill="#6aaa3e"/>
<rect x="347.08" y="596.5" width="10.4" height="46.81" fill="#4c2467"/>
<line x1="352.28" y1="678.87" x2="352.28" y2="678.37" stroke="#000" stroke-width="0.9"/>
<line x1="349.78" y1="678.37" x2="354.78" y2="678.37" stroke="#000" stroke-width="0.9"/>
<line x1="352.28" y1="666.13" x2="352.28" y2="662.08" stroke="#000" stroke-width="0.9"/>
<line x1="349.78" y1="662.08" x2="354.78" y2="662.08" stroke="#000" stroke-width="0.9"/>
<line x1="352.28" y1="643.31" x2="352.28" y2="639.26" stroke="#000" stroke-width="0.9"/>
<line x1="349.78" y1="639.26" x2="354.78" y2="639.26" stroke="#000" stroke-width="0.9"/>
<line x1="352.28" y1="596.5" x2="352.28" y2="590.96" stroke="#000" stroke-width="0.9"/>
<line x1="349.78" y1="590.96" x2="354.78" y2="590.96" stroke="#000" stroke-width="0.9"/>
<rect x="362.85" y="678.95" width="10.4" height="0.25" fill="#a6122e"/>
<rect x="362.85" y="665.8" width="10.4" height="13.15" fill="#2a4a7f"/>
<rect x="362.85" y="638.84" width="10.4" height="26.96" fill="#6aaa3e"/>
<rect x="362.85" y="596.5" width="10.4" height="42.34" fill="#4c2467"/>
<line x1="368.05" y1="678.95" x2="368.05" y2="678.37" stroke="#000" stroke-width="0.9"/>
<line x1="365.55" y1="678.37" x2="370.55" y2="678.37" stroke="#000" stroke-width="0.9"/>
<line x1="368.05" y1="665.8" x2="368.05" y2="662.08" stroke="#000" stroke-width="0.9"/>
<line x1="365.55" y1="662.08" x2="370.55" y2="662.08" stroke="#000" stroke-width="0.9"/>
<line x1="368.05" y1="638.84" x2="368.05" y2="636.69" stroke="#000" stroke-width="0.9"/>
<line x1="365.55" y1="636.69" x2="370.55" y2="636.69" stroke="#000" stroke-width="0.9"/>
<line x1="368.05" y1="596.5" x2="368.05" y2="591.7" stroke="#000" stroke-width="0.9"/>
<line x1="365.55" y1="591.7" x2="370.55" y2="591.7" stroke="#000" stroke-width="0.9"/>
<rect x="378.62" y="678.95" width="10.4" height="0.25" fill="#a6122e"/>
<rect x="378.62" y="667.7" width="10.4" height="11.25" fill="#2a4a7f"/>
<rect x="378.62" y="640.99" width="10.4" height="26.71" fill="#6aaa3e"/>
<rect x="378.62" y="596.5" width="10.4" height="44.49" fill="#4c2467"/>
<line x1="383.82" y1="678.95" x2="383.82" y2="678.37" stroke="#000" stroke-width="0.9"/>
<line x1="381.32" y1="678.37" x2="386.32" y2="678.37" stroke="#000" stroke-width="0.9"/>
<line x1="383.82" y1="667.7" x2="383.82" y2="662.66" stroke="#000" stroke-width="0.9"/>
<line x1="381.32" y1="662.66" x2="386.32" y2="662.66" stroke="#000" stroke-width="0.9"/>
<line x1="383.82" y1="640.99" x2="383.82" y2="638.26" stroke="#000" stroke-width="0.9"/>
<line x1="381.32" y1="638.26" x2="386.32" y2="638.26" stroke="#000" stroke-width="0.9"/>
<line x1="383.82" y1="596.5" x2="383.82" y2="589.64" stroke="#000" stroke-width="0.9"/>
<line x1="381.32" y1="589.64" x2="386.32" y2="589.64" stroke="#000" stroke-width="0.9"/>
<rect x="394.39" y="678.95" width="10.4" height="0.25" fill="#a6122e"/>
<rect x="394.39" y="669.44" width="10.4" height="9.51" fill="#2a4a7f"/>
<rect x="394.39" y="639.83" width="10.4" height="29.61" fill="#6aaa3e"/>
<rect x="394.39" y="596.5" width="10.4" height="43.33" fill="#4c2467"/>
<line x1="399.59" y1="678.95" x2="399.59" y2="678.37" stroke="#000" stroke-width="0.9"/>
<line x1="397.09" y1="678.37" x2="402.09" y2="678.37" stroke="#000" stroke-width="0.9"/>
<line x1="399.59" y1="669.44" x2="399.59" y2="664.64" stroke="#000" stroke-width="0.9"/>
<line x1="397.09" y1="664.64" x2="402.09" y2="664.64" stroke="#000" stroke-width="0.9"/>
<line x1="399.59" y1="639.83" x2="399.59" y2="635.95" stroke="#000" stroke-width="0.9"/>
<line x1="397.09" y1="635.95" x2="402.09" y2="635.95" stroke="#000" stroke-width="0.9"/>
<line x1="399.59" y1="596.5" x2="399.59" y2="588.64" stroke="#000" stroke-width="0.9"/>
<line x1="397.09" y1="588.64" x2="402.09" y2="588.64" stroke="#000" stroke-width="0.9"/>
<rect x="410.16" y="678.79" width="10.4" height="0.41" fill="#a6122e"/>
<rect x="410.16" y="672.09" width="10.4" height="6.7" fill="#2a4a7f"/>
<rect x="410.16" y="642.89" width="10.4" height="29.19" fill="#6aaa3e"/>
<rect x="410.16" y="596.5" width="10.4" height="46.39" fill="#4c2467"/>
<line x1="415.36" y1="678.79" x2="415.36" y2="678.21" stroke="#000" stroke-width="0.9"/>
<line x1="412.86" y1="678.21" x2="417.86" y2="678.21" stroke="#000" stroke-width="0.9"/>
<line x1="415.36" y1="672.09" x2="415.36" y2="669.44" stroke="#000" stroke-width="0.9"/>
<line x1="412.86" y1="669.44" x2="417.86" y2="669.44" stroke="#000" stroke-width="0.9"/>
<line x1="415.36" y1="642.89" x2="415.36" y2="638.02" stroke="#000" stroke-width="0.9"/>
<line x1="412.86" y1="638.02" x2="417.86" y2="638.02" stroke="#000" stroke-width="0.9"/>
<line x1="415.36" y1="596.5" x2="415.36" y2="589.22" stroke="#000" stroke-width="0.9"/>
<line x1="412.86" y1="589.22" x2="417.86" y2="589.22" stroke="#000" stroke-width="0.9"/>
<line x1="278.8" y1="581.2" x2="278.8" y2="679.7" stroke="#000" stroke-width="1"/>
<line x1="278.3" y1="679.2" x2="430" y2="679.2" stroke="#000" stroke-width="1"/>
<line x1="275.8" y1="679.2" x2="278.8" y2="679.2" stroke="#000" stroke-width="0.9"/>
<text x="273.3" y="681.9" font-size="7.5" text-anchor="end">0</text>
<line x1="275.8" y1="662.66" x2="278.8" y2="662.66" stroke="#000" stroke-width="0.9"/>
<text x="273.3" y="665.36" font-size="7.5" text-anchor="end">20</text>
<line x1="275.8" y1="646.12" x2="278.8" y2="646.12" stroke="#000" stroke-width="0.9"/>
<text x="273.3" y="648.82" font-size="7.5" text-anchor="end">40</text>
<line x1="275.8" y1="629.58" x2="278.8" y2="629.58" stroke="#000" stroke-width="0.9"/>
<text x="273.3" y="632.28" font-size="7.5" text-anchor="end">60</text>
<line x1="275.8" y1="613.04" x2="278.8" y2="613.04" stroke="#000" stroke-width="0.9"/>
<text x="273.3" y="615.74" font-size="7.5" text-anchor="end">80</text>
<line x1="275.8" y1="596.5" x2="278.8" y2="596.5" stroke="#000" stroke-width="0.9"/>
<text x="273.3" y="599.2" font-size="7.5" text-anchor="end">100</text>
<line x1="289.2" y1="679.2" x2="289.2" y2="682.2" stroke="#000" stroke-width="0.9"/>
<text x="289.2" y="692.7" font-size="7.5" text-anchor="middle">0</text>
<line x1="304.97" y1="679.2" x2="304.97" y2="682.2" stroke="#000" stroke-width="0.9"/>
<text x="304.97" y="692.7" font-size="7.5" text-anchor="middle">1</text>
<line x1="320.74" y1="679.2" x2="320.74" y2="682.2" stroke="#000" stroke-width="0.9"/>
<text x="320.74" y="692.7" font-size="7.5" text-anchor="middle">2</text>
<line x1="336.51" y1="679.2" x2="336.51" y2="682.2" stroke="#000" stroke-width="0.9"/>
<text x="336.51" y="692.7" font-size="7.5" text-anchor="middle">5</text>
<line x1="352.28" y1="679.2" x2="352.28" y2="682.2" stroke="#000" stroke-width="0.9"/>
<text x="352.28" y="692.7" font-size="7.5" text-anchor="middle">6</text>
<line x1="368.05" y1="679.2" x2="368.05" y2="682.2" stroke="#000" stroke-width="0.9"/>
<text x="368.05" y="692.7" font-size="7.5" text-anchor="middle">7</text>
<line x1="383.82" y1="679.2" x2="383.82" y2="682.2" stroke="#000" stroke-width="0.9"/>
<text x="383.82" y="692.7" font-size="7.5" text-anchor="middle">8</text>
<line x1="399.59" y1="679.2" x2="399.59" y2="682.2" stroke="#000" stroke-width="0.9"/>
<text x="399.59" y="692.7" font-size="7.5" text-anchor="middle">9</text>
<line x1="415.36" y1="679.2" x2="415.36" y2="682.2" stroke="#000" stroke-width="0.9"/>
<text x="415.36" y="692.7" font-size="7.5" text-anchor="middle">12</text>
<text x="354.4" y="576" font-size="8.2" text-anchor="middle">G-Rex</text>
<text x="257.4" y="629.7" font-size="9.1" text-anchor="middle" textLength="49" lengthAdjust="spacingAndGlyphs" transform="rotate(-90 257.4 629.7)" stroke="#111" stroke-width="0.28">Cells in gate (%)</text>
<text x="345.8" y="705.9" font-size="9.1" text-anchor="middle" textLength="49" lengthAdjust="spacingAndGlyphs" stroke="#111" stroke-width="0.28">Time (days in EM)</text>
<rect x="433.1" y="582.9" width="9" height="4.8" fill="#4c2467"/>
<text x="445.3" y="588.3" font-size="8.7" textLength="9.3" lengthAdjust="spacingAndGlyphs">P4</text>
<rect x="433.1" y="594.83" width="9" height="4.8" fill="#6aaa3e"/>
<text x="445.3" y="600.23" font-size="8.7" textLength="9.3" lengthAdjust="spacingAndGlyphs">P3</text>
<rect x="433.1" y="606.76" width="9" height="4.8" fill="#2a4a7f"/>
<text x="445.3" y="612.16" font-size="8.7" textLength="9.3" lengthAdjust="spacingAndGlyphs">P2</text>
<rect x="433.1" y="618.69" width="9" height="4.8" fill="#a6122e"/>
<text x="445.3" y="624.09" font-size="8.7" textLength="9.3" lengthAdjust="spacingAndGlyphs">P1</text>
</svg>
</div>
</body></html>
